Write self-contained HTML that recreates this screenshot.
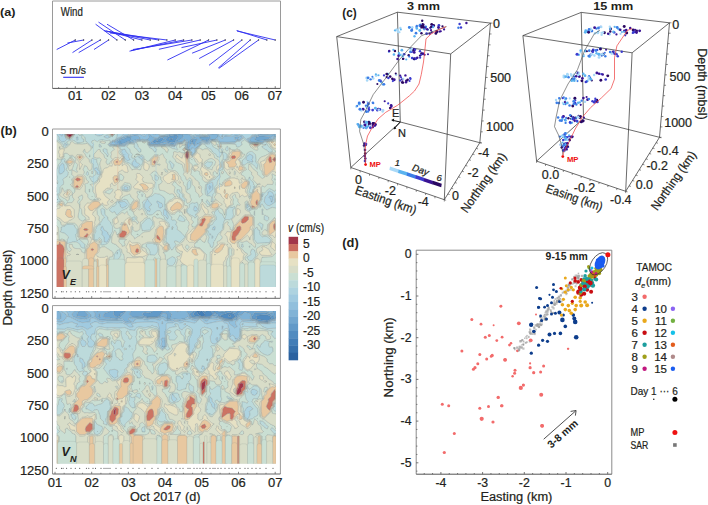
<!DOCTYPE html>
<html><head><meta charset="utf-8"><style>
html,body{margin:0;padding:0;background:#fff;overflow:hidden;width:708px;height:505px;}
svg{display:block;font-family:"Liberation Sans",sans-serif;}
</style></head><body>
<svg width="708" height="505" viewBox="0 0 708 505">
<rect width="708" height="505" fill="#fff"/>
<text x="0" y="16" font-size="11.5" text-anchor="start" font-weight="bold" font-style="normal" fill="#231f20" textLength="15.5" lengthAdjust="spacingAndGlyphs">(a)</text>
<line x1="52.50" y1="1.00" x2="280.50" y2="1.00" stroke="#9a9a9a" stroke-width="1"/>
<line x1="52.50" y1="1.00" x2="52.50" y2="88.40" stroke="#9a9a9a" stroke-width="1"/>
<line x1="280.50" y1="1.00" x2="280.50" y2="88.40" stroke="#9a9a9a" stroke-width="1"/>
<line x1="52.50" y1="88.40" x2="280.50" y2="88.40" stroke="#555" stroke-width="1"/>
<text x="60.8" y="15.5" font-size="12" text-anchor="start" font-weight="normal" font-style="normal" fill="#231f20" stroke="#231f20" stroke-width="0.22" textLength="22" lengthAdjust="spacingAndGlyphs">Wind</text>
<line x1="58.64" y1="88.40" x2="58.64" y2="87.20" stroke="#555" stroke-width="0.8"/>
<line x1="66.97" y1="88.40" x2="66.97" y2="87.20" stroke="#555" stroke-width="0.8"/>
<line x1="75.30" y1="88.40" x2="75.30" y2="86.20" stroke="#555" stroke-width="0.8"/>
<line x1="83.63" y1="88.40" x2="83.63" y2="87.20" stroke="#555" stroke-width="0.8"/>
<line x1="91.96" y1="88.40" x2="91.96" y2="87.20" stroke="#555" stroke-width="0.8"/>
<line x1="100.29" y1="88.40" x2="100.29" y2="87.20" stroke="#555" stroke-width="0.8"/>
<line x1="108.62" y1="88.40" x2="108.62" y2="86.20" stroke="#555" stroke-width="0.8"/>
<line x1="116.95" y1="88.40" x2="116.95" y2="87.20" stroke="#555" stroke-width="0.8"/>
<line x1="125.28" y1="88.40" x2="125.28" y2="87.20" stroke="#555" stroke-width="0.8"/>
<line x1="133.61" y1="88.40" x2="133.61" y2="87.20" stroke="#555" stroke-width="0.8"/>
<line x1="141.94" y1="88.40" x2="141.94" y2="86.20" stroke="#555" stroke-width="0.8"/>
<line x1="150.27" y1="88.40" x2="150.27" y2="87.20" stroke="#555" stroke-width="0.8"/>
<line x1="158.60" y1="88.40" x2="158.60" y2="87.20" stroke="#555" stroke-width="0.8"/>
<line x1="166.93" y1="88.40" x2="166.93" y2="87.20" stroke="#555" stroke-width="0.8"/>
<line x1="175.26" y1="88.40" x2="175.26" y2="86.20" stroke="#555" stroke-width="0.8"/>
<line x1="183.59" y1="88.40" x2="183.59" y2="87.20" stroke="#555" stroke-width="0.8"/>
<line x1="191.92" y1="88.40" x2="191.92" y2="87.20" stroke="#555" stroke-width="0.8"/>
<line x1="200.25" y1="88.40" x2="200.25" y2="87.20" stroke="#555" stroke-width="0.8"/>
<line x1="208.58" y1="88.40" x2="208.58" y2="86.20" stroke="#555" stroke-width="0.8"/>
<line x1="216.91" y1="88.40" x2="216.91" y2="87.20" stroke="#555" stroke-width="0.8"/>
<line x1="225.24" y1="88.40" x2="225.24" y2="87.20" stroke="#555" stroke-width="0.8"/>
<line x1="233.57" y1="88.40" x2="233.57" y2="87.20" stroke="#555" stroke-width="0.8"/>
<line x1="241.90" y1="88.40" x2="241.90" y2="86.20" stroke="#555" stroke-width="0.8"/>
<line x1="250.23" y1="88.40" x2="250.23" y2="87.20" stroke="#555" stroke-width="0.8"/>
<line x1="258.56" y1="88.40" x2="258.56" y2="87.20" stroke="#555" stroke-width="0.8"/>
<line x1="266.89" y1="88.40" x2="266.89" y2="87.20" stroke="#555" stroke-width="0.8"/>
<line x1="275.22" y1="88.40" x2="275.22" y2="86.20" stroke="#555" stroke-width="0.8"/>
<text x="75.3" y="100.3" font-size="13" text-anchor="middle" font-weight="normal" font-style="normal" fill="#231f20" stroke="#231f20" stroke-width="0.22">01</text>
<text x="108.6" y="100.3" font-size="13" text-anchor="middle" font-weight="normal" font-style="normal" fill="#231f20" stroke="#231f20" stroke-width="0.22">02</text>
<text x="141.89999999999998" y="100.3" font-size="13" text-anchor="middle" font-weight="normal" font-style="normal" fill="#231f20" stroke="#231f20" stroke-width="0.22">03</text>
<text x="175.2" y="100.3" font-size="13" text-anchor="middle" font-weight="normal" font-style="normal" fill="#231f20" stroke="#231f20" stroke-width="0.22">04</text>
<text x="208.5" y="100.3" font-size="13" text-anchor="middle" font-weight="normal" font-style="normal" fill="#231f20" stroke="#231f20" stroke-width="0.22">05</text>
<text x="241.8" y="100.3" font-size="13" text-anchor="middle" font-weight="normal" font-style="normal" fill="#231f20" stroke="#231f20" stroke-width="0.22">06</text>
<text x="275.09999999999997" y="100.3" font-size="13" text-anchor="middle" font-weight="normal" font-style="normal" fill="#231f20" stroke="#231f20" stroke-width="0.22">07</text>
<line x1="75.30" y1="40.00" x2="56.70" y2="49.50" stroke="#2f2ff0" stroke-width="0.9"/>
<line x1="83.63" y1="40.00" x2="67.40" y2="43.00" stroke="#2f2ff0" stroke-width="0.9"/>
<line x1="91.96" y1="40.00" x2="72.50" y2="52.60" stroke="#2f2ff0" stroke-width="0.9"/>
<line x1="100.29" y1="40.00" x2="78.70" y2="52.60" stroke="#2f2ff0" stroke-width="0.9"/>
<line x1="108.62" y1="40.00" x2="94.00" y2="49.50" stroke="#2f2ff0" stroke-width="0.9"/>
<line x1="116.95" y1="40.00" x2="95.60" y2="24.20" stroke="#2f2ff0" stroke-width="0.9"/>
<line x1="125.28" y1="40.00" x2="98.50" y2="22.10" stroke="#2f2ff0" stroke-width="0.9"/>
<line x1="133.61" y1="40.00" x2="107.00" y2="24.20" stroke="#2f2ff0" stroke-width="0.9"/>
<line x1="141.94" y1="40.00" x2="104.00" y2="30.50" stroke="#2f2ff0" stroke-width="0.9"/>
<line x1="150.27" y1="40.00" x2="106.00" y2="31.00" stroke="#2f2ff0" stroke-width="0.9"/>
<line x1="158.60" y1="40.00" x2="108.00" y2="31.50" stroke="#2f2ff0" stroke-width="0.9"/>
<line x1="166.93" y1="40.00" x2="110.00" y2="33.00" stroke="#2f2ff0" stroke-width="0.9"/>
<line x1="175.26" y1="40.00" x2="129.50" y2="51.20" stroke="#2f2ff0" stroke-width="0.9"/>
<line x1="183.59" y1="40.00" x2="131.00" y2="50.50" stroke="#2f2ff0" stroke-width="0.9"/>
<line x1="191.92" y1="40.00" x2="133.00" y2="49.50" stroke="#2f2ff0" stroke-width="0.9"/>
<line x1="200.25" y1="40.00" x2="158.90" y2="49.30" stroke="#2f2ff0" stroke-width="0.9"/>
<line x1="208.58" y1="40.00" x2="167.40" y2="60.00" stroke="#2f2ff0" stroke-width="0.9"/>
<line x1="216.91" y1="40.00" x2="181.50" y2="47.60" stroke="#2f2ff0" stroke-width="0.9"/>
<line x1="225.24" y1="40.00" x2="192.10" y2="53.20" stroke="#2f2ff0" stroke-width="0.9"/>
<line x1="233.57" y1="40.00" x2="199.20" y2="58.50" stroke="#2f2ff0" stroke-width="0.9"/>
<line x1="241.90" y1="40.00" x2="209.00" y2="65.30" stroke="#2f2ff0" stroke-width="0.9"/>
<line x1="250.23" y1="40.00" x2="218.20" y2="68.10" stroke="#2f2ff0" stroke-width="0.9"/>
<line x1="258.56" y1="40.00" x2="219.00" y2="68.30" stroke="#2f2ff0" stroke-width="0.9"/>
<line x1="266.89" y1="40.00" x2="236.60" y2="30.50" stroke="#2f2ff0" stroke-width="0.9"/>
<line x1="275.22" y1="40.00" x2="237.00" y2="31.00" stroke="#2f2ff0" stroke-width="0.9"/>
<circle cx="75.30" cy="40.00" r="0.7" fill="#333"/>
<circle cx="83.63" cy="40.00" r="0.7" fill="#333"/>
<circle cx="91.96" cy="40.00" r="0.7" fill="#333"/>
<circle cx="100.29" cy="40.00" r="0.7" fill="#333"/>
<circle cx="108.62" cy="40.00" r="0.7" fill="#333"/>
<circle cx="116.95" cy="40.00" r="0.7" fill="#333"/>
<circle cx="125.28" cy="40.00" r="0.7" fill="#333"/>
<circle cx="133.61" cy="40.00" r="0.7" fill="#333"/>
<circle cx="141.94" cy="40.00" r="0.7" fill="#333"/>
<circle cx="150.27" cy="40.00" r="0.7" fill="#333"/>
<circle cx="158.60" cy="40.00" r="0.7" fill="#333"/>
<circle cx="166.93" cy="40.00" r="0.7" fill="#333"/>
<circle cx="175.26" cy="40.00" r="0.7" fill="#333"/>
<circle cx="183.59" cy="40.00" r="0.7" fill="#333"/>
<circle cx="191.92" cy="40.00" r="0.7" fill="#333"/>
<circle cx="200.25" cy="40.00" r="0.7" fill="#333"/>
<circle cx="208.58" cy="40.00" r="0.7" fill="#333"/>
<circle cx="216.91" cy="40.00" r="0.7" fill="#333"/>
<circle cx="225.24" cy="40.00" r="0.7" fill="#333"/>
<circle cx="233.57" cy="40.00" r="0.7" fill="#333"/>
<circle cx="241.90" cy="40.00" r="0.7" fill="#333"/>
<circle cx="250.23" cy="40.00" r="0.7" fill="#333"/>
<circle cx="258.56" cy="40.00" r="0.7" fill="#333"/>
<circle cx="266.89" cy="40.00" r="0.7" fill="#333"/>
<circle cx="275.22" cy="40.00" r="0.7" fill="#333"/>
<text x="60.6" y="74" font-size="11" text-anchor="start" font-weight="normal" font-style="normal" fill="#231f20" stroke="#231f20" stroke-width="0.22" textLength="25.4" lengthAdjust="spacingAndGlyphs">5 m/s</text>
<line x1="63.20" y1="77.30" x2="83.90" y2="77.30" stroke="#2f2ff0" stroke-width="1.1"/>
<text x="0.5" y="135" font-size="12.5" text-anchor="start" font-weight="bold" font-style="normal" fill="#231f20" textLength="16.3" lengthAdjust="spacingAndGlyphs">(b)</text>
<clipPath id="cpT"><rect x="56.7" y="134.0" width="219.3" height="153.0"/></clipPath>
<clipPath id="cpB"><rect x="56.7" y="311" width="219.3" height="152.5"/></clipPath>
<g clip-path="url(#cpT)">
<path d="M174.7 136.9l0 .4 -.6-.3 .6-.1zM169.7 138.3l2.5 0 .8 1.2 -.8 .4 -2.5-.2 -.4-.2 .4-1.2z" fill="#518bc0" fill-rule="evenodd" stroke="#6e7a78" stroke-width="0.3" stroke-opacity="0.7"/>
<path d="M162.2 137l1.9 2.5 -3.7 2.5 -3.2 .1 -2.5 1.1 -2.5-1 2.5-2.9 1.7 .2 .8 2.1 .9-2.1 4.1-2.5zM169.7 136l7.5-1.4 .9 2.4 -3.4 4.9 -2.5 .8 -5-1.2 -1.8-2 2.2-2.5 2.1-1zM174.1 137l.6 .3 .1-.3 -.7 0zM169.3 139.5l2.9 .4 .8-.4 -.8-1.2 -2.5 0 -.4 1.2zM192.2 139.4l.5 .1 .5 2.5 -1 .4 -1.2-.4 1.2-2.6zM207.2 139.1l0 .6 -.8-.2 .8-.4zM119.7 141.7l1.5 .3 -1.5 .3 -.4-.3 .4-.3z" fill="#6199c8" fill-rule="evenodd" stroke="#6e7a78" stroke-width="0.3" stroke-opacity="0.7"/>
<path d="M172.2 134.3l5-.5 5 .5 .8 .2 .4 2.5 -3 2.5 -3.2 1.8 -2.5 2.3 -2.3 .9 -5.2-1.7 -2.5-.3 -7.2 2 -7.9 0 1.3-2.5 3.8-3.6 2.5 .4 2.5-2.2 7.5-.5 2.5-1.3 2.5-.5zM161.9 137l-3.8 2.5 -.9 2.1 -.8-2.1 -1.7-.2 -2.5 2.9 2.5 1 2.5-1.1 3.2-.1 3.7-2.5 -1.6-2.5 -.6 0zM167.6 137l-2.2 2.5 1.8 2 5 1.2 2.5-.8 3.4-4.9 -.9-2.4 -7.5 1.4 -2.1 1zM127.2 136.8l3.4 .2 .9 2.5 -1.8 1.5 -2.5 .7 -2.5 1.5 -5 1.2 -3.3-2.4 3.8-2.5 4.5-1.2 2.5-1.5zM119.3 142l1.9 0 -1.9 0zM199.7 136.9l7.5-.2 2.5-.8 1 1.1 -1.4 2.5 -2.1 1.7 -6.5-1.7 -1.4-2.5 .4-.1zM206.4 139.5l1 0 -.2-.4 -.8 .4zM257.2 136.9l2.5-1.1 10 .6 .6 .6 -2.1 2.5 -11 1.7 -2.4-1.7 1.2-2.5 1.2-.1zM192.2 138.5l2.5 .1 3 .9 -2.1 2.5 -.3 2.5 -.6 .5 -2.5-1.8 -2.5 1.5 -.3-.2 -.2-2.5 .5-1.3 .7-1.2 1.8-1zM192 139.5l-1 2.5 1.2 .4 1-.4 -.5-2.5 -.7 0z" fill="#71a6cf" fill-rule="evenodd" stroke="#6e7a78" stroke-width="0.3" stroke-opacity="0.7"/>
<path d="M149.7 134.3l.7 .2 2.3 2.5 4.5 .9 2.5-1.9 5-.1 5-2 5-.8 15 1.1 1.3 2.8 1.2 .5 5-1.2 10-.3 2.5-1.8 7.5-.5 .7 .8 .2 2.5 -3.2 2.5 -5.2 .7 -2.5 2.1 -5-1.7 -2.2 1.4 -.3 1.7 -2.5 .3 -2.5 2.2 -2.5-2.2 -.9 .5 -1.6 2.3 -1 .2 1 1.2 0 1.3 -1 0 -1.5-1.2 -.1-3.8 1.1-2.5 -1-1.9 -2.5-.5 -2.5 2.4 -5 .4 -2.5 2.4 -2.5 .3 -2.5-.4 -2.5-1.1 -2.5 1.1 -15 .4 -.6-.6 .6-2.9 -2.8-2.1 2.2-2.5 -1-2.5 1.6-.2zM171.1 134.5l-3.9 1.6 -7.5 .5 -2.5 2.2 -2.5-.4 -3.8 3.6 -1.3 2.5 7.9 0 7.2-2 2.5 .3 5.2 1.7 2.3-.9 2.5-2.3 3.2-1.8 3-2.5 -.4-2.5 -.8-.2 -5-.5 -6.1 .7zM199.3 137l1.4 2.5 6.5 1.7 2.1-1.7 1.4-2.5 -1-1.1 -2.5 .8 -7.9 .3zM190.4 139.5l-1.2 2.5 .2 2.5 .3 .2 2.5-1.5 2.5 1.8 .6-.5 .3-2.5 2.1-2.5 -3-.9 -2.5-.1 -1.8 1zM259.7 134.1l10 .4 5-.4 .7 .4 -.7 2.5 -2.5-.8 -2 3.3 -5.5 .8 -2.5 2 -11.8-.3 -.8-2.5 2.6-2.7 5-1 2.5-1.7zM256 137l-1.2 2.5 2.4 1.7 11-1.7 2.1-2.5 -.6-.6 -10-.6 -3.7 1.2zM124.7 136.6l2.5-.6 2.5 .2 5-1.1 2.5 .2 2.4 1.7 .5 2.5 -2.9 .1 -5 1.3 -1.3 1.1 -3.7 .6 -2.5 2 -5 .4 -3.3-.5 -2.4-2.5 3.9-2.5 6.8-2.9zM126.6 137l-1.9 1.3 -4.5 1.2 -3.8 2.5 3.3 2.4 5-1.2 2.5-1.5 2.5-.7 1.8-1.5 -.9-2.5 -4 0zM234.7 136.9l2.5-.4 1.8 .5 -1.1 2.5 -3.2 .1 0-2.7z" fill="#81b3d6" fill-rule="evenodd" stroke="#6e7a78" stroke-width="0.3" stroke-opacity="0.7"/>
<path d="M132.2 134.1l2.5-.5 6.2 .9 3.8 1.9 2.5-3 2.5-.4 5 1.2 2.5-.7 2.5 1.9 5-.1 2.5-1.4 7.5-1.7 15 1.1 2.5 3.1 5-1.6 7.5 .9 2.5-.4 2.5-1.9 5-.3 2.5-.7 3.2 4.6 1.8 1.8 2.5-2.8 7.5 .4 2.5-1.4 2.5 0 5 1.5 .5 .5 -3 2.9 -2.5 .3 -2.5 1.8 -7.5 .4 -7.5-.2 -1.7-2.7 -.8-.2 -2.5 .7 -2.5 0 -2.5 1 -2.5 2 -5-1.7 -1.1 .7 -.9 2.5 -3 2.9 -2.5 1.6 -2.5-1.4 -.6 1.9 -1.9 .5 -2.8-.5 -.2-5 .6-2.5 -2.6-1.8 -2.5 2.3 -5 .5 -2.5 2.5 -5-.2 -2.5-.8 -2.5 .6 -15 .5 -1-1.1 .5-2.5 -2-1.9 -5-.7 -2.5 .8 -2.5-.1 -3.5 1.9 -6.5 1.4 -2.5 1.9 -5 .2 -9.4-1 1.9-2.6 2.5-.7 2.5-2.3 5-1.9 2.5-1.7 5 .1 2.5-1.3zM148.1 134.5l1 2.5 -2.2 2.5 2.8 2.1 -.6 2.9 .6 .6 15-.4 2.5-1.1 2.5 1.1 2.5 .4 2.5-.3 2.5-2.4 5-.4 2.5-2.4 2.5 .5 1 1.9 -1.1 2.5 .1 3.8 1.5 1.2 1 0 0-1.3 -1-1.2 1-.2 1.6-2.3 .9-.5 2.5 2.2 2.5-2.2 2.5-.3 .3-1.7 2.2-1.4 5 1.7 2.5-2.1 5.2-.7 3.2-2.5 -.2-2.5 -.7-.8 -7.5 .5 -2.5 1.8 -10 .3 -5 1.2 -1.2-.5 -1.3-2.8 -12.5-1.1 -2.5 0 -5 .8 -5 2 -5 .1 -2.5 1.9 -4.5-.9 -2.3-2.5 -2.3 0zM124.1 137l-6.2 2.5 -3.9 2.5 2.4 2.5 3.3 .5 5-.4 2.5-2 3.7-.6 1.3-1.1 5-1.3 2.9-.1 -.5-2.5 -2.4-1.7 -2.5-.2 -5 1.1 -2.5-.2 -3.1 1zM234.5 137l.1 2.5 2.6 .1 .7-.1 1.1-2.5 -1.8-.5 -2.7 .5zM197.2 132l.5 0 -.5 1 -.4-1 .4 0zM259.7 133.3l7.5 .4 7.5-.5 2 1.3 -.9 2.5 -3.6 1.6 -.7 .9 -6.8 1.5 -2.5 1.8 -12.5-.3 -.6-.5 -.9-2.5 1.5-1 2.5-2.8 5-.9 2.5-1.5zM259 134.5l-1.8 1.3 -5 1 -2.6 2.7 .8 2.5 11.8 .3 2.5-2 5.5-.8 2-3.3 2.5 .8 .7-2.5 -.7-.4 -5 .4 -10-.4 -.7 .4z" fill="#91bfdc" fill-rule="evenodd" stroke="#6e7a78" stroke-width="0.3" stroke-opacity="0.7"/>
<path d="M59.7 132l4.3 0 -1.8 4.3 -2.9-1.8 -.2-2.5 .6 0zM122.2 132l5.8 0 .3 2.5 1.4 .2 2.5-2.3 2.5 0 10 1.6 2.5-1.8 1.1-.2 6.4 .7 2.5-.6 2 2.4 3 .3 2.5-.2 2.5-2 3.7-.6 16.5 0 2.3 .5 2.5 2.7 3-.7 -.6-2.5 2.2 0 .4 1 .5-1 2.5 0 -.3 2.5 4.8 .7 2.5-.6 2.5-2.1 13.4-.5 -.4 2.5 7 .9 2.2-.9 -.1-2.5 6.5 0 1 2.5 2.9 .6 1.8 1.9 -4.3 3.7 -2.5 .2 -2.5 1.9 -15-.2 -2.5-2.4 -5 .2 -5 3.3 -5-1.7 -1.4 2.5 -5.6 5 -.1 2.5 -2.9 3.1 -.4-.6 .1-2.5 -2.2-1.6 -3.1-.9 -.6-2.5 .5-5 -1.8-1.3 -2.5 2.3 -5 .6 -2.5 2.6 -5-.4 -2.5-.6 -17.5 .9 -1.5-1.6 .4-2.5 -1.4-1.4 -5-.5 -2.5 .6 -2.5-.1 -2.5 2.1 -5 .5 -2.5 .9 -2.5 1.8 -5 .2 -5-.9 -5-.1 -.6-.6 3.1-3.4 2.5-.5 2.5-2.7 3.5-.9 2.1-2.5 -.9-2.5 .3 0zM131.8 134.5l-2.1 .9 -5-.1 -2.5 1.7 -5 1.9 -2.5 2.3 -2.5 .7 -1.9 2.6 9.4 1 5-.2 2.5-1.9 6.5-1.4 3.5-1.9 2.5 .1 2.5-.8 5 .7 2 1.9 -.5 2.5 1 1.1 15-.5 2.5-.6 2.5 .8 5 .2 2.5-2.5 5-.5 2.5-2.3 2.6 1.8 -.6 2.5 .2 5 2.8 .5 1.9-.5 .6-1.9 2.5 1.4 2.5-1.6 3-2.9 .9-2.5 1.1-.7 5 1.7 2.5-2 2.5-1 2.5 0 2.5-.7 .8 .2 1.7 2.7 7.5 .2 7.5-.4 2.5-1.8 2.5-.3 3-2.9 -.5-.5 -5-1.5 -2.5 0 -2.5 1.4 -7.5-.4 -2.5 2.8 -1.8-1.8 -3.2-4.6 -2.5 .7 -5 .3 -2.5 1.9 -2.5 .4 -7.5-.9 -5 1.6 -2.5-3.1 -15-1.1 -7.5 1.7 -2.5 1.4 -5 .1 -2.5-1.9 -2.5 .7 -5-1.2 -2.5 .4 -2.5 3 -2.5-1.6 -5-.9 -2.5-.3 -2.9 .9zM222 137l.4 0 -.2-1.7 -.2 1.7zM257.2 132.6l10 .3 12.5-.9 -.8 2.5 -2 2.5 -4.7 2.7 -7.5 1.9 -2.5 1.7 -5-.7 -7.5 .4 -2.9-3.5 .4-.9 2.5-1 2.5-2.9 3.1-.2 1.9-1.9zM257.6 134.5l-2.9 1 -2.5 .2 -2.5 2.8 -1.5 1 .9 2.5 .6 .5 12.5 .3 2.5-1.8 6.8-1.5 .7-.9 3.6-1.6 .9-2.5 -2-1.3 -7.5 .5 -7.5-.4 -2.1 1.2zM124.7 154.5l0 .3 0-.3zM209.7 185.3l1.6 1.7 -1.6 2.6 -1.2-2.6 1.2-1.7zM269.7 196.1l2.5-.1 .5 1 .2 2.5 -.7 2.7 -1.2-.2 -.4-2.5 -2-2.5 1.1-.9z" fill="#a0cae0" fill-rule="evenodd" stroke="#6e7a78" stroke-width="0.3" stroke-opacity="0.7"/>
<path d="M57.2 132l1.9 0 .2 2.5 2.9 1.8 1.8-4.3 2.6 0 -1.7 2.5 .3 2.5 1.7 2.5 -2.2 1.9 -1.2 .6 -1.5 0 -3.1-2.5 -.1-2.5 -2.1-2.5 .5-2.5zM94.7 132l8.7 0 -.4 2.5 -.8 .8 -2.5 .6 -2.5-.1 -2.1-1.3 -.8-2.5 .4 0zM117.2 133.6l.3-1.6 4.4 0 .9 2.5 -2.1 2.5 -3.5 .9 -2.5 2.7 -2.5 .5 -3.1 3.4 .6 .6 5 .1 5 .9 5-.2 2.5-1.8 2.5-.9 5-.5 2.5-2.1 2.5 .1 2.5-.6 5 .5 1.4 1.4 -.4 2.5 1.5 1.6 17.5-.9 2.5 .6 5 .4 2.5-2.6 5-.6 2.5-2.3 1.8 1.3 -.5 5 .6 2.5 3.1 .9 2.2 1.6 -.1 2.5 .4 .6 2.9-3.1 .1-2.5 5.6-5 1.4-2.5 5 1.7 5-3.3 5-.2 2.5 2.4 15 .2 2.5-1.9 2.5-.2 4.3-3.7 -1.8-1.9 -2.9-.6 -1-2.5 38.1 0 -9.2 .9 -10-.3 -1.9 1.9 -3.1 .2 -2.5 2.9 -2.5 1 -.4 .9 2.9 3.5 7.5-.4 5 .7 2.5-1.7 7.5-1.9 4.7-2.7 2-2.5 .8-2.3 0 6.5 -5 .2 -2.5 1.2 -7.2 1.9 -2.8 1.9 -5-1 -7.5 .6 -4-4 -1-1.6 -2.5 1.2 -2.5 2.3 -2.5 .1 -2.5 2.1 -12.5 0 -2.5-.5 -2.5-2.1 -5-.2 -2 1.2 -.5 2.1 -2.5 .3 -5-1.3 -.7 1.4 -5.6 5 -.2 2.5 -3.5 3.7 -.9-1.2 0-2.5 -1.6-1.2 -2.5-.6 -.9-.7 -.8-2.5 .2-5 -1-.7 -2.5 2.2 -2.5 0 -2.5 .6 -2.5 2.8 -7.5-1 -17.5 .7 -1.9-2.1 .2-2.5 -.8-.8 -5-.5 -5 .5 -2.5 2.5 -5-.1 -5 2.9 -5 .1 -5-.9 -5 .2 -1.3-1.4 3.8-4.2 2.5-.3 .5-.5 1.5-2.5 .5-3.4zM129.7 132l18.6 0 -1.1 .2 -2.5 1.8 -10-1.6 -2.5 0 -2 2.1 -1.9 0 -.3-2.5 1.7 0zM152.2 132l18.7 0 -3.7 .6 -2.5 2 -2.5 .2 -3-.3 -2-2.4 -2.5 .6 -4-.7 1.5 0zM179.7 132l1.6 0 -2.4 0 .8 0zM189.7 132l4.9 0 .6 2.5 -3 .7 -2.5-2.7 -2.3-.5 2.3 0zM202 134.5l3.3 0 1.9-2.5 8.2 0 -5.7 .5 -2.5 2.1 -2.5 .6 -4.8-.7 .3-2.5 1.6 0 .2 2.5zM224.7 132l7.1 0 .1 2.5 -2.2 .9 -7-.9 .4-2.5 1.6 0zM77.2 136.5l.8 .5 .2 2.5 -1 1 -.8-1 0-2.5 .8-.5zM104.7 136.1l2.5-1.3 2.5 2 1 .2 -3.5 1.5 -3.4-1.5 .9-.9zM222.2 135.3l0 1.9 0-1.9zM64.7 142.8l2.7 1.7 -2.7 1.1 -.3-1.1 .3-1.7zM124.7 149.1l.6 .4 1.1 2.5 2.5 2.5 -.4 2.5 1.6 2.5 -.4 .6 -2.5 .8 -2.5-2.4 -1.5-4 -1.8-2.5 .8-2.5 2.5-.4zM124.7 154.5l0 .3 0-.3zM249.7 154.1l2.5 1 1.1 1.9 -1.1 2.5 .8 2.5 -.8 .3 -5-1.6 -1-1.2 .2-2.5 .8-1.2 2.5-1.7zM139.7 156.6l2.5-.2 .5 .6 -.5 3.5 -.5-1 -3.4-2.5 1.4-.4zM134.7 159.3l1.1 .2 .3 2.5 3.6 1.9 .2 .6 -2.7 2.8 -2.5-.2 -2.8-2.6 .3-2.3 2.5-2.9zM62.2 162.9l1.9 1.6 .6 5.4 -.8 2.1 -1.7 1.4 -2.5 1 -1-2.4 .3-5 3.2-4.1zM94.7 168l2.5-.5 .5 2 2.4 2.5 -.4 2.8 -2.5-.5 -.3-2.3 -2.4-2.5 .2-1.5zM212.2 181.9l1.1 5.1 -.2 2.5 -5.2 5 -.7 .2 -.1-2.7 -.7-2.5 .3-5 5.5-2.6zM208.5 187l1.2 2.6 1.6-2.6 -1.6-1.7 -1.2 1.7zM56.1 187l.6 2.5 -.2 2.5 -1.8 1.1 0-7.1 1.4 1zM124.7 186.3l3 .7 .2 2.5 -.7 .4 -3.4-.4 .1-2.5 .8-.7zM254.7 186.7l0 .4 -1.7-.1 1.7-.3zM269.7 191l2.4 1 1.8 2.5 .2 2.5 .8 2.5 -.2 3 -5 3.2 -2.5-.4 -3.1-3.3 .8-5 2.7-2.5 .3-2.5 1.8-1zM268.6 197l2 2.5 .4 2.5 1.2 .2 .7-2.7 -.7-3.5 -2.5 .1 -1.1 .9zM57.2 193.6l0 1.8 -.4-.9 .4-.9zM262.2 194l1.4 .5 -1.4 2.5 0-3zM147.2 199.4l.8 .1 1.7 2.9 2.3 2.1 -3 2.5 1.5 2.5 -.8 2.2 -2.5-1 -3-3.7 .5-3.9 2.5-3.7zM119.7 201.8l5-.4 3 3.1 -2.4 2.5 -3.1 1.1 -1.6-1.1 -.7-2.5 -1.9-2.5 1.7-.2zM157.2 200.8l5 2.8 .5 .9 -.1 2.5 -.4 .4 -2.5 .9 -1.3-1.3 .1-2.5 -2.2-2.5 .9-1.2zM247.2 203.8l1.6 3.2 -1.6 1.1 -.5-1.1 .1-2.5 .4-.7zM194.7 205.8l2.5 2 .5 1.7 -.5 1.1 -2.5 .7 -1.3-1.8 1.3-3.7zM164.7 208.6l2.5 3.4 0 2.5 1.5 2.5 -1.5 2.3 -.9-2.3 -3-2.5 .4-5 1-.9zM249.7 208l.8 1.5 -.8 .6 -1-.6 1-1.5zM99.7 224.4l.9 .1 -.9 .9 0-1zM102.2 225.9l.9 1.1 .7 2.5 3.8 2.5 .8 2.5 1.3 1.1 .4 1.4 -2.9 5.4 -2.9-.4 -.3-5 -2.3-2.5 .5-2.5 -1.7-2.5 .6-2.5 1.1-1.1zM214.7 226.2l.7 .8 -.7 3.1 -2.5-.5 .9-2.6 1.6-.8zM209.7 233.2l1.4 1.3 -1.4 .6 -.4-.6 .4-1.3zM212.2 235.5l1.2 1.5 -1.2 1.6 -.7-1.6 .7-1.5zM117.2 251.9l.3 .1 -.3 2.2 0-2.3z" fill="#aed3e0" fill-rule="evenodd" stroke="#6e7a78" stroke-width="0.3" stroke-opacity="0.7"/>
<path d="M56.7 134.5l2.1 2.5 .1 2.5 3.3 2.7 2.5-.8 2.2-1.9 -1.7-2.5 -.3-2.5 1.7-2.5 11.6 0 .4 2.5 1.1 .8 2.2-.8 -.2-2.5 6.8 0 1.2 1.6 1.2-1.6 3.4 0 .8 2.5 2.1 1.3 2.5 .1 2.5-.6 .8-.8 .4-2.5 6.2 0 -1.3 2.5 1.4 1.2 2.5 1 2.2-2.2 -2.2-2.5 -1.8 0 7.1 0 -.8 5 -1.5 2.5 -.5 .5 -2.5 .3 -3.8 4.2 1.3 1.4 5-.2 5 .9 5-.1 5-2.9 5 .1 2.5-2.5 5-.5 5 .5 .8 .8 -.2 2.5 1.9 2.1 17.5-.7 7.5 1 2.5-2.8 2.5-.6 2.5 0 2.5-2.2 1 .7 -.2 5 .8 2.5 .9 .7 2.5 .6 1.6 1.2 0 2.5 .9 1.2 3.5-3.7 .2-2.5 5.6-5 .7-1.4 5 1.3 2.5-.3 .5-2.1 2-1.2 5 .2 2.5 2.1 2.5 .5 12.5 0 2.5-2.1 2.5-.1 2.5-2.3 2.5-1.2 1 1.6 4 4 7.5-.6 5 1 2.8-1.9 7.2-1.9 2.5-1.2 5-.2 0 1.7 -2.5 0 -2.5-.9 -2.5 1.1 -6.1 1.4 2.9 5 3.4 2.5 0 2.5 -2.7 .4 -1.5-.4 -1-1.7 -2.1-.8 -3.4-2.5 .5-.8 4-1.7 -4-.1 -5-1.3 -7.5 .9 -5-4 -3.4 2 .9 2.8 -3.1 2.2 -1.9 .2 -.6-.2 -.8-2.5 -6.1-.4 -7.5 .2 -2.5-.8 -2.5-1.8 -5-.5 -1.3 .8 2.6 5 5 2.5 1.2 2.7 2.4-.2 -1.1-2.5 1.2-1.2 1.2 1.2 -1.2 2.5 2.5 .3 2.5 1.9 0 3.1 -1.4 2.2 -1.1 .5 -2-.5 .6-2.5 -1.1-5 -.5 2.5 -1.4 2.5 -.6 .4 -2.5-.4 -1.3-2.5 -3.5-2.5 -1.3-2.5 -4.8-2.5 -1.6-2.5 -2.5-.2 -5.7 5.2 -.3 2.5 -4 4.4 -1.4-1.9 -.1-2.5 -4.7-2.5 -1-2.5 .2-2.5 -.5-2.6 -2.5 2.1 -2.5-.1 -2 .6 -1.3 2.5 1.5 2.5 -.7 .6 -2.5-1.1 -2.5-.5 -2.7-1.5 -2.3-.4 -2.5-.3 -10.5 .7 2.6 2.5 -1.2 2.5 -.9 .4 -2.5-3.5 -2.5-.9 -2.3-3.5 -.2-2.7 -2.5-.4 -7.5 .3 -.4 .3 .4 2.1 .7 .4 .6 2.5 2.6 2.5 -.1 2.5 -1.3 .5 -1-.5 -1.9-2.5 -2.1-1.7 -.7-.8 .3-2.5 -4.6-.4 -.9 .4 -1.9 2.5 3.3 2.5 .2 2.5 2.2 2.5 -1 2.5 .6 .9 2.5 .3 2.5-2.2 5-1.4 2.1 2.4 -2.1 7 -3 3 -2 1.3 -2.5-.1 -5-4.7 -3.9-1.5 -1.1-1.4 -1-3.6 -3.6-5 .9-2.5 -1.6-2.5 -4.7-.9 -5 .6 -2-2.2 2.5-2.5 -.5-1.8 -2.5 .5 -5-.8 -2.5 .3 -2.5 1.6 -2.5-1.6 -2.5 .7 -.7 1.1 2.1 2.5 -1.4 3.9 -.3-1.4 -2.2-2.4 -2.5-2.3 -1.3-.3 -1.3-5 -2.4-1.9 -.5 1.9 .5 1.5 1.8 1 -.2 2.5 -4.1 1.1 -2.5-.2 -2.5-1.8 -2.5-.9 -2.5 .4 -2.9 1.4 1.8 2.5 -3.9 3.2 -1-.7 -.7-2.5 -.8-.8 -5-3.4 -2.5-.1 .2-8.2 2.1 0 -.3 2.5zM65.2 134.5l.5 2.5 1.5 1.8 2.5 .5 2.5-1.1 2.2-3.7 -2.2-2.4 -2.5-.1 -2.5 .3 -2 2.2zM76.4 137l0 2.5 .8 1 1-1 -.2-2.5 -.8-.5 -.8 .5zM103.8 137l3.4 1.5 3.5-1.5 -1-.2 -2.5-2 -2.5 1.3 -.9 .9zM64.4 144.5l.3 1.1 2.7-1.1 -2.7-1.7 -.3 1.7zM122.3 149.5l-.9 2.5 1.8 2.5 1.5 4 2.5 2.4 2.5-.8 .4-.6 -1.6-2.5 .4-2.5 -2.5-2.5 -1.1-2.5 -.6-.4 -2.4 .4zM138.3 157l3.4 2.5 .5 1 .5-3.5 -.5-.6 -3.9 .6zM134.2 159.5l-2 2.7 -.3 2.3 2.8 2.6 2.5 .2 2.7-2.8 -.2-.6 -3.6-1.9 -.3-2.5 -1.6 0zM139.7 132l3.7 0 -4.7 0 1 0zM202.2 132l5 0 -1.9 2.5 -.6 .1 -2.7-.1 -.2-2.5 .4 0zM264.7 132l3.8 0 -4.5 0 .7 0zM99.7 144.1l.7 .4 1.3 2.5 -2 .4 -.5-.4 -.2-2.5 .7-.4zM227.2 145.9l.9 1.1 .3 2.5 -1.2 1.9 -2.2-1.9 2.2-3.6zM104.7 148.4l2.6 1.1 0 2.5 1.4 2.5 -1.5 2.6 -.7-2.6 -2.9-2.5 -.9-2.5 2-1.1zM249.7 151.5l2.5-.1 3.3 3.1 .7 5 -.3 2.5 2.2 2.5 -.9 4.9 -1.7-2.4 -2.8-2.5 -3-1.5 -2.5 .1 -2.5 2 -2.5-.7 0-4.3 2.5-1.6 2.5-5.6 2.5-1.4zM249.2 154.5l-2 1.3 -.8 1.2 -.2 2.5 1 1.2 5 1.6 .8-.3 -.8-2.5 1.1-2.5 -1.1-1.9 -2.5-1 -.5 .4zM277.2 154.3l1.2 2.7 -1.2 1 0-3.7zM69.7 157l2.5-.3 .4 .3 -2.9 0zM89.7 154.7l.4 2.3 -.4 .3 -.3-.3 .3-2.3zM62.2 159l2.5-.6 .7 1.1 -.9 2.5 2.7 2.5 .4 2.5 -1.2 2.5 .8 1.5 1.2 1 -.2 2.5 -1.6 2.5 -1.9 .8 -1.6 1.7 .6 2.5 -.2 2.5 -1.3 .6 -2 1.9 0 5 -1.8 2.5 .2 2.5 1.1 2.2 1.1 .3 -1 2.5 -5.1 .9 0-9.8 1.8-1.1 .2-2.5 -.6-2.5 -1.4-1 0-4.9 2.1 .9 .4 2 .6-2 -1.2-2.5 .4-2.5 -.6-2.5 .2-5 1.9-5 2.3-2.5 .3-2.5 1.1-.5zM60.9 164.5l-1.9 2.5 -.3 5 1 2.4 2.5-1 1.7-1.4 .8-2.1 -.6-5.4 -1.9-1.6 -1.3 1.6zM56.8 194.5l.4 .9 0-1.8 -.4 .9zM57 199.5l.9 0 -.9 0zM92.2 158.2l4.6 1.3 .1 2.5 1.2 2.5 1.2 5 1.6 2.5 -.4 2.5 -2.1 2.5 -.5 2.5 -.7 1.2 -2.5 1.8 -2.6-.5 -3-5 .6-1.1 2.5 1 3.5-2.4 -.1-2.5 -2.4-2.5 .3-5 -2.5-2.5 .1-2.5 1.1-1.3zM94.5 169.5l2.4 2.5 .5 2.5 2.3 .3 .4-2.8 -2.4-2.5 -.5-2 -2.5 .5 -.2 1.5zM192.2 159.4l0 .6 -.7-.5 .7-.1zM279.7 158.4l0 3.7 -.9-2.6 .9-1.1zM169.7 160.6l4.6 3.9 -.7 2.5 -1.4 2.2 -1.3-2.2 -.4-2.5 -1.8-2.5 1-1.4zM207.2 161.6l2.5 .3 2.5-.2 .4 .3 -.3 2.5 -2.6 3 -2.5 .1 -2.7-3.1 2.7-2.9zM222.2 159.8l.7 2.2 0 7.5 -3.2 1.5 -.1-1.5 2-2.5 -.7-5 1.3-2.2zM87.2 171.3l1 .7 .6 2.5 -1.6 1.1 -1.1-1.1 .6-2.5 .5-.7zM154.7 174.5l4.1 2.5 -.4 2.5 -1.2 1.2 -2.5-1.2 0-5zM219.7 172.6l.8 4.4 -2 2.5 -1.1 2.5 -.1 2.5 -2.5 2.5 -.1 5.6 -1.6 1.9 -.6 2.5 .6 2.5 -.7 2.5 -1.5 0 .8-5 -2-1.1 -2.5 .1 -1.8-1.5 -.4-5 .6-5 6.6-4.7 2.5-.5 2.5-3.2 2.1-1.6 .4-1.9zM211.8 182l-5.1 2.5 -.3 5 .7 2.5 .1 2.7 .7-.2 5.2-5 -.1-5 -.5-2.5 -.7 0zM69.7 176.7l0 .8 -.7-.5 .7-.3zM249.7 176.7l.6 2.8 2.9 2.5 .6 2.5 1.9 2.5 -2.8 2.5 -.3 2.5 -2.9 1.4 -.9-1.4 1.6-5 -1.1-2.5 .2-2.5 -1.4-2.5 1.6-2.8zM253 187l1.9 0 -1.9 0zM274.7 178.4l1 1.1 -1 .7 -.5-.7 .5-1.1zM189.7 179.9l1.3 2.1 -.2 5 -1.1 1.5 -2.5 1.6 -.2-5.6 .7-2.5 2-2.1zM277.2 180.6l1.7 1.4 -.2 2.5 1 1.2 0 8.6 -2.5-1.8 -1.6 2 -.3 2.5 .7 5 1.2 1.8 1.3 .7 1.2 2.9 -2.5 1.6 -2.5-1.2 -2.5-.4 -5 2.4 -1.3-.3 -1.2-1.2 -2.5-4.3 -1 .5 -.3 2.5 -1.2 .9 0-4.3 2.1-4.1 -.4-5 .8-2 2.5 .4 2.5-3 2.5-1.5 5 2.8 1.5-1.7 .9-2.5 -1.4-2.5 .4-2.5 1.1-1.4zM267.9 192l-.3 2.5 -2.7 2.5 -.8 5 3.1 3.3 2.5 .4 5-3.2 .2-3 -.8-2.5 -.2-2.5 -1.7-2.4 -2.5-1.1 -1.8 1zM262 194.5l.2 2.5 1.4-2.5 -1.4-.5 -.2 .5zM124.7 184.4l5 1.7 .4 .9 -.5 2.5 -2.4 1.3 -2.5-.1 -2.8-1.2 0-2.5 2.8-2.6zM123.9 187l-.1 2.5 3.4 .4 .7-.4 -.2-2.5 -.5-.3 -2.5-.4 -.8 .7zM89.7 188.9l0 3.4 -.4-.3 -.1-2.5 .5-.6zM177.2 189.4l2.5 .3 .3 2.3 2.7 2.5 .1 2.5 2.5 2.5 -.6 2.3 -5.6-4.8 -.1-2.5 -2.3-2.5 .5-2.6zM139.7 191.8l.7 .2 -.7 .8 -.5-.8 .5-.2zM142.2 193.7l.7 .8 -.7 2.3 -.9-2.3 .9-.8zM154.7 193.4l5 .8 4.2 2.8 1.4 2.5 -.4 2.5 .2 5 .7 2.5 2.3 2.5 1.6 3.1 2.3 1.9 -.6 2.5 .8 .4 2.5-.1 2.2 2.2 -.9 2.5 1.6 2.5 -.3 2.5 3.7 2.5 1.9 2.5 1.8 1.3 0 1.5 -5 5.2 -2.1-.5 -.4-.7 -2.5-.3 -.3 1 1.8 2.5 -4 5.7 -1.2-.7 -1.3-2.7 -.5-2.3 -2-2.1 -1.6-.4 1-7.5 0-5 2.8-2.5 0-2.5 -1.7-2.5 -3.1-2.5 -.5-2.5 -2.7-2.5 -.2-2.5 -1.5-1.3 -2.5 0 -5 4.1 -2.5 .3 -2.4-.6 -.9-2.5 -3.5-5 0-2.5 -.6-2.5 7.4-5.3 2.5-.9 2.5-2.4zM147 199.5l-2.3 3.6 -.5 3.9 3 3.7 2.5 1 .8-2.2 -1.5-2.5 3-2.5 -2.3-2.1 -1.7-2.9 -1 0zM156.3 202l2.2 2.5 -.1 2.5 1.3 1.3 2.9-1.3 .1-2.5 -.5-.9 -5-2.8 -.9 1.2zM163.7 209.5l-.4 5 3 2.5 .9 2.3 1.5-2.3 -1.5-2.5 0-2.5 -2.5-3.4 -1 .9zM171.9 227l.3 2.5 .9-2.5 -.9-.3 -.3 .3zM92.2 196.2l0 .9 0-.9zM249.7 195.6l0 1.9 -.5-.5 .5-1.4zM94.7 198.8l.8 .7 -2 0 1.2-.7zM124.7 199.1l2.5 .7 2.7 4.7 -2.7 3.9 -5 2.2 -5 4.1 -1.1-.2 -1.4-2.7 -2.5 .9 -2.5-1.9 -.3-1.3 2.8-2.9 2.5-.8 1-1.3 .6-2.5 .9-.8 2.5-.1 5-2zM118 202l1.9 2.5 .7 2.5 1.6 1.1 3.1-1.1 2.4-2.5 -3-3.1 -6.7 .6zM207.2 199.5l1.5 2.5 1 .5 .4 2 -.4 .6 -1.4-.6 -1.1-1.6 -1.3-.9 1.3-2.5zM189.7 204.2l2.5-1.6 2.5 .4 2.5-.9 1 2.4 .7 5 -1 2.5 -2.4 2.5 1.2 2.5 -2 1.2 -.2-1.2 -4.8-2.4 -2.8-2.6 .1-2.5 2.4-2.5 -.3-2.5 .6-.3zM194 207l-.6 2.5 1.3 1.8 2.5-.7 .5-1.1 -.5-1.7 -2.5-2 -.7 1.2zM247.2 202.4l4.7 7.1 -2.2 1.6 -2.8-1.6 -1.1-2.5 .1-2.5 1.3-2.1zM246.8 204.5l-.1 2.5 .5 1.1 1.6-1.1 -1.6-3.2 -.4 .7zM248.7 209.5l1 .6 .8-.6 -.8-1.5 -1 1.5zM229.7 206.9l1.8 .1 .7 .7 .3-.7 2.2-.7 .4 .7 -.4 1.5 -1.7 1 .5 5 -.3 2.5 -3.5 3 -2.5-.5 -2.5 .4 -1.6 4.6 0 2.5 -.7 2.5 -4.4 5 -3.3 6.6 -1 .9 0 2.5 -.8 2.5 -.7 .8 -1.7-.8 -.8-2.5 -2-2.5 1.3-5 -1.8-2.5 1.1-2.5 -1.2-2.5 2.3-2.5 .3-2 2.6-.5 1.2-2.5 2.5-2.5 .1-2.5 -1.5-2.5 -.2-2.5 2.7-2.5 1.1 0 1.5 3.2 2.5 1.2 2.5 5 1.4-4.4 .5-5 3.1-2.6zM213.1 227l-.9 2.5 2.5 .6 .7-3.1 -.7-.8 -1.6 .8zM209.3 234.5l.4 .6 1.4-.6 -1.4-1.3 -.4 1.3zM211.5 237l.7 1.6 1.2-1.6 -1.2-1.5 -.7 1.5zM102.2 208.2l2.7 1.3 .2 5 2.8 2.5 .1 2.5 2.7 2.5 .7 2.5 .8 .8 .5 1.7 0 2.5 -.2 2.5 -1.5 2.5 .1 2.5 -2.2 5 -1.7 1.8 -2.5 1 -2.5 .4 -1.8-.7 1.4-2.5 -.4-2.5 -1.7-1.7 -2.5 2.4 -3.1-.7 -.1-5 1.7-2.5 -.2-2.5 1.1-2.5 4.5-5 1.1-2.4 2.1-2.6 -2.7-2.5 -1.1-5 1.7-1.3zM99.6 224.5l.1 .9 .9-.9 -1 0zM101.1 227l-.6 2.5 1.7 2.5 -.5 2.5 2.3 2.5 .3 5 2.9 .4 2.9-5.4 -.4-1.4 -1.3-1.1 -.8-2.5 -3.8-2.5 -.7-2.5 -.9-1.1 -1.1 1.1zM129.7 209.3l0 1 -.3-.8 .3-.2zM262.2 208.8l1.2 .7 -1 2.5 1.2 2.5 -1.4 .3 -.5-5.3 .5-.7zM179.7 212l0 .7 0-.7zM254.7 210.6l0 5 -.7-1.1 .1-2.5 .6-1.4zM134.7 216.6l.5 .4 .3 2.5 -.8 .8 -2.5-.5 0-2.3 .5-.5 2-.4zM179.7 215l2.5 1.4 2.5 2.3 .4 .8 -.4 1.9 -2.5 .2 -2.5-.6 -2.4-1.5 2.4-4.5zM264.7 215.1l4 1.9 0 2.5 -1.5 1.6 -3-1.6 -.1-2.5 .6-1.9zM147.2 218.5l2.5-.6 3.3 4.1 .1 2.5 -1.8 2.5 -.8 2.5 -.8 .7 -7.5 .5 -1-3.7 .1-2.5 4.4-5 1.5-1zM279.7 220.7l0 8.9 -.1-2.6 -2.4-2.5 .2-2.5 2.3-1.3zM67.2 224.1l5.9 .4 1.6 .8 .3 1.7 2.2 2.5 0 3.5 -1.2 1.5 .2 2.5 1 3.8 1.3-1.3 1.5 0 2.2 2.5 2.5 1.9 .5 .6 -.5 4 -2.5-.5 -1.4-1 -.9-2.5 -2.7-2.2 -2.5-.4 -2.5 .3 -5 1.6 0-4.3 1.5-2.5 -4-3.6 -4.5-1.4 1-2.5 -.1-2.5 3.6-1 2.5-1.9zM259.7 222.4l3.6 2.1 -1.1 5.1 -1-.1 -.5-2.5 -3-2.5 2-2.1zM254.7 228.5l2.5-1.5 .7 2.5 1.8 .8 .6 4.2 1.9 2.3 2.5-.5 2.5 .2 2.5 1.9 .9 1.1 -.4 2.5 -.5 .7 -12.5 .7 -3.2-3.9 0-10 .7-1zM137.2 234l1.1 .5 -1.1 .2 0-.7zM197.2 242l.3 0 -.3 .3 0-.3zM147.2 243.6l5-.2 4.5 1.1 .9 2.5 0 5 -2.9 3.3 -5-.4 .2-2.9 -.7-2.5 -2.9-2.5 -.2-2.5 1.1-.9zM242.2 244l.9 .5 .3 2.5 -1.2 .5 -.8-.5 -.1-2.5 .9-.5zM249.7 245.7l.5 1.3 -.5 .6 -.8-.6 .8-1.3zM279.7 244.9l0 3.4 -.8-1.3 .8-2.1zM119.7 249.4l1.4 5.1 -1 2.5 -2.9 3.5 -2.5 .1 -1.1-1.1 .5-5 3.1-4.3 2.5-.8zM117.2 252l0 2.2 .3-2.2 -.3 0zM252.2 248.9l2.5 1.1 1.3 4.5 -.7 2.5 -3.1 3.8 -2.5 .3 -1.7-1.6 -1.3-2.5 4.2-2.5 -.5-2.5 1.1-2.5 .7-.6zM279.7 251.4l0 1 0-1zM172.2 256.4l2.5 1.2 1.2 1.9 -.5 2.5 -.7 1.5 -2.5 2.3 -2.5 0 -2.5-1.4 -.6-2.4 .6-2.5 5-3.1zM262.2 265.6l15 0 2.5 .7 0 23.2 -18.3 0 0-22.5 .8-1.4z" fill="#bcdadb" fill-rule="evenodd" stroke="#6e7a78" stroke-width="0.3" stroke-opacity="0.7"/>
<path d="M54.7 133l0-1 .2 0zM67.2 132.3l5-.2 2.2 2.4 -2.2 3.7 -2.5 1.1 -2.5-.5 -1.5-1.8 -.5-2.5 2-2.2zM65.5 134.5l.8 2.5 .9 1.1 2.5 .8 4.4-4.4 -1.9-2.1 -2.5 0 -2.5 .2 -1.7 1.9zM79.7 132l2 0 .2 2.5 -2.2 .8 -1.1-.8 -.4-2.5 1.5 0zM89.7 132l1.2 0 -1.2 1.6 -1.2-1.6 1.2 0zM109.7 132l2.5 0 2.2 2.5 -2.2 2.2 -2.5-1 -1.4-1.2 1.4-2.5zM109.5 134.5l2.7 1.8 1.9-1.8 -1.9-2.1 -2.7 2.1zM82.2 135.1l2.4 1.9 1.3 5 1.3 .3 2.5 2.3 2.2 2.4 .3 1.4 1.4-3.9 -2.1-2.5 .7-1.1 2.5-.7 2.5 1.6 2.5-1.6 2.5-.3 5 .8 2.5-.5 .5 1.8 -2.5 2.5 2 2.2 5-.6 4.7 .9 1.6 2.5 -.9 2.5 3.6 5 1 3.6 1.1 1.4 3.9 1.5 5 4.7 2.5 .1 2-1.3 3-3 2.1-7 -2.1-2.4 -5 1.4 -2.5 2.2 -2.5-.3 -.6-.9 1-2.5 -2.2-2.5 -.2-2.5 -3.3-2.5 1.9-2.5 .9-.4 4.6 .4 -.3 2.5 .7 .8 2.1 1.7 1.9 2.5 1 .5 1.3-.5 .1-2.5 -2.6-2.5 -.6-2.5 -.7-.4 -.4-2.1 .4-.3 7.5-.3 2.5 .4 .2 2.7 2.3 3.5 2.5 .9 2.5 3.5 .9-.4 1.2-2.5 -2.6-2.5 10.5-.7 2.5 .3 2.3 .4 2.7 1.5 2.5 .5 2.5 1.1 .7-.6 -1.5-2.5 1.3-2.5 2-.6 2.5 .1 2.5-2.1 .5 2.6 -.2 2.5 1 2.5 4.7 2.5 .1 2.5 1.4 1.9 4-4.4 .3-2.5 5.7-5.2 2.5 .2 1.6 2.5 4.8 2.5 1.3 2.5 3.5 2.5 1.3 2.5 2.5 .4 .6-.4 1.4-2.5 .5-2.5 1.1 5 -.6 2.5 2 .5 1.1-.5 1.4-2.2 0-3.1 -2.5-1.9 -2.5-.3 1.2-2.5 -1.2-1.2 -1.2 1.2 1.1 2.5 -2.4 .2 -1.2-2.7 -5-2.5 -2.6-5 1.3-.8 5 .5 2.5 1.8 2.5 .8 7.5-.2 6.1 .4 .8 2.5 .6 .2 1.9-.2 3.1-2.2 -.9-2.8 3.4-2 5 4 7.5-.9 5 1.3 4 .1 -4 1.7 -.5 .8 3.4 2.5 2.1 .8 1 1.7 1.5 .4 2.7-.4 0-2.5 -3.4-2.5 -2.9-5 6.1-1.4 2.5-1.1 2.5 .9 2.5 0 0 1.3 -2.5 .3 -2.5-1.5 -7.6 1.5 3 2.5 .6 2.5 3.6 2.5 2.3 2.5 -6.9 1.3 -5 2.7 -2.5 .7 -2.5 1.5 -1.9 3.8 2.1 2.5 .2 5 2.1 1.7 .3 3.3 2.4 2.5 -.2 .3 -2.5 1.3 -4.7-4.1 -.2-2.5 -3.7-2.5 -2.2-2.5 -1.2-2.5 -1.4 0 -.3 5 3.1 2.5 .1 2.5 2.1 2.5 -.7 2.5 4.1 4.7 2.5-1 .7 1.3 -3.2 .2 -.7 2.3 -2.9 2.5 -.3 2.5 -3 2.5 .3 2.5 -.9 1.9 -1.6-1.9 .7-2.5 -2-2.5 1.5-5 .6-5 -1.7-1.9 -1.9-.6 -.6-2.6 -3.7-2.4 1-2.5 4.3-2.5 -1.7-2.5 -3.3-2.5 -.3-2.5 -2-2.5 3.8-2.5 1.9-2.7 -2.5-.1 -.2-2.2 -2.3-1.9 -2.5-1.3 -2.5 1.2 -2.5-.2 -1.6-.3 -.9-1.7 -.1 4.2 -1.2 2.5 -.8 5 -2.9 1.2 -1.1 1.3 .1 5 1 3.8 1.4 1.2 1.5 2.5 3.3 2.5 -6.2 3.2 -1.9 1.8 -.6 2.9 -1.8-.4 -.7-1.1 -.2 1.1 -2.6 2.5 -1.3 2.5 .6 5 -1.8 2.5 .3 .9 1.6 1.6 -1.6 .4 -1.4 2.1 -2.6 2.5 -1 1.7 -2.6 .8 -1.2-2.5 -3.2-2.5 -.5-3 -.5 3 -1.8 2.5 .6 5 -1.2 2.5 -2.4 2.5 1.7 2.5 -1 2.5 .4 2.5 -.7 2.5 -2.6 2.8 -2.4-.3 -1-2.5 .9-.6 1.3-1.9 -2.2-2.5 .4-2.5 -2-1 -3.8-4 0-2.5 1.8-2.5 -.5-1.1 -2.5-.4 -1-3.5 -4-3.9 -2.4-1.1 -1.2-2.5 -2-2.5 .8-5 -3-2.5 1.9-2.5 .9-.4 1.1 .4 1.6 2.5 3.9 2.5 .6 2.5 -.1 2.5 2.3 2.5 0 2.5 2.6 2.5 -.3 2.5 .8 1.3 3.1-1.3 1-2.5 -1.3-2.5 -.1-2.5 -3.9-2.5 -.6-5 -2-2.5 0-2.5 -2.6-2.5 -.1-2.5 -2.2-2.5 -1.3-2.4 -2.5-1.5 -5-.4 -1.8-.7 -.6-2.5 .3-2.5 -1.9-2.5 .5-2.5 -2.3-2.5 -.8-2.5 -.9-.6 -2.5 1.8 -2.5-.8 -2.5-.1 -4.8 4.7 -.2 1.6 -2.5 .3 -2.5-2.5 -1.7 5.6 -1.5 2.5 -.6 2.5 -1.2 .4 -2.5-.6 -4.7 .2 -.3 .8 -3.9-5.8 -3.6-1.7 -.5-.8 -1-5 -1-1.5 -2.4-1 -1.4-2.5 1.5-2.5 -1.8-2.5 -3.4-.4 -2 .4 1.9 2.5 -3.5 2.5 .4 2.5 -.7 2.5 1.8 2.5 -2.2 2.5 -.7 2.1 -2.5 .4 -1.5-2.5 1.3-2.5 -2.3-1.6 -1.2-3.4 -3-2.5 -.6-2.5 -1.6 0 -3.6 3.9 -.7 1.1 -.4 2.5 3.6 1 2.5-.3 1.7 1.8 -1.1 2.5 -.4 2.5 1.9 7.5 -.7 2.5 -3.9 7.5 -2.5 1.8 -4.4 .7 2.5 2.5 .3 5 2.1 2.5 .1 2.5 1.9 1.9 1.5 .6 -4 .8 -2.5 0 -2.5-.8 -2.1-2.5 .1-2.5 -2.7-2.5 .3-5 -.8-2.5 .2-.6 2.5-.7 1.7-1.2 -2.7-2.5 -.5-2.5 -2.4-2.5 1-2.5 -1.3-2.5 1.7-4.2 2.5 1.5 1.1 2.7 1.4 1 1.7-1 .6-2.5 -.2-2.5 -2.4-2.5 -.2-2.5 -3-2.5 -1.5-3.4 -1.8-1.6 1-2.5 .8-.3 .6 2.8 1.9 .9 3.8-3.4 -.3-2.5 -3.5-3.6 -5 .9 -5-.3 -2.5-.4 -2.5-2 -1.5 .4 -.6 2.5 -2.9 2.7 -2.5 1.4 -2.5-1.6 -1-2.5 -3.5-2.5 -.5-.3 -2.5 .1 0-1.6 2.5 .1 5 3.4 .8 .8 .7 2.5 1 .7 3.9-3.2 -1.8-2.5 2.9-1.4 2.5-.4 2.5 .9 2.5 1.8 2.5 .2 4.1-1.1 .2-2.5 -1.8-1 -.5-1.5 .5-1.9zM99.8 142l2.4 1.2 2.5 .3 .9-1.5 -3.4-.7 -2.4 .7zM142.2 142l2.5 1.1 .7-1.1 -3.2 0zM211.6 142l.6 1.2 2.5 2 1.6-.7 -.5-2.5 -3.6-.4 -.6 .4zM99 144.5l.2 2.5 .5 .4 2-.4 -1.3-2.5 -.7-.4 -.7 .4zM179.4 144.5l.3 3 1-.5 1.5-2 2.5 .1 .1-.6 -.1-.5 -5.3 .5zM217.4 144.5l.2 2.5 2.1 2 2-2 -.4-2.5 -1.6-.5 -2.3 .5zM249.8 144.5l.9 2.5 4 2.7 2.5 .3 .7-.5 -.5-2.5 3-2.5 -3.2-1.1 -5 .4 -2.4 .7zM161.2 147l3.6 2.5 1.6 2.5 .8 .6 1.1-3.1 -2.1-2.5 -5 0zM226.3 147l-1.3 2.5 2.2 1.9 1.2-1.9 -.3-2.5 -.9-1.1 -.9 1.1zM102.7 149.5l.9 2.5 2.9 2.5 .9 2.5 1.3-2.5 -1.4-2.5 0-2.5 -2.6-1.1 -2 1.1zM182.3 149.5l2.4 2 .4 .5 -.4 .8 -2.5 .3 -2.5-1.2 -2.5 .6 -2.5-1 -1.1 .5 -.1 2.5 -.7 2.5 2.4 2.5 1 2.5 6 2.5 2.3 7.5 -1.1 2.5 2.3 2.5 .6 2.5 .9 .6 2.5-2.6 2 2 .7 2.5 0 2.5 2.6 2.5 .9 5 2.9 2.5 .5 2.5 .4 .2 3-2.7 -1.6-2.5 .6-5 -2.5-2.5 -.4-2.5 -3.5-2.5 -.6-1.4 -4.2-3.6 .9-2.5 -.5-2.5 1.3-2.5 -.1-2.5 -2.4-1.8 -.6-3.2 .6-1.2 2.5-1.3 -1.8-2.5 -.3-2.5 -4.4-2.5 -1-2.1 -2.4 2.1zM197.1 149.5l-.3 2.5 -4.6 5 2.6 2.5 .7 2.5 2.9 2.5 -1.2 .6 -2.5 0 -2.5 1.9 .3 2.5 2.2 1.9 2.5-1 2.5 1.2 .4 2.9 2.4 2.5 -.1 2.5 2.3 2.3 2.5 .4 8-5.2 -2.2-2.5 .2-2.5 1.5-1.1 1.4 1.1 1.1 2.1 1.3-4.6 2.3-2.5 -.1-2.5 -1-2.4 -1.8-2.6 -3.2-1.5 -1.1-3.5 -3.3-2.5 -2-2.5 -1.1-.5 -2.5 .1 -2.5 1 -.2-.6 -2.3-1.3 -2.6 1.3zM249 152l-1.8 .9 -2.5 5.6 -2.5 1.6 0 4.3 2.5 .7 2.5-2 2.5-.1 3 1.5 2.8 2.5 1.7 2.4 .9-4.9 -2.2-2.5 .3-2.5 -.7-5 -3.3-3.1 -2.5 .1 -.7 .5zM135.7 154.5l3.9 0 -2.4-.6 -1.5 .6zM89.4 157l.7 0 -.4-2.3 -.3 2.3zM134.4 157l.4 0 -.1-1.2 -.3 1.2zM91.1 159.5l-.1 2.5 2.5 2.5 -.3 5 2.4 2.5 .1 2.5 -3.5 2.4 -2.5-1 -.6 1.1 3 5 2.6 .5 2.5-1.8 .7-1.2 .5-2.5 2.1-2.5 .4-2.5 -1.6-2.5 -1.2-5 -1.2-2.5 -.1-2.5 -4.6-1.3 -1.1 1.3zM191.5 159.5l.7 .5 0-.6 -.7 .1zM168.7 162l1.8 2.5 .4 2.5 1.3 2.2 1.4-2.2 .7-2.5 -4.6-3.9 -1 1.4zM220.9 162l.7 5 -2 2.5 .1 1.5 3.2-1.5 0-7.5 -.7-2.2 -1.3 2.2zM86.7 172l-.6 2.5 1.1 1.1 1.6-1.1 -.6-2.5 -1-.7 -.5 .7zM91.7 172l.5 1.8 .8-1.8 -.8-1.1 -.5 1.1zM221.3 172l.9 2.1 1.7-2.1 -1.7-.7 -.9 .7zM219.3 174.5l-2.1 1.6 -2.5 3.2 -2.5 .5 -6.6 4.7 -.6 5 .4 5 1.8 1.5 2.5-.1 2 1.1 -.8 5 1.5 0 .7-2.5 -.6-2.5 .6-2.5 1.6-1.9 .1-5.6 2.5-2.5 .1-2.5 1.1-2.5 2-2.5 -.8-4.4 -.4 1.9zM249.3 177l-1.2 2.5 1.4 2.5 -.2 2.5 1.1 2.5 -1.6 5 .9 1.4 2.9-1.4 .3-2.5 2.8-2.5 -1.9-2.5 -.6-2.5 -2.9-2.5 -.4-2.5 -.6 0zM187.7 182l-.7 2.5 .2 5.6 2.5-1.6 1.1-1.5 .2-5 -1.3-2.1 -2 2.1zM89.2 189.5l.1 2.5 .4 .3 0-3.4 -.5 .6zM177.2 189.5l-.5 2.5 2.3 2.5 .1 2.5 5.6 4.8 .6-2.3 -2.5-2.5 -.1-2.5 -2.7-2.5 -.3-2.3 -2.5-.2zM92.1 197l.1-.8 -.1 .8zM249.2 197l.5 .5 0-1.9 -.5 1.4zM93.5 199.5l2 0 -.8-.7 -1.2 .7zM207.1 199.5l-1.2 2.5 1.3 .9 1.1 1.6 1.4 .6 .4-.6 -.4-2 -1-.5 -1.6-2.5zM189.1 204.5l.3 2.5 -2.4 2.5 -.1 2.5 2.8 2.6 4.8 2.4 .2 1.2 2-1.2 -1.2-2.5 2.4-2.5 1-2.5 -.7-5 -1-2.4 -2.5 .9 -2.5-.4 -3.1 1.9zM55.5 144.5l-.8 .9 0-2.2 .8 1.3zM64.7 153l2.5 .3 2.5 2.2 2.5-.4 2.5 1.9 1.3 2.5 -.7 2.5 2.4 2.5 -.5 3 -.8 2 1.4 2.5 -.6 .6 -5-2.6 -.4 2 .2 2.5 2.4 2.5 -2.2 1.6 -.4 .9 .8 2.5 -.4 1.1 -1.4 1.4 1.6 2.5 2.6 2.5 0 2.5 -2.5 2.5 0 2.5 1.7 2.5 -2 3.1 -5 .1 -.9 1.8 -1.6 .7 -1-3.2 -1.5-1.5 -4.9 4 -.1 2 -2.5-.8 0-2.8 5.1-.9 1-2.5 -1.1-.3 -1.1-2.2 -.2-2.5 1.8-2.5 0-5 2-1.9 1.3-.6 .2-2.5 -.6-2.5 1.6-1.7 1.9-.8 .6-.9 1-1.6 .2-2.5 -1.2-1 -.8-1.5 1.2-2.5 -.4-2.5 -2.7-2.5 .9-2.5 -.7-1.1 -3.6 1.1 -.3 2.5 -2.3 2.5 -1.9 5 -.2 5 .6 2.5 -.4 2.5 1.2 2.5 -.6 2 -.4-2 -2.1-.9 0-2.2 .9-1.9 -.2-5 -.7-1.9 0-7.6 2.5-3.9 2.5 .8 2.5-1 1.8-1.4 -.2-2.5 .9-1.5zM69.6 157l3 0 -.4-.3 -2.6 .3zM68 159.5l-2.7 2.5 2.9 2.5 .6 5 .9 .8 2.3-.8 2.5-7.5 -1-2.5 -1.3-1 -2.5-.5 -1.7 1.5zM69 177l.7 .5 0-.8 -.7 .3zM61.9 189.5l-.4 2.5 -1.9 2.5 .1 .5 1.9 2 4.8 2.5 .8 1.6 1.9-1.6 0-2.5 .6-.9 2.4-1.6 0-2.5 -2.4-2.4 -2.5 .1 -2.5 2.4 -2.5-4.3 -.3 1.7zM277.2 152.3l2.5 1.2 0 4.9 -.9 1.1 .9 2.6 0 2.1 -2.7-2.2 -.7-7.5 .9-2.2zM277.1 154.5l.1 3.5 1.2-1 -.9-2.5 -.4 0zM209.7 158.6l2.5-.1 2.5 1.9 1.1 1.6 -1.1 3.3 -2 1.7 -.5 2.8 -5-1.1 -2.3-1.7 -1.5-2.5 1.3-3 5-2.9zM206.7 162l-2.2 2.5 2.7 3.1 2.5-.1 2.6-3 .3-2.5 -.4-.3 -2.5 .2 -2.5-.3 -.5 .4zM157.2 164.4l2.5-.5 .6 .6 -.6 1 -2.5-1.1zM164.7 168.6l2.5 1.6 .7 1.8 -.7 .5 -1.6-.5 -1.5-2.5 .6-.9zM232.2 169.4l1 .1 -1 .4 -.5-.4 .5-.1zM154.7 170.9l2.5 1.4 .8 2.2 3 2.5 0 2.5 1.6 2.5 -2.9 2.4 -.9 .1 .1 2.5 .8 3.1 5 .8 1 1.1 4 2 2.5-.4 1.6 .9 .9 2 1.3 .5 -1.3 .1 -3 2.4 -2 .8 -2.5 2.3 -1.2 1.9 .6 5 3.1 3.8 2.5 1.2 2.5-.6 2.5-2.3 2.5-.4 2.4 .8 .7 2.5 3.1 2.5 1.3 3.2 1.9 1.8 .3 2.5 -1.2 2.5 .5 2.5 -2.9 5 .1 2.5 -3.1 5 -5.6 3.3 -1.6 1.7 .4 2.5 1 2.5 2.7 1 .9 1.5 -.9 1.8 -2.5 .3 -.3 .4 1.1 2.5 -1.8 5 -.2 2.5 0 22.5 -9.9 0 0-22.5 -.8-5 .1-5 -.7-2.5 -1.7-2.5 4.2-.5 1.9-2 -.6-5 -1.3-1.3 -2.5 .1 -.9-1.3 1.9-7.5 .1-5 2.6-2.5 -.6-2.5 -1.6-2.5 -1.5-1.4 -2.4-1.1 -.1-.6 -2.5-.7 -2.5 .2 -2.1-1.4 -.4-.9 -1.9 .9 -.1 2.5 1.6 2.5 0 5 -4.6 4.4 -5 .7 -2.5 1 -2.5 2.7 -2.6 1.2 -2.4 2.1 -.8-2.1 -2.9-2.5 .7-2.5 .1-5 .4-.6 1 .6 0 2.5 1.5 1.7 2.5-.2 2.5-1.5 .5-7.5 2-1 2.5-2.8 3-1.2 -2.5-2.5 -.6-2.5 -2.4-3.5 -2.5 1.6 -1.6-.6 1.6-2.2 0-2.8 -.8-5 -1.8-2.5 .9-2.5 -1.5-2.5 .7-.8 2.5-.3 2.5 .5 3.4 3.1 -.2 2.5 1.8 .6 4.3-3.1 1.3-2.5 -.2-2.5 1.5-2.5 1-5 -2.7-2.5 -.2-2.3 -2-2.7 2-2.4 2.5-1.2zM154.7 174.5l0 5 2.5 1.2 1.2-1.2 .4-2.5 -4.1-2.5zM139.2 192l.5 .8 .7-.8 -1.2 0zM141.3 194.5l.9 2.3 .7-2.3 -.7-.8 -.9 .8zM153.8 194.5l-1.6 1.3 -2.5 .9 -4.5 2.8 -2.9 2.5 .6 2.5 0 2.5 3.5 5 .9 2.5 2.4 .6 2.5-.3 5-4.1 2.5 0 1.5 1.3 .2 2.5 2.7 2.5 .5 2.5 3.1 2.5 1.7 2.5 0 2.5 -2.8 2.5 0 5 -1 7.5 1.6 .4 2 2.1 .5 2.3 1.3 2.7 1.2 .7 4-5.7 -1.8-2.5 .3-1 2.5 .3 .4 .7 2.1 .5 5-5.2 0-1.5 -1.8-1.3 -1.9-2.5 -3.7-2.5 .3-2.5 -1.6-2.5 .9-2.5 -2.2-2.2 -2.5 .1 -.8-.4 .6-2.5 -2.3-1.9 -1.6-3.1 -2.3-2.5 -.7-2.5 -.2-5 .4-2.5 -1.4-2.5 -4.2-2.8 -2.5-.7 -2.5-.1 -.9 1.1zM179.6 212l.1 .7 -.1-.7zM156.4 214.5l.8 .3 1.2-.3 -1.2-.5 -.8 .5zM178.8 217l-1.5 2.5 2.4 1.5 2.5 .6 2.5-.2 .4-1.9 -2.9-3.1 -2.5-1.4 -.9 2zM145.7 219.5l-4.4 5 -.1 2.5 1 3.7 7.5-.5 .8-.7 .8-2.5 1.8-2.5 -.1-2.5 -3.3-4.1 -2.5 .6 -1.5 1zM136.9 234.5l1.4 0 -1.1-.5 -.3 .5zM171.6 257l-4.4 2.5 -.6 2.5 .6 2.4 2.5 1.4 2.5 0 2.5-2.3 .7-1.5 .5-2.5 -1.2-1.9 -2.5-1.2 -.6 .6zM234.7 170.7l1 1.3 -.3 2.5 -.7 .6 -.6-.6 0-2.5 .6-1.3zM119.7 173.6l2 .9 2.4 2.5 -.9 2.5 -1 1.3 -2.5-.5 -.6-5.8 .6-.9zM272.2 173.7l6 3.3 1.5 2.6 0 6.1 -1-1.2 .2-2.5 -1.7-1.4 -1.1 1.4 -.4 2.5 1.4 2.5 -.9 2.5 -1.5 1.7 -5-2.8 -2.5 1.5 -2.5 3 -2.5-.4 -.8 2 .4 5 -2.1 4.1 -.1 3.4 .1 .9 1.2-.9 .3-2.5 1-.5 2.5 4.3 1.2 1.2 1.3 .3 5-2.4 2.5 .4 2.5 1.2 2.5-1.6 0 4.9 -1.9 2.2 1.9 1.8 0 4.4 -2.3 1.3 -.2 2.5 2.4 2.5 .1 8.2 -.4-.7 .2-2.5 -2.3-2.5 -.8-10 -1.7-1.8 -7.1 6.8 -.4 6.7 -2.5-1.6 -2.4 2.4 -.1 2.8 2.5 .4 2.5-.6 3.1 2.4 2 2.5 -2.6 4.4 -1.8 .6 -.7 1 -5-.2 -5 2.9 -.7 1.3 .1 2.5 1.7 2.5 -3.6 5 -.9 2.5 0 27.5 -5.4 0 -.2-27.5 -3.2-2.5 -.2-2.5 2.6-2.5 -.2-.8 -2.5-1.3 -2.1-2.9 -3.4-2.5 -.8-5 1.3-.5 2.5 .8 5-1.6 .8 1.3 4 2.5 2.7 2.8 .7-.3 .2-2.5 -1.8-2.5 -.9-2.5 -.2-2.5 .5-5 -.4-2.5 1.5-2.5 -.3-10 -1.8-1.9 -1.7-.6 -.9-2.5 -2.4-.9 -2-1.6 -.4-7.5 2.4-1.5 1.8 4 3.2 4.6 5-.2 1.4-1.9 .7-5 1.8-2.5 -.2-5 .6-2.5 0-5 .7-1.4 2.5 1.4 2.5-2.7 5.2 .2 .9-2.5 -1.8-2.5 1-2.5 -.8-2.5 .5-.8zM274.2 179.5l.5 .7 1-.7 -1-1.1 -.5 1.1zM245.9 204.5l-.1 2.5 1.1 2.5 2.8 1.6 2.2-1.6 -4.7-7.1 -1.3 2.1zM261.7 209.5l.2 5 1.7 0 -1.2-2.5 1-2.5 -1.2-.7 -.5 .7zM254.1 212l-.1 2.5 .7 1.1 0-5 -.6 1.4zM264.1 217l.1 2.5 .5 .6 2.5 1 1.5-1.6 0-2.5 -1.5-1 -2.5-.9 -.6 1.9zM257.7 224.5l3 2.5 .5 2.5 1 .1 1.1-5.1 -3.6-2.1 -2 2.1zM254 229.5l0 10 3.2 3.9 12.5-.7 .5-.7 .4-2.5 -3.4-3 -2.5-.2 -2.5 .5 -1.9-2.3 -.6-4.2 -1.8-.8 -.7-2.5 -2.5 1.5 -.7 1zM241.3 244.5l.1 2.5 .8 .5 1.2-.5 -.3-2.5 -.9-.5 -.9 .5zM248.9 247l.8 .6 .5-.6 -.5-1.3 -.8 1.3zM251.5 249.5l-1.1 2.5 .5 2.5 -4.2 2.5 1.3 2.5 1.7 1.6 2.5-.3 3.1-3.8 .7-2.5 -1.3-4.5 -2.5-1.1 -.7 .6zM237.2 176.6l0 .5 -.3-.1 .3-.4zM124.7 182.4l5 1 1.3 1.1 .5 2.5 -.6 2.5 -1.2 1.6 -2.5 .6 -2.5-.2 -2.5-.6 -1.4-1.4 -.2-2.5 4.1-4.6zM124.6 184.5l-2.7 2.5 .3 2.8 2.5 .9 2.5 .1 2.4-1.3 .5-2.5 -.4-.9 -2.5-1.1 -2.6-.5zM109.7 189.4l2.5-1 .9 1.1 -.9 2 -2.5 2.7 -5-1.7 -.3-.5 5.3-2.6zM129.7 194l.6 .5 .8 2.5 3.1 2.5 -3.4 5 -1 2.5 .8 2.5 1.6 1.9 1.3 .6 .5 2.5 3.2 2.5 -.3 2.5 .3 1.4 1.8 1.1 -1.8 2.3 -1.1-2.3 -3.9-.7 -1.7-4.3 -2.5-2.5 -.8-2.9 -2.5 2.3 -2.5-1.4 -9.6 7 .8 5 1.3 3.4 2.5 .6 2.5-1.2 .4 2.2 -.2 2.5 -2.7 3.1 -.8-.6 -.4-2.5 -1.3-1.6 -2.5 6.1 -.7 5.5 .7 1.1 3.7 1.4 1.3 1 .9 1.5 3.6 2.5 .5 3.4 1.8 1.6 .4 2.5 -.1 32.5 -15 0 0-30 .4-2.7 2.5-.1 .7-2.2 -.2-2.5 -8-5.2 -2.7 .2 -2.3 1.3 -.6-3.8 1.8-2.5 -1.2-2.4 -2.5 1.8 -2.5-.8 -1.5-1.1 -.2-5 1.1-2.5 0-2.5 .6-2.2 2.5-2 2.8-3.3 -1.2-2.5 .5-2.5 -2-2.5 -.6-5 5.5-5.3 1.6 2.8 3.4 2.5 2.5-2.5 5-3.7 .7-1.3 1.8-1.6 2.5 0 1.5-.9 1-2.2 2.5-1.4 5-1.9zM123.7 199.5l-4 1.6 -2.5 .1 -.9 .8 -.6 2.5 -1 1.3 -2.5 .8 -2.8 2.9 .3 1.3 2.5 1.9 2.5-.9 1.4 2.7 1.1 .2 5-4.1 5-2.2 2.7-3.9 -2.7-4.7 -2.5-.7 -1 .4zM100.5 209.5l1.1 5 2.7 2.5 -2.1 2.6 -1.1 2.4 -4.5 5 -1.1 2.5 .2 2.5 -1.7 2.5 .1 5 3.1 .7 2.5-2.4 1.7 1.7 .4 2.5 -1.4 2.5 1.8 .7 2.5-.4 2.5-1 1.7-1.8 2.2-5 -.1-2.5 1.5-2.5 .2-5 -.5-1.7 -.8-.8 -.7-2.5 -2.7-2.5 -.1-2.5 -2.8-2.5 -.2-5 -2.7-1.3 -1.7 1.3zM129.4 209.5l.3 .8 0-1 -.3 .2zM132.7 217l-.5 .5 0 2.3 2.5 .5 .8-.8 -.3-2.5 -.5-.4 -2 .4zM119.3 249.5l-2.1 .7 -3.1 4.3 -.5 5 1.1 1.1 2.5-.1 2.9-3.5 1-2.5 -1.3-5 -.5 0zM234.7 194.4l.7 .1 .3 2.5 2.5 2.5 -.1 2.5 2.2 2.5 -.6 1.1 -2.5-.8 -1.6 4.7 0 5 -1.2 2.5 -2.5 2.5 1.9 5 -.9 5 -.7 .6 -2.2-.6 -.1-2.5 -2.4-2.5 .6-2.5 -.9-.3 -2.5 1.8 -.5 1 -.5 5 -2.6 2.5 -.8 2.5 2.2 2.5 -.3 1 -.9 1.5 -1.6 1.2 -2.5 1.2 .4 2.6 -4.7 5 -.7 1.8 -1.9 .7 0 37.5 -4.3 0 0-30 .5-2.5 -.2-2.5 -6.6-6.6 -5.1-.9 -.2-2.5 1.8-2.5 3.5-2.8 1.3 .3 1.2 1.8 2.5 1 2.1-5.3 -1.6-2.5 1.7-2.5 -.4-2.5 2.2-2.5 .2-2.5 2.9-2.5 .4-1.8 2.6-.7 -.2-2.5 -3.2-5 3.3-1.3 1.2-1.2 3.8-1.9 3 1.9 2 5.6 .8-5.6 4.2-3.5 3.5-1.5 -.5-2.5 .6-2.5 -1.3-2.5 .2-.6 2.5-2zM229.6 207l-3 2.5 -.5 5 -1.4 4.4 -2.5-5 -2.5-1.2 -1.5-3.2 -1.1 0 -2.7 2.5 .2 2.5 1.5 2.5 -.1 2.5 -2.5 2.5 -1.2 2.5 -2.6 .5 -.3 2 -2.3 2.5 1.2 2.5 -1.1 2.5 1.8 2.5 -1.3 5 2 2.5 .8 2.5 1.7 .8 .7-.8 .8-2.5 0-2.5 1-.9 3.3-6.6 4.4-5 .7-2.5 0-2.5 1.6-4.6 2.5-.4 2.5 .5 3.5-3 .3-2.5 -.5-5 1.7-1 .4-1.5 -.4-.7 -2.2 .7 -.3 .7 -.7-.7 -1.9 0zM197.1 242l.1 .3 .3-.3 -.4 0zM277.2 192.5l2.5 1.8 0 3.7 -1.1-1 -1.4-2.9 -.7 2.9 .7 4.8 2.5 .8 0 4.1 -1.2-2.2 -1.3-.7 -1.2-1.8 -.7-5 .3-2.5 1.6-2zM79.7 196.1l2.5-1.3 .6 2.2 -.5 2.5 -2.4 2.5 .3 2.5 -.4 2.5 1.8 2.5 .5 5 3 2.5 1.2 2.5 -1.6 .4 -2.5 1.5 -2.9-1.9 -1.4-2.5 1.7-10 -.4-2.5 -2-2.5 1.9-2.5 -.9-2.5 1.5-.9zM57.2 199.4l.7 .1 -.7-.1zM57.2 219.1l3.7 2.9 .2 2.5 1.1 .7 2.5-.4 2.5-1.8 2.5-.2 5 .4 1.7 1.3 1.8 2.5 -.4 10 1.9 1.7 8.2 .8 .7 2.5 -3.2 7.5 -.7 3.8 -2.9-1.3 -.9-2.5 -1.2-.7 -5-.4 -1.9-1.4 -.6-2.6 -2.8 .1 0 2.5 2.1 2.5 -1.8 2.5 -2.5-2.5 -.7-2.5 0-5 -1.8-2 -1.8-.5 -.7-.7 -.9 .7 -1.6 .4 -.8-.4 -.4-10 -.5-2.5 -2.6-2.5 .4-2.5 -1.1-1.8 0-2.1 2.5 1zM66.6 224.5l-1.9 1.5 -3.6 1 .1 2.5 -1 2.5 4.5 1.4 4 3.6 -1.5 2.5 0 4.3 5-1.6 2.5-.3 2.5 .4 2.7 2.2 .9 2.5 1.4 1 2.5 .5 .5-4 -.5-.6 -2.5-1.9 -2.2-2.5 -1.5 0 -1.3 1.3 -1-3.8 -.2-2.5 1.2-1.5 0-3.5 -2.2-2.5 -.3-1.7 -1.6-.8 -3.4-.4 -2.5 0 -.6 .4zM122.2 221.8l.4 2.7 -.4 .5 -2.1-.5 2.1-2.7zM172.2 226.7l.9 .3 -.9 2.5 0-2.8zM119.7 239.1l7 .4 -2 1.4 -.5 1.1 1 2.5 -.5 1.3 -2.5 .7 -.6-2 -2.8-2.5 0-2.5 .9-.4zM279.7 239.1l0 5.8 -.8 2.1 .8 1.3 0 18 -2.5-.7 -15 0 -.8 1.4 0 22.5 -1.5 0 0-22.5 1.1-2.5 .2-5 1-2.4 10-.5 2.5-2.9 2.5-1.6 1.2-2.6 -1.7-2.5 .9-2.5 -1.4-2.5 1-1.6 2.5-1.3zM144.7 243.7l2.5-1.4 5-.1 6.1 2.3 .7 5 -.2 5 1.8 2.5 -.3 32.5 -3.5 0 0-30 -2.1-1.8 -1 1.8 0 30 -7.5 0 0-30 .6-2.5 1.7-2.5 -1.9-2.5 -.8-2.5 -1.1-1.5 -2.5-.4 -.3-.6 .3-2.4 2.5-.9zM146.1 244.5l.2 2.5 2.9 2.5 .7 2.5 -.2 2.9 5 .4 2.5-2.5 .6-3.3 -.2-2.5 -.9-2.5 -4.5-1.1 -5 .2 -1.1 .9zM187.2 244.4l2.3 2.6 -2.3 2.9 -2-2.9 2-2.6zM227.2 244.1l.6 .4 -.6 .2 0-.6zM229.7 247.2l2.5 2.3 -.6 2.5 .5 2.5 -2 2.5 .2 32.5 -4 0 0-27.5 .9-3.5 1.6-1.5 0-7.5 .9-2.3zM182.2 263.9l3.5 3.1 0 22.5 -4.7 0 0-25 1.2-.6zM197.2 264.2l.7 .3 .5 2.5 0 22.5 -4.3 0 0-22.5 3.1-2.8zM242.2 262.1l2 2.4 0 25 -4 0 0-22.5 2-4.9z" fill="#cadfd3" fill-rule="evenodd" stroke="#6e7a78" stroke-width="0.3" stroke-opacity="0.7"/>
<path d="M67.2 132.6l5-.2 1.9 2.1 -4.4 4.4 -2.5-.8 -.9-1.1 -.8-2.5 1.7-1.9zM65.8 134.5l1.4 2.8 2.5 1.3 4-4.1 -1.5-1.7 -2.5 0 -2.5 .2 -1.4 1.5zM109.7 134.2l2.5-1.8 1.9 2.1 -1.9 1.8 -2.5-1.7 0-.4zM110.2 134.5l2 1.5 1.5-1.5 -1.5-1.6 -2 1.6zM57.2 141.7l4 2.8 1 2.5 2.5 1.6 2.5-1.4 2.9-2.7 .6-2.5 1.5-.4 2.5 2 2.5 .4 5 .3 5-.9 3.5 3.6 .3 2.5 -3.8 3.4 -1.9-.9 -.6-2.8 -.8 .3 -1 2.5 1.8 1.6 1.5 3.4 3 2.5 .2 2.5 2.4 2.5 .2 2.5 -.6 2.5 -1.7 1 -1.4-1 -1.1-2.7 -2.5-1.5 -1.7 4.2 1.3 2.5 -1 2.5 2.4 2.5 .5 2.5 2.7 2.5 -1.7 1.2 -2.5 .7 .6 3.1 -.3 5 2.7 2.5 -.1 2.5 2.1 2.5 2.5 .8 2.5 0 4-.8 -1.5-.6 -1.9-1.9 -.1-2.5 -2.1-2.5 -.3-5 -2.5-2.5 4.4-.7 2.5-1.8 3.9-7.5 .7-2.5 -1.9-7.5 .4-2.5 1.1-2.5 -1.7-1.8 -2.5 .3 -3.6-1 .4-2.5 .7-1.1 3.6-3.9 1.6 0 .6 2.5 3 2.5 1.2 3.4 2.3 1.6 -1.3 2.5 1.5 2.5 2.5-.4 .7-2.1 2.2-2.5 -1.8-2.5 .7-2.5 -.4-2.5 3.5-2.5 -1.9-2.5 2-.4 3.4 .4 1.8 2.5 -1.5 2.5 1.4 2.5 2.4 1 1 1.5 1 5 .5 .8 3.6 1.7 3.9 5.8 .3-.8 4.7-.2 2.5 .6 1.2-.4 .6-2.5 1.5-2.5 1.7-5.6 2.5 2.5 2.5-.3 .2-1.6 4.8-4.7 2.5 .1 2.5 .8 2.5-1.8 .9 .6 .8 2.5 2.3 2.5 -.5 2.5 1.9 2.5 -.3 2.5 .6 2.5 1.8 .7 5 .4 2.5 1.5 1.3 2.4 2.2 2.5 .1 2.5 2.6 2.5 0 2.5 2 2.5 .6 5 3.9 2.5 .1 2.5 1.3 2.5 -1 2.5 -3.1 1.3 -.8-1.3 .3-2.5 -2.6-2.5 0-2.5 -2.3-2.5 .1-2.5 -.6-2.5 -3.9-2.5 -1.6-2.5 -1.1-.4 -.9 .4 -1.9 2.5 3 2.5 -.8 5 2 2.5 1.2 2.5 2.4 1.1 4 3.9 1 3.5 2.5 .4 .5 1.1 -1.8 2.5 0 2.5 3.8 4 2 1 -.4 2.5 2.2 2.5 -1.3 1.9 -.9 .6 1 2.5 2.4 .3 2.6-2.8 .7-2.5 -.4-2.5 1-2.5 -1.7-2.5 2.4-2.5 1.2-2.5 -.6-5 1.8-2.5 .5-3 .5 3 3.2 2.5 1.2 2.5 2.6-.8 1-1.7 2.6-2.5 1.4-2.1 1.6-.4 -1.6-1.6 -.3-.9 1.8-2.5 -.6-5 1.3-2.5 2.6-2.5 .2-1.1 .7 1.1 1.8 .4 .6-2.9 1.9-1.8 6.2-3.2 -3.3-2.5 -1.5-2.5 -1.4-1.2 -1-3.8 -.1-5 1.1-1.3 2.9-1.2 .8-5 1.2-2.5 .1-4.2 .9 1.7 1.6 .3 2.5 .2 2.5-1.2 2.5 1.3 2.3 1.9 .2 2.2 2.5 .1 -1.9 2.7 -3.8 2.5 2 2.5 .3 2.5 3.3 2.5 1.7 2.5 -4.3 2.5 -1 2.5 3.7 2.4 .6 2.6 1.9 .6 1.7 1.9 -.6 5 -1.5 5 2 2.5 -.7 2.5 1.6 1.9 .9-1.9 -.3-2.5 3-2.5 .3-2.5 2.9-2.5 .7-2.3 3.2-.2 -.7-1.3 -2.5 1 -4.1-4.7 .7-2.5 -2.1-2.5 -.1-2.5 -3.1-2.5 .3-5 1.4 0 1.2 2.5 2.2 2.5 3.7 2.5 .2 2.5 4.7 4.1 2.5-1.3 .2-.3 -2.4-2.5 -.3-3.3 -2.1-1.7 -.2-5 -2.1-2.5 1.9-3.8 2.5-1.5 2.5-.7 5-2.7 6.9-1.3 -2.3-2.5 -3.6-2.5 -.6-2.5 -3-2.5 7.6-1.5 2.5 1.5 2.5-.3 0 11.8 -2.5-1.2 -.9 2.2 .7 7.5 2.7 2.2 0 6.1 -.8-.8 -2.7-7.5 .2-2.5 -1-5 -.7-.9 -2.5-.1 -3.1 1 -1.9 3 -2.2 2 -.3 1 -4.3 1.5 1.4 2.5 .7 5 1 2.5 0 2.5 1.2 1.4 2.5 .6 5-5.1 2.5-.2 1.1 .8 1.3 2.5 2.6 .9 0 4.2 -1.5-2.6 -6-3.3 -.5 .8 .8 2.5 -1 2.5 1.8 2.5 -.9 2.5 -5.2-.2 -2.5 2.7 -2.5-1.4 -.7 1.4 0 5 -.6 2.5 .2 5 -1.8 2.5 -.7 5 -1.4 1.9 -5 .2 -3.2-4.6 -1.8-4 -2.4 1.5 .4 7.5 2 1.6 2.4 .9 .9 2.5 1.7 .6 1.8 1.9 .3 10 -1.5 2.5 .4 2.5 -.5 5 .2 2.5 .9 2.5 1.8 2.5 -.2 2.5 -.7 .3 -2.7-2.8 -4-2.5 -.8-1.3 -5 1.6 -2.5-.8 -1.3 .5 .8 5 3.4 2.5 2.1 2.9 2.5 1.3 .2 .8 -2.6 2.5 .2 2.5 3.2 2.5 .2 27.5 -4.2 0 0-25 -2-2.4 -2 4.9 0 22.5 -2.1 0 0-22.5 .3-2.5 4.7-5 -.1-2.5 1-2.5 -2.3-2.5 -.9-2.5 -3.2-2.5 -.8-5 5.5-2.5 4.9-4.3 2 1.8 .5 2.7 .5-2.7 2-2.8 .2-2.2 -.9-2.5 2-5 -.2-7.5 -1.1-1.1 -5-1.3 -2.5 .2 -7.5 7.5 -3.2 4.7 -.3 2.5 -1.5 1.3 -2.5 1.2 -2.5-.4 -2 2.9 2 2.5 .6 5 3.3 2.5 .5 2.5 2.7 2.5 -.3 5 -2.3 2.5 -.1 32.5 -1.3 0 -.2-32.5 2-2.5 -.5-2.5 .6-2.5 -2.5-2.3 -.9 2.3 0 7.5 -1.6 1.5 -.9 3.5 0 27.5 -2.9 0 0-27.5 2-2.5 .4-2.5 1.4-1.2 .7-1.3 .1-7.5 -3.3-3.7 -2.5-.2 -2.5 .2 -5.6 6.2 -2.2 5 -.3 35 -1.3 0 0-37.5 1.9-.7 .7-1.8 4.7-5 -.4-2.6 2.5-1.2 1.6-1.2 .9-1.5 .3-1 -2.2-2.5 .8-2.5 2.6-2.5 .5-5 .5-1 2.5-1.8 .9 .3 -.6 2.5 2.4 2.5 .1 2.5 2.2 .6 .7-.6 .9-5 -1.9-5 2.5-2.5 1.2-2.5 0-5 1.6-4.7 2.5 .8 .6-1.1 -2.2-2.5 .1-2.5 -2.5-2.5 -.3-2.5 -.7-.1 -2.5 2 -.2 .6 1.3 2.5 -.6 2.5 .5 2.5 -3.5 1.5 -4.2 3.5 -.8 5.6 -2-5.6 -3-1.9 -3.8 1.9 -1.2 1.2 -3.3 1.3 3.2 5 .2 2.5 -2.6 .7 -.4 1.8 -2.9 2.5 -.2 2.5 -2.2 2.5 .4 2.5 -1.7 2.5 1.6 2.5 -2.1 5.3 -2.5-1 -1.2-1.8 -1.3-.3 -3.5 2.8 -1.8 2.5 .2 2.5 5.1 .9 6.6 6.6 .2 2.5 -.5 2.5 0 30 -7.6 0 0-22.5 -.5-2.5 -.7-.3 -3.1 2.8 0 22.5 -1.3 0 0-22.5 4.4-4.3 2.5 .5 3.7-3.7 1.2-5 -2.4-3.2 -2.5-2.2 -7.5-1.9 -5 4.8 -3-2.5 -1.7-2.5 -.3-2.5 -5.5 2.5 .5 1.5 2.5 2.2 2.5 .6 .8 .7 -.8 .7 -.9 4.3 -1.2 2.5 .8 2.5 7.1 5 0 22.5 -2.3 0 0-22.5 -3.5-3.1 -1.2 .6 0 25 -5 0 0-22.5 .2-2.5 1.8-5 -1.1-2.5 .3-.4 2.5-.3 .9-1.8 -.9-1.5 -2.7-1 -1-2.5 -.4-2.5 1.6-1.7 5.6-3.3 3.1-5 -.1-2.5 2.9-5 -.5-2.5 1.2-2.5 -.3-2.5 -1.9-1.8 -1.3-3.2 -3.1-2.5 -.7-2.5 -2.4-.8 -2.5 .4 -2.5 2.3 -2.5 .6 -2.5-1.2 -3.1-3.8 -.6-5 1.2-1.9 2.5-2.3 2-.8 3-2.4 1.3-.1 -1.3-.5 -.9-2 -1.6-.9 -2.5 .4 -4-2 -1-1.1 -5-.8 -.8-3.1 -.1-2.5 .9-.1 2.9-2.4 -1.6-2.5 0-2.5 -3-2.5 -.8-2.2 -2.5-1.4 -2.5 1.2 -2 2.4 2 2.7 .2 2.3 2.7 2.5 -1 5 -1.5 2.5 .2 2.5 -1.3 2.5 -4.3 3.1 -1.8-.6 .2-2.5 -3.4-3.1 -2.5-.5 -2.5 .3 -.7 .8 1.5 2.5 -.9 2.5 1.8 2.5 .8 5 0 2.8 -1.6 2.2 1.6 .6 2.5-1.6 2.4 3.5 .6 2.5 2.5 2.5 -3 1.2 -2.5 2.8 -2 1 -.5 7.5 -2.5 1.5 -2.5 .2 -1.5-1.7 0-2.5 -1-.6 -.4 .6 -.1 5 -.7 2.5 2.9 2.5 .8 2.1 2.4-2.1 2.6-1.2 2.5-2.7 2.5-1 5-.7 4.6-4.4 0-5 -1.6-2.5 .1-2.5 1.9-.9 .4 .9 2.1 1.4 2.5-.2 2.5 .7 .1 .6 2.4 1.1 1.5 1.4 1.6 2.5 .6 2.5 -2.6 2.5 -.1 5 -1.9 7.5 .9 1.3 2.5-.1 1.3 1.3 .6 5 -1.9 2 -4.2 .5 1.7 2.5 .7 2.5 -.1 5 .8 5 0 22.5 -5.8 0 .3-32.5 -1.8-2.5 .2-5 -.7-5 -6.1-2.3 -2.5-.2 -2.5 .3 -5 2.3 -.3 2.4 .3 .6 2.5 .4 1.1 1.5 .8 2.5 1.9 2.5 -1.7 2.5 -.6 2.5 0 30 -2.4 0 0-30 -1.6-2.3 -2.5-.1 -5 .9 -7.5-.5 -.9 2 0 30 -2 0 .1-32.5 -.4-2.5 -1.8-1.6 -.5-3.4 -3.6-2.5 -.9-1.5 -1.3-1 -3.7-1.4 -.7-1.1 .7-5.5 2.5-6.1 1.3 1.6 .4 2.5 .8 .6 2.7-3.1 .2-2.5 -.4-2.2 -2.5 1.2 -2.5-.6 -1.3-3.4 -.8-5 9.6-7 2.5 1.4 2.5-2.3 .8 2.9 2.5 2.5 1.7 4.3 3.9 .7 1.1 2.3 1.8-2.3 -1.8-1.1 -.3-1.4 .3-2.5 -3.2-2.5 -.5-2.5 -1.3-.6 -1.6-1.9 -.8-2.5 1-2.5 3.4-5 -3.1-2.5 -.8-2.5 -.6-.5 -5 1.9 -2.5 1.4 -1 2.2 -1.5 .9 -2.5 0 -1.8 1.6 -.7 1.3 -5 3.7 -2.5 2.5 -3.4-2.5 -1.6-2.8 -5.5 5.3 .6 5 2 2.5 -.5 2.5 1.2 2.5 -2.8 3.3 -2.5 2 -.6 2.2 0 2.5 -1.1 2.5 .2 5 1.5 1.1 2.5 .8 2.5-1.8 1.2 2.4 -1.8 2.5 .6 3.8 2.3-1.3 2.7-.2 8 5.2 .2 2.5 -.7 2.2 -2.5 .1 -.4 2.7 0 30 -.9 0 0-30 -1.2-3.5 -2.5 1.4 -5 .1 -2.5-.9 -.9-2.1 2.4-2.5 .2-2.5 -.6-5 -1.1-1.9 -4.9-3.1 .1-2.5 -.6-2.5 1.4-2.5 .4-5 1.1-2.5 -.2-2.5 .8-2.5 -.2-2.5 -2.7-2.5 .6-2.5 1.7-.9 .8-1.6 5.6-5 1.1-1.7 2.5 2.1 2.5 .5 .7-.9 -.7-2.5 2.4-2.5 -3.6-2.5 -1.3-1.5 -1.8-3.5 1.8-2.2 2.5-1.7 2.5-.3 1-.8 -.6-2.5 2.1-1.9 .5 1.9 2 1 4.5-3.5 -1.5-7.5 .7-2.5 3.8-2.2 2.5 2 2.5 .7 .8-.5 -.8-5.6 -2.5-2.1 -1 .2 -1.5 1.6 -.3-1.6 1.3-2.5 -.5-5 -.5-.7 -2.5 2.2 -2.5-1.1 -2.5 .4 -3 4.2 .8 2.5 -.3 1.8 -2.5-.2 -2.5 1.7 -2.5 .6 -1.3 1.1 -.3 2.5 -1.3 2.5 0 2.5 -2.1 2.2 -.2 2.8 -2.8 2.5 -1.3 2.5 .2 5 1 2.5 -.1 2.5 .7 .7 2.5 .6 1.4 1.2 -1.4 1.1 -7.5 .7 -2.5 2 -2.5-.2 -3.1 3.9 1 2.5 -.5 2.5 .5 2.5 3.9 2.5 .5 2.5 -4.8 1.6 -4.1 3.4 -2 5 -.1 5 .2 2.5 1 .9 7.5 .6 2.5-1.9 1.3 .4 .6 2.5 -.5 2.5 -2.4 2.5 -.7 2.5 -1.9 2.5 -.9 5 .1 5 2.5 2.5 0 2.5 -.6 .6 -2.5 0 -2.5 1.9 2.5 2 2.5 0 .5 .5 .1 20 -21.2 0 0-32.5 .6-1.4 2.5-.4 .7-.7 -3.2-1.5 -1.4-6 0-5 -1.1-1.3 -2.5-.5 -2.5 .4 -2.5-1.3 -2.5 2.5 0-21.6 1.1 1.8 -.4 2.5 2.6 2.5 .5 2.5 .4 10 .8 .4 1.6-.4 .9-.7 .7 .7 1.8 .5 1.8 2 0 5 .7 2.5 2.5 2.5 1.8-2.5 -2.1-2.5 0-2.5 2.8-.1 .6 2.6 1.9 1.4 5 .4 1.2 .7 .9 2.5 2.9 1.3 .7-3.8 3.2-7.5 -.7-2.5 -8.2-.8 -1.9-1.7 .4-10 -1.8-2.5 -1.7-1.3 -5-.4 -2.5 .2 -2.5 1.8 -2.5 .4 -1.1-.7 -.2-2.5 -1.2-1.1 -2.5-1.8 -2.5-1 0-12.4 2.5 .8 .1-2 4.9-4 1.5 1.5 1 3.2 1.6-.7 .9-1.8 5-.1 2-3.1 -1.7-2.5 0-2.5 2.5-2.5 0-2.5 -2.6-2.5 -1.6-2.5 1.4-1.4 .4-1.1 -.8-2.5 .4-.9 2.2-1.6 -2.4-2.5 .2-4.5 5 2.6 .6-.6 -1.4-2.5 .8-2 .5-3 -2.4-2.5 .7-2.5 -1.3-2.5 -2.5-1.9 -2.5 .4 -2.5-2.2 -2.5-.3 -.9 1.5 .2 2.5 -1.8 1.4 -2.5 1 -2.5-.8 -2.5 3.9 0-17.1 .8-.9 -.8-1.3 0-1.4 2.5-.1zM268.8 142l2.6 2.5 .8 2.6 2.5 1.1 2.5 .5 .8-4.2 -2.4-2.5 -.9-.5 -2.5-.1 -3.4 .6zM59.3 147l.4 1.6 0-2 -.4 .4zM59.9 149.5l-1.5 2.5 1.5 2.5 -.5 2.5 2.8 .7 .9-.7 -.3-2.5 1.4-5 -2-.7 -2.3 .7zM230.9 152l-1.4 2.5 -.7 2.5 .4 2.5 -4.9 2.5 .4 5.4 2.5 2.5 2.5-1.2 5-.3 5 5 .9-1.4 3.6-2.5 -.6-2.5 -3.3-2.5 -.3-2.5 -2.1-2.5 3.1-2.5 .1-5 -1.4-1.2 -2.5-.7 -2.5 .8 -2.5 0 -1.3 1.1zM75.9 157l3.4 5 .4 7.4 2.5-4.9 -2.3-2.5 4.2-5 -1.9-1.9 -5-.4 -1.3 2.3zM153.6 157l-2.7 2.5 -.6 5 1.9 1.8 2.5 .1 1.5-1.9 2.5-5 .2-2.5 -1.7-1.3 -2.5 .1 -1.1 1.2zM144.6 162l-1 5 .8 2.5 2.8 1.1 1.1-1.1 .8-2.5 -.4-2.5 -4.1-2.5zM157.2 164.5l2.5 1 .6-1 -.6-.6 -2.5 .6zM164.1 169.5l1.5 2.5 1.6 .5 .7-.5 -.7-1.8 -2.5-1.6 -.6 .9zM231.7 169.5l.5 .4 1-.4 -1.5 0zM162.2 172l-1 2.5 1 .5 0-3zM170.2 172l-7 5 .3 2.5 3.7 3.9 2.5 .1 1.3-1.5 3.7-1.3 2.5 0 1.2-1.2 -.1-2.5 -1.6-2.5 -2-1.8 -2.5-1.2 -2 .5zM229.1 172l.6 2.1 .8-2.1 -.8-.7 -.6 .7zM234.1 172l0 2.5 .6 .6 .7-.6 .3-2.5 -1-1.3 -.6 1.3zM119.1 174.5l.6 5.8 2.5 .5 1-1.3 .9-2.5 -2.4-2.5 -2-.9 -.6 .9zM136.4 174.5l.7 2.5 -1.2 2.5 2.8 2.5 -1.5 .9 -3.7 4.1 1.2 1.7 2.5 0 7.5 2.9 2.5 .2 2.5-3.3 2.5-.7 .6-.8 .2-2.5 -.8-1.1 -5-.1 -4-1.3 -1-2.5 .9-2.5 -3.4-3.3 -2.5-.3 -.8 1.1zM75.6 177l-2.6 2.5 .4 2.5 -.8 2.5 .6 2.5 1.5 1.5 2.5 .9 2.5 .2 2.1-2.6 2.2-5 -.1-5 -1.7-1.8 -2.5-.1 -2.5 .2 -1.6 1.7zM236.9 177l.6 0 -.3-.4 -.3 .4zM228.2 179.5l-4.1 2.5 -.7 2.5 -1.2 1.7 -2.5 .3 -2.5 1.8 -.7 1.2 .7 3.4 2.5 .7 1.2 .9 1 2.5 2.6 2.5 -.5 2.5 1.8 2.5 .2 2.5 1.2 .2 3.7-2.7 -.5-2.5 .7-2.5 -1.7-2.5 1.2-2.5 1.6-1.4 5.3-1.1 2.1 2.5 .1 2.6 2.5-2.2 2.5 1.8 2.5-1 .3-1.2 -2.2-2.5 .2-2.5 2.6-5 .1-2.5 -1-1.1 -4.5-1.4 -.5-1.7 -1 1.7 1.2 2.5 -2.7 1.7 -.8-1.7 -.2-2.5 -1.5-.6 -2.5-.7 -2.5-.1 -2.5 .5 -1.5 .9zM178.8 182l.9 1.3 1-1.3 -1-.9 -.9 .9zM123.1 184.5l-2.5 2.5 .2 2.5 1.4 1.4 5 .8 2.5-.6 1.2-1.6 .6-2.5 -.5-2.5 -1.3-1.1 -5-1 -1.6 2.1zM258.2 187l-3.8 2.5 -.4 2.5 -2.9 2.5 .2 2.5 -2.4 5 2.1 5 1.2 1.5 5-.9 1.3-3.1 .2-2.5 1.8-2.5 .1-10 -.5-2.5 -.4-.5 -1.5 .5zM108.9 189.5l-4.2 2.1 -.3 .4 .3 .5 5 1.7 2.5-2.7 .9-2 -.9-1.1 -3.3 1.1zM114.6 192l1.1 2.5 -1 2.7 2.2 2.3 3.1 0 -.1-2.5 2-2.5 -.2-2.5 -2-2.2 -2.5 .1 -2.6 2.1zM78.2 197l.9 2.5 -1.9 2.5 2 2.5 .4 2.5 -1.7 10 1.4 2.5 2.9 1.9 2.5-1.5 1.6-.4 -1.2-2.5 -3-2.5 -.5-5 -1.8-2.5 .4-2.5 -.3-2.5 2.4-2.5 .5-2.5 -.6-2.2 -4 2.2zM174 199.5l-1.8 1.7 -2.5 .3 -2.6 3 0 2.5 .7 2.5 2.5 2.5 1.9 1 2.5-.6 2.5-1.9 2.5 0 1.7-1 2.1-2.5 -.9-5 -2.9-3 -2.5-.6 -2.5 .5 -.7 .6zM61.8 202l-3.5 2.5 2.4 2.5 -1 1.3 -2.5 .5 -1 .7 -.2 5 .7 2.5 3 1 1.2 1.5 3.8 3 2.5-.6 2.5-1.7 2.5-.9 2.1-2.3 -.2-7.5 -4.4-4 -5 .7 -1.3-1.7 -.7-2.5 -.5-.5 -.4 .5zM110.7 202l1.5 .7 .9-.7 -.9-2.1 -1.5 2.1zM133.5 202l-2.9 5 .8 2.5 .8 1 2.5 .7 3.9-4.2 -.1-5 -1.3-1.9 -2.5 .6 -1.2 1.3zM214.3 202l-3 2.5 -1.2 2.5 2.1 2.7 2.5-.3 4.2-2.4 .8-1.3 2.5-1.2 -5-3.6 -2.5 .5 -.4 .6zM201.8 204.5l-.2 2.5 .6 1.7 .9 .8 1.6 3.5 2.1 1.5 -2.1 .3 -2.5 2.2 -2.5 .8 -.7 1.7 .5 2.5 -1.5 2.5 -3.3 3.9 -2.6 1.1 -1.6 2.5 -3.2 2.5 -.4 5 2 2.5 .8 .4 2.5-.5 2.5 1 7.5-6.3 3.9-4.6 -.3-2.5 2.3-2.5 0-2.5 2.8-2.5 .4-2.5 2.2-2.5 -1.3-1.5 -4.8-1 .7-2.5 -.4-2.5 -3-1.8 -1.7-3.2 -.8-.6 -.4 .6zM184.2 209.5l.5 4 .2-4 -.2-.4 -.5 .4zM236.8 209.5l-.2 2.5 .6 3.6 1.8-1.1 1.5-2.5 -.8-2.5 -2.5-1 -.4 1zM141.3 214.5l.9 .5 .4-.5 -.4-1.3 -.9 1.3zM114.3 219.5l-.1 2.5 .5 2.1 2.5-1 1-1.1 -1-4.6 -2.9 2.1zM126.2 219.5l-2.3 2.5 -.7 2.5 -2.5 2.5 .3 2.5 -.5 2.5 -2.5 2.5 -.5 2.5 2.2 1.4 5 .1 4.3-4 1.8-2.5 -.2-5 2.1-2.5 -3-6.7 -2.5 .7 -1 1zM122.1 222l-2 2.5 2.1 .5 .4-.5 -.5-2.5zM159.1 222l1.5 2.5 -.9 .3 -4 4.7 -.9 7.5 -1.9 2.5 .5 2.5 3.8 1 5 3.1 .7 3.4 1.8 1.3 2.5-.1 1.2-1.2 -.6-5 -.6-.6 -2.5 1 -1.4-.4 -.8-2.5 2.3-7.5 .4-2.5 -.2-2.5 2.3-2.5 -1.8-2.5 -.8-2.8 -2.5-.4 -2.5 .2 -.6 .5zM56.6 234.5l.6 .5 0-2.8 -.6 2.3zM141.9 237l.6 0 -.3-.4 -.3 .4zM118.8 239.5l0 2.5 2.8 2.5 .6 2 2.5-.7 .5-1.3 -1-2.5 .5-1.1 2-1.4 -7-.4 -.9 .4zM98.7 242l1 .3 .3-.3 -.3-.5 -1 .5zM128.8 242l-1.1 2.5 -1.7 2.5 1.4 2.5 -.3 2.5 2.6 .9 2.5 3.2 10 .7 5-1.9 0-.7 -2.5-2.6 -2.5-1.4 -1.2-3.2 -.4-2.5 -.9-1.1 -2.5-.4 -5 .2 -2.5-2.4 -.9 1.2zM187 244.5l-1.8 2.5 2 2.9 2.3-2.9 -2.5-2.5zM227 244.5l.8 0 -.6-.4 -.2 .4zM76.3 254.5l2.5 0 -1.6-.3 -.9 .3zM102.2 141.3l3.4 .7 -.9 1.5 -2.5-.3 -2.4-1.2 2.4-.7zM142.2 142l3.2 0 -.7 1.1 -2.5-1.1zM212.2 141.6l3.6 .4 .5 2.5 -1.6 .7 -2.5-2 -.6-1.2 .6-.4zM179.7 144.4l5-.4 .1 .5 -.1 .6 -2.5-.1 -1.5 2 -1 .5 -.3-.5 .3-2.6zM219.7 144l1.6 .5 .4 2.5 -2 2 -2.1-2 -.2-2.5 2.3-.5zM219.4 144.5l-1.2 2.5 1.5 1.4 1.4-1.4 -1.2-2.5 -.5 0zM252.2 143.8l5-.4 3.2 1.1 -3 2.5 .5 2.5 -.7 .5 -2.5-.3 -4-2.7 -.9-2.5 2.4-.7zM251 144.5l1.2 1.8 2.5 1.5 .9-.8 1.6-.5 2.1-2 -2.1-.9 -6.2 .9zM162.2 146.9l4 .1 2.1 2.5 -1.1 3.1 -.8-.6 -1.6-2.5 -3.6-2.5 1-.1zM184.7 147.4l1 2.1 4.4 2.5 .3 2.5 1.8 2.5 -2.5 1.3 -.6 1.2 .6 3.2 2.4 1.8 .1 2.5 -1.3 2.5 .5 2.5 -.9 2.5 4.2 3.6 .6 1.4 3.5 2.5 .4 2.5 2.5 2.5 -.6 5 1.6 2.5 -3 2.7 -.4-.2 -.5-2.5 -2.9-2.5 -.9-5 -2.6-2.5 0-2.5 -.7-2.5 -2-2 -2.5 2.6 -.9-.6 -.6-2.5 -2.3-2.5 1.1-2.5 -2.3-7.5 -6-2.5 -1-2.5 -2.4-2.5 .7-2.5 .1-2.5 1.1-.5 2.5 1 2.5-.6 2.5 1.2 2.5-.3 .4-.8 -.4-.5 -2.4-2 2.4-2.1zM183 149.5l1.7 1.3 .7-1.3 -.7-1.5 -1.7 1.5zM185.5 152l-.8 1.7 -1.6 .8 -.9 3.9 -2.5-1.4 -2.5-2.6 -1.8 2.6 9.3 6.9 .9 8.1 1.6 1.7 1.7-1.7 .7-7.5 -1.1-2.5 -.1-2.5 1.3-2.5 .2-2.5 -.4-2.5 -2.3-1.1 -1.7 1.1zM198.1 187l1.6 1.7 .2-1.7 -1.8 0zM197.2 149.4l2.5-1.2 2.3 1.3 .2 .6 2.5-1 2.5-.1 1.1 .5 2 2.5 3.3 2.5 1.1 3.5 3.2 1.5 1.8 2.6 1 2.4 .1 2.5 -2.3 2.5 -1.3 4.6 -1.1-2.1 -1.4-1.1 -1.5 1.1 -.2 2.5 2.2 2.5 -8 5.2 -2.5-.4 -2.3-2.3 .1-2.5 -2.4-2.5 -.4-2.9 -2.5-1.2 -2.5 1 -2.2-1.9 -.3-2.5 2.5-1.9 2.5 0 1.2-.6 -2.9-2.5 -.7-2.5 -2.6-2.5 4.6-5 .4-2.6zM195.9 154.5l-2.1 2.5 3 2.5 1.5 2.5 1.4 .9 2.1-.9 .5-2.5 -2.3-2.5 -.2-2.5 -2.6-1.7 -1.3 1.7zM208.8 154.5l.9 1.5 .8-1.5 -.8-.5 -.9 .5zM207.8 159.5l-3.1 2 -1.3 3 1.5 2.5 2.3 1.7 5 1.1 .5-2.8 2-1.7 1.1-3.3 -1.1-1.6 -2.5-1.9 -2.5 .1 -1.9 .9zM201.7 164.5l-.1 2.5 -1 2.5 1.6 2.5 -.2 2.5 2.8 2.5 1.7 2.5 .7 .4 2.5-.2 3.8-2.7 -2.9-2.5 -.9-2.7 -7.2-4.8 -.3-4.3 -.5 1.8zM218.9 164.5l-2.1 2.5 -.4 2.5 .8 .7 2.7-3.2 -.2-2.8 -.8 .3zM193.6 167l0 2.5 1.1 1 1.6-1 2.4-2.5 -1.5-.7 -2.5-.2 -1.1 .9zM137.2 153.9l2.4 .6 -3.9 0 1.5-.6zM134.7 155.8l0 1.3 0-1.3zM69.7 158l2.5 .5 1.3 1 1 2.5 -2.5 7.5 -2.3 .8 -.9-.8 -.6-5 -2.9-2.5 4.4-4zM69.1 159.5l-3.1 2.5 3.2 2.5 .5 1.6 1.1-1.6 1.4-.7 1.4-1.8 -1.4-2.3 -2.5-.8 -.6 .6zM237.2 165.9l.9 1.1 -.9 1.3 -1-1.3 1-1.1zM55.4 172l.2 5 -.9 1.9 0-8.8 .7 1.9zM92.2 170.9l.8 1.1 -.8 1.8 -.5-1.8 .5-1.1zM222.2 171.3l1.7 .7 -1.7 2.1 -.9-2.1 .9-.7zM239.7 185.4l0 4.1 -.5-2.5 .5-1.6zM62.2 187.8l2.3 4.2 2.7-2.3 2.5-.1 2.4 2.4 0 2.5 -2.4 1.6 -.6 .9 0 2.5 -1.9 1.6 -.8-1.6 -4.8-2.5 -1.9-2 -.1-.5 1.9-2.5 .7-4.2zM65.8 192l-1.1 1.7 -1.3 .8 1.3 2 2.5 1 3.2-5.5 -.7-.7 -2.5-.6 -1.4 1.3zM277.2 194.1l1.4 2.9 1.1 1 0 4.6 -2.5-.8 -.7-4.8 .7-2.9zM157.2 214l1.2 .5 -1.2 .3 -.8-.3 .8-.5zM279.7 212.3l0 4 -1.9-1.8 1.9-2.2zM274.7 217.7l1.7 1.8 .8 10.2 2.3 2.3 -.2 2.5 .4 .7 0 3.9 -2.5 1.3 -1 1.6 1.4 2.5 -.9 2.5 1.7 2.5 -1.2 2.6 -2.5 1.6 -2.5 2.9 -10 .5 -1 2.4 -.2 5 -1.1 2.5 0 22.5 -1.8 0 0-22.5 .6-2.5 .1-5 -1.6-1.5 -.8 1.5 -.2 2.5 0 27.5 -2.4 0 0-27.5 .9-2.5 3.6-5 -1.7-2.5 -.1-2.5 .7-1.3 5-2.9 5 .2 .7-1 1.8-.6 1.4-1.9 1.2-2.5 -2-2.5 -3.1-2.4 -2.5 .6 -2.5-.4 0-2.1 .1-.7 2.4-2.4 2.5 1.6 .4-6.7 7.1-6.8zM273.9 219.5l-5.3 5 -.6 7.5 .3 2.5 1.4 1.3 2.5-.9 2.5 2.9 .6-.8 1.1-10 -1-7.5 -.7-.7 -.8 .7zM272.1 242l-1.4 5 4 3.3 1.2-.8 -.9-2.5 .4-2.5 -2.5-2.5 -.7-.3 -.1 .3zM261.9 247l1 2.5 -.7 1.3 -2.9 1.2 1.3 2.5 1.6 .7 5 .3 2.5-.1 2.2-.9 -2-2.5 -.9-2.5 -4.3-2.5 -2.8 0zM55.4 244.5l-.7 .5 0-2.9 .7 2.4zM214.7 254.4l1.1 .1 -1.1 .4 -.5-.4 .5-.1zM94.7 258.5l.7 1 0 30 -1.3 0 0-30 .6-1zM154.7 257.7l2.1 1.8 0 30 -3.1 0 0-30 1-1.8z" fill="#d8ddc8" fill-rule="evenodd" stroke="#6e7a78" stroke-width="0.3" stroke-opacity="0.7"/>
<path d="M67.2 133l5-.2 1.5 1.7 -4 4.1 -2.8-1.6 -1.1-2.5 1.4-1.5zM66.2 134.5l1 2.2 2.5 1.5 3.7-3.7 -1.2-1.3 -2.5 0 -2.5 .1 -1 1.2zM112.2 132.9l1.5 1.6 -1.5 1.5 -2-1.5 2-1.6zM110.7 134.5l1.5 1.1 1.1-1.1 -1.1-1.2 -1.5 1.2zM269.7 141.8l5-.3 .9 .5 2.4 2.5 -.8 4.2 -2.5-.5 -2.6-1.2 -.7-2.5 -2.6-2.5 .9-.2zM271 142l1.2 1.2 1.2-1.2 -2.4 0zM273.7 144.5l1 1.4 .8-1.4 -.8-1 -1 1zM219.7 144.4l1.4 2.6 -1.4 1.4 -1.5-1.4 1.5-2.6zM218.8 147l.9 .8 .8-.8 -.8-1.6 -.9 1.6zM252.2 144.1l5-.5 2.1 .9 -2.1 2 -1.6 .5 -.9 .8 -2.5-1.5 -1.2-1.8 1.2-.4zM252.1 144.5l2.6 2 2.5-.6 1.5-1.4 -1.5-.6 -5.1 .6zM59.7 146.6l0 2 -.4-1.6 .4-.4zM62.2 148.8l2 .7 -1.4 5 .3 2.5 -.9 .7 -2.8-.7 .5-2.5 -1.5-2.5 1.5-2.5 2.3-.7zM62 157l.2-.4 -.2 .4zM184.7 148l.7 1.5 -.7 1.3 -1.7-1.3 1.7-1.5zM183.8 149.5l.9 .7 .4-.7 -.4-.8 -.9 .8zM187.2 150.9l2.3 1.1 .4 2.5 -.2 2.5 -1.3 2.5 .1 2.5 1.1 2.5 -.7 7.5 -1.7 1.7 -1.6-1.7 -.9-8.1 -9.3-6.9 1.8-2.6 2.5 2.6 2.5 1.4 .9-3.9 1.6-.8 .8-1.7 1.7-1.1zM185.9 152l-1.2 2.5 .3 2.5 1 2.5 .6 12.5 .6 .6 .6-.6 .4-7.5 -.6-2.5 .1-2.5 1.4-2.5 .3-2.5 -.4-2.5 -1.8-.8 -1.3 .8zM232.2 150.9l2.5 0 2.5-.8 2.5 .7 1.4 1.2 -.1 5 -3.1 2.5 2.1 2.5 .3 2.5 3.3 2.5 .6 2.5 -3.6 2.5 -.9 1.4 -5-5 -5 .3 -2.5 1.2 -2.5-2.5 -.4-5.4 4.9-2.5 -.4-2.5 .7-2.5 1.4-2.5 1.3-1.1zM232.1 152l-.6 2.5 -2 2.5 1.4 2.5 -1.2 1.6 -3.4 .9 2.1 2.5 .1 2.5 1.2 .3 5-.3 1.8-2.5 -1.3-2.5 2-3.5 2.5-1.9 .6-2.1 -.1-2.5 -.5-.4 -2.5-.3 -5.1 .7zM236.2 167l1 1.3 .9-1.3 -.9-1.1 -1 1.1zM239.4 167l-1 2.5 1.3 1.1 3.1-1.1 -.2-2.5 -2.9-1.1 -.3 1.1zM197.2 152.8l2.6 1.7 .2 2.5 2.3 2.5 -.5 2.5 -2.1 .9 -1.4-.9 -1.5-2.5 -3-2.5 3.4-4.2zM209.7 154l.8 .5 -.8 1.5 -.9-1.5 .9-.5zM269.7 154.2l2.5-.7 2.5 .1 .7 .9 1 5 -.2 2.5 2.7 7.5 .8 .8 0 5.1 -2.6-.9 -1.3-2.5 -1.1-.8 -2.5 .2 -5 5.1 -2.5-.6 -1.2-1.4 0-2.5 -1-2.5 -.7-5 -1.4-2.5 4.3-1.5 .3-1 4.7-5.3zM271.4 154.5l-1.7 .8 -3.3 4.2 -.4 2.5 -2.2 2.5 .9 10.3 2.5 .3 5-4.8 1.9-.8 .2-2.5 1.2-2.5 .4-5 -1.2-4.6 -2.5-.6 -.8 .2zM77.2 154.7l5 .4 1.9 1.9 -4.2 5 2.3 2.5 -2.5 4.9 -.4-7.4 -3.4-5 1.3-2.3zM77.1 157l2.6 3.2 3.2-3.2 -.7-.7 -2.5-.5 -2.6 1.2zM122.2 156.3l.5 .7 .5 5 -1.3 2.5 .3 1.6 1.5-1.6 1-.2 2.5 2.1 .8 5.6 -.8 .5 -2.5-.7 -2.5-2 -3.8 2.2 -.7 2.5 1.5 7.5 -4.5 3.5 -2-1 -.5-1.9 -2.1 1.9 .6 2.5 -1 .8 -2.5 .3 -2.5 1.7 -1.8 2.2 1.8 3.5 1.3 1.5 3.6 2.5 -2.4 2.5 .7 2.5 -.7 .9 -2.5-.5 -2.5-2.1 -1.1 1.7 -5.6 5 -.8 1.6 -1.7 .9 -.6 2.5 2.7 2.5 .2 2.5 -.8 2.5 .2 2.5 -1.1 2.5 -.4 5 -1.4 2.5 .6 2.5 -.1 2.5 4.9 3.1 1.1 1.9 .6 5 -.2 2.5 -2.4 2.5 .9 2.1 2.5 .9 5-.1 2.5-1.4 1.2 3.5 0 30 -.9 0 -.3-30.8 -.9 .8 0 30 -8.2 0 0-30 -.9-.6 -.4 .6 0 30 -1.4 0 0-30 -.7-1 -.6 1 0 30 -1.3 0 0-30 2.5-5 2.1-2.5 .4-2.5 -.2-5 -2.9-2.6 -.9 .1 -4.1 2.5 -.4 2.5 -2.6 2.5 -.1 10 2.5 2.5 0 2.5 -1.9 1.9 -2.5 0 -.8 .6 .8 .7 2.5 0 1.8 1.8 .1 20 -1.3 0 -.1-20 -.5-.5 -2.5 0 -2.5-2 2.5-1.9 2.5 0 .6-.6 0-2.5 -2.5-2.5 -.1-5 .9-5 1.9-2.5 .7-2.5 2.4-2.5 .5-2.5 -.6-2.5 -1.3-.4 -2.5 1.9 -7.5-.6 -1-.9 -.2-2.5 .1-5 2-5 4.1-3.4 4.8-1.6 -.5-2.5 -3.9-2.5 -.5-2.5 .5-2.5 -1-2.5 3.1-3.9 2.5 .2 2.5-2 7.5-.7 1.4-1.1 -1.4-1.2 -2.5-.6 -.7-.7 .1-2.5 -1-2.5 -.2-5 1.3-2.5 2.8-2.5 .2-2.8 2.1-2.2 0-2.5 1.3-2.5 .3-2.5 1.3-1.1 2.5-.6 2.5-1.7 2.5 .2 .3-1.8 -.8-2.5 3-4.2 2.5-.4 2.5 1.1 2.5-2.2zM115.5 159.5l-.8 .5 -1.3 2 1.3 3.3 2.5-.5 2.5 .5 2.6-3.3 -.1-3.8 -.3 1.3 -2.2 2.1 -1.3-2.1 -1.2-.5 -1.7 .5zM113.2 177l.1 2.5 1.4 3.7 2.5-.9 1-2.8 -1-3.7 -2.5 0 -1.5 1.2zM92.8 202l-2.9 2.5 -2 2.5 1.8 3.1 2.5 .6 2.5-2.1 2.5-1.1 3.1-3 -1.1-2.5 -2-.5 -4.4 .5zM85.8 222l-4 2.5 -.2 2.5 -1.9 1.6 -.4 .9 .4 7.6 5 .7 2.5-.1 5-5.7 .4-10 -.4-.6 -6.4 .6zM154.7 155.8l2.5-.1 1.7 1.3 -.2 2.5 -2.5 5 -1.5 1.9 -2.5-.1 -1.9-1.8 .6-5 3.8-3.7zM154.5 157l-2.6 2.5 -.2 5 .5 .5 2.5 .1 2.7-5.6 .4-2.5 -.6-.4 -2.7 .4zM69.7 158.9l2.5 .8 1.4 2.3 -1.4 1.8 -1.4 .7 -1.1 1.6 -.5-1.6 -3.2-2.5 3.7-3.1zM66.6 162l3.1 1.6 2.5-1 .5-.6 -.5-.8 -2.5-.9 -3.1 1.7zM144.7 161.8l4 2.7 .4 2.5 -.8 2.5 -1.1 1.1 -2.8-1.1 -.8-2.5 1.1-5.2zM202.2 162.7l.3 4.3 7.2 4.8 .9 2.7 2.9 2.5 -3.8 2.7 -2.5 .2 -.7-.4 -1.7-2.5 -2.8-2.5 .2-2.5 -1.6-2.5 1-2.5 .6-4.3zM204.4 174.5l2.8 1.4 .7-1.4 -.7-2.1 -2.5 .7 -.3 1.4zM209.1 177l1 0 -1 0zM219.7 164.2l.2 2.8 -2.7 3.2 -.8-.7 .4-2.5 2.1-2.5 .8-.3zM194.7 166.1l2.5 .2 1.5 .7 -2.4 2.5 -1.6 1 -1.1-1 0-2.5 1.1-.9zM194.6 169.5l.1-.8 -.1 .8zM162.2 172l0 3 -1-.5 1-2.5zM172.2 171.5l2.5 1.2 2 1.8 1.6 2.5 .1 2.5 -1.2 1.2 -2.5 0 -3.7 1.3 -1.3 1.5 -2.5-.1 -3.7-3.9 -.3-2.5 7-5 2-.5zM172.3 174.5l.6 2.5 -1 2.5 2.8 .3 .9-.3 -.6-5 -.3-.3 -2.4 .3zM229.7 171.3l.8 .7 -.8 2.1 -.6-2.1 .6-.7zM137.2 173.4l2.5 .3 3.4 3.3 -.9 2.5 1 2.5 4 1.3 5 .1 .8 1.1 -.2 2.5 -.6 .8 -2.5 .7 -2.5 3.3 -2.5-.2 -7.5-2.9 -2.5 0 -1.2-1.7 3.7-4.1 1.5-.9 -2.8-2.5 1.2-2.5 -.7-2.5 .8-1.1zM139.6 184.5l2.8 2.5 .7 2.5 1.6 .6 2.8-.6 .7-2.5 -2.9-2.5 -3.1-1 -2.6 1zM77.2 175.3l5-.1 1.7 1.8 .1 5 -2.2 5 -2.1 2.6 -2.5-.2 -2.5-.9 -1.5-1.5 -.6-2.5 .8-2.5 -.4-2.5 4.2-4.2zM76.5 177l-2.6 2.5 -.1 5 .3 2.5 .6 .7 2.5 .8 2.5-.7 3.2-5.8 -.2-5 -.5-.6 -5-.1 -.7 .7zM229.7 178.6l2.5-.5 2.5 .1 4 1.3 .2 2.5 .8 1.7 2.7-1.7 -1.2-2.5 1-1.7 .5 1.7 4.5 1.4 1 1.1 -.1 2.5 -2.6 5 -.2 2.5 2.2 2.5 -.3 1.2 -2.5 1 -2.5-1.8 -2.5 2.2 -.1-2.6 -2.1-2.5 -5.3 1.1 -1.6 1.4 -1.2 2.5 1.7 2.5 -.7 2.5 .5 2.5 -3.7 2.7 -1.2-.2 -.2-2.5 -1.8-2.5 .5-2.5 -2.6-2.5 -1-2.5 -1.2-.9 -2.5-.7 -.7-3.4 .7-1.2 2.5-1.8 2.5-.3 1.2-1.7 .7-2.5 5.6-3.4zM225.8 182l-1.4 2.5 .3 1.7 5-.5 2.2-1.2 -.2-2.5 -2-2 -3.9 2zM243.7 182l-2.5 2.5 .2 2.5 .8 1.1 2.5 .4 2.8-4 .1-2.5 -.4-.4 -2.5-.3 -1 .7zM234.4 187l.3 1.7 .4-1.7 -.7 0zM239.2 187l.5 2.5 0-4.1 -.5 1.6zM224 192l.7 1.5 .8-1.5 -.8-2.5 -.7 2.5zM225.4 194.5l-.7 2.5 2.5 2 .9-4.5 -.9-1.1 -1.8 1.1zM179.7 181.1l1 .9 -1 1.3 -.9-1.3 .9-.9zM199.7 186.8l0 1.9 -1.6-1.7 1.6-.2zM259.7 186.5l.9 3 -.1 10 -1.8 2.5 -.2 2.5 -1.3 3.1 -5 .9 -1.2-1.5 -2.1-5 2.4-5 -.2-2.5 2.9-2.5 .4-2.5 2.8-2.1 2.5-.9zM257.1 189.5l-5.1 5 -.4 5 -1.2 2.5 .9 2.5 .2 2.5 .7 .9 2.5-.3 2.5-1.3 .7-1.8 .2-2.5 1.8-2.5 -.2-5.6 -2.2-1.9 .2-2.5 -.6 0zM67.2 190.7l2.5 .6 .7 .7 -3.2 5.5 -2.5-1 -1.3-2 1.3-.8 2.5-3zM66.9 192l-.7 2.5 1 .7 .5-.7 .3-2.5 -.8-.3 -.3 .3zM114.7 191.8l2.5-1.9 2.5-.1 2 2.2 .2 2.5 -2 2.5 .1 2.5 -3.1 0 -2.2-2.3 1-2.7 -1-2.7zM174.7 198.9l2.5-.5 3.1 1.1 2.3 2.5 .9 5 -2.1 2.5 -1.7 1 -2.5 0 -2.5 1.9 -2.5 .6 -1.9-1 -2.5-2.5 -.7-2.5 0-2.5 2.6-3 2.5-.3 2.5-2.3zM173.6 204.5l-2.5 2.5 -.8 2.5 1.9 1.4 5-1.7 2.5 .5 2.5-2.7 -.8-2.5 -1.7-1.4 -2.5-1 -3.6 2.4zM62.2 201.5l1.2 3 1.3 1.7 5-.7 4.4 4 .2 7.5 -2.1 2.3 -2.5 .9 -2.5 1.7 -2.5 .6 -3.8-3 -1.2-1.5 -3-1 -.7-2.5 .2-5 1-.7 2.5-.5 1-1.3 -2.4-2.5 3.9-3zM59.3 204.5l2.9 1.7 .4-1.7 -.4-1.2 -2.9 1.2zM66.9 209.5l-.9 2.5 -.4 2.5 2.2 2.5 1.9 .5 2.5-.1 .4-.4 -1.6-2.5 .2-2.5 -1.1-2.5 -3.2 0zM112.2 199.9l.9 2.1 -.9 .7 -1.5-.7 1.5-2.1zM134.7 200.7l2.5-.6 1.3 1.9 .1 2.5 0 2.5 -3.9 4.2 -2.5-.7 -.8-1 -.8-2.5 1.6-3.2 2.5-3.1zM134.6 202l-1.2 2.5 -1.2 1 -.7 1.5 .7 2.6 2.5-.5 2.8-2.1 .2-5 -.5-.7 -2.6 .7zM214.7 201.4l2.5-.5 5 3.6 -2.5 1.2 -.8 1.3 -4.2 2.4 -2.5 .3 -2.1-2.7 1.2-2.5 3.4-3.1zM211.9 204.5l-.4 2.5 .7 .9 2.5 .3 3.1-1.2 1-2.5 -1.6-1.5 -2.5 .2 -2.8 1.3zM202.2 203.9l.8 .6 1.7 3.2 3 1.8 .4 2.5 -.7 2.5 4.8 1 1.3 1.5 -2.2 2.5 -.4 2.5 -2.8 2.5 0 2.5 -2.3 2.5 .3 2.5 -3.9 4.6 -7.5 6.3 -2.5-1 -2.5 .5 -.8-.4 -2-2.5 .4-5 3.2-2.5 1.6-2.5 2.6-1.1 3.3-3.9 1.5-2.5 -.5-2.5 .7-1.7 2.5-.8 2.5-2.2 2.1-.3 -2.1-1.5 -1.6-3.5 -.9-.8 -.6-1.7 .2-2.5 .4-.6zM203.7 217l-3.3 2.5 .2 2.5 -9.8 12.5 -.5 5 4.4 1.6 2.9-1.6 4.6-4 3-3.5 0-2.5 2.2-2.5 -.1-2.5 2.6-2.5 .3-2.5 2.2-2.5 -2.7-.7 -5-.2 -1 .9zM184.7 209.1l0 4.4 -.5-4 .5-.4zM237.2 208.5l2.5 1 .8 2.5 -1.5 2.5 -1.8 1.1 -.6-3.6 .6-3.5zM142.2 213.2l.4 1.3 -.4 .5 -.9-.5 .9-1.3zM244.7 214.8l2.5-.2 2.5 .6 2.5 .7 1.1 1.1 .2 7.5 -2 5 .9 2.5 -.2 2.2 -2 2.8 -.5 2.7 -.5-2.7 -2-1.8 -4.9 4.3 -5.5 2.5 .8 5 3.2 2.5 .9 2.5 2.3 2.5 -1 2.5 .1 2.5 -4.7 5 -.3 2.5 0 22.5 -6.5 0 .1-32.5 2.3-2.5 .3-5 -2.7-2.5 -.5-2.5 -3.3-2.5 -.6-5 -2-2.5 2-2.9 2.5 .4 2.5-1.2 1.5-1.3 .3-2.5 1.5-2.5 9.2-9.7zM243.5 217l-6.9 7.5 -1.9 3.6 -.3 1.4 -3.3 2.5 -1.2 7.5 .9 2.5 1.4 1.1 2.5 .6 .9-1.7 1.6-1.6 3.6-.9 7.5-7.5 1.8-2.5 -.1-2.5 2.2-1.7 .4-.8 .1-5 -.5-2.9 -5-1 -2.5 .1 -1.2 1.3zM237.1 249.5l.1 .7 -.1-.7zM114.7 219.2l2.5-1.8 1 4.6 -1 1.1 -2.5 1 -.5-2.1 .1-2.5 .4-.3zM127.2 218.5l2.5-.7 3 6.7 -2.1 2.5 .2 5 -1.8 2.5 -4.3 4 -5-.1 -2.2-1.4 .5-2.5 2.5-2.5 .5-2.5 -.3-2.5 2.5-2.5 .7-2.5 3.3-3.5zM128.8 219.5l-.6 2.5 .9 2.5 .6 .5 .2-5.5 -.2-.4 -.9 .4zM123.8 224.5l-2 2.5 0 2.5 -.6 2.5 -2.5 2.5 -.1 2.5 1.1 .7 5 0 5.1-5.7 -2.9-7.5 -2.2-1.8 -.9 1.8zM274.7 218.8l.7 .7 1 7.5 -1.1 10 -.6 .8 -2.5-2.9 -2.5 .9 -1.4-1.3 -.3-2.5 .6-7.5 6.1-5.7zM271.9 222l-2.3 2.5 -.6 7.5 .7 2.7 5-3.7 .9-1.5 .1-2.5 -1-6.5 -2.8 1.5zM159.7 221.5l2.5-.2 2.5 .4 .8 2.8 1.8 2.5 -2.3 2.5 .2 2.5 -.4 2.5 -2.3 7.5 .8 2.5 1.4 .4 2.5-1 .6 .6 .6 5 -1.2 1.2 -2.5 .1 -1.8-1.3 -.7-3.4 -5-3.1 -3.8-1 -.5-2.5 1.9-2.5 .9-7.5 4-4.7 .9-.3 -1.5-2.5 .6-.5zM159.1 227l-2.3 2.5 0 2.5 -2 7.5 .7 2.5 4.2 1.1 2.9-3.6 1.1-7.5 -.5-5 -1-1 -2.5 .3 -.6 .7zM163.6 247l.5 2.5 .6 .4 2.5 .1 .5-.5 -.5-4.4 -2.5 .9 -1.1 1zM57.2 232.2l0 2.8 -.6-.5 .6-2.3zM142.2 236.6l0 .6 0-.6zM57.2 239.3l2.5 1.3 2.5-.4 2.5 .5 1.1 1.3 0 5 1.4 6 3.2 1.5 -.7 .7 -2.5 .4 -.6 1.4 0 32.5 -1.3 0 0-32.5 .6-2.5 -.8-7.5 .1-5 -.5-.6 -7.5-.4 -1 1 .2 2.5 -1.7 1.3 0-.8 .7-.5 -.7-2.7 2.5-2.5zM99.7 241.5l0 .8 -1-.3 1-.5zM129.7 240.8l2.5 2.4 5-.2 2.5 .4 .9 1.1 .4 2.5 1.2 3.2 2.5 1.4 2.5 2.6 0 .7 -5 1.9 -7.5-.3 -2.5-.4 -2.5-3.2 -2.5-.7 .2-2.7 -1.4-2.5 3.7-6.2zM129.6 244.5l1.4 7.5 2.4 2.5 1.3 .6 5-2 1.2-1.1 -1.2-6 -1.3-1.5 -1.2-.4 -2.5 1.2 -2.5 .4 -2.5-1.5 -.1 .3zM272.2 241.7l2.5 1.8 .7 1 -.4 2.5 .9 2.5 -1.2 .8 -4-3.3 1.5-5.3zM182.2 244.5l.3 2.5 1.7 2.5 3 2.5 5-4.8 7.5 1.9 2.5 2.2 2.4 3.2 -1.2 5 -3.7 3.7 -2.5-.5 -4.4 4.3 0 22.5 -4.8 0 0-22.5 -7.1-5 -.8-2.5 1.2-2.5 .9-4.3 .8-.7 -.8-.7 -2.5-.6 -2.5-2.2 -.5-1.5 5.5-2.5zM192.5 249.5l-.6 2.5 2.8 3 2.5 .1 .8-.6 -1.6-2.5 -.2-2.5 -3.7 0zM219.7 243.3l5 0 3.3 3.7 -.1 7.5 -.7 1.3 -1.4 1.2 -.4 2.5 -2 2.5 0 27.5 -11.8 0 .3-35 2.2-5 5.6-6.2zM220.7 244.5l-1.3 2.5 -3.5 2.5 -1.2 1.8 0 1 2.5 .6 2.3-.9 2.4-2.5 2.7-5 -2.4-.3 -1.5 .3zM214.2 254.5l.5 .4 1.1-.4 -1.6 0zM262.2 246.8l2.5 .2 4.3 2.5 .9 2.5 2 2.5 -2.2 .9 -2.5 .1 -5-.3 -1.6-.7 -1.3-2.5 2.9-1.2 .7-1.3 -1-2.5 .3-.2zM77.2 254.2l1.6 .3 -2.5 0 .9-.3zM127.2 257.5l7.5 .5 5-.9 2.5 .1 1.6 2.3 0 30 -17.5 0 0-30 .9-2zM257.2 258l1.6 1.5 -.1 5 -.6 2.5 0 22.5 -1.9 0 0-27.5 .2-2.5 .8-1.5z" fill="#e6e1c4" fill-rule="evenodd" stroke="#6e7a78" stroke-width="0.3" stroke-opacity="0.7"/>
<path d="M67.2 133.3l5-.1 1.2 1.3 -3.7 3.7 -2.5-1.5 -1-2.2 1-1.2zM66.5 134.5l.7 1.5 2.5 1.8 3.3-3.3 -.8-.9 -2.5 0 -2.5 .1 -.7 .8zM112.2 133.3l1.1 1.2 -1.1 1.1 -1.5-1.1 1.5-1.2zM111.2 134.5l1 .7 .7-.7 -.7-.8 -1 .8zM272.2 141.8l1.2 .2 -1.2 1.2 -1.2-1.2 1.2-.2zM252.2 144.5l5-.6 1.5 .6 -1.5 1.4 -2.5 .6 -2.5-2zM253.4 144.5l1.3 1 2.5-.2 .9-.8 -.9-.4 -3.8 .4zM274.7 143.5l.8 1 -.8 1.4 -1-1.4 1-1zM219.7 145.4l.8 1.6 -.8 .8 -.9-.8 .9-1.6zM219.4 147l.5 0 -.2-.5 -.3 .5zM184.7 148.7l.4 .8 -.4 .7 -.9-.7 .9-.8zM187.2 151.2l1.8 .8 .4 2.5 -.3 2.5 -1.4 2.5 -.1 2.5 .6 2.5 -.4 7.5 -.6 .6 -.6-.6 -.6-12.5 -1-2.5 -.3-2.5 1.2-2.5 1.3-.8zM186.3 152l-.8 2.5 .2 2.5 1.5 2.2 1.3-2.2 -.1-5 -1.2-.6 -.9 .6zM232.2 151.9l5-.6 2.5 .3 .5 .4 .1 2.5 -.6 2.1 -2.5 1.9 -2 3.5 1.3 2.5 -1.8 2.5 -5 .3 -1.2-.3 -.1-2.5 -2.1-2.5 3.4-.9 1.2-1.6 -1.4-2.5 2-2.5 .7-2.6zM231.2 157l1 1.7 2.5-.2 1.2-1.5 -1.2-1.3 -2.5 .2 -1 1.1zM272.2 154.3l2.5 .6 1.2 4.6 -.4 5 -1.2 2.5 -.2 2.5 -1.9 .8 -5 4.8 -2.5-.3 -.9-10.3 2.2-2.5 .4-2.5 3.3-4.2 2.5-1zM269.4 157l-1.1 2.5 1.4 3.2 2.1-.7 -.8-5 -1.3-.4 -.3 .4zM272.5 159.5l2.2 2.3 .8-2.3 -.8-2.5 -2.2 2.5zM62.2 156.6l0 .5 0-.5zM77.2 156.8l2.5-1 2.5 .5 .7 .7 -3.2 3.2 -2.5-3.4zM79 157l.7 .9 1.1-.9 -1.1-.3 -.7 .3zM154.7 156.7l2.5-.1 .6 .4 -.4 2.5 -2.7 5.6 -2.5-.1 -.5-.5 .2-5 2.8-2.8zM153 162l1.7 1.8 1-1.8 -1-1.5 -1.7 1.5zM117.2 159l1.2 .5 1.3 2.1 2.2-2.1 .3-1.3 .1 3.8 -2.6 3.3 -2.5-.5 -2.5 .5 -1.3-3.3 1.3-2 2.5-1zM115.8 162l1.4 .8 .8-.8 -.8-.9 -1.4 .9zM67.2 161.4l2.5-1.1 2.5 .9 .5 .8 -.5 .6 -2.5 1 -2.5-1 -.6-.6 .6-.6zM239.7 165.9l2.9 1.1 .2 2.5 -3.1 1.1 -1.3-1.1 1.3-3.6zM194.7 168.7l0 .9 0-.9zM174.7 174.2l.9 5.3 -.9 .3 -2.8-.3 1-2.5 -.6-2.5 2.4-.3zM204.7 173.1l2.5-.7 .7 2.1 -.7 1.4 -2.8-1.4 .3-1.4zM77.2 176.3l5 .1 .5 .6 .2 5 -3.2 5.8 -2.5 .7 -2.5-.8 -.6-.7 -.3-2.5 .1-5 3.3-3.2zM75.4 179.5l1.8 1.6 2.5-.5 1-1.1 -1-1 -2.5-.7 -1.8 1.7zM75.3 187l1.9 .6 1.4-.6 -1.4-1.7 -1.9 1.7zM114.7 175.8l2.5 0 1 3.7 -.7 2.5 -2.8 1.2 -1.4-3.7 -.1-2.5 1.5-1.2zM115.6 179.5l1.6 1 .4-1 -.4-1.4 -1.6 1.4zM209.7 176.8l.4 .2 -1 0 .6-.2zM227.2 181.2l2.5-1.2 2 2 .2 2.5 -2.2 1.2 -5 .5 0-2.6 1.1-1.6 1.4-.8zM244.7 181.3l2.5 .3 .4 .4 -.1 2.5 -2.8 4 -2.5-.4 -.8-1.1 -.2-2.5 3.5-3.2zM139.7 184.5l2.5-1 3.1 1 2.9 2.5 -.7 2.5 -2.8 .6 -1.6-.6 -.7-2.5 -2.7-2.5zM234.7 186.8l.4 .2 -.4 1.7 -.3-1.7 .3-.2zM257.2 189.4l.5 .1 -.2 2.5 2.2 1.9 .2 5.6 -1.8 2.5 -.2 2.5 -.7 1.8 -2.5 1.3 -2.5 .3 -.7-.9 -.2-2.5 -.9-2.5 1.2-2.5 .4-5 5.2-5.1zM255.8 202l.5 2.5 .9 .4 .3-2.9 -.3-2.2 -1.4 2.2zM252 207l2.7 0 -2.5-1.3 -.2 1.3zM67.2 191.7l.8 .3 -.3 2.5 -.5 .7 -1-.7 1-2.8zM224.7 189.5l.8 2.5 -.8 1.5 -.7-1.5 .7-2.5zM227.2 193.4l.9 1.1 -.9 4.5 -2.5-2 .7-2.5 1.8-1.1zM94.7 201.5l2.5 0 2 .5 1.1 2.5 -3.1 3 -2.5 1.1 -2.5 2.1 -2.5-.6 -1.8-3.1 2-2.5 2.9-2.5 1.9-.5zM134.7 201.9l2.5-.6 .5 .7 -.2 5 -2.8 2.1 -2.5 .5 -.7-2.6 3.2-5.1zM59.7 204.2l2.5-.9 .4 1.2 -.4 1.7 -2.5-1.1 -.4-.6 .4-.3zM174.7 203.6l2.5-1.5 2.5 1 1.7 1.4 .8 2.5 -2.5 2.7 -2.5-.5 -5 1.7 -1.9-1.4 .8-2.5 3.6-3.4zM212.2 204.2l2.5-1 2.5-.2 1.6 1.5 -1 2.5 -3.1 1.2 -2.5-.3 -.7-.9 .7-2.8zM67.2 209.4l2.9 .1 1.1 2.5 -.2 2.5 1.6 2.5 -.4 .4 -2.5 .1 -1.9-.5 -2.2-2.5 .4-2.5 1.2-2.6zM204.7 216.1l5 .2 2.7 .7 -2.2 2.5 -.3 2.5 -2.6 2.5 .1 2.5 -2.2 2.5 0 2.5 -3 3.5 -4.6 4 -2.9 1.6 -4.4-1.6 .5-5 9.8-12.5 -.2-2.5 4.3-3.4zM201.7 219.5l0 2.5 -2.2 2.5 .2 1.2 2.5 .4 3.4-6.6 -.9-1.4 -3 1.4zM244.7 215.7l2.5-.1 5.4 1.4 0 7.5 -.4 .8 -2.2 1.7 .1 2.5 -1.8 2.5 -7.5 7.5 -3.6 .9 -1.6 1.6 -.9 1.7 -2.5-.6 -1.4-1.1 -.9-2.5 1.2-7.5 3.3-2.5 .3-1.4 1.9-3.6 8.1-8.8zM244.3 217l-2.4 2.5 -.8 2.5 1.1 1.2 2.5-.5 1.3-.7 2.4-2.5 .1-2.5 -1.3-.4 -2.5 0 -.4 .4zM237.2 227l-1.1 2.5 -3.2 2.5 -1 5 .3 3.1 2.5 .4 1.1-1 -.3-2.5 2.3-2.5 3-5 0-2.5 -1.1-1.1 -2.5 1.1zM129.7 219.1l0 5.9 -.6-.5 -.9-2.5 .6-2.5 .9-.4zM87.2 221.6l5-.2 .4 .6 -.4 10 -5 5.7 -2.5 .1 -5-.7 -.4-5.1 .4-3.4 1.9-1.6 .2-2.5 4-2.5 1.4-.4zM83.7 229.5l1 1.1 2.5-.1 .7-1 -.7-.8 -2.5-.3 -1 1.1zM85.9 234.5l-2 2.5 2.7 0 .6-.5 .9-2 -.9-1 -1.3 1zM272.2 221.6l2.5-1.1 1 6.5 -.1 2.5 -.9 1.5 -5 3.7 -.7-2.7 .6-7.5 2.6-2.9zM273.7 224.5l-.2 2.5 .7 2.5 .5 .1 .3-2.6 -.3-3.4 -1 .9zM124.7 222.7l2.2 1.8 2.9 7.5 -5.1 5.7 -5 0 -1.1-.7 .1-2.5 2.5-2.5 .6-2.5 0-2.5 2.9-4.3zM124.4 224.5l.3 1 .7-1 -.7-.6 -.3 .6zM121.8 232l-2.5 2.5 .4 2.4 2.5 .4 2-.3 2-2.5 .4-2.5 -1.9-.9 -2.5-.4 -.4 1.3zM159.7 226.3l2.5-.3 1 1 .5 5 -1.1 7.5 -2.9 3.6 -4.2-1.1 -.7-2.5 2-7.5 0-2.5 2.9-3.2zM156.6 237l.6 1.8 1.7 .7 .8 .9 .5-.9 -1-2.5 -2-1.9 -.6 1.9zM57.2 241l7.5 .4 .5 .6 -.1 5 .8 7.5 -.6 2.5 0 32.5 -1.9 0 .1-32.5 .7-7.5 -.5-2.5 -1.5-2.2 -1.3-.3 -1.2-2.4 -.8 2.4 -1.7 .5 -2.5 1.6 0-.8 1.7-1.3 -.2-2.5 1-1zM94.7 241.9l2.9 2.6 .2 5 -.4 2.5 -2.1 2.5 -2.5 5 0 30 -3.7 0 -.1-20 -1.8-1.8 -2.5 0 -.8-.7 .8-.6 2.5 0 1.9-1.9 0-2.5 -2.5-2.5 .1-10 2.6-2.5 .4-2.5 4.1-2.5 .9-.1zM90.9 249.5l1.3 1.2 1.6-1.2 -1.6-1.1 -1.3 1.1zM129.7 244.2l2.5 1.5 2.5-.4 2.5-1.2 1.2 .4 1.3 1.5 1.2 6 -1.2 1.1 -5 2 -1.3-.6 -2.4-2.5 -1.3-7.8zM136 249.5l-.5 2.5 1.7 .8 1.4-.8 .1-2.5 -1.5-1.1 -1.2 1.1zM222.2 244.2l2.4 .3 -2.7 5 -2.4 2.5 -2.3 .9 -2.5-.6 0-1 1.2-1.8 3.5-2.5 1.3-2.5 1.5-.3zM164.7 246l2.5-.9 .5 4.4 -.5 .5 -2.5-.1 -.6-.4 -.5-2.5 1.1-1zM194.7 249.2l1.5 .3 .2 2.5 1.6 2.5 -.8 .6 -2.5-.1 -2.8-3 .6-2.5 2.2-.3zM237.2 249.4l0 .8 0-.8zM97.2 258.9l.9 .6 0 30 -1.3 0 0-30 .4-.6zM107.2 258.7l.3 30.8 -1.2 0 0-30 .9-.8z" fill="#e8c8a0" fill-rule="evenodd" stroke="#6e7a78" stroke-width="0.3" stroke-opacity="0.7"/>
<path d="M67.2 133.7l5-.1 .8 .9 -3.3 3.3 -2.5-1.8 -.7-1.5 .7-.8zM66.8 134.5l.4 .9 2.5 2.1 3-3 -.5-.5 -2.5-.1 -2.5 .1 -.4 .5zM112.2 133.7l.7 .8 -.7 .7 -1-.7 1-.8zM111.8 134.5l.4 .3 .3-.3 -.3-.3 -.4 .3zM254.7 144.2l3.4 .3 -.9 .8 -2.5 .2 -1.3-1 1.3-.3zM254.7 144.5l2.8 0 -2.8 0zM219.7 146.5l0 .7 0-.7zM187.2 151.4l1.2 .6 .3 2.5 -.2 2.5 -1.3 2.2 -1.5-2.2 -.2-2.5 .8-2.5 .9-.6zM186.7 152l-.4 5 .9 1.2 .7-1.2 0-5 -.7-.3 -.5 .3zM79.7 156.7l1.1 .3 -1.1 .9 -.7-.9 .7-.3zM232.2 155.9l2.5-.2 1.2 1.3 -1.2 1.5 -2.5 .2 -1-1.7 1-1.1zM269.7 156.6l1.3 .4 .8 5 -2.1 .7 -1.4-3.2 1.4-2.9zM274.7 157l.8 2.5 -.8 2.3 -2.2-2.3 2.2-2.5zM273.9 159.5l.8 .8 0-1.7 -.8 .9zM117.2 161.1l.8 .9 -.8 .8 -1.4-.8 1.4-.9zM154.7 160.5l1 1.5 -1 1.8 -1.7-1.8 1.7-1.5zM154.3 162l.4 .5 .3-.5 -.3-.4 -.4 .4zM77.2 177.8l2.5 .7 1 1 -1 1.1 -2.5 .5 -1.8-1.6 1.8-1.7zM117.2 178.1l.4 1.4 -.4 1 -1.6-1 1.6-1.4zM77.2 185.3l1.4 1.7 -1.4 .6 -1.9-.6 1.9-1.7zM257.2 199.8l.3 2.2 -.3 2.9 -.9-.4 -.5-2.5 1.4-2.2zM252.2 205.7l2.5 1.3 -2.5 .3 0-1.6zM244.7 216.6l2.5 0 1.3 .4 -.1 2.5 -2.4 2.5 -1.3 .7 -2.5 .5 -1.1-1.2 .8-2.5 2.8-2.9zM202.2 219.1l2.5-1 .9 1.4 -3.4 6.6 -2.5-.4 -.2-1.2 2.2-2.5 0-2.5 .5-.4zM124.7 223.9l.7 .6 -.7 1 0-1.6zM274.7 223.6l.3 3.4 -.3 2.6 -.5-.1 -.7-2.5 .2-2.5 1-.9zM239.7 225.9l1.1 1.1 0 2.5 -3 5 -2.3 2.5 .3 2.5 -1.1 1 -2.5-.4 -.3-3.1 1-5 3.2-2.5 1.1-2.5 2.5-1.1zM84.7 228.4l2.5 .3 .7 .8 -.7 1 -2.5 .1 -1-1.1 1-1.1zM122.2 230.7l2.5 .4 1.9 .9 -.4 2.5 -2 2.5 -2 .3 -2.4-.3 -.5-2.5 2.5-2.5 .4-1.3zM87.2 233.5l.9 1 -.9 2 -.6 .5 -2.7 0 3.3-3.5zM157.2 235.1l2 1.9 1 2.5 -.5 .9 -.8-.9 -1.7-.7 -.6-1.8 .6-1.9zM59.7 242.1l1.2 2.4 1.3 .3 1.5 2.2 .5 2.5 -.7 7.5 -.1 32.5 -8.7 0 0-42.9 2.5-1.6 1.7-.5 .8-2.4zM92.2 248.4l1.6 1.1 -1.6 1.2 -1.3-1.2 1.3-1.1zM137.2 248.4l1.5 1.1 -.1 2.5 -1.4 .8 -1.7-.8 .5-2.5 1.2-1.1z" fill="#cc7363" fill-rule="evenodd" stroke="#6e7a78" stroke-width="0.3" stroke-opacity="0.7"/>
<path d="M67.2 134l5 0 .5 .5 -3 3 -2.5-2.1 -.4-.9 .4-.5zM67.1 134.5l2.6 2.6 2.6-2.6 -5.2 0zM112.2 134.2l.3 .3 -.3 .3 -.4-.3 .4-.3zM254.7 144.5l2.8 0 -2.8 0zM187.2 151.7l.7 .3 .2 2.5 -.2 2.5 -.7 1.2 -.9-1.2 -.1-2.5 .5-2.5 .5-.3zM187.1 152l.1 5.3 .2-5.3 -.3 0zM274.7 158.6l0 1.7 -.8-.8 .8-.9zM154.7 161.6l0 .9 -.4-.5 .4-.4z" fill="#a2364a" fill-rule="evenodd" stroke="#6e7a78" stroke-width="0.3" stroke-opacity="0.7"/>
<path d="M67.2 134.4l5.1 .1 -2.6 2.6 -2.5-2.7zM187.2 151.9l0 5.4 0-5.4z" fill="#8a1a32" fill-rule="evenodd" stroke="#6e7a78" stroke-width="0.3" stroke-opacity="0.7"/>
<path d="M56.7 288.0V261.9Q56.7 259.4 59.2 259.4H61.3Q63.8 259.4 63.8 261.9V288.0Z" fill="#cc7363" stroke="#7a8886" stroke-width="0.3" stroke-opacity="0.5"/>
<path d="M63.8 288.0V259.1Q63.8 258.0 64.9 258.0H64.9Q66.0 258.0 66.0 259.1V288.0Z" fill="#e8c8a0" stroke="#7a8886" stroke-width="0.3" stroke-opacity="0.5"/>
<path d="M66.0 288.0V263.5Q66.0 261.0 68.5 261.0H79.5Q82.0 261.0 82.0 263.5V288.0Z" fill="#d8ddc8" stroke="#7a8886" stroke-width="0.3" stroke-opacity="0.5"/>
<path d="M82.4 288.0V261.0Q82.4 258.5 84.9 258.5H86.1Q88.6 258.5 88.6 261.0V288.0Z" fill="#d8ddc8" stroke="#7a8886" stroke-width="0.3" stroke-opacity="0.5"/>
<path d="M88.6 288.0V260.2Q88.6 257.7 91.1 257.7H91.3Q93.8 257.7 93.8 260.2V288.0Z" fill="#e8c8a0" stroke="#7a8886" stroke-width="0.3" stroke-opacity="0.5"/>
<path d="M93.8 288.0V262.5Q93.8 261.0 95.2 261.0H95.2Q96.7 261.0 96.7 262.5V288.0Z" fill="#d8ddc8" stroke="#7a8886" stroke-width="0.3" stroke-opacity="0.5"/>
<path d="M96.7 288.0V267.3Q96.7 266.2 97.8 266.2H97.8Q99.0 266.2 99.0 267.3V288.0Z" fill="#e8c8a0" stroke="#7a8886" stroke-width="0.3" stroke-opacity="0.5"/>
<path d="M99.0 288.0V267.5Q99.0 265.0 101.5 265.0H104.2Q106.7 265.0 106.7 267.5V288.0Z" fill="#e6e1c4" stroke="#7a8886" stroke-width="0.3" stroke-opacity="0.5"/>
<path d="M106.7 288.0V265.6Q106.7 264.7 107.7 264.7H107.7Q108.6 264.7 108.6 265.6V288.0Z" fill="#e8c8a0" stroke="#7a8886" stroke-width="0.3" stroke-opacity="0.5"/>
<path d="M108.6 288.0V261.7Q108.6 259.2 111.1 259.2H122.5Q125.0 259.2 125.0 261.7V288.0Z" fill="#cadfd3" stroke="#7a8886" stroke-width="0.3" stroke-opacity="0.5"/>
<path d="M125.0 288.0V264.9Q125.0 262.4 127.5 262.4H142.5Q145.0 262.4 145.0 264.9V288.0Z" fill="#e6e1c4" stroke="#7a8886" stroke-width="0.3" stroke-opacity="0.5"/>
<path d="M145.0 288.0V262.3Q145.0 259.8 147.5 259.8H152.5Q155.0 259.8 155.0 262.3V288.0Z" fill="#cadfd3" stroke="#7a8886" stroke-width="0.3" stroke-opacity="0.5"/>
<path d="M155.0 288.0V259.7Q155.0 258.7 156.0 258.7H156.0Q157.0 258.7 157.0 259.7V288.0Z" fill="#e8c8a0" stroke="#7a8886" stroke-width="0.3" stroke-opacity="0.5"/>
<path d="M157.0 288.0V259.6Q157.0 258.1 158.5 258.1H158.5Q160.0 258.1 160.0 259.6V288.0Z" fill="#cadfd3" stroke="#7a8886" stroke-width="0.3" stroke-opacity="0.5"/>
<path d="M160.0 288.0V261.6Q160.0 259.1 162.5 259.1H164.3Q166.8 259.1 166.8 261.6V288.0Z" fill="#d8ddc8" stroke="#7a8886" stroke-width="0.3" stroke-opacity="0.5"/>
<path d="M166.8 288.0V268.8Q166.8 266.3 169.3 266.3H173.6Q176.1 266.3 176.1 268.8V288.0Z" fill="#cadfd3" stroke="#7a8886" stroke-width="0.3" stroke-opacity="0.5"/>
<path d="M176.1 288.0V267.8Q176.1 265.3 178.6 265.3H178.7Q181.2 265.3 181.2 267.8V288.0Z" fill="#d8ddc8" stroke="#7a8886" stroke-width="0.3" stroke-opacity="0.5"/>
<path d="M181.2 288.0V267.6Q181.2 265.1 183.7 265.1H184.6Q187.1 265.1 187.1 267.6V288.0Z" fill="#cadfd3" stroke="#7a8886" stroke-width="0.3" stroke-opacity="0.5"/>
<path d="M187.1 288.0V267.5Q187.1 265.0 189.6 265.0H191.4Q193.9 265.0 193.9 267.5V288.0Z" fill="#e6e1c4" stroke="#7a8886" stroke-width="0.3" stroke-opacity="0.5"/>
<path d="M193.9 288.0V261.0Q193.9 258.9 196.0 258.9H196.0Q198.1 258.9 198.1 261.0V288.0Z" fill="#cadfd3" stroke="#7a8886" stroke-width="0.3" stroke-opacity="0.5"/>
<path d="M198.1 288.0V262.6Q198.1 260.1 200.6 260.1H204.1Q206.6 260.1 206.6 262.6V288.0Z" fill="#d8ddc8" stroke="#7a8886" stroke-width="0.3" stroke-opacity="0.5"/>
<path d="M206.6 288.0V265.4Q206.6 263.3 208.7 263.3H208.7Q210.8 263.3 210.8 265.4V288.0Z" fill="#cadfd3" stroke="#7a8886" stroke-width="0.3" stroke-opacity="0.5"/>
<path d="M210.8 288.0V266.8Q210.8 264.3 213.3 264.3H221.1Q223.6 264.3 223.6 266.8V288.0Z" fill="#e6e1c4" stroke="#7a8886" stroke-width="0.3" stroke-opacity="0.5"/>
<path d="M223.6 288.0V267.2Q223.6 265.5 225.3 265.5H225.3Q227.0 265.5 227.0 267.2V288.0Z" fill="#d8ddc8" stroke="#7a8886" stroke-width="0.3" stroke-opacity="0.5"/>
<path d="M227.0 288.0V267.9Q227.0 265.8 229.1 265.8H229.1Q231.2 265.8 231.2 267.9V288.0Z" fill="#cadfd3" stroke="#7a8886" stroke-width="0.3" stroke-opacity="0.5"/>
<path d="M231.2 288.0V260.4Q231.2 257.9 233.7 257.9H237.2Q239.7 257.9 239.7 260.4V288.0Z" fill="#e6e1c4" stroke="#7a8886" stroke-width="0.3" stroke-opacity="0.5"/>
<path d="M239.7 288.0V265.6Q239.7 263.1 242.2 263.1H242.2Q244.7 263.1 244.7 265.6V288.0Z" fill="#cadfd3" stroke="#7a8886" stroke-width="0.3" stroke-opacity="0.5"/>
<path d="M244.7 288.0V265.4Q244.7 263.7 246.4 263.7H246.4Q248.1 263.7 248.1 265.4V288.0Z" fill="#d8ddc8" stroke="#7a8886" stroke-width="0.3" stroke-opacity="0.5"/>
<path d="M248.1 288.0V264.6Q248.1 262.1 250.6 262.1H252.4Q254.9 262.1 254.9 264.6V288.0Z" fill="#cadfd3" stroke="#7a8886" stroke-width="0.3" stroke-opacity="0.5"/>
<path d="M254.9 288.0V261.3Q254.9 258.8 257.4 258.8H257.5Q260.0 258.8 260.0 261.3V288.0Z" fill="#e6e1c4" stroke="#7a8886" stroke-width="0.3" stroke-opacity="0.5"/>
<path d="M260.0 288.0V264.2Q260.0 261.7 262.5 261.7H273.5Q276.0 261.7 276.0 264.2V288.0Z" fill="#cadfd3" stroke="#7a8886" stroke-width="0.3" stroke-opacity="0.5"/>
<path d="M56.7 288.0V260.4Q56.7 257.9 59.2 257.9H61.3Q63.8 257.9 63.8 260.4V288.0Z" fill="#cc7363" stroke="#7a8886" stroke-width="0.3" stroke-opacity="0.5"/>
<path d="M63.8 288.0V267.7Q63.8 266.3 65.2 266.3H65.2Q66.5 266.3 66.5 267.7V288.0Z" fill="#e8c8a0" stroke="#7a8886" stroke-width="0.3" stroke-opacity="0.5"/>
<path d="M82.4 269.0V268.3Q82.4 265.8 84.9 265.8H91.3Q93.8 265.8 93.8 268.3V269.0Z" fill="#e8c8a0" stroke="#7a8886" stroke-width="0.3" stroke-opacity="0.5"/>
<path d="M260.0 288.0V267.5Q260.0 265.0 262.5 265.0H273.5Q276.0 265.0 276.0 267.5V288.0Z" fill="#bcdadb" stroke="#7a8886" stroke-width="0.3" stroke-opacity="0.5"/>
<line x1="93.50" y1="142.00" x2="93.50" y2="190.00" stroke="#9cc6e0" stroke-width="1.0" stroke-opacity="0.35"/>
<line x1="117.80" y1="145.00" x2="117.80" y2="190.00" stroke="#e0b090" stroke-width="1.0" stroke-opacity="0.35"/>
<line x1="156.00" y1="145.00" x2="156.00" y2="190.00" stroke="#9cc6e0" stroke-width="1.0" stroke-opacity="0.35"/>
<line x1="219.50" y1="142.00" x2="219.50" y2="190.00" stroke="#9cc6e0" stroke-width="1.0" stroke-opacity="0.4"/>
</g>
<line x1="52.50" y1="129.00" x2="280.40" y2="129.00" stroke="#9a9a9a" stroke-width="1"/>
<line x1="52.50" y1="129.00" x2="52.50" y2="298.30" stroke="#9a9a9a" stroke-width="1"/>
<line x1="280.40" y1="129.00" x2="280.40" y2="298.30" stroke="#9a9a9a" stroke-width="1"/>
<line x1="52.50" y1="298.30" x2="280.40" y2="298.30" stroke="#666" stroke-width="1"/>
<line x1="55.00" y1="298.30" x2="55.00" y2="296.10" stroke="#666" stroke-width="0.8"/>
<line x1="64.17" y1="298.30" x2="64.17" y2="297.10" stroke="#666" stroke-width="0.8"/>
<line x1="73.35" y1="298.30" x2="73.35" y2="297.10" stroke="#666" stroke-width="0.8"/>
<line x1="82.53" y1="298.30" x2="82.53" y2="297.10" stroke="#666" stroke-width="0.8"/>
<line x1="91.70" y1="298.30" x2="91.70" y2="296.10" stroke="#666" stroke-width="0.8"/>
<line x1="100.88" y1="298.30" x2="100.88" y2="297.10" stroke="#666" stroke-width="0.8"/>
<line x1="110.05" y1="298.30" x2="110.05" y2="297.10" stroke="#666" stroke-width="0.8"/>
<line x1="119.23" y1="298.30" x2="119.23" y2="297.10" stroke="#666" stroke-width="0.8"/>
<line x1="128.40" y1="298.30" x2="128.40" y2="296.10" stroke="#666" stroke-width="0.8"/>
<line x1="137.57" y1="298.30" x2="137.57" y2="297.10" stroke="#666" stroke-width="0.8"/>
<line x1="146.75" y1="298.30" x2="146.75" y2="297.10" stroke="#666" stroke-width="0.8"/>
<line x1="155.93" y1="298.30" x2="155.93" y2="297.10" stroke="#666" stroke-width="0.8"/>
<line x1="165.10" y1="298.30" x2="165.10" y2="296.10" stroke="#666" stroke-width="0.8"/>
<line x1="174.28" y1="298.30" x2="174.28" y2="297.10" stroke="#666" stroke-width="0.8"/>
<line x1="183.45" y1="298.30" x2="183.45" y2="297.10" stroke="#666" stroke-width="0.8"/>
<line x1="192.62" y1="298.30" x2="192.62" y2="297.10" stroke="#666" stroke-width="0.8"/>
<line x1="201.80" y1="298.30" x2="201.80" y2="296.10" stroke="#666" stroke-width="0.8"/>
<line x1="210.98" y1="298.30" x2="210.98" y2="297.10" stroke="#666" stroke-width="0.8"/>
<line x1="220.15" y1="298.30" x2="220.15" y2="297.10" stroke="#666" stroke-width="0.8"/>
<line x1="229.33" y1="298.30" x2="229.33" y2="297.10" stroke="#666" stroke-width="0.8"/>
<line x1="238.50" y1="298.30" x2="238.50" y2="296.10" stroke="#666" stroke-width="0.8"/>
<line x1="247.68" y1="298.30" x2="247.68" y2="297.10" stroke="#666" stroke-width="0.8"/>
<line x1="256.85" y1="298.30" x2="256.85" y2="297.10" stroke="#666" stroke-width="0.8"/>
<line x1="266.02" y1="298.30" x2="266.02" y2="297.10" stroke="#666" stroke-width="0.8"/>
<line x1="275.20" y1="298.30" x2="275.20" y2="296.10" stroke="#666" stroke-width="0.8"/>
<text x="48.8" y="136.0" font-size="13" text-anchor="end" font-weight="normal" font-style="normal" fill="#231f20" stroke="#231f20" stroke-width="0.22">0</text>
<text x="48.8" y="168.35999999999999" font-size="13" text-anchor="end" font-weight="normal" font-style="normal" fill="#231f20" stroke="#231f20" stroke-width="0.22">250</text>
<text x="48.8" y="200.72" font-size="13" text-anchor="end" font-weight="normal" font-style="normal" fill="#231f20" stroke="#231f20" stroke-width="0.22">500</text>
<text x="48.8" y="233.08" font-size="13" text-anchor="end" font-weight="normal" font-style="normal" fill="#231f20" stroke="#231f20" stroke-width="0.22">750</text>
<text x="48.8" y="265.44000000000005" font-size="13" text-anchor="end" font-weight="normal" font-style="normal" fill="#231f20" stroke="#231f20" stroke-width="0.22">1000</text>
<text x="48.8" y="297.80000000000007" font-size="13" text-anchor="end" font-weight="normal" font-style="normal" fill="#231f20" stroke="#231f20" stroke-width="0.22">1250</text>
<circle cx="56.30" cy="291.80" r="0.55" fill="#333"/>
<circle cx="61.50" cy="291.80" r="0.55" fill="#333"/>
<circle cx="63.10" cy="291.80" r="0.55" fill="#333"/>
<circle cx="66.60" cy="291.80" r="0.55" fill="#333"/>
<circle cx="71.00" cy="291.80" r="0.55" fill="#333"/>
<circle cx="75.30" cy="291.80" r="0.55" fill="#333"/>
<circle cx="79.70" cy="291.80" r="0.55" fill="#333"/>
<circle cx="86.40" cy="291.80" r="0.55" fill="#333"/>
<circle cx="88.80" cy="291.80" r="0.55" fill="#333"/>
<circle cx="93.00" cy="291.80" r="0.55" fill="#333"/>
<circle cx="95.50" cy="291.80" r="0.55" fill="#333"/>
<circle cx="101.00" cy="291.80" r="0.55" fill="#333"/>
<circle cx="104.00" cy="291.80" r="0.55" fill="#333"/>
<circle cx="106.00" cy="291.80" r="0.55" fill="#333"/>
<circle cx="108.00" cy="291.80" r="0.55" fill="#333"/>
<circle cx="110.00" cy="291.80" r="0.55" fill="#333"/>
<circle cx="116.00" cy="291.80" r="0.55" fill="#333"/>
<circle cx="121.00" cy="291.80" r="0.55" fill="#333"/>
<circle cx="128.00" cy="291.80" r="0.55" fill="#333"/>
<circle cx="133.00" cy="291.80" r="0.55" fill="#333"/>
<circle cx="139.00" cy="291.80" r="0.55" fill="#333"/>
<circle cx="145.00" cy="291.80" r="0.55" fill="#333"/>
<circle cx="152.00" cy="291.80" r="0.55" fill="#333"/>
<circle cx="158.00" cy="291.80" r="0.55" fill="#333"/>
<circle cx="167.00" cy="291.80" r="0.55" fill="#333"/>
<circle cx="171.00" cy="291.80" r="0.55" fill="#333"/>
<circle cx="176.00" cy="291.80" r="0.55" fill="#333"/>
<circle cx="180.00" cy="291.80" r="0.55" fill="#333"/>
<circle cx="183.00" cy="291.80" r="0.55" fill="#333"/>
<circle cx="188.00" cy="291.80" r="0.55" fill="#333"/>
<circle cx="190.00" cy="291.80" r="0.55" fill="#333"/>
<circle cx="194.00" cy="291.80" r="0.55" fill="#333"/>
<circle cx="197.00" cy="291.80" r="0.55" fill="#333"/>
<circle cx="200.00" cy="291.80" r="0.55" fill="#333"/>
<circle cx="203.00" cy="291.80" r="0.55" fill="#333"/>
<circle cx="206.00" cy="291.80" r="0.55" fill="#333"/>
<circle cx="210.00" cy="291.80" r="0.55" fill="#333"/>
<circle cx="213.00" cy="291.80" r="0.55" fill="#333"/>
<circle cx="215.00" cy="291.80" r="0.55" fill="#333"/>
<circle cx="218.00" cy="291.80" r="0.55" fill="#333"/>
<circle cx="221.00" cy="291.80" r="0.55" fill="#333"/>
<circle cx="225.00" cy="291.80" r="0.55" fill="#333"/>
<circle cx="229.00" cy="291.80" r="0.55" fill="#333"/>
<circle cx="232.00" cy="291.80" r="0.55" fill="#333"/>
<circle cx="236.00" cy="291.80" r="0.55" fill="#333"/>
<circle cx="240.00" cy="291.80" r="0.55" fill="#333"/>
<circle cx="245.00" cy="291.80" r="0.55" fill="#333"/>
<circle cx="248.00" cy="291.80" r="0.55" fill="#333"/>
<circle cx="252.00" cy="291.80" r="0.55" fill="#333"/>
<circle cx="256.00" cy="291.80" r="0.55" fill="#333"/>
<circle cx="260.00" cy="291.80" r="0.55" fill="#333"/>
<circle cx="266.00" cy="291.80" r="0.55" fill="#333"/>
<circle cx="273.00" cy="291.80" r="0.55" fill="#333"/>
<g clip-path="url(#cpB)">
<path d="M199.7 311l.8 .5 -.8 1.3 -.8-1.3 .8-.5z" fill="#3670ac" fill-rule="evenodd" stroke="#6e7a78" stroke-width="0.3" stroke-opacity="0.7"/>
<path d="M197.2 310.9l2.5-1.4 3 2 2.3 2.5 -.2 2.5 -3.2 0 -3.9-2.5 -.9-2.5 .4-.6zM198.9 311.5l.8 1.3 .8-1.3 -.8-.5 -.8 .5zM209.7 311.4l0 .5 -.3-.4 .3-.1zM229.7 314l1.6 2.5 -3.1 0 1.5-2.5z" fill="#427db7" fill-rule="evenodd" stroke="#6e7a78" stroke-width="0.3" stroke-opacity="0.7"/>
<path d="M197.2 309l3.7 0 3.8 2.5 5-1.4 3.7 3.9 -3.7 2.8 -7.5 .3 -7.5-1.2 -1.6-1.9 4.1-5zM196.8 311.5l.9 2.5 3.9 2.5 3.2 0 .2-2.5 -2.3-2.5 -3-2 -2.9 2zM209.4 311.5l.3 .4 .1-.4 -.4 0zM227.2 312.8l2.5-.2 2.5 .5 1.5 .9 1.9 2.5 -3.4 2.5 -2.5 .1 -5-.4 -2.5-1.5 -2.4-.7 2.4-2.2 2.5-.2 2.5-1.3zM229.6 314l-1.4 2.5 3.1 0 -1.7-2.5zM257.2 315.2l10-.6 3.4 1.9 .7 2.5 -4.1 2 -10-1.8 -.5-.2 -.7-2.5 1.2-1.3z" fill="#518bc0" fill-rule="evenodd" stroke="#6e7a78" stroke-width="0.3" stroke-opacity="0.7"/>
<path d="M114.7 309l12 0 -2 2.9 -4.4 2.1 -.5 2.5 -2.6 .6 -2.1-.6 -1.8-2.5 .7-2.5 -.9-2.5 1.6 0zM152.2 311.4l1.5-2.4 14.2 0 -2.6 2.5 -3.1 .2 -2.5 4 -.8 .8 -1.7 .5 -10 .1 -2.7-.6 -2.3-2.5 2.5-1.9 5 .8 2.5-1.5zM177.2 309l2.6 0 -3.1 0 .5 0zM194.7 309.7l.5-.7 1.8 0 -3.9 5 1.6 1.9 7.5 1.2 7.5-.3 3.7-2.8 -3.7-3.9 -5 1.4 -3.8-2.5 1.8 0 2 1.3 4.5-1.3 2.7 0 .3 .9 2.5 1.2 2-2.1 .7 0 .8 2.5 4 .6 3.6-.6 -1.1-1 -.4-1.5 7.5 0 -.9 2.5 3.8 1.2 2.2-1.2 -.5-2.5 4.7 0 -.3 2.5 -2.7 2.5 -.9 3.4 -2.5 .3 -2.5 2 -2.5 0 -5-.2 -2.5-1.5 -4-1.5 -1-2.2 -1.3-.3 -1.2-2 -.1 2 -4.9 3.3 -7.5 .3 -2.5-.6 -2.5 .4 -5-.3 -1.3-.6 -1.2-2.8 5-4zM224.8 314l-2.6 .3 -2.4 2.2 2.4 .7 2.5 1.5 5 .4 2.5-.1 3.4-2.5 -1.9-2.5 -1.5-.9 -2.5-.5 -2.5 .2 -2.4 1.2zM247.2 309l3.4 0 -.8 2.5 -3.4-2.5 .8 0zM254.7 312.6l10-.1 5 1.3 2.5 2.1 2.5 .3 0 2.8 -2.5 .4 -5 2.5 -7.4-.4 -5.1-2.3 -2.5-.1 -.4-2.6 2.9-3.9zM256 316.5l.7 2.5 10.5 2 4.1-2 -.7-2.5 -3.4-1.9 -10 .6 -1.2 1.3z" fill="#6199c8" fill-rule="evenodd" stroke="#6e7a78" stroke-width="0.3" stroke-opacity="0.7"/>
<path d="M79.7 311l.9-2 4.3 0 0 2.5 2.6 2.5 .3 2.5 -3.1 .5 -8-.5 .5-2.6 1.1-2.4 1.4-.5zM97.2 309l.9 0 -.3 2.5 -.6 .3 0-2.8zM109.7 309l3.4 0 .9 2.5 -.7 2.5 1.8 2.5 2.1 .6 2.6-.6 .5-2.5 4.4-2.1 2-2.9 10 0 .5 1 2-1 14.5 0 -1.5 2.5 -2.5 1.4 -5-.8 -2.5 1.9 2.3 2.5 2.7 .6 10-.1 1.7-.5 3.3-4.8 3.1-.2 2.6-2.5 16 0 -4.2 2.2 -2.5 .5 -2.5-1.2 -2.5-.3 -2.5 .9 -.5 .4 .5 .8 2 1.7 -1.3 5 -.7 .2 -2.5-.2 -.6-5 -1.9-.5 -2.5 0 -1.4 3 -1.1 .7 -2.5 .5 -5-.2 -5 .4 -5-1.1 -10 .5 -3.2-3.3 2-2.5 -1.3-1.2 -2.5 .2 -5.8 6 -1.7 1.4 -2.5 1 -5-.4 -2.5-.7 -5 0 -1.5-1.3 .6-2.5 .9-.8 5-1.7 -.6-2.5 .6 0zM187.2 309l8 0 -5.5 4.7 1.2 2.8 1.3 .6 5 .3 2.5-.4 5 .6 5-.3 4.9-3.3 .1-2 1.2 2 1.3 .3 1 2.2 4 1.5 2.5 1.5 7.5 .2 2.5-2 2.5-.3 .9-3.4 2.7-2.5 .3-2.5 5.3 0 3.3 2.5 .9-2.5 15.3 0 .6 2.5 5.7 1.8 .8-1.8 .1-2.5 6.6 0 0 5.8 -2.5 .4 -1.7 3.8 -.8 .8 -2.5 .2 -2.5 1.6 -2.5 .8 -7.5-.4 -5-2.2 -2.5 0 -1.8-.8 -.1-2.5 .6-2.5 -6.2-2.1 -2.5 2.9 -2.5 .3 -2.5 4.2 -2.5-.7 -2.5 1.7 -7.5-.2 -2.5-1.4 -7.5-2.7 -2.5 .3 -2.5 1.6 -5 .3 -5-.7 -2.5 1 -5-.7 -3.2-1.3 -.7-2.5 -1.9-2.5 -.5-2.5 1.3 0zM253.5 314l-1.7 2.5 .1 2.5 2.8 .2 5.1 2.3 7.4 .4 5-2.5 2.5-.4 0-2.8 -2.5-.3 -2.5-2.1 -5-1.3 -10 .1 -1.2 1.4zM274.3 314l.5 0 -.5 0zM204.7 309.2l4.5-.2 -4.5 1.3 -2-1.3 2 .2zM212.2 309l4.5 0 -2 2.1 -2.5-1.2 -.3-.9 .3 0zM219.7 309l4.6 0 .4 1.5 1.1 1 -3.6 .6 -4-.6 -.8-2.5 2.3 0zM232.2 309l4.2 0 .5 2.5 -2.2 1.2 -3.8-1.2 .9-2.5 .4 0zM99.7 313.4l.5 .6 .2 2.5 -.7 1.4 -1.6-1.4 1.6-3.1z" fill="#71a6cf" fill-rule="evenodd" stroke="#6e7a78" stroke-width="0.3" stroke-opacity="0.7"/>
<path d="M57.2 309l1.8 0 0 2.5 2.4 2.5 -.7 5 -1 .7 -2.5-.1 -.9-.6 -1.2-2.5 -.4-7.5 2.5 0zM74.7 311.1l3.4-2.1 2.5 0 -.9 2 -1.4 .5 -1.1 2.4 -.5 2.6 3 .4 2.5-.3 2.5 .4 2.5-.2 .6-.3 -.3-2.5 -2.6-2.5 0-2.5 2.4 0 .1 2.5 3.1 2.5 .8 2.5 -4.1 2.3 -2.5 .6 -7.5-.9 -4.4-2 -.6-1.7 -.2-.8 2.7-2.9zM94.7 309l2.3 0 .2 2.8 .6-.3 .3-2.5 11 0 .6 2.5 -5 1.7 -.9 .8 -.6 2.5 1.5 1.3 5 0 2.5 .7 5 .4 2.5-1 1.7-1.4 5.8-6 2.5-.2 1.3 1.2 -2 2.5 3.2 3.3 10-.5 5 1.1 5-.4 5 .2 2.5-.5 1.1-.7 1.4-3 2.5 0 1.9 .5 .6 5 2.5 .2 .7-.2 1.3-5 -2-1.7 -.5-.8 .5-.4 2.5-.9 2.5 .3 2.5 1.2 2.5-.5 4.2-2.2 2 0 .5 2.5 1.9 2.5 .7 2.5 3.2 1.3 5 .7 2.5-1 5 .7 5-.3 2.5-1.6 2.5-.3 7.5 2.7 2.5 1.4 7.5 .2 2.5-1.7 2.5 .7 2.5-4.2 2.5-.3 2.5-2.9 6.2 2.1 -.6 2.5 .1 2.5 1.8 .8 2.5 0 5 2.2 7.5 .4 2.5-.8 2.5-1.6 2.5-.2 .8-.8 1.7-3.8 2.5-.4 0 2.1 -2.5 .4 -.8 1.7 -1.7 1.5 -2.5 .1 -2.5 1.7 -2.5 .6 -7.5-.4 -5-2 -2.5 0 -2.5-.9 -7.5 0 -2.5-2.3 -2.5 2.9 -2.5-.2 -2.5 1 -7.5-.3 -5-2.3 -5-.7 -2.5-.1 -2.5 .8 -5 .3 -5-.7 -2.5 1.5 -10-2.3 -2.5 1.8 -2.5 0 -2.5 .8 -5-.8 -5 1.3 -2.5-.2 -2.5-2.4 -2.5-.8 -2.5 1.4 -7.5-.1 -5 .5 -5-.8 -7.5 .2 -2.5 .5 -2.5-.8 -1.7 1.2 3.5 2.5 -4.3 .6 -2.6-.6 -2.4-2.9 -5 1.5 -10-.4 -7.5 .5 -5.5-3.7 1.2-2.5 -1.8-2.5 .4-2.5 .7 0zM99.4 314l-1.3 2.5 1.6 1.4 .7-1.4 -.2-2.5 -.5-.6 -.3 .6zM137.2 309l2 0 -2 1 -.5-1 .5 0zM204.7 309l.9 0 -.9 0zM267.2 309l2.4 0 .1 .4 .1-.4 3.3 0 -.1 2.5 -.8 1.8 -5.7-1.8 -.6-2.5 1.3 0zM274.7 313.9l-.4 .1 .4-.1z" fill="#81b3d6" fill-rule="evenodd" stroke="#6e7a78" stroke-width="0.3" stroke-opacity="0.7"/>
<path d="M59.7 309l1.7 0 .4 2.5 4.2 2.5 1 2.5 -2.3 3.4 -2.5 1.9 -2.5 .4 -2.5-.7 -2.5 .1 0-7.1 .4 2 1.2 2.5 .9 .6 2.5 .1 1-.7 .7-5 -2.4-2.5 0-2.5 .7 0zM67.2 309l1.5 0 1 2.2 1.3-2.2 7.1 0 -3.4 2.1 -2.7 2.9 .8 2.5 4.4 2 7.5 .9 2.5-.6 4.1-2.3 -.8-2.5 -3.1-2.5 -.1-2.5 6.7 0 -.4 2.5 1.8 2.5 -1.2 2.5 5.5 3.7 7.5-.5 10 .4 5-1.5 2.4 2.9 2.6 .6 4.3-.6 -3.5-2.5 1.7-1.2 2.5 .8 2.5-.5 7.5-.2 5 .8 5-.5 7.5 .1 2.5-1.4 2.5 .8 2.5 2.4 2.5 .2 5-1.3 5 .8 2.5-.8 2.5 0 2.5-1.8 10 2.3 2.5-1.5 5 .7 5-.3 2.5-.8 2.5 .1 5 .7 5 2.3 7.5 .3 2.5-1 2.5 .2 2.5-2.9 2.5 2.3 7.5 0 2.5 .9 2.5 0 5 2 7.5 .4 2.5-.6 2.5-1.7 2.5-.1 1.7-1.5 .8-1.7 2.5-.4 0 1.7 -2.4 .4 -2.6 2.2 -2.5 .1 -2.5 1.8 -2.5 .3 -7.5-.4 -2.5-.6 -2.5-1.2 -12.5-.7 -2.5-1.7 -2.5 2.3 -1.7 .4 .2 2.5 1.6 2.5 -2.6 1.5 -5-4 -1.1-2.5 -3.9-.2 -5-2.2 -2.5 .6 -8.4-.7 -1.6 2.5 -2.5-.7 -2.3-1.8 -2.7-.5 -2.5 2 -2.5 .2 -5-1.7 -7.5 1.7 -2.5 .3 -5-.6 -2.5 1 -7.5-.7 -1.4-1.7 -1.1-.4 -2.5 1.9 -5.3-1.5 -3.7 0 -3.5 1.3 -2.5-.4 -2.5-.9 -4.6 0 -2.9 .9 -.6 1.6 -1.9 1.1 -5 1.1 -2.5-1 -2.5-1.8 -15 .1 -5 .7 -2.5-.1 -5-3 -2.5-.6 -2.2 1 .4 2.5 -.7 .3 -7.5 .9 -3.8-1.2 -8.7-4.5 -2.1-.5 .4-2.5 -1.8-2.5 .6-2.5 .4 0zM269.7 309l0 .4 0-.4zM162.2 321.3l.5 2.7 -.5 .4 -.5-.4 .5-2.7zM162.2 337.8l2.5-.1 .6 6.3 -.1 2.5 -.5 .4 -2.5 0 -.3-.4 -.5-2.5 .4-2.5 -.7-2.5 1.1-1.2z" fill="#91bfdc" fill-rule="evenodd" stroke="#6e7a78" stroke-width="0.3" stroke-opacity="0.7"/>
<path d="M62.2 309l4.6 0 -.6 2.5 1.8 2.5 -.4 2.5 2.1 .5 8.7 4.5 3.8 1.2 7.5-.9 .7-.3 -.4-2.5 2.2-1 2.5 .6 5 3 2.5 .1 5-.7 15-.1 2.5 1.8 2.5 1 5-1.1 1.9-1.1 .6-1.6 2.9-.9 4.6 0 2.5 .9 2.5 .4 3.5-1.3 3.7 0 5.3 1.5 2.5-1.9 1.1 .4 1.4 1.7 7.5 .7 2.5-1 5 .6 2.5-.3 7.5-1.7 5 1.7 2.5-.2 2.5-2 2.7 .5 2.3 1.8 2.5 .7 1.6-2.5 8.4 .7 2.5-.6 5 2.2 3.9 .2 1.1 2.5 5 4 2.6-1.5 -1.6-2.5 -.2-2.5 1.7-.4 2.5-2.3 2.5 1.7 12.5 .7 2.5 1.2 2.5 .6 7.5 .4 2.5-.3 2.5-1.8 2.5-.1 2.6-2.2 2.4-.4 0 3.8 -2.5 .9 -5-.3 -2.5 .8 -2.5 .1 -7.5-.4 -5-1 -2.5 .3 -7.5-.6 -3.2-.7 -1.5 2.5 .7 2.5 -.7 2.5 -.4 7.5 -2.4 2.6 -2.1-.1 -.8-2.5 -2.1-1.4 -1.1 1.4 -1.4 .4 0-2.6 .5-.3 -.5-.4 -2.1-9.6 -.4-.5 -2.5-.4 -2.5-1.9 -4.9 .3 -10.1 2.4 -2.5-.6 -5-4.3 -2.5 2.5 -2.5 1.6 -10-1.7 -2.5 1.3 -2.5 .4 -2.5-1.7 -2.5 .5 -2.5 1.3 -5-.2 -.9 1 0 5 -1.2 2.5 .9 15 -3.8 2.4 -3.2-4.9 .5-7.5 -.3-7.5 -1-5 -1-1.3 -5-.7 -15 .5 -5.5 1.5 1.7 2.5 -1.2 .7 -2.5 .2 -4.8-3.4 -2.7-1 -5 .3 -10-.3 -5 1 -2.5-.4 -2.5-1.4 -2.5-.3 -4.6 2.1 2.6 2.5 -5.5 3.1 -2.5-1.8 -2.5-.9 -2.5-.3 -2.5 .8 -1.8-.9 2.2-2.5 -2.9-.6 -2.5-1.2 -2.5 .2 -2.5 .8 -2.5 .1 -5 1.6 -2.5-1.1 -2.5 .1 0-2.3 2.5-.1 2.5 .7 3.2-.7 2.6-2.5 1.5-2.5 -1-2.5 -4.2-2.5 -.4-2.5 .8 0zM162 321.5l-.3 2.5 .5 .4 .5-.4 -.2-2.5 -.5 0zM161.1 339l.7 2.5 -.4 2.5 .5 2.5 .3 .4 2.5 0 .5-.4 .1-2.5 -.6-6.3 -2.5 .1 -1.1 1.2zM69.7 309l1.3 0 -1.3 2.2 -1-2.2 1 0zM222.2 325.8l1.3 .7 -1.3 3 -.4-.5 .4-3.2zM217.2 337.1l.7 1.9 -.7 2.5 -1.8-2.5 1.8-1.9z" fill="#a0cae0" fill-rule="evenodd" stroke="#6e7a78" stroke-width="0.3" stroke-opacity="0.7"/>
<path d="M199.7 319l5 4.3 2.5 .6 5-1.3 7.5-1.3 2.5-.1 2.5 1.9 2.5 .4 1.8 5.5 .7 4.6 .5 .4 -.5 .3 -.2 2.2 .2 .4 1.4-.4 1.1-1.4 2.1 1.4 .8 2.5 2.4 0 2.1-2.5 .4-7.5 .7-2.5 -.7-2.5 1.5-2.5 3.2 .7 7.5 .6 2.5-.3 5 1 7.5 .4 2.5-.1 2.5-.8 5 .3 2.5-.9 0 5.7 -12.5 .6 -5-2.2 -2.2-2.5 -2.8-.2 -1.2 .2 2 2.5 -3.3 .7 -5-.7 -4.2 0 -.8-.4 -.3 .4 -2.2 .4 -1.2 2.1 -1 10 -2.8 .9 -2.5 2 -5-3.9 -1-1.5 .2-2.5 -.4-2.5 -1.3-3.3 -2.5 .8 -4.8 5 .5 2.5 -.3 2.5 -1.9 2.5 -3.5 2.6 -2.5-.7 -1.5-1.9 -.5-5 1.2-2.5 .3-2.5 -.7-2.5 -6.3-1.7 -2.5 .5 -1.1 1.2 -.5 2.5 .1 2.5 -.8 2.5 -2.5 2.5 .2 2.5 -2.3 2.5 -.6 3.7 -1.2 1.3 -.9 2.5 -2.9 2.6 -.9-12.6 .3-2.5 2.6-5 .5-5 -2.5-2 -1.4-.5 -1.1-1.3 -.9 1.3 -3.7 2.5 -.4 .9 -2.6-.9 -2.1-5 -2.8 0 1.9 2.5 -6.9 1.3 -2.5 1.9 -1.1 1.8 .6 15 -4.5 3.4 -3.4-3.4 -1.4-2.5 1.5-7.5 0-5 -.8-2.5 -.9-1.8 -3.4-.7 -1.6-1.1 -1.6 1.1 -5.9 1.3 -5-1 -2.5 .7 -1.9 1.5 -.6 1.5 -5-.6 -5-2.4 -5 .6 -7.5-.6 -5 .6 -7.5-1.4 -2.5 .7 -1.6 1.6 -.9 5.3 -2.5-.2 -1.2 2.4 0 2.5 3.3 2.5 .4 1.5 0 1.1 -2.5 3.2 -2.5-.1 -1.5-.7 -.8-2.5 .6-2.5 -1.1-2.5 1.6-2.5 -2.7-2.5 -.2-2.5 -.9-1.1 -2.5-1.3 -5 .8 -7.5-1.8 -2.5-.1 -2.5 1.4 -7.5-.2 -2.5-.6 0-4.7 2.5-.1 2.5 1.1 5-1.6 2.5-.1 2.5-.8 2.5-.2 2.5 1.2 2.9 .6 -2.2 2.5 1.8 .9 2.5-.8 2.5 .3 2.5 .9 2.5 1.8 5.5-3.1 -2.6-2.5 4.6-2.1 2.5 .3 2.5 1.4 2.5 .4 5-1 10 .3 5-.3 2.7 1 4.8 3.4 2.5-.2 1.2-.7 -1.7-2.5 5.5-1.5 15-.5 5 .7 1 1.3 1 5 .3 7.5 -.5 7.5 3.2 4.9 3.8-2.4 -.9-15 1.2-2.5 0-5 .9-1 5 .2 2.5-1.3 2.5-.5 2.5 1.7 2.5-.4 2.5-1.3 10 1.7 2.5-1.6 2.5-2.5zM183.9 324l.8 .9 1.3-.9 -1.3-.4 -.8 .4zM242 324l.2 .9 1.1-.9 -1.3 0zM221.9 326.5l-.1 2.5 .4 .5 1.3-3 -1.3-.7 -.3 .7zM216.9 329l.9 0 -.6-1.8 -.3 1.8zM215.4 339l1.8 2.5 .7-2.5 -.7-1.9 -1.8 1.9zM82.2 336.5l.3 2.5 3.3 2.5 .8 2.5 -1.9 2.5 -2.7 0 -1.3-2.5 -.4-2.5 1.9-2.5 0-2.5zM129.7 344.9l.8 1.6 -.8 .7 -1-.7 1-1.6zM132.2 348.7l0 .7 0-.7zM77.2 353.8l1.6 2.7 -1.6 .4 0-3.1zM79.7 357.7l3.3 1.3 .7 2.5 1 .9 .6 1.6 -.4 2.5 -2.7 2.5 0-5 -2.5-2.5 0-3.8zM202.2 365.6l2.1 .9 .4 2.5 -2.5 .6 -.8-.6 .8-3.4zM109.7 369.8l5-.5 2.5 .7 1 1.5 -.8 2.5 .5 2.5 -3.2 1.9 -2.5-1.5 -2.6-2.9 -.5-2.5 .6-1.7zM137.2 371.1l.6 .4 -.6 1.5 -.5-1.5 .5-.4zM162.2 373.6l.1 .4 -.5 0 .4-.4zM187.2 373.9l.5 .1 -.5 .8 -1.1-.8 1.1-.1zM252.2 389.1l2.5 .2 2.5 1.4 .5 .8 -.8 2.5 -2.2 1.5 -2.5-.7 -.8-.8 -.7-2.5 1.5-2.4zM172.2 393.9l.9 .1 1.2 2.5 2.9 2.5 -2.5 2.8 -1.5-.3 -1.8-2.5 0-2.5 .8-2.6zM209.7 396.5l2.5 2.1 .2 2.9 2.6 2.5 -.3 5.1 -3-2.6 -.3-2.5 -1.7-1.5 -.3-1 .3-5zM249.7 406.3l1 .2 2.4 2.5 -3.8 2.5 .8 2.5 -.4 1.8 -1.7 3.2 -.8 0 -2.5-2.2 -.5-5.3 3-4.5 2.5-.7zM207.2 408.8l.3 .2 -.3 .6 0-.8zM209.7 413l.4 1 -.4 .1 0-1.1zM97.2 431.4l.7 .1 -.7-.1z" fill="#aed3e0" fill-rule="evenodd" stroke="#6e7a78" stroke-width="0.3" stroke-opacity="0.7"/>
<path d="M174.7 324l2.8 0 2.1 5 2.6 .9 .4-.9 3.7-2.5 .9-1.3 1.1 1.3 1.4 .5 2.5 2 -.5 5 -2.6 5 -.3 2.5 .9 12.6 2.9-2.6 .9-2.5 1.2-1.3 .6-3.7 2.3-2.5 -.2-2.5 2.5-2.5 .8-2.5 -.1-2.5 .5-2.5 1.1-1.2 2.5-.5 6.3 1.7 .7 2.5 -.3 2.5 -1.2 2.5 .5 5 1.5 1.9 2.5 .7 3.5-2.6 1.9-2.5 .3-2.5 -.5-2.5 4.8-5 2.5-.8 1.3 3.3 .4 2.5 -.2 2.5 1 1.5 5 3.9 2.5-2 2.8-.9 1-10 1.2-2.1 2.2-.4 .3-.4 .8 .4 4.2 0 5 .7 3.3-.7 -2-2.5 4 0 2.2 2.5 5 2.2 12.5-.6 0 2.9 -1.8 .5 1.1 5 -1.8 1.3 -2.5 .9 -4.1-4.7 1.6-2.1 .9-.4 -13.4-3.3 -5 .6 -5-.8 -2.5 .7 -5-.1 -1 2.9 -.4 7.5 -1.1 1.2 -2.5 .5 -2.5 1.9 -5-3.2 -1.7-2.9 .1-2.5 -.9-3.3 -2.5-.3 -4.1 3.6 .7 2.5 -.1 2.5 -2 2.5 -4.5 4.4 -2.5-.1 -1.4 .7 2 2.5 .1 7.5 -2.9 2.5 -.1 2.5 -2.1 2.5 -.1 2.5 -3 3.6 -2.5 2.1 -2.5-.6 -2.6-2.6 -2.4-3.7 -.4-1.3 .4-3.2 2-1.8 1.3-2.5 .8-2.5 0-2.5 3.1-2.5 .4-5 1.3-2.5 -1.4-6.6 -.4 1.6 -3.1 2.5 -.1 2.5 -2.7 5 -.2 2.5 -2 2.5 -4 3.4 -.8-.9 -.5-2.5 .3-5 -1.5-4.6 -2.7-.4 -.6-2.5 .1-2.5 -3.1-2.5 -.5-2.5 -.7-.6 -2.5-1.2 -2.4 1.8 .8 2.5 1.9 2.5 -2.8 3.8 -5-.2 -1-1.1 .1-2.5 -1.6-2 -.4 2 .4 6.8 .8 .7 .5 2.5 1.8 2.5 -3.1 1.5 -1.6-1.5 -.9-.2 -2.5 2 -2.5-2.7 -2.9-1.6 -.4-2.5 .2-2.5 1.2-2.5 .5-2.5 0-5 -1.1-2.3 -5-1.3 -2.5 .2 -2.1 .9 -.4 .6 -2.5 .1 -5-1.4 -1.7 .7 -1.2 2.5 .3 2.5 -1 2.5 1.1 5.3 -1.5 4.7 .2 2.5 -3 5 .7 5 -1.1 2.5 -.3 .4 -2.5 .5 -1.9 1.6 -.2 2.5 -2.6 2.5 -.1 2.5 -4.3 5 -3.4 2.7 -2.5 .8 -3-1 -1.7-2.5 -2.5-2.5 -1.5-2.5 -2.6-2.5 1.3-2.8 1.9-2.2 -1.9-1.9 0-3.3 3.1 .2 1.9 2.4 1.7-2.4 .5-2.5 -.1-5 2.1-2.5 -.6-2.5 -2.3-2.5 .1-2.5 1.1-1 2.5 3.2 1-2.2 1.5-1.5 2.5 .4 1.5 1.1 1 5.6 1-.6 .4-2.5 1.1-2.5 -2.4-2.5 -1.3-5 .2-2.5 -1.5-1.7 -5-.6 -7.5 .8 -7.5-1.2 -2.5 1.6 -.5 1.1 .3 2.5 -1 2.5 .7 2.5 -1.2 2.5 -.8 4.6 -2.1 5.4 -1.5 2.5 -1.4 5 -2.1 2.5 -.4 3.7 -3.5 3.8 1 2.2 2.5 .4 .4 2.4 -2.9 2.1 -2.6-2.1 1.6-2.5 -1.5-.3 -2.5 .7 -2.5-2.2 -1.1-3.2 -1.9-2.5 -.6-5 .9-2.5 2-2.5 .4-5 1.7-2.5 .1-5 2.3-2.5 -.2-2.5 2.4-2.5 -.9-2.5 -2.6 1.3 -7.5-2.5 -5-.5 -2.5 1.9 -5 .1 -2.5 2.2 -.4-2.5 -2.1-1.5 0-1.4 2.5 .6 7.5 .2 2.5-1.4 5 .4 5 1.5 5-.8 2.5 1.3 .9 1.1 .2 2.5 2.7 2.5 -1.6 2.5 1.1 2.5 -.6 2.5 .8 2.5 1.5 .7 2.5 .1 2.5-3.2 0-1.1 -.4-1.5 -3.3-2.5 0-2.5 1.2-2.4 2.5 .2 .9-5.3 1.6-1.6 2.5-.7 7.5 1.4 5-.6 7.5 .6 5-.6 5 2.4 5 .6 .6-1.5 1.9-1.5 2.5-.7 5 1 5.9-1.3 1.6-1.1 1.6 1.1 3.4 .7 .9 1.8 .8 2.5 0 5 -1.5 7.5 1.4 2.5 3.4 3.4 4.5-3.4 -.6-15 1.1-1.8 2.5-1.9 6.9-1.3 -1.9-2.5zM186.3 329l-1.3 5 .9 2.5 -.6 2.5 1.9 1.7 .6-4.2 1.9-.9 1.1-1.6 0-2.5 -1.1-2.3 -2.5-.7 -.9 .5zM126.6 331.5l-.5 2.5 2.4 2.5 .8 2.5 1.4 0 1.2-2.5 -2.6-2.5 -1-2.5 -1.1-.3 -.6 .3zM167 331.5l.2 1.6 2.5 0 1.3-1.6 -1.3-.8 -2.7 .8zM202.1 331.5l.1 .8 2.5 1.8 3.7-2.6 -1.2-.9 -2.5-.9 -2.6 1.8zM82.2 336.5l0 2.5 -1.9 2.5 .4 2.5 1.3 2.5 2.7 0 1.9-2.5 -.8-2.5 -3.3-2.5 -.3-2.5zM128.7 346.5l1 .7 .8-.7 -.8-1.6 -1 1.6zM124.1 349l.6 .9 1.9-.9 -1.9-1 -.6 1zM131.9 349l.3 .4 0-.7 -.3 .3zM115.2 351.5l.9 2.5 .1 2.5 3.3 2.5 .2 .8 2.5 .3 .8-1.1 -1.1-2.5 1.1-2.5 -3.3-5 -2.5 .3 -2 2.2zM77.2 354l0 2.9 1.6-.4 -1.2-2.5 -.4 0zM79.4 359l.3 2.5 2.5 2.5 0 5 2.7-2.5 .4-2.5 -.6-1.6 -1-.9 -.7-2.5 -3.3-1.3 -.3 1.3zM207 359l.2 1.7 .3-1.7 -.5 0zM201.8 366.5l-.4 2.5 .8 .6 2.5-.6 -.4-2.5 -2.1-.9 -.4 .9zM109.1 371.5l.5 2.5 2.6 2.9 2.5 1.5 3.2-1.9 -.5-2.5 .8-2.5 -1-1.5 -2.5-.7 -5 .5 -.6 1.7zM184.7 323.6l1.3 .4 -1.3 .9 -.8-.9 .8-.4zM242.2 323.7l1.1 .3 -1.1 .9 0-1.2zM217.2 327.2l.6 1.8 -.6 .2 0-2zM99.7 332.9l2.5 1.1 1.3 2.5 -4 0 -1.7-2.5 1.9-1.1zM107.2 336.2l1.4 .3 -1.8 0 .4-.3zM139.7 336.2l.5 .3 -.5 1.1 -.7-1.1 .7-.3zM109.7 336.8l.8 2.2 -.8 .9 0-3.1zM264.7 340.2l5 1.3 2.5-.5 .7 .5 -.7 1.1 -2.5-1 -.9 2.4 .3 2.5 .6 .4 2.5-.1 .9 2.2 -.1 2.5 -3.3 3.5 -2.5 .5 -3.9-1.5 -3.3-2.5 -3.7-5 .9-2 2.5 2.8 1.3-3.3 3.1-2.5 .6-1.3zM104.7 348.7l.8 .3 -.8 .6 -.9-.6 .9-.3zM147.2 356.5l2.5-1.4 2.5-.4 2.5 .4 1.6 1.4 1.3 2.5 -2.9 3.3 -5 .2 -2.8-1 .3-5zM239.7 358.7l1 .3 .5 2.5 1 .8 .5 1.7 .1 5 -.6 1.5 -2.5-.5 -1.1-1 .7-5 -2.1-2.5 2.5-2.8zM159.7 364l5-1.7 2.5 1.4 .7 5.3 -2.5 2.5 -1.1 2.5 -2.1 .6 -2.5 0 -1.1-.6 -.1-2.5 -1.1-2.5 2.3-5zM161.8 374l.5 0 -.1-.4 -.4 .4zM189.7 363.8l0 .9 0-.9zM67.2 367.9l.4 1.1 -.4 .7 -1.3-.7 1.3-1.1zM132.2 368.8l5.4 .2 2.1 1.5 .8 1 -.4 2.5 1.4 2.5 -1.8 1.6 -2.5-.2 -.1-1.4 -2.6-2.5 -.1-2.5 -2.4-2.5 .2-.2zM136.7 371.5l.5 1.5 .6-1.5 -.6-.4 -.5 .4zM182.2 373.5l2.5-.6 5-.1 .9 1.2 .3 5 -2 2.5 .9 2.5 3.8 2.5 .2 5 -1.6 .3 -1.7-.3 -1.7-2.5 -.2-2.5 .8-2.5 -2.2-.3 -1.3 5.3 -3.7 .6 -2.5 1.1 -2.5-.7 -.6-1 .8-2.5 .2-2.5 -1.6-2.5 0-5 1.2-.6 2.5 .1 .8 .5 1.7 2.6 1.2-2.6 -1.9-2.5 .7-.5zM186.1 374l1.1 .8 .5-.8 -1.6 0zM222.2 376.4l.7 2.6 -.7 .6 -.5-.6 .5-2.6zM62.2 380.3l.4 1.2 -.4 .4 -.7-.4 .7-1.2zM139.7 380.9l.6 3.1 -.6 .3 -.4-.3 .4-3.1zM224.7 381.2l0 .7 0-.7zM82.2 383.7l0 .3 0-.3zM132.2 383.8l.9 .2 -.9 .8 0-1zM149.7 382.7l.7 1.3 -.7 .5 -.5-.5 .5-1.3zM152.2 385.5l1.1 1 -.3 2.5 -.8 1.3 -.7-3.8 .7-1zM209.7 386.3l1 2.7 1.5 .4 5-3.7 2.5 .2 .6 .6 .7 5 0 5 .8 2.5 -.8 2.5 -1.3 .5 -1.6-.5 -.9-1.6 -2.3 1.6 2.3 2 .2 3 -1.2 2.5 -.6 2.5 -3.4 3.4 -2.5 .4 -3.5-3.8 -.1-2.5 .8-5 1.3-2.5 -.2-5 2.8-2.5 -1.4-2.5 .3-5.2zM209.7 396.5l-.3 5 .3 1 1.7 1.5 .3 2.5 3 2.6 .3-5.1 -2.6-2.5 -.2-2.9 -2.5-2.1zM207.2 409l0 .6 .3-.6 -.3 0zM209.6 414l.5 0 -.4-1 -.1 1zM247.2 386.3l.9 .2 .8 2.5 .8 .2 3.1-2.7 1.9-.9 2.5 .3 2.9 3.1 .2 5 -2.7 5 -1.8 0 -1.1-.5 -1.6 .5 -.9 2.5 3.2 5 1.8 1.5 .5 1 .6 5 -1.1 1.9 -2.5 1.2 -2.6 1.9 -4.9 .9 -2.5-1.1 -.7-2.3 -.1-2.5 -1-2.5 .7-2.5 -1.6-2.5 -.2-5 2.9 .4 2.5 1.2 .6-1.6 -1.9-2.5 -1.3-7.5 1.8 0 .8 .6 .6-.6 -.6-1.7 0-3.5zM250.7 391.5l.7 2.5 .8 .8 2.5 .7 2.2-1.5 .8-2.5 -.5-.8 -2.5-1.4 -2.5-.2 -1.5 2.4zM248.6 406.5l-1.4 .5 -3 4.5 .5 5.3 2.5 2.2 .8 0 1.7-3.2 .4-1.8 -.8-2.5 3.8-2.5 -2.4-2.5 -2.1 0zM129.7 393.2l2.5 .8 -2 2.5 2 1.1 2.5-.7 .6 2.1 -1.1 2.5 .8 2.5 -.3 3.9 -2.5 0 -1.7-1.4 -1.6-2.5 -.4-2.5 .9-2.5 -.3-2.5 .6-3.3zM137.2 393.5l2.5-.3 .8 .8 .4 2.5 -1.2 2.1 -2.5-1.6 -2.1-.5 2.1-3zM172.2 393l5-.2 1.6 1.2 .9 3.6 1.3 1.4 -2.4 2.5 -1.4 .7 -5 .8 -3-1.5 -.1-5 1.6-2.5 1.5-1zM172 394l-.6 2.5 0 2.5 1.8 2.5 1.5 .3 2.5-2.8 -2.9-2.5 -1.2-2.5 -1.1 0zM227.2 396l5.3 3 -4.5 0 -1.4-2.5 .6-.5zM59.7 398.8l2.5-.4 .4 .6 -1.1 2.5 2.5 2.5 .5 2.5 -1.4 2.5 -.5 2.5 -2.9 3.1 -2.5 0 -.6-.6 .2-7.5 1.6-2.5 0-2.5 1.3-2.7zM107.2 398.8l2.5 2.7 .8 5 -.3 2.5 -2.7 2.5 -.2 5 -1.4 2.5 .4 2.5 .9 1.4 0 2.2 -3.8-1.1 .1-2.5 -2.9-2.5 -.9-4.3 -.6-.7 -.6-2.5 -1.3-2 -2.5 .6 -2.5 1.6 -5-2.6 -1.4-.1 0-2.5 1.4-.7 1.1-1.8 1.4-.8 2.5-.3 1.4 1.1 1.1 2 2.5-1.2 5-1.4 2.5-3.2 2.5-1.4zM147.2 400.9l0 .7 -.3-.1 .3-.6zM274.7 403.3l1.9 .7 -.1 2.5 2.6 2.5 0 2.5 -1.9 .7 -2.5-1.2 -2.1-2 1.6-2.5 .5-3.2zM69.7 408l.3 3.5 -.3 1.4 -1.4-1.4 1.4-3.5zM124.7 406.5l2.5 .9 1.9 1.6 .6 1.8 2.5 1.5 .3 1.7 -.3 2.2 -1.7 2.8 -5.3 5 0 2.5 -.5 .8 -.2-.8 -3.4-2.5 -1.5-5 2.1-2.5 .1-2.5 1.9-2.5 1-5zM162.2 408.9l.4 2.6 2.8 2.5 1 5 2.2 2.5 -1.4 .4 -2.5-.8 -2.5 1 -2.5-.3 -2.5-2.5 2.4-5.3 .1-1.5 2.5-3.6zM72.2 413.7l1.4 .3 2.5 2.5 -.1 2.5 -1.3 1.1 -2-1.1 -1.4-2.5 -.6-2.5 1.5-.3zM257.2 418.4l.6 .6 -.7 0 .1-.6zM94.7 421.2l1 .3 1 2.5 5.6 2.5 .3 2.5 -.4 .8 -2.5 3.8 -2.5 1.3 -2.6-.9 -.9-2.5 1-10.3zM97.2 431.5l.7 0 -.7 0zM259.7 420.6l3.8 .9 1.9 2.5 3.1 2.5 -1.2 2.5 -2.6-1.2 -.9-1.3 -3.6-2.5 -.5-3.4zM56.3 426.5l.6 2.5 2.9 2.5 -2.6 2.1 -2.5 0 0-8.4 1.6 1.3zM144.7 426.3l.7 5.2 -.7 .5 -2.5 0 -.9-3 .9-1.4 2.5-1.3zM227.2 426.2l0 .5 -.5-.2 .5-.3zM272.2 427.3l1.3 1.7 3.8 2.5 -2.1 2.5 -1 0 -4-5 2-1.7z" fill="#bcdadb" fill-rule="evenodd" stroke="#6e7a78" stroke-width="0.3" stroke-opacity="0.7"/>
<path d="M99.7 328.8l7.5 1.2 7.5-.8 5 .6 1.5 1.7 -.2 2.5 1.3 5 2.4 2.5 -1.1 2.5 -.4 2.5 -1 .6 -1-5.6 -1.5-1.1 -2.5-.4 -1.5 1.5 -1 2.2 -2.5-3.2 -1.1 1 -.1 2.5 2.3 2.5 .6 2.5 -2.1 2.5 .1 5 -.5 2.5 -1.7 2.4 -1.9-2.4 -3.2 0 .1 3.1 1.9 1.9 -1.9 2.2 -1.3 2.8 2.6 2.5 1.5 2.5 2.5 2.5 1.7 2.5 3 1 2.5-.8 3.4-2.7 4.3-5 .1-2.5 2.6-2.5 .2-2.5 1.9-1.6 2.5-.5 .3-.4 1.1-2.5 -.7-5 3-5 -.2-2.5 1.5-4.7 -1.1-5.3 1-2.5 -.3-2.5 1.2-2.5 1.7-.7 5 1.4 2.5-.1 .4-.6 2.1-.9 2.5-.2 5 1.3 1.1 2.3 0 5 -.5 2.5 -1.2 2.5 -.2 2.5 .4 2.5 2.9 1.6 2.5 2.7 2.5-2 .9 .2 1.6 1.5 3.1-1.5 -1.8-2.5 -.5-2.5 -.8-.7 -.4-6.8 .4-2 1.6 2 -.1 2.5 1 1.1 5 .2 2.8-3.8 -1.9-2.5 -.8-2.5 2.4-1.8 2.5 1.2 .7 .6 .5 2.5 3.1 2.5 -.1 2.5 .6 2.5 2.7 .4 1.5 4.6 -.3 5 .5 2.5 .8 .9 4-3.4 2-2.5 .2-2.5 2.7-5 .1-2.5 3.1-2.5 .4-1.6 1.4 6.6 -1.3 2.5 -.4 5 -3.1 2.5 0 2.5 -.8 2.5 -1.3 2.5 -2 1.8 -.4 3.2 .4 1.3 2.4 3.7 2.6 2.6 2.5 .6 2.5-2.1 3-3.6 .1-2.5 2.1-2.5 .1-2.5 2.9-2.5 -.1-7.5 -2-2.5 1.4-.7 2.5 .1 4.5-4.4 2-2.5 .1-2.5 -.7-2.5 4.1-3.6 2.5 .3 .9 3.3 -.1 2.5 1.7 2.9 5 3.2 2.5-1.9 2.5-.5 1.1-1.2 .4-7.5 1-2.9 5 .1 2.5-.7 5 .8 5-.6 13.4 3.3 -.9 .4 -1.6 2.1 4.1 4.7 2.5-.9 1.8-1.3 -1.1-5 1.8-.5 0 8.3 -3.1 4.7 -.1 2.5 3.2 2.5 0 9.7 -.8 .3 -1.1 2.5 1.2 2.5 -1.8 1.3 -2.5 .4 -2.5-1.9 -2.5 .1 -2.7-2.4 0-2.5 -2.3-2.2 -5-1.9 -.3-.9 -2.2-1.7 -2.2-.8 -.3-2.9 -5 1.2 -.2-.8 -2.8-2.5 .5-1.3 2.5 .9 2.5 2.8 1.9-4.9 5.5-5 .1-3 2.5-1.7 3.5 2.2 .6 2.5 .9 .5 2.5-.1 .5-.4 .4-2.5 -2.6-2.5 0-2.5 -3.3-.8 -10-.1 -2.5-.6 -5 .9 -2.5-.7 -2.5 .2 -.7 8.6 -1.8 2 -2.2 .5 -2.8 1.9 -2.2 .6 2.7 2.5 -3 .8 -2.5 0 -2.5 2.4 -2.5 1.5 -5-5.1 -2.5-1.5 -1.5 1.9 -.5 2.5 .4 2.5 -1.6 2.5 .2 2.5 -2.7 2.5 -.4 2.5 -2.2 2.5 -.4 2.5 -6.3 7 -2.5-.6 -.8-1.4 -4.2-4.1 -1.8-.9 -.7-1.3 -1.6 3.8 2 2.5 -.4 2.5 2.5 2.5 1.1 2.5 1.4 .9 .3 6.6 .8 2.5 -1.3 2.5 2.4 2.5 0 2.5 2.3 2.5 -.7 2.5 -1.3 2.2 -2.5-1.6 -.7-5.6 -.8-2.5 -1-1.1 -5-.1 -4.1-1.3 -1.9 0 -1.5 1.6 -.3 .9 .2 2.5 2.2 2.5 -1.7 5 -.4 2.5 .6 2.5 -.4 2.5 -.2 .4 -2.5-.3 -.1-2.6 -3.1-2.5 -1.1-2.5 -.7-.3 -2.5 .9 -2.5-1.4 -1.6-1.7 -.9-4.3 -1-.7 -.9-2.5 -2.9-2.5 -.1-2.5 4.9-.5 2.2-2 .3-1.4 1.1 1.4 -1.9 5 .8 1.1 4.5-1.1 1-2.5 .1-2.5 -.6-2.5 -2.5-1.2 -.5-3.8 -.9-2.5 -1.1-1.1 -2.5-1.1 -7.5 1.1 -2.9-1.4 0-2.5 -2-2.5 .7-2.5 1.9-2.5 3.9-2.5 .9-1.7 1.3-.8 -3.8-2 -.7 2 -4.3 4.6 -2.3 .4 1.1 2.5 .8 5 -2.1 2.7 -1.5-2.7 -3-2.5 -.7-2.5 -2.3-1.8 -.3-3.2 -4.7-4.4 -2.5 .2 -2.5 2.2 -2.5 3.3 -2.8 1.2 -.6 2.5 -2.5 2.5 1.2 2.5 -10.3 8.8 -5 .8 -2.5-2.4 -2.5-.5 -.6 .8 1.4 2.5 -.8 1.4 -2.5-1.4 -2.5 2.5 -2.5-.9 -.7-1.6 -1.8-1.1 -.5-1.4 0-2.5 .6-2.5 -.5-2.5 -2.2-2.5 5.1-1 2.5-2.4 1.1-1.6 .6-5 .8-1.2 5 1 1.7-2.3 -.4-2.5 -1.3-2.2 -2.5 2.9 -.8-.7 .2-2.5 -4.6-2.5 2.7-.9 2.4 .9 .1 .4 2.8-.4 -1.2-2.5 .4-5 -.4-2.5 -1.6-1.7 -7.5 .3 -3.3 3.9 -1 5 .5 2.5 -1.2 1.4 -4.2 8.6 -2 2.5 -.9 5 .9 2.5 2 2.5 -5.1 5 -.3 2.5 -1.7 2.5 1 2.5 -2.2 .8 -2.2 1.7 -2.8 3.4 -1-.9 -.1-2.5 1.1-3.2 2.7-1.8 -1.2-2.5 1.2-2.5 -1.4-2.5 -2.9-2.5 -.9-1.8 -3.3 4.3 -1.7 .8 -2.5-.1 -1.3-.7 -.2-2.5 -1-.8 -.8-1.7 -.2-7.5 6-.4 2 .4 .5 .5 -.1-3 3.7-5 .5-5 1.5-5 -.2-2.5 2.2-2.5 -.1-.9 -2.5-.3 -2.5-1.5 -3.5-2.3 -1-2.5 -1.2 0 -1.4 2.5 1.8 2.5 -.9 2.5 .7 2.5 -3.7 5 -.7 2.5 -2.6 1.9 -.4-1.9 -2.9-2.5 .4-2.5 1.4-2.5 1.5-.4 4.4-4.6 .5-2.5 -4.9-1.6 -2.5 .1 -2.5 2.2 -1.9-.7 -.6-4 2.1 1.5 .4 2.5 2.5-2.2 5-.1 2.5-1.9 5 .5 7.5 2.5 2.6-1.3 .9 2.5 -2.4 2.5 .2 2.5 -2.3 2.5 -.1 5 -1.7 2.5 -.4 5 -2 2.5 -.9 2.5 .6 5 1.9 2.5 1.1 3.2 2.5 2.2 2.5-.7 1.5 .3 -1.6 2.5 2.6 2.1 2.9-2.1 -.4-2.4 -2.5-.4 -1-2.2 3.5-3.8 .4-3.7 2.1-2.5 1.4-5 1.5-2.5 2.1-5.4 .8-4.6 1.2-2.5 -.7-2.5 1-2.5 -.3-2.5 .5-1.1 2.5-1.6zM111 331.5l-.6 2.5 2.3 2.5 .2 2.5 1.8 1.6 4.5-4.1 .6-5 -2.6-.7 -2.5-.1 -3.7 .8zM139.7 331.5l.7 2.5 3.5 2.5 -1.7 .7 -4 4.3 -.1 2.5 1.6 1.9 3.3 .6 .7 2.5 -1 2.5 2.7 2.5 2.5 0 -1.6-2.5 1.3-2.5 -2-2.5 1.6-.6 3.1 .6 2.7 2.5 .8 2.5 .9 .7 2.4-3.2 -1.7-2.5 .1-5 1.7-2.7 .6-2.3 -.1-5 -.5-1 -5-1 -2.5 1.5 -.4 .5 .1 2.5 2.1 2.5 -1.8 .6 -1.8-.6 -2.8-2.5 .3-2.5 -3.2-1.3 -2.5 1.3zM97.8 334l1.7 2.5 4 0 -1.3-2.5 -2.5-1.1 -1.9 1.1zM221.2 334l1 3.6 1 1.4 1.5 .9 2.5-.1 0-6.1 -2.5 .4 -2.5-1.1 -1 1zM106.8 336.5l1.8 0 -1.8 0zM139 336.5l.7 1.1 .5-1.1 -.5-.3 -.7 .3zM109.5 339l.2 .9 .8-.9 -.8-2.2 -.2 2.2zM199.6 341.5l-.3 2.5 -2.1 1.6 -.4 .9 .4 1.9 2.5-.7 .4-1.2 .4-5 -.8-.9 -.1 .9zM264.1 341.5l-3.1 2.5 -1.3 3.3 -2.5-2.8 -.9 2 3.7 5 3.3 2.5 3.9 1.5 2.5-.5 3.3-3.5 .1-2.5 -.9-2.2 -2.5 .1 -.6-.4 -.3-2.5 .9-2.4 2.5 1 .7-1.1 -.7-.5 -2.5 .5 -5-1.3 -.6 1.3zM176.3 344l-4.1 .8 -.7 1.7 1.4 2.5 -3.2 3.5 -3.6 1.5 -2.1 2.5 1.1 2.5 2.1 1.7 1.1 5.8 1.4 2.1 2.5 2.1 3.4 .8 -.2 2.5 1.8 .8 5-3 5.9-.3 -3.1-2.5 2.2-.5 1.8-2 .6-5 -.3-2.5 .4-.4 .4 .4 -.3 2.5 2.4 2 4.6-9.5 -2.1-2.1 -2.5 1.3 -2.5 2.4 -1.5-1.6 -.7-2.5 .6-5 -1.2-2.5 -2.2-1.5 -5-.8 -3.4 2.3zM103.8 349l.9 .6 .8-.6 -.8-.3 -.9 .3zM156.7 354l.5 .4 .6-.4 -.6-.6 -.5 .6zM147.2 356.5l-.3 5 2.8 1 5-.2 2.9-3.3 -1.3-2.5 -1.6-1.4 -2.5-.4 -2.5 .4 -2.5 1.4zM159.7 364l-2.3 5 1.1 2.5 .1 2.5 1.1 .6 2.5 0 2.1-.6 1.1-2.5 2.5-2.5 -.7-5.3 -2.5-1.4 -5 1.7zM189.7 364l0 .7 0-.7zM65.9 369l1.3 .7 .4-.7 -.4-1.1 -1.3 1.1zM181.5 374l1.9 2.5 -1.2 2.6 -1.7-2.6 -.8-.5 -2.5-.1 -1.2 .6 0 5 1.6 2.5 -.2 2.5 -.8 2.5 .6 1 2.5 .7 2.5-1.1 3.7-.6 1.3-5.3 2.2 .3 -.8 2.5 .2 2.5 1.7 2.5 1.7 .3 1.6-.3 -.2-5 -3.8-2.5 -.9-2.5 2-2.5 -.3-5 -.9-1.2 -5 .1 -3.2 1.1zM82.1 384l.1-.3 -.1 .3zM170.7 394l-1.6 2.5 -.2 2.5 .3 2.5 .5 .6 2.5 .9 5-.8 1.4-.7 2.4-2.5 -1.3-1.4 -.9-3.6 -1.6-1.2 -5 .2 -1.5 1zM187.2 328.5l2.5 .7 1.1 2.3 0 2.5 -1.1 1.6 -1.9 .9 -.6 4.2 -1.9-1.7 .6-2.5 -.9-2.5 1.3-5 .9-.5zM189.1 331.5l-.3 2.5 .9 .1 .1-2.6 -.7 0zM127.2 331.2l1.1 .3 1 2.5 2.6 2.5 -1.2 2.5 -1.4 0 -.8-2.5 -2.4-2.5 .5-2.5 .6-.3zM167.2 331.2l2.5-.5 1.3 .8 -1.3 1.6 -2.5 0 0-1.9zM202.2 331.2l2.5-1.5 2.5 .9 1.2 .9 -3.7 2.6 -2.5-1.8 0-1.1zM55.5 341.5l-.8 .9 0-1.8 .8 .9zM239.7 345.5l4.5 3.5 .4 2.5 3 2.5 -4.1 5 -.5 2.5 .5 5 1.2 2.7 2.5 1.7 2.5-.4 2.7 1 -.3 2.5 2.1 2.5 -.9 2.5 -1.1 1.5 -.5-1.5 -1.8-2.5 -5.2-4.2 -2.5 0 -2.5 1.7 -5 1.1 -.5-1.1 .5-2.5 -5-4.7 -2.5 .8 -2.5-.9 -2.5 1.2 -.4-1.4 1.6-2.5 1.3-3.8 2.5 2.7 4.5 1.1 .5 1.1 2.7-1.1 -.3-2.5 2.6-1.2 3.7-3.8 .3-5 -2.2-2.5 -.7-2.5 1.4-1zM239.4 359l-2.2 2.5 2.1 2.5 -.7 5 1.1 1 2.5 .5 .6-1.5 -.1-5 -.5-1.7 -1-.8 -.5-2.5 -1-.3 -.3 .3zM124.7 348l1.9 1 -1.9 .9 -.6-.9 .6-1zM117.2 349.3l2.5-.3 3.3 5 -1.1 2.5 1.1 2.5 -.8 1.1 -2.5-.3 -.2-.8 -3.3-2.5 -.1-2.5 -.9-2.5 2-2.2zM56.6 354l.6 2.8 2.6 2.2 -.1 .6 -2.5 .4 -2.5-1.7 0-6.1 1.9 1.8zM217.2 355.3l2.5-.2 1.1 1.4 -1.1 1.9 -2.5 .6 -.9-2.5 .9-1.2zM207.2 358.8l0 1.9 0-1.9zM217.2 359l.4 2.5 -.4 2.5 -1.8-2.5 1.8-2.5zM55.1 364l-.4 1.1 0-1.8 .4 .7zM257.2 363.4l5 1 2.5 2.4 2.5 1.3 5 4.4 2.4 1.5 2.6-2.5 1.2 2.5 1.3 1 0 8.2 -.9 .8 -4.1 .3 -2-2.8 -4.5-2.5 -1.5-2.5 -3.6-2.5 -1.2-2.5 -4.7-3 -.7-2 -.1-2.5 .8-.6zM132.2 367.5l8.8 1.5 1.6 2.5 -.6 2.5 2.5 2.5 .2 1 5 1.5 3.3 2.5 .4 2.5 2.9 2.5 .2 5 .6 2.5 -2.4 2.3 -1.3-2.3 -3.1-2.5 -1.4-5 -1.7-1.5 -1.4 1.5 -1.1 2.6 -2.9 2.4 3.6 5 4.2 2.5 .3 5 -2.7-.2 -3.9-2.3 -1.1-2.8 -2 2.8 -3 1.4 -.7 1.1 -.5 2.5 .3 2.5 -2.6 2.5 -.4 5 -1.5 2.5 -2.5 2.5 .4 2.2 2.5-2 .3 2.3 3.4 2.5 -6.2 .2 -2.1 2.3 -.4 5.3 -1-2.8 -3-2.5 -.6-2.5 -3.3-2.5 -.4-5 2.2-2.5 .1-2.5 1.4-2.5 1.1-5 2.8-2.5 .2-2.5 .9-2.5 -1-2.5 2.2-2.5 .9-3.1 2.5 .6 2.5 1.6 3.2-1.6 -.7-1.6 -2.5 .3 -2.5 1.2 -1.1-4.9 .2-2.5 2.8-2.5 .2-5 -2.1-2.5 .4-2.5 -2.1-2.5 1.7-1.5zM132 369l2.4 2.5 .1 2.5 2.6 2.5 .1 1.4 2.5 .2 1.8-1.6 -1.4-2.5 .4-2.5 -.8-1 -2.1-1.5 -2.9-.4 -2.7 .4zM139.5 381.5l-.2 2.5 .4 .3 .6-.3 -.6-3.1 -.2 .6zM132 384l.2 .8 .9-.8 -1.1 0zM144 384l.7 .8 1-.8 -1-1.8 -.7 1.8zM149.2 384l.5 .5 .7-.5 -.7-1.3 -.5 1.3zM151.5 386.5l.7 3.8 .8-1.3 .3-2.5 -1.1-1 -.7 1zM139.3 389l.4-.2 -.4 .2zM129.5 394l-.4 2.5 .3 2.5 -.9 2.5 .4 2.5 1.6 2.5 1.7 1.4 2.5 0 .3-3.9 -.8-2.5 1.1-2.5 -.6-2.1 -2.5 .7 -2-1.1 2-2.5 -2.5-.8 -.2 .8zM136.5 394l-1.4 2.5 2.1 .5 2.5 1.6 1.2-2.1 -.4-2.5 -.8-.8 -2.5 .3 -.7 .5zM146.9 401.5l.5 0 -.2-.6 -.3 .6zM123.9 409l-.2 2.5 -1.9 2.5 -.1 2.5 -2.1 2.5 1.5 5 3.4 2.5 .2 .8 .5-.8 0-2.5 5.3-5 1.7-2.8 .3-2.2 -.3-1.7 -1.8-.8 -1.3-2.5 -1.9-1.6 -2.5-.9 -.8 2.5zM182.2 368.9l.8 .1 -.8 .5 0-.6zM254.7 368.5l1.7 .5 -1.7 .9 -.6-.9 .6-.5zM219.7 371.1l1.7 .4 .8 2.5 3.1 2.5 .4 2.5 2.5 2.5 -.6 2.5 .7 2.5 -1.1 1.5 -2.1 1 .1 2.5 4.5 2.1 1.6 2.9 3.2 2.5 -2.3 .9 -2.5 .1 -2.5 1.7 -2.5 1 -2.5-.2 -2.5 .6 -1.1 .9 -.8 5 -1.1 2.5 -4.5 5.4 -2.5-.4 -4.6-5 .4-7.5 1.3-2.5 .4-2.5 -2.3-2.5 1.6-2.5 .4-7.5 2.5-2.5 .3-3.5 5 .9 1 2.6 1.5 .6 2.5 0 1.4-.6 .2-2.5 -2.3-2.5 0-2.5 -2.3-2.5 3-2.9zM222 376.5l-.3 2.5 .5 .6 .7-.6 -.5-2.5 -.4 0zM224.5 381.5l.2 .4 .3-.4 -.3-.3 -.2 .3zM209.5 386.5l-.1 5 1.4 2.5 -2.8 2.5 .2 5 -1.3 2.5 -.8 5 .1 2.5 3.5 3.8 2.5-.4 3.4-3.4 .6-2.5 1.2-2.5 -.2-3 -2.3-2 2.3-1.6 .9 1.6 1.6 .5 1.3-.5 .8-2.5 -.8-2.5 0-5 -.7-5 -.6-.6 -2.5-.2 -5 3.7 -1.5-.4 -.6-2.5 -.6 0zM221.6 386.5l.6 2.9 1.9-.4 -.4-2.5 -1.5-1.3 -.6 1.3zM226.6 396.5l1.4 2.5 4.5 0 -5.3-3 -.6 .5zM59.7 375.6l3.5 .9 .7 5 -1.7 1.7 -2.5-1.2 -2.2-3 .9-2.5 1.3-.9zM61.5 381.5l.7 .4 .4-.4 -.4-1.2 -.7 1.2zM249.7 382.5l1 1.5 1.5 .7 5 .2 4.1 4.1 1.2 10 -.3 .3 -2.5-.3 -5.1 2.5 1.5 2.5 2.5 2.5 .9 2.5 -.1 2.5 .8 5 2 2.2 2.5 1 5.6 4.3 4.4 2.1 1.2 2.9 2.9 2.5 .2 2.5 -6.8 1.4 -5-.5 -1.2 1.6 0 30 -4.1 0 0-30 -2.2-2.3 -4.3-.2 4.3-1.3 2.5 .1 1.1-1.3 -2.2-2.5 -.3-2.5 -2.9-2.5 -.3-2.5 -2.9-2.6 -1.4 5.1 -1.1 1.2 -.7-3.7 -1.8-1.3 -2.5 .6 -2.5-.9 -.8-.9 -.7-5 -1.7-2.5 .2-2.5 -1-5 -1.6-2.5 0-2.5 3.1-2.7 1.9-2.3 -.1-2.5 2.6-2.5 0-2.5 .6-1.2 2.2-1.3 .3-1.5zM247.1 386.5l.1 3.3 .6 1.7 -.6 .6 -.8-.6 -1.8 0 1.3 7.5 1.9 2.5 -.6 1.6 -2.5-1.2 -2.9-.4 .2 5 1.6 2.5 -.7 2.5 1 2.5 .1 2.5 .7 2.3 2.5 1.1 4.9-.9 2.6-1.9 2.5-1.2 1.1-1.9 -.6-5 -.5-1 -1.8-1.5 -3.2-5 .9-2.5 1.6-.5 1.1 .5 1.8 0 2.7-5 -.2-5 -2.9-3.1 -2.5-.3 -1.9 .9 -3.1 2.7 -.8-.2 -.8-2.5 -1 0zM257.1 419l.7 0 -.6-.6 -.1 .6zM259.5 421.5l.7 2.5 3.6 2.5 .9 1.3 2.6 1.2 1.2-2.5 -3.1-2.5 -.7-1.4 -2.5-1.7 -2.5-.3 -.2 .9zM270.2 429l4 5 1 0 2-2 0-.6 -3.7-2.4 -1.3-1.7 -2 1.7zM94.7 386.2l1.3 5.3 -1.3 1.1 -.3-3.6 -.7-2.5 1-.3zM117.2 386l.4 .5 -.4 2.6 -2-2.6 2-.5zM264.7 387.4l2.5-.3 .4 1.9 -2.9 3.4 -1.3-.9 1.3-4.1zM64.7 393.6l1.1 2.9 1.2 7.5 .2 .3 2.5-.9 1 .6 .6 2.5 -.8 2.5 .1 2.5 1.6 1.6 5.6 .9 .7 5 -.8 2.5 -3 2.8 -1.4-2.8 -3.9-2.5 -1-5 -2.9-2.5 -.7-2.5 -.5 2.5 -4.6 4.5 -2.5-.2 -1.8-1.8 0-7.5 1-2.5 -1.7-2 0-5.4 2.5 1 2.5-.1 5-3.9zM59.3 399l-.9 2.5 0 2.5 -1.6 2.5 -.2 7.5 .6 .6 2.5 0 2.9-3.1 .5-2.5 1.4-2.5 -.5-2.5 -2.5-2.5 1.1-2.5 -.4-.6 -2.9 .6zM69.3 409l-1 2.5 1.4 1.4 .3-1.4 -.3-3.5 -.4 1zM70.7 414l.6 2.5 1.4 2.5 2 1.1 1.3-1.1 .1-2.5 -2.5-2.5 -1.4-.3 -1.5 .3zM97.2 392.9l2.2 1.1 1.4 2.5 -1.1 .5 -2.5-1 -.9-2 .9-1.1zM277.2 395.4l2.5-.5 0 8.1 -.5 3.5 .5 .5 0 17.9 -1.2-.9 .1-2.5 -1.2-2.5 .2-2.5 -.4-1.2 -1.2-1.3 -3.8-.7 -.4-1.8 -.1-2.5 2-2.5 .1-2.5 .9-1.5 2.1-1 .4-6.1zM274.3 404l-.1 2.5 -1.6 2.5 2.1 2 2.5 1.2 1.9-.7 0-2.5 -2.6-2.5 .1-2.5 -1.9-.7 -.4 .7zM74.7 399l.5 2.5 -.5 .4 -2.2-.4 2.2-2.5zM102.2 398.2l2.5 .3 2.5-.9 3.7 3.9 .6 5 -.7 2.5 -2.6 2.5 -.3 5 -.7 2.5 .9 5 1.6 2.1 2.8 .4 -.2 2.5 5.2 2.5 .8 2.5 -.6 2.5 0 30 -4.3 0 0-30 -1.2-1.7 -2.5 .1 -1.3 1.6 0 30 -5 0 0-30 1.3-1.4 2.7-1.1 1.9-2.5 -4.6-4.7 -2.7 7.2 -2.3 1.5 -2.5 .5 -5-1.9 -5 .4 -.1-.5 2.6-.3 4.1-4.7 .1-7.5 .8-1.4 1.9-1.1 -.5-5 -1.4-1.6 -5 .7 -2.5-.5 -2.5 .3 -2.5-1.5 -.5-2.4 2.1-2.5 .3-2.5 .6-1.1 5-.8 1.2-.6 1.3-1.6 2.5 .8 5-.7 2.2-1 .3-.8zM106.7 399l-2 1.2 -2.5 3.2 -5 1.4 -2.5 1.2 -1.1-2 -1.4-1.1 -2.5 .3 -1.4 .8 -1.1 1.8 -1.4 .7 0 2.5 1.4 .1 5 2.6 2.5-1.6 2.5-.6 1.3 2 .6 2.5 .6 .7 .9 4.3 2.9 2.5 -.1 2.5 3.8 1.1 0-2.2 -.9-1.4 -.4-2.5 1.4-2.5 .2-5 2.7-2.5 .3-2.5 -.8-5 -2.5-2.7 -.5 .2zM101.6 401.5l.6 .3 .2-.3 -.2-1.8 -.6 1.8zM94.5 421.5l-.2 7.5 -.6 2.5 .9 2.5 2.6 .9 2.5-1.3 2.5-3.8 .4-.8 -.3-2.5 -5.6-2.5 -1-2.5 -1.2 0zM112.1 431.5l.1-1.3 -.1 1.3zM202.2 403.9l-.3 .1 .3-.1zM159.7 408.8l2.5-1.5 2 1.7 .4 2.5 3.1 2.5 2 5.3 2.5 .1 3.2 2.1 -.7 2.5 -2.5-2.4 -5 1 -2.5-.4 -2.5 2.2 -2.5 1.3 -2.4-1.7 -.9-5 .5-2.5 2-2.5 .1-2.5 .7-2.7zM162.1 409l-2.4 3.5 -.1 1.5 -2.4 5.3 2.5 2.5 2.5 .3 2.5-1 2.5 .8 1.4-.4 -2.2-2.5 -1-5 -2.8-2.5 -.5-2.5zM219.7 416.4l0 4.9 -1.4-2.3 1.4-2.6zM182.2 418.1l0 1.6 -.9-.7 .9-.9zM57 421.5l.2 2.5 2.4 2.5 -.1 2.5 5.2 4.4 .8-1.9 -.4-2.5 2.1-1.1 .4 1.1 3.7 2.5 .9 1.8 2.7 .7 1.1 2.5 0 30 -16.9 0 0-30 -1.9-1.6 -2.5-.3 0-1 2.5 0 2.6-2.1 -2.9-2.5 -.6-2.5 -1.6-1.3 0-5.4 2.3 1.7zM184.7 421.4l.4 .1 -.4 2.2 -.4-2.2 .4-.1zM222.2 421l2.5 1.7 4.4 1.3 2.5 2.5 -1.3 5 -3.1 1.3 -.2-1.3 -2.3-2 -2.5 .1 -.8-.6 -.2-2.5 -2.2-2.5 .8-2.5 2.4-.5zM226.7 426.5l.7 0 -.2-.3 -.5 .3zM139.7 423.7l2.5-1.5 2.5 2.3 2.5 4.4 5 .7 2.9 1.9 .4 2.5 -.8 .4 -3.2-.4 -1.8-4.5 -.1 2 -1.4 2.5 -3.5 1.2 -2.5-.6 -7.5-.1 -.4-.5 2.4-2.5 .5-3 2.5-2 0-2.8zM143.7 426.5l-1.5 1.1 -.9 1.4 .9 3 2.5 0 .7-.5 -.6-5 -1.1 0zM177.2 425.7l.8 .8 0 2.5 2.5 2.5 .2 2.5 -3.5 .7 -7.5-.5 2.5-.3 2.4-2.4 1.6-2.5 1-3.3zM187.2 426.7l.6 2.3 -.6 1.3 -.6-1.3 .6-2.3zM189.7 430.4l1.5 1.1 .9 2.5 -2.4 1 -2.8-1 1-2.5 1.8-1.1zM242.2 430.4l1.4 1.1 0 2.5 -1.4 .7 -3.5-.7 1-.6 1.1-1.9 1.4-1.1zM199.7 433.8l2.7 .2 -2.7 1.2 -.5 1.3 0 30 -5.8 0 0-30 1.3-1.5 5-1.2zM209.7 433.7l2.8 .3 -2.8 .3 -.3-.3 .3-.3zM157.2 435.1l2.5 0 .4 1.4 0 30 -3.8 0 0-30 .9-1.4zM217.2 435.3l2.5 .2 .8 1 0 30 -3.7 0 0-30 .4-1.2zM227.2 434.6l2.5 .3 .4 1.6 0 30 -3.3 0 0-30 .4-1.9zM249.7 434.2l2.5 .3 1.2 2 0 30 -5.6 0 0-30 1.9-2.3z" fill="#cadfd3" fill-rule="evenodd" stroke="#6e7a78" stroke-width="0.3" stroke-opacity="0.7"/>
<path d="M55.2 331.5l.1 2.5 1.9 .7 2.5-2.2 2.5-.1 4.9 1.6 -.5 2.5 -4.4 4.6 -1.5 .4 -1.4 2.5 -.4 2.5 2.9 2.5 .4 1.9 2.6-1.9 .7-2.5 3.7-5 -.7-2.5 .9-2.5 -1.8-2.5 1.4-2.5 1.2 0 1 2.5 3.5 2.3 2.5 1.5 2.5 .3 .1 .9 -2.2 2.5 .2 2.5 -1.5 5 -.5 5 -3.7 5 .1 3 -.5-.5 -2-.4 -6 .4 .2 7.5 .8 1.7 1 .8 .2 2.5 1.3 .7 2.5 .1 1.7-.8 3.3-4.3 .9 1.8 2.9 2.5 1.4 2.5 -1.2 2.5 1.2 2.5 -2.7 1.8 -1.1 3.2 .1 2.5 1 .9 2.8-3.4 2.2-1.7 2.2-.8 -1-2.5 1.7-2.5 .3-2.5 5.1-5 -2-2.5 -.9-2.5 .9-5 2-2.5 4.2-8.6 1.2-1.4 -.5-2.5 1-5 3.3-3.9 7.5-.3 1.6 1.7 .4 2.5 -.4 5 1.2 2.5 -2.8 .4 -.1-.4 -2.4-.9 -2.7 .9 4.6 2.5 -.2 2.5 .8 .7 2.5-2.9 1.3 2.2 .4 2.5 -1.7 2.3 -5-1 -.8 1.2 -.6 5 -1.1 1.6 -2.5 2.4 -5.1 1 2.2 2.5 .5 2.5 -.6 2.5 0 2.5 .5 1.4 1.8 1.1 .7 1.6 2.5 .9 2.5-2.5 2.5 1.4 .8-1.4 -1.4-2.5 .6-.8 2.5 .5 2.5 2.4 5-.8 10.3-8.8 -1.2-2.5 2.5-2.5 .6-2.5 2.8-1.2 2.5-3.3 2.5-2.2 2.5-.2 4.7 4.4 .3 3.2 2.3 1.8 .7 2.5 3 2.5 1.5 2.7 2.1-2.7 -.8-5 -1.1-2.5 2.3-.4 4.3-4.6 .7-2 3.8 2 -1.3 .8 -.9 1.7 -3.9 2.5 -1.9 2.5 -.7 2.5 2 2.5 0 2.5 2.9 1.4 7.5-1.1 2.5 1.1 1.1 1.1 .9 2.5 .5 3.8 2.5 1.2 .6 2.5 -.1 2.5 -1 2.5 -4.5 1.1 -.8-1.1 1.9-5 -1.1-1.4 -.3 1.4 -2.2 2 -4.9 .5 .1 2.5 2.9 2.5 .9 2.5 1 .7 .9 4.3 1.6 1.7 2.5 1.4 2.5-.9 .7 .3 1.1 2.5 3.1 2.5 .1 2.6 2.5 .3 .6-2.9 -.6-2.5 .4-2.5 1.7-5 -2.2-2.5 -.2-2.5 .3-.9 1.5-1.6 1.9 0 4.1 1.3 5 .1 1 1.1 .8 2.5 .4 5 2.8 2.2 1.3-2.2 .7-2.5 -2.3-2.5 0-2.5 -2.4-2.5 1.3-2.5 -.8-2.5 -.3-6.6 -1.4-.9 -1.1-2.5 -2.5-2.5 .4-2.5 -2-2.5 1.6-3.8 .7 1.3 1.8 .9 4.2 4.1 .8 1.4 2.5 .6 6.3-7 .4-2.5 2.2-2.5 .4-2.5 2.7-2.5 -.2-2.5 1.6-2.5 -.4-2.5 .5-2.5 1.5-1.9 2.5 1.5 5 5.1 2.5-1.5 2.5-2.4 2.5 0 3-.8 -2.7-2.5 2.2-.6 2.8-1.9 2.2-.5 1.8-2 .7-8.6 2.5-.2 2.5 .7 5-.9 2.5 .6 10 .1 3.3 .8 0 2.5 2.6 2.5 -.4 2.5 -.5 .4 -2.5 .1 -.9-.5 -.6-2.5 -3.5-2.2 -2.5 1.7 -.1 3 -5.5 5 -1.9 4.9 -2.5-2.8 -2.5-.9 -.5 1.3 2.8 2.5 .2 .8 5-1.2 .3 2.9 2.2 .8 2.2 1.7 .3 .9 5 1.9 2.3 2.2 0 2.5 2.7 2.4 2.5-.1 2.5 1.9 2.5-.4 1.8-1.3 -1.2-2.5 1.1-2.5 .8-.3 0 9.7 -.7 .6 .7 .8 0 5.2 -1.3-1 -1.2-2.5 -2.5 2.5 -2.5-1.5 -2.5-2.5 -1.8-1 -.7-.9 -2.5-1.3 -2.5-2.4 -5-1 -.8 .6 .1 2.5 .7 2 4.7 3 1.2 2.5 3.6 2.5 1.5 2.5 4.5 2.5 1.5 2.5 4.6 0 .9-.8 0 11.7 -2.5 .5 -.4 6.1 -2.1 1 -.9 1.5 -.1 2.5 -2 2.5 .5 4.3 3.8 .7 1.2 1.3 .4 1.2 -.2 2.5 1.2 2.5 -.1 2.5 1.2 .9 0 10.3 -5 .3 -1.9 1 0 30 -6.8 0 0-30 1.2-1.6 5 .5 6.8-1.4 -.2-2.5 -2.9-2.5 -1.2-2.9 -4.4-2.1 -5.6-4.3 -2.5-1 -2-2.2 -.8-5 .1-2.5 -.9-2.5 -2.5-2.5 -1.5-2.5 5.1-2.5 2.5 .3 .3-.3 -1.2-10 -4.1-4.1 -5-.2 -1.5-.7 -1-1.5 -.3 1.5 -2.2 1.3 -.6 1.2 0 2.5 -2.6 2.5 .1 2.5 -1.9 2.3 -3.1 2.7 0 2.5 1.6 2.5 1 5 -.2 2.5 1.7 2.5 .7 5 .8 .9 2.5 .9 2.5-.6 1.8 1.3 .7 3.7 1.1-1.2 1.4-5.1 2.9 2.6 .3 2.5 2.9 2.5 .3 2.5 2.2 2.5 -1.1 1.3 -2.5-.1 -4.3 1.3 4.3 .2 2.2 2.3 0 30 -.9 0 0-30 -1.3-1.4 -2.5 .4 -1.5 1 0 30 -2.3 0 0-30 -1.2-2 -2.5-.3 -1.9 2.3 0 30 -8.6 0 0-30 -2-1.5 -5-.1 -1.2 1.6 0 30 -.9 0 0-30 -.4-1.6 -2.5-.3 -.4 1.9 0 30 -.8 0 .1-35 -1.4-1.2 -2.5 1 -2.5-1.4 -1.1-.9 -.7-2.5 -.7-.7 -1.3 3.2 1.6 2.5 2.2 1.7 2.3 3.3 0 30 -1.5 0 0-30 -.8-1 -2.5-.2 -.4 1.2 0 30 -.8 0 0-30 -1.3-1.6 -2.5 .1 -1.9 1.5 0 30 -11.1 0 0-30 .5-1.3 2.7-1.2 -2.7-.2 -5 1.2 -1.3 1.5 0 30 -6.7 0 0-30 -2-1.9 -5 .5 -2.3 1.4 0 30 -8.3 0 0-30 -1.1-2.5 1.7-1.1 2.5-.3 1-1.1 .8-2.5 1.5-2.5 -3.3-3.9 -5 .7 -2.5-.3 -5 4.6 -5-3.4 1.3-7.7 2.2-2.5 .3-5 2.8-2.5 .7-5 -.4-2.5 -2.1-2.5 -2.3-1.4 -5 4.2 -1.4 2.2 0 2.5 -3.6 2.7 -2.4-2.7 -2.6-1.1 -2.5 .3 -1.3 .8 -1.2 2.5 4.4 2.5 3.1 3.7 .5 1.3 -.5 5 .3 2.5 .5 2.5 1.7 3.7 2.5 0 2.5-1.9 1.7 .7 .6 2.5 2.7 1.4 .6 1.1 1.9 1.4 2.7 1.1 -1.4 2.5 0 30 -.9 0 0-30 -.4-1.4 -2.5 0 -.9 1.4 0 30 -12.4 0 0-30 -1.7-1 -7.5-.2 -1.1-1.3 2.5-2.5 .2-2.5 -1.6-1.5 -2.5 0 -2.5 .8 -1.6 3.2 -.1 2.5 1.9 2.5 0 30 -6.2 0 0-30 -1.5-1.6 -2.5 .4 -.9 1.2 0 30 -1.1 0 0-30 .6-2.5 -.8-2.5 -5.2-2.5 .2-2.5 -2.8-.4 -1.6-2.1 -.9-5 .7-2.5 .3-5 2.6-2.5 .7-2.5 -.6-5 -3.7-3.9 -2.5 .9 -2.5-.3 -.3 .8 -2.2 1 -2.5 .6 -2.5 .1 -2.5-.8 -1.3 1.6 -1.2 .6 -5 .8 -.6 1.1 -.3 2.5 -2.1 2.5 .5 2.4 2.5 1.5 2.5-.3 2.5 .5 5-.7 1.4 1.6 .5 5 -1.9 1.1 -.8 1.4 -.1 7.5 -4.1 4.7 -2.5 .2 0 .6 5-.4 5 1.9 2.5-.5 2.3-1.5 2.7-7.2 4.6 4.7 -1.9 2.5 -2.7 1.1 -1.3 1.4 0 30 -8.5 0 0-30 -2.7-1.5 -2.5 .4 -1.7 1.1 0 30 -12 0 0-30 -1.1-2.5 -2.7-.7 -.9-1.8 -3.7-2.5 -.4-1.1 -2.1 1.1 .4 2.5 -.8 1.9 -5.2-4.4 .1-2.5 -2.4-2.5 -.2-2.5 -2.3-1.7 0-17.8 1.7 2 -1 2.5 0 7.5 1.8 1.8 2.5 .2 4.6-4.5 .4-2.5 .8 2.5 2.9 2.5 1 5 3.9 2.5 1 2.5 .4 .3 3-2.8 .8-2.5 -.7-5 -5.6-.9 -1.6-1.6 -.1-2.5 .8-2.5 -.6-2.5 -1-.6 -2.5 .9 -.2-.3 -1.2-7.5 -1.1-2.9 -5 3.9 -2.5 .1 -2.5-1 0-5.1 1.3 2.5 1.2 1.2 2.5 .6 2.5-1 2.5-2.3 2.5 3.5 2.5 .1 2.5-.9 .9-1.2 1.8-5 -.2-3.5 -1.2-1.5 1.2-1.9 .9-3.1 -.1-2.5 -.8-.6 -1.5 .6 -1 1.6 -.7-1.6 -1.8-.3 -2.5 1 -1.4 1.8 .5 7.5 -1.6 .3 -2.5-1.1 -2.5 0 -2.5-.8 -2.5 6.5 0-26.3 .4-1.1 -.4-.7 0-5 2.5 1.7 2.5-.4 .1-.6 -2.6-2.2 -.6-2.8 -1.9-1.8 0-9.8 .8-.9 -.8-.9 0-9.5 .5 .4zM58.8 334l-3.3 2.5 -.1 2.5 1.8 1.8 5-.5 3.6-3.8 -1.6-2.5 -2-1 -2.5 .2 -.9 .8zM242.1 336.5l.1 1.4 2.5 1.3 2.1-2.7 -2.1-2.3 -2.5 1.3 -.1 1zM247.8 336.5l0 5 1.9 1.5 2.5 .4 2.5-.5 3.9-3.9 0-2.5 -1.4-1.6 -5-.4 -4.4 2zM99.2 339l-2 2.6 -.7 2.4 -.1 2.5 .8 1.4 2.5 .7 7.2-2.1 1.4-2.5 -.1-5 -1-1 -5 .2 -3 .8zM71.9 344l-2.2 .9 -2.5 2.4 -4 4.2 -1 2.1 -1.8-2.1 -.7-2.7 -2.5-1.5 -.8 1.7 -.4 2.5 2.7 2.5 .7 2.5 2.8 .2 .7 2.3 1.8 1.2 5 .1 5.5-6.3 .6-7.5 -1.1-1.9 -2-.6 -.5-.7 -.3 .7zM238.3 346.5l.7 2.5 2.2 2.5 -.3 5 -3.7 3.8 -2.6 1.2 .3 2.5 -2.7 1.1 -.5-1.1 -4.5-1.1 -2.5-2.7 -1.3 3.8 -1.6 2.5 .4 1.4 2.5-1.2 2.5 .9 2.5-.8 5 4.7 -.5 2.5 .5 1.1 5-1.1 2.5-1.7 2.5 0 5.2 4.2 1.8 2.5 .5 1.5 1.1-1.5 .9-2.5 -2.1-2.5 .3-2.5 -2.7-1 -2.5 .4 -2.5-1.7 -1.2-2.7 -.5-5 .5-2.5 4.1-5 -3-2.5 -.4-2.5 -2-1.9 -2.5-1.6 -1.4 1zM216.7 349l.5 2.1 2.6-2.1 -2.6-2.4 -.5 2.4zM229 349l-5 5 -.2 2.5 -1.6 .9 -3.6 4.1 -.2 2.5 -2.8 2.5 0 2.5 -.9 2.2 -1.7-2.2 .8-5 -1.6-1.9 -2.5 2.7 -.4 1.7 -2.2 2.5 2 2.5 .3 2.5 -2.2 .6 -2.5-1.7 -5 3.5 -1.6-4.9 -3.4-3.1 -2.2 .6 1.7 2.5 -.1 2.5 3.1 2.2 2.3 .3 -1.4 2.5 .3 7.5 1.8 2.5 .1 5 1.9 2.2 4.1-4.7 .2-5 2.2-2.5 .2-7.5 .8-2.2 3.2 2.2 1.4 2.5 2.1 0 .7-2.5 -2.4-2.7 6.6-4.8 -.5-2.5 .7-2.5 1.7-2.5 1.5-3.5 3.8 3.5 1.2 .4 1.7-.4 .8-1 5-1.5 1-2.5 1.5-1.3 .4-3.7 -2.9-2.7 -7.5-.4 -.7 .6zM98.4 351.5l-3.7 2.7 -5.3 7.3 -.8 5 1.9 2.5 .9 2.5 -5.3 5 -.2 2.5 -1.1 2.5 .8 2.5 -.9 1 -2.5 .5 -1.3 1 -3.7 4.5 -1.2 .5 -.4 5 1 2.5 -.6 2.5 -3.1 2.5 -.2 2.5 -1.5 2.5 0 2.5 1 1 2.5 .6 5 0 1.2-4.1 1.7-2.5 .6-2.5 1.5-2.5 2.5-.9 2.5-1.9 4.2-4.7 -.6-5 -2.1-2.5 3-2.5 2.2-2.5 -.7-2.5 .3-5 -.3-2.5 -2.5-2.5 1.5-1.3 2.5-.3 4.4-3.4 1.3-2.5 .4-2.5 1.4-2.2 5 1.3 1.2-1.6 -1.2-3.2 -2.5 2.1 -1.6-1.4 -.9-1.8 -2.5-1.9 -2.5-.7 -1.3 1.9zM252.5 354l-2.4 2.5 -.4 2 -1.2-2 -1.3-.4 -1.3 2.9 -1.2 1 -.6 1.5 .2 5 .4 .9 2.5 2.3 3.1-.7 4.2-5 -2.3-.1 -2.7-2.4 .2-.8 2.5-1.1 2.4 1.9 .1 2.3 3.7-2.3 .8-2.5 -.2-2.5 -.9-2.5 -3.4-1.6 -2.2 1.6zM216.3 356.5l.9 2.5 2.5-.6 1.1-1.9 -1.1-1.4 -2.5 .2 -.9 1.2zM136.5 359l-1.8 1.3 -2.5 3.4 -.7 .3 1.2 2.5 2 .8 5 .3 1.4-1.1 1.7-5 -3.1-3.3 -2.5 .1 -.7 .7zM215.4 361.5l1.8 2.5 .4-2.5 -.4-2.5 -1.8 2.5zM55.9 366.5l-.6 2.5 .4 2.5 1.5 1.5 2.5 .5 2.8-2 .7-5 -1-1.6 -2.5-.9 -2.5 .4 -1.3 2.1zM130.5 369l2.1 2.5 -.4 2.5 2.1 2.5 -.2 5 -2.8 2.5 -.2 2.5 1.1 4.9 2.5-1.2 2.5-.3 .7 1.6 -3.2 1.6 -2.5-1.6 -2.5-.6 -.9 3.1 -2.2 2.5 1 2.5 -.9 2.5 -.2 2.5 -2.8 2.5 -1.1 5 -1.4 2.5 -.1 2.5 -2.2 2.5 .4 5 3.3 2.5 .6 2.5 3 2.5 1 2.8 .4-5.3 2.1-2.3 6.2-.2 -3.4-2.5 -.3-2.3 -2.5 2 -.4-2.2 2.5-2.5 1.5-2.5 .4-5 2.6-2.5 -.3-2.5 .5-2.5 .7-1.1 3-1.4 2-2.8 1.1 2.8 3.9 2.3 2.7 .2 -.3-5 -4.2-2.5 -3.6-5 2.9-2.4 1.1-2.6 1.4-1.5 1.7 1.5 1.4 5 3.1 2.5 1.3 2.3 2.4-2.3 -.6-2.5 -.2-5 -2.9-2.5 -.4-2.5 -.8-.8 -2.5-1.7 -5-1.5 -.2-1 -2.5-2.5 .6-2.5 -1.6-2.5 -8.8-1.5 -1.7 1.5zM254.1 369l.6 .9 1.7-.9 -1.7-.5 -.6 .5zM219.2 371.5l-2.5 2.5 2.3 2.5 0 2.5 2.3 2.5 -.2 2.5 -1.4 .6 -2.5 0 -1.5-.6 -1-2.6 -5-.9 -.3 3.5 -2.5 2.5 -.4 7.5 -1.6 2.5 2.3 2.5 -.4 2.5 -1.3 2.5 -.4 7.5 4.6 5 2.5 .4 4.5-5.4 1.1-2.5 .8-5 1.1-.9 2.5-.6 2.5 .2 2.5-1 2.5-1.7 2.5-.1 2.3-.9 -3.2-2.5 -1.6-2.9 -4.5-2.1 -.1-2.5 2.1-1 1.1-1.5 -.7-2.5 .6-2.5 -2.5-2.5 -.4-2.5 -3.1-2.5 -.8-2.5 -1.7-.4 -.5 .4zM225.8 371.5l-1.1 1.4 -.3 1.1 2.7 2.5 .1 1.3 2.5 2.1 1.4-3.4 -2.8-5 -1.1-.5 -1.4 .5zM126.2 374l-6.2 5 -.3 1 -3 1.5 3.1 5 -2.6 4 -2 1 -.4 5 .3 2.5 3 2.5 -.9 2 -2.5 .6 -2.5 2.8 -.8 2.1 -2.5 2.5 -.9 7.5 .8 5 .9 1.1 5 .4 2.4 1 .5 2.5 4.6 3.6 1.4-1.1 -2.7-2.5 -.3-2.5 -3-2.5 .7-2.5 -.1-2.5 2.3-2.5 0-2.5 2.1-7.5 2.9-2.5 -.2-2.5 .3-5 2.5-2.5 .2-2.5 1.9-2.5 -1.2-2.5 1.7-2.5 2.5-2.5 .1-2.5 .1-2.5 -3.7-4 -2.5 .5 -1 1zM241.3 374l-1.6 1.1 -2.5 .4 -3.9 3.5 -.7 2.5 .2 2.5 -2.8 7.5 4.7 3.8 2.5 1 2.5 .1 2.5-1 1.2-1.4 .1-2.5 2.6-2.5 -.1-2.5 1.6-2.5 1.8-5 -.9-2.5 -3.8-3.1 -2.5 0 -.9 .6zM58.4 376.5l-.9 2.5 2.2 3 2.5 1.2 1.7-1.7 -.7-5 -3.5-.9 -1.3 .9zM158.5 376.5l-3.3 2.5 .3 5 1.7 1.5 2.5 .2 2.5-.5 .7 1.3 1.8 1.4 2.5-.1 1.4-1.3 1.7-5 .5-2.5 -1.1-1.8 -2.5-2.1 -8.7 1.4zM259.5 376.5l.4 2.5 2.3 1.2 1.5-1.2 -.7-2.5 -.8-.5 -2.5-.4 -.2 .9zM264.1 381.5l.6 .6 2.1-.6 -2.1-.9 -.6 .9zM268.9 384l.8 .2 .6 2.3 -4.3 5 -.9 2.5 -1.8 2.5 -.1 2.5 -2.8 2.5 -.6 2.5 .6 2.5 .7 10 1.1 1.2 2.5 .5 6.3-6.7 .1-2.5 2-2.5 .2-2.5 3-5 .5-7.5 2.3-2.5 -.1-2.5 -1.8-1.6 -2.5 .8 -2.5-1.2 -3.3-.5zM93.7 386.5l.7 2.5 .3 3.6 1.3-1.1 -1.1-5 -1.2 0zM115.2 386.5l2 2.6 .4-2.6 -.4-.5 -2 .5zM264.1 389l-.7 2.5 1.3 .9 2.9-3.4 -.4-1.9 -2.5 .3 -.6 1.6zM146.7 391.5l.5 .8 .4-.8 -.4-1.2 -.5 1.2zM96.3 394l.9 2 .9 .5 1.6 .5 1.1-.5 -1.4-2.5 -2.2-1.1 -.9 1.1zM108.7 394l-1.4 2.5 2.4 1.3 1.3 1.2 1.1 2.5 .1 2.4 .9-4.9 -2-2.5 -.2-2.5 -1.2-.8 -1 .8zM148.6 394l1.1 2.7 .7-2.7 -.7-.6 -1.1 .6zM190.4 394l-3.2 1.6 -.7 .9 -1.3 5 -1.6 2.5 -.5 2.5 .5 2.5 -.3 2.5 -.9 2.5 1.1 5 1.2 1.2 3.4 1.3 -.6 2.5 2.6 2.5 .6 2.5 4 3 .9-.5 -.8-2.5 .9-2.5 -.3-2.5 1.8-.6 .4 .6 .5 7.5 4.1 1.5 2.5-1.8 2.5 .5 2.8-2.7 2.2-3.9 1.9-1.1 -1.9-.7 -4.8-4.3 -.8-2.5 -1.9-1.9 -1.5 1.9 -.4 2.5 -.6 .4 -2.5 1.2 -2-1.6 0-5 2.6-2.5 .4-2.5 -2.4-2.5 -.2-2.5 -1.9-2.5 -.4-5 -1.1-1.9 -2.5-1.1 -1.8 .5zM74.7 399l-2.2 2.5 2.2 .4 .5-.4 -.5-2.5zM94.1 399l3.1 .3 .8-.3 -3.3-1.7 -.6 1.7zM228.5 401.5l-3.8 2.6 -5 1.1 .2 6.3 1.1 7.5 1.2 1.1 5 2.3 2.5-.3 4.5 4.4 .5 1.8 2.5-.5 1.1-1.3 -1.6-2.5 .1-2.5 -2.1-1.8 -.2-.7 2.7-2.9 .4 .4 -.2 2.5 2.6 2.5 .5 2.5 4.2 2.4 2.5 2.2 2.5-1.3 .7-.8 .6-2.5 -.4-2.5 -.9-.7 -2.5 1.1 -2.5-1.1 -1.7-1.8 -.4-5 -2.7-2.5 .5-2.5 -.3-2.5 -2.9-6.8 -5 1 -2.5 0 -1.2 .8zM257 401.5l.2 .4 .2-.4 -.4 0zM164.5 404l-.2 2.5 2.9 2.5 1.3 2.5 6.2 3.3 2.5 .1 .7-.9 -.2-5 -3.3-2.5 -4.7-1.6 -2.5 .4 -1.8-1.3 -.9 0zM201.9 404l.3 0 -.3 0zM159.5 409l-.6 5 -2 2.5 -.5 2.5 .9 5 2.4 1.7 2.5-1.3 2.5-2.2 2.5 .4 5-1 2.5 2.4 .7-2.5 -3.2-2.1 -2.5-.1 -2-5.3 -3.1-2.5 -.4-2.5 -2-1.7 -2.7 1.7zM134.7 414l-.7 5 3.2 3.4 .9-.9 1.5-5 -2.4-2.3 -2.5-.2zM64.5 416.5l.2 2.6 .4-2.6 -.4-.4 -.2 .4zM86.5 416.5l-1.8 .7 -2.5 .1 -6.4 6.7 -1.1 2.4 -4.3-2.4 -.7-1.2 -2 1.2 1.8 2.5 .5 2.5 2.2 1 2.5 .1 .3 1.4 4.7 4.4 5-.1 2.5-2.6 2.5-.1 3.6-4.1 -.1-7.5 1.5-2.7 .4-2.3 -.4-2.4 -2.4 2.4 -2.6 .3 -2.5-.9 -.7 .6zM219.6 416.5l-1.3 2.5 1.4 2.3 .3-2.3 -.4-2.5zM181.3 419l.9 .7 0-1.6 -.9 .9zM178.2 421.5l-.4 2.5 2.6 2.5 .3 2.5 1.5 1.5 1.3-1.5 .6-2.5 -2.5-2.5 -.7-2.5 -1.2-.9 -1.5 .9zM184.3 421.5l.4 2.2 .4-2.2 -.8 0zM219.8 421.5l-.8 2.5 2.2 2.5 .2 2.5 .8 .6 2.5-.1 2.3 2 .2 1.3 3.1-1.3 1.3-5 -2.5-2.5 -4.4-1.3 -2.5-1.7 -2.4 .5zM139.4 424l.3 2.5 -2.5 2 -.5 3 -2.4 2.5 .4 .5 7.5 .1 2.5 .6 3.5-1.2 1.4-2.5 .1-2 1.8 4.5 3.2 .4 .8-.4 -.4-2.5 -2.9-1.9 -5-.7 -2.5-4.4 -2.5-2.3 -2.8 1.8zM176.7 426.5l-.5 2.5 -1.6 2.5 -2.4 2.4 -2.5 .3 7.5 .5 3.5-.7 -.2-2.5 -2.5-2.5 0-2.5 -.8-.8 -.5 .8zM186.6 429l.6 1.3 .6-1.3 -.6-2.3 -.6 2.3zM183.6 431.5l1.1 .9 .7-.9 -.7-1 -1.1 1zM187.9 431.5l-1 2.5 .3 .3 2.5 .7 2.4-1 -.9-2.5 -1.5-1.1 -1.8 1.1zM240.8 431.5l-1.1 1.9 -1 .6 3.5 .7 1.4-.7 0-2.5 -1.4-1.1 -1.4 1.1zM209.4 434l3.1 0 -2.8-.3 -.3 .3zM112.2 331.1l5-.3 2.6 .7 -.6 5 -4.5 4.1 -1.8-1.6 -.2-2.5 -2.3-2.5 .6-2.5 1.2-.4zM113.9 334l1.1 2.5 2.2 .8 .8-.8 -.8-3.2 -2.5 0 -.8 .7zM142.2 330.2l3.2 1.3 -.3 2.5 2.8 2.5 1.8 .6 1.8-.6 -2.1-2.5 -.1-2.5 .4-.5 2.5-1.5 5 1 .5 1 .1 5 -.6 2.3 -1.7 2.7 -.1 5 1.7 2.5 -2.4 3.2 -.9-.7 -.8-2.5 -2.7-2.5 -3.1-.6 -1.6 .6 2 2.5 -1.3 2.5 1.6 2.5 -2.5 0 -2.7-2.5 1-2.5 -.7-2.5 -3.3-.6 -1.6-1.9 .1-2.5 4-4.3 1.7-.7 -3.5-2.5 -.7-2.5 2.5-1.3zM142 331.5l.2 .6 .3-.6 -.5 0zM151.8 331.5l-.1 2.5 2.5 2.5 -2 1.2 -2.5 .4 -5-.3 -2.5 .8 -3 2.9 0 2.5 .5 .6 10 .3 2.5-1.4 2.1-2 .6-2.5 2.2-2.5 -.3-2.5 -.8-2.5 -3.8-.3 -.4 .3zM189.7 331.3l0 2.8 -.9-.1 .3-2.5 .6-.2zM222.2 333l2.5 1.1 2.5-.4 0 6.1 -2.5 .1 -1.5-.9 -1-1.4 -1-3.6 1-1zM221.9 334l.3 .9 .8-.9 -.8-.3 -.3 .3zM199.7 340.6l.8 .9 -.4 5 -.4 1.2 -2.5 .7 -.4-1.9 .4-.9 2.1-1.6 .4-3.4zM279.7 339.3l0 4.2 -.7 3 .7 .5 0 2 -3.2-2.5 .1-2.5 .6-1.5 2.5-3.2zM177.2 343.7l2.5-2 5 .8 2.2 1.5 1.2 2.5 -.6 5 .7 2.5 1.5 1.6 2.5-2.4 2.5-1.3 2.1 2.1 -4.6 9.5 -2.4-2 .3-2.5 -.4-.4 -.4 .4 .3 2.5 -.6 5 -1.8 2 -2.2 .5 3.1 2.5 -5.9 .3 -5 3 -1.8-.8 .2-2.5 -3.4-.8 -2.5-2.1 -1.4-2.1 -1.1-5.8 -2.1-1.7 -1.1-2.5 2.1-2.5 3.6-1.5 3.2-3.5 -1.4-2.5 .7-1.7 5-1.1zM179 344l-3 2.5 -2.7 5 -1.9 2.5 -1.7 .7 -1.8 1.8 0 2.5 .8 2.5 .5 5 3 2.9 5 1.4 2.5-3.1 2.5-.8 2.5 1.1 2.5-.5 .9-1 .5-2.5 0-2.5 -1-2.5 2.1-2.2 2.2 2.2 0 2.5 .3 .3 .3-2.8 .9-2.5 -.6-2.5 -.6-.1 -2.5 2.5 -2.2-2.4 -1.6-2.5 .1-2.5 1.4-2.5 -1.8-2.5 -.9-.6 -2.5-.3 -2.5 .3 -.7 .6zM182 369l.2 .5 .8-.5 -1 0zM157.2 353.4l.6 .6 -.6 .4 -.5-.4 .5-.6zM174.7 353.1l1.5 .9 -1.5 2.3 -.9-2.3 .9-.9zM144.7 382.2l1 1.8 -1 .8 -.7-.8 .7-1.8zM222.2 385.2l1.5 1.3 .4 2.5 -1.9 .4 -.6-2.9 .6-1.3zM139.7 388.8l-.4 .2 .4-.2zM234.7 388.1l0 5 -1.2-1.6 0-2.5 1.2-.9zM102.2 399.7l0 2.1 -.6-.3 .6-1.8zM119.7 403.5l.5 .5 -.5 .3 -1.6-.3 1.6-.5zM279.7 403l0 4 -.5-.5 .5-3.5zM112.2 430.2l0 1.3 0-1.3zM57.2 434.9l1.9 1.6 0 30 -1.1 0 0-30 -.8-.6 -2.5-.5 0-.8 2.5 .3zM109.7 434.9l2.5-.1 1.2 1.7 0 30 -5 0 0-30 1.3-1.6z" fill="#d8ddc8" fill-rule="evenodd" stroke="#6e7a78" stroke-width="0.3" stroke-opacity="0.7"/>
<path d="M142.2 331.4l0 .7 0-.7zM152.2 331.2l3.8 .3 .8 2.5 .3 2.5 -2.2 2.5 -.6 2.5 -2.1 2 -2.5 1.4 -10-.3 -.5-.6 0-2.5 3-2.9 2.5-.8 5 .3 2.5-.4 2-1.2 -2.5-2.5 .1-2.5 .4-.3zM152 341.5l.2-.4 -.2 .4zM59.7 333.2l2.5-.2 2 1 1.6 2.5 -3.6 3.8 -5 .5 -1.8-1.8 .1-2.5 4.2-3.3zM59.5 334l-3 2.5 0 2.5 .7 .8 5-.3 2.8-3 -2.8-2.8 -2.7 .3zM114.7 333.3l2.5 0 .8 3.2 -.8 .8 -2.2-.8 -1.1-2.5 .8-.7zM222.2 333.7l.8 .3 -.8 .9 -.3-.9 .3-.3zM242.2 335.5l2.5-1.3 2.1 2.3 -2.1 2.7 -2.5-1.3 0-2.4zM249.7 335.9l2.5-1.4 5 .4 1.4 1.6 0 2.5 -3.9 3.9 -2.5 .5 -2.5-.4 -1.9-1.5 -.2-2.5 .2-2.5 1.9-.6zM251 336.5l-2 2.5 .3 2.5 .4 .3 5 .1 3-2.9 -.5-2.9 -5-.4 -1.2 .8zM99.7 338.6l7.5-.6 1 1 .1 5 -1.4 2.5 -7.2 2.1 -2.5-.7 -.8-1.4 .1-2.5 .7-2.4 2.5-3zM102 339l-4.8 4.5 0 2.5 7.5 .8 2.5-2.3 0-5.8 -5.2 .3zM72.2 343.3l.5 .7 2 .6 1.1 1.9 -.6 7.5 -5.5 6.3 -5-.1 -1.8-1.2 -.7-2.3 -2.8-.2 -.7-2.5 -2.7-2.5 .4-2.5 .8-1.7 2.5 1.5 .7 2.7 1.8 2.1 1-2.1 4-4.2 2.5-2.4 2.2-.9 .3-.7zM69.4 346.5l-5.1 5 -1.2 2.5 0 2.5 1.6 2.5 2.5 .7 2.9-.7 2.1-2.2 1.1-2.8 1.4-1.4 0-5.1 -.8-1 -1.7-.7 -2.8 .7zM179.7 343.4l2.5-.3 2.5 .3 .9 .6 1.8 2.5 -1.4 2.5 -.1 2.5 1.6 2.5 2.2 2.4 2.5-2.5 .6 .1 .6 2.5 -.9 2.5 -.3 2.8 -.3-.3 0-2.5 -2.2-2.2 -2.1 2.2 1 2.5 0 2.5 -.5 2.5 -.9 1 -2.5 .5 -2.5-1.1 -2.5 .8 -2.5 3.1 -5-1.4 -3-2.9 -.5-5 -.8-2.5 0-2.5 1.8-1.8 1.7-.7 1.9-2.5 2.7-5 3.7-3.1zM173.8 354l.9 2.3 1.5-2.3 -1.5-.9 -.9 .9zM186 361.5l-2.3 2.5 .2 2.5 .8 .4 2.5-.3 .8-2.6 -.8-3.2 -1.2 .7zM176.5 369l.8 0 -.1-1.1 -.7 1.1zM279.7 343.5l0 3.5 -.7-.5 .7-3zM217.2 346.6l2.6 2.4 -2.6 2.1 -.5-2.1 .5-2.4zM229.7 348.4l7.5 .4 2.9 2.7 -.4 3.7 -1.5 1.3 -1 2.5 -5 1.5 -.8 1 -1.7 .4 -1.2-.4 -3.8-3.5 -1.5 3.5 -1.7 2.5 -.7 2.5 .5 2.5 -6.6 4.8 2.4 2.7 -.7 2.5 -2.1 0 -1.4-2.5 -3.2-2.2 -.8 2.2 -.2 7.5 -2.2 2.5 -.2 5 -4.1 4.7 -1.9-2.2 -.1-5 -1.8-2.5 -.3-7.5 1.4-2.5 -2.3-.3 -3.1-2.2 .1-2.5 -1.7-2.5 2.2-.6 3.4 3.1 1.6 4.9 5-3.5 2.5 1.7 2.2-.6 -.3-2.5 -2-2.5 2.2-2.5 .4-1.7 2.5-2.7 1.6 1.9 -.8 5 1.7 2.2 .9-2.2 0-2.5 2.8-2.5 .2-2.5 3.6-4.1 1.6-.9 .2-2.5 5.7-5.6zM222.2 359l-2.6 2.5 0 2.5 -.7 2.5 -1.7 1.4 0 1.8 2.8-.7 -.2-5 2.5-2.5 -.1-2.5zM196.6 371.5l.6 1.3 .2-1.3 -.8 0zM201.7 376.5l-2.3 2.5 -.2 5 .1 2.5 1.4 2.5 .4 5 1.1 1.3 3.4-3.8 .4-5 2-2.5 .1-2.5 -.9-5.4 -2.5-.1 -3 .5zM99.7 349.6l2.5 .7 1.8 1.2 1.6 2.5 1.6 1.4 2.5-2.1 1.2 3.2 -1.2 1.6 -5-1.3 -1.4 2.2 -.4 2.5 -1.3 2.5 -4.4 3.4 -2.5 .3 -1.5 1.3 2.5 2.5 .3 2.5 -.3 5 .7 2.5 -2.2 2.5 -3 2.5 2.1 2.5 .6 5 -4.2 4.7 -2.5 1.9 -2.5 .9 -1.5 2.5 -.6 2.5 -1.7 2.5 -1.2 4.1 -5 0 -2.5-.6 -1-1 0-2.5 1.5-2.5 .2-2.5 3.1-2.5 .6-2.5 -1-2.5 .4-5 1.2-.5 3.7-4.5 1.3-1 2.5-.5 .9-1 -.8-2.5 1.1-2.5 .2-2.5 5.3-5 -.9-2.5 -1.9-2.5 .8-5 5.3-7.3 3.7-2.7 1.3-1.9zM102.1 351.5l-4.9 1.6 -3.4 3.4 -1.8 2.5 -.3 2.5 -2 1.6 0 3.7 2.5 1.1 3.5-1.4 1.5-1.6 2.5-.3 .7-.6 1.8-2.8 1.2-4.7 1.4-2.5 -2.7-2.5zM106 356.5l3.7 1 .7-1 -.7-1.8 -3.7 1.8zM94.3 374l.4 .5 0-1.1 -.4 .6zM86.9 376.5l-.2 2.5 -1 2.5 1 2.5 -2 2.1 -2.5 .2 -2.5 2.4 -.8 2.8 -1.7 1.5 -.5 1 .1 2.5 2.1 2.5 -5 5 -.4 2.5 -1.6 2.5 -.1 2.5 .4 .4 2.5 .5 2.5-.2 1.4-.7 1.1-1.3 1-3.7 1.5-1.8 0-3.4 2.5-1.6 2.5-.2 3.5-3 1.7-2.5 .3-2.5 -.5-2.3 -2-2.7 4.8-5 -.3-2.5 -2.5-.2 -1-2.3 -1.5-1.3 -2.8 1.3zM254.7 352.4l3.4 1.6 .9 2.5 .2 2.5 -.8 2.5 -3.7 2.3 -.1-2.3 -2.4-1.9 -2.5 1.1 -.2 .8 2.7 2.4 2.3 .1 -4.2 5 -3.1 .7 -2.5-2.3 -.4-.9 -.2-5 .6-1.5 1.2-1 1.3-2.9 1.3 .4 1.2 2 .4-2 4.6-4.1zM254 354l-1.4 2.5 2.1 1 2.5-.1 .4-.9 -1.3-2.5 -1.6-.5 -.7 .5zM137.2 358.3l2.5-.1 3.1 3.3 -1.7 5 -1.4 1.1 -5-.3 -2-.8 -1.2-2.5 .7-.3 2.5-3.4 2.5-2zM134.4 361.5l-.4 2.5 .5 2.5 5.4 0 .8-5 -1-1.4 -2.5 .2 -2.8 1.2zM57.2 364.4l2.5-.4 2.5 .9 1 1.6 -.7 5 -2.8 2 -2.5-.5 -1.5-1.5 -.4-2.5 .6-2.5 1.3-2.1zM58.1 366.5l-.9 .6 -.7 1.9 .6 2.5 2.6 .8 2.5-3 .1-2.8 -2.6-.6 -1.6 .6zM279.7 368.4l0 1.4 -.7-.8 .7-.6zM227.2 371l1.1 .5 2.8 5 -1.4 3.4 -2.5-2.1 -.1-1.3 -2.7-2.5 .3-1.1 1.1-1.4 1.4-.5zM127.2 373l2.5-.5 3.7 4 -.2 5 -2.5 2.5 -1.7 2.5 1.2 2.5 -1.9 2.5 -.2 2.5 -2.5 2.5 -.3 5 .2 2.5 -2.9 2.5 -2.1 7.5 0 2.5 -2.3 2.5 .1 2.5 -.7 2.5 3 2.5 .3 2.5 2.7 2.5 -1.4 1.1 -4.6-3.6 -.5-2.5 -2.4-1 -5-.4 -.9-1.1 -.8-5 .9-7.5 2.5-2.5 .8-2.1 2.5-2.8 2.5-.6 .9-2 -3-2.5 -.3-2.5 .4-5 2-1 2.6-4 -3.1-5 3-1.5 .3-1 7.2-6zM124.1 376.5l-2.6 2.5 -.8 5 .5 2.5 -1.5 1.8 -3.1 5.7 .8 2.5 -1.5 2.5 1.3 1.3 2.5-1.6 2.5-.1 5.2-4.6 .6-5 -.2-2.5 4.4-5 .2-5 -2.7-2.2 -2.5 .6 -3.1 1.6zM120.8 401.5l1.4 .6 .3-.6 -.3-.9 -1.4 .9zM118.1 404l1.6 .3 .5-.3 -.5-.5 -1.6 .5zM113.9 406.5l-4.3 5 -.9 7.5 1 5.2 2.5 .2 2.5-.4 2.5-1.8 .2-3.2 2.5-2.5 .8-10 -1-.6 -2.5-.4 -2.5 .1 -.8 .9zM242.2 373.4l2.5 0 2.5 1.9 1.3 1.2 .9 2.5 -1.8 5 -1.6 2.5 .1 2.5 -2.6 2.5 -.1 2.5 -1.2 1.4 -2.5 1 -2.5-.1 -2.5-1 -4.7-3.8 2.8-7.5 -.2-2.5 .7-2.5 3.9-3.5 2.5-.4 2.5-1.7zM236.9 376.5l-2.5 2.5 -.3 2.5 0 2.5 1.7 2.5 -.5 7.5 1.9 1.7 2.5-.2 2.5-.9 .5-.6 .3-2.5 2.5-2.5 0-2.5 1.9-5 -.2-2.2 -.5-.3 .5-.8 .1-1.7 -5.1-1 -5.3 1zM233.5 389l0 2.5 1.2 1.6 0-5 -1.2 .9zM69.7 376.2l1.8 .3 .7 1.6 1-1.6 1.5-.6 .8 .6 .1 2.5 -.7 2.5 -1.4 2.5 1.2 1.5 .2 3.5 -1.8 5 -.9 1.2 -2.5 .9 -2.5-.1 -2.5-3.5 -2.5 2.3 -2.5 1 -2.5-.6 -1.2-1.2 -1.3-2.5 2.5-6.6 2.5 .8 2.5 0 2.5 1.1 1.6-.3 -.5-7.5 1.4-1.8 2.5-1zM64.9 391.5l2.3 3.1 2.5 .2 1.3-.8 .3-2.5 -1.6-1.5 -2.5 .4 -2.3 1.1zM159.7 376.2l7.5-1.1 2.5 2.1 1.1 1.8 -.5 2.5 -1.7 5 -1.4 1.3 -2.5 .1 -1.8-1.4 -.7-1.3 -2.5 .5 -2.5-.2 -1.7-1.5 -.3-5 3.3-2.5 1.2-.3zM161.3 376.5l-1.6 2.2 -2.5 1.1 -.8 1.7 .8 2.3 3.3 .2 .5-2.5 1.2-.6 .3 3.1 1.2 2.5 1 .8 2.5-.2 .7-.6 2.1-7.5 -2.8-3.1 -5.9 .6zM259.7 375.6l2.5 .4 .8 .5 .7 2.5 -1.5 1.2 -2.3-1.2 -.2-3.4zM264.7 380.6l2.1 .9 -2.1 .6 -.6-.6 .6-.9zM269.7 383.8l2.5 .7 2.5 1.2 2.5-.8 1.8 1.6 .1 2.5 -2.3 2.5 -.5 7.5 -3 5 -.2 2.5 -2 2.5 -.1 2.5 -6.3 6.7 -2.5-.5 -1.1-1.2 -.7-10 -.6-2.5 .6-2.5 2.8-2.5 .1-2.5 1.8-2.5 .9-2.5 4.3-5 -.6-2.3 -.8-.2 .8-.2zM275.5 386.5l-.8 .9 -2.5-.7 -2.5 1.6 -2.8 3.2 -.3 2.5 -2.5 2.5 -.1 2.5 -2.6 2.5 0 10 .8 5.1 2.5 .4 2.5-2.4 2.9-3.1 .4-2.5 2.1-2.5 .3-2.5 .9-2.5 1.8-2.5 .4-7.5 2.2-2.5 -.1-2.5 -.9-.8 -1.7 .8zM147.2 390.3l.4 1.2 -.4 .8 -.5-.8 .5-1.2zM109.7 393.2l1.2 .8 .2 2.5 2 2.5 -.9 4.9 -.1-2.4 -1.1-2.5 -1.3-1.2 -2.4-1.3 1.4-2.5 1-.8zM149.7 393.4l.7 .6 -.7 2.7 -1.1-2.7 1.1-.6zM192.2 393.5l2.5 1.1 1.1 1.9 .4 5 1.9 2.5 .2 2.5 2.4 2.5 -.4 2.5 -2.6 2.5 0 5 2 1.6 2.5-1.2 .6-.4 .4-2.5 1.5-1.9 1.9 1.9 .8 2.5 4.8 4.3 1.9 .7 -1.9 1.1 -2.2 3.9 -2.8 2.7 -2.5-.5 -2.5 1.8 -4.1-1.5 -.5-7.5 -.4-.6 -1.8 .6 .3 2.5 -.9 2.5 .8 2.5 -.9 .5 -4-3 -.6-2.5 -2.6-2.5 .6-2.5 -3.4-1.3 -1.2-1.2 -1.1-5 .9-2.5 .3-2.5 -.5-2.5 .5-2.5 1.6-2.5 1.3-5 .7-.9 2.5-1.4 2.5-.7zM188.3 396.5l-1.4 2.5 -.7 2.5 -1.6 2.5 -.5 2.5 .5 12.5 2.6 .6 2.5-1.1 4.1-4.5 -.2-2.5 .9-2.5 1.8-2.5 .1-2.5 -1-2.5 -.7-5.6 -2.5-1 -2.5 .4 -1.4 1.2zM201.8 421.5l-.8 2.5 -1.8 2.5 -.1 2.5 .6 1.4 2.5 1.6 2.5-2 2.5-.1 .9-.9 2.3-2.5 .1-2.5 -3.3-3.1 -2.5-1 -2.9 1.6zM157.2 395.1l2.3 1.4 2.1 2.5 .4 2.5 -.7 5 -2.8 2.5 -.3 5 -2.2 2.5 -1.3 7.7 5 3.4 5-4.6 2.5 .3 5-.7 3.3 3.9 -1.5 2.5 -.8 2.5 -1 1.1 -2.5 .3 -1.7 1.1 1.1 2.5 0 30 -1.3 0 0-30 -.6-1.3 -2.5-1 -2.8 2.3 0 30 -.9 0 0-30 1.4-2.5 -2.7-1.1 -1.9-1.4 -.6-1.1 -2.7-1.4 -.6-2.5 -1.7-.7 -2.5 1.9 -2.5 0 -1.7-3.7 -.5-2.5 -.3-2.5 .5-5 -.5-1.3 -3.1-3.7 -4.4-2.5 1.2-2.5 1.3-.8 2.5-.3 2.6 1.1 2.4 2.7 3.6-2.7 0-2.5 1.4-2.2 5-4.2zM156.8 396.5l-4.6 4.2 -.5 .8 .1 2.5 -3 2.5 -2 2.5 -.9 2.5 .4 2.5 -.5 5 1.4 7.4 2.5-.4 3.3-2 .5-2.5 1.6-2.5 .1-2.5 2.2-2.5 .1-5 2.2-2.5 .9-5 -.3-2.5 -2.5-2.5 -.6-.4 -.4 .4zM164.4 424l-2.7 2.5 -1.4 2.5 .2 2.5 4.2 2.3 2.5-1.3 4-1 1-1.1 1.1-3.9 -.8-2.5 -.3-.3 -7.8 .3zM94.7 397.3l3.3 1.7 -.8 .3 -3.1-.3 .6-1.7zM229.7 400.7l2.5 0 5-1 2.9 6.8 .3 2.5 -.5 2.5 2.7 2.5 .4 5 1.7 1.8 2.5 1.1 2.5-1.1 .9 .7 .4 2.5 -.6 2.5 -.7 .8 -2.5 1.3 -2.5-2.2 -4.2-2.4 -.5-2.5 -2.6-2.5 .2-2.5 -.4-.4 -2.7 2.9 .2 .7 2.1 1.8 -.1 2.5 1.6 2.5 -1.1 1.3 -2.5 .5 -.5-1.8 -4.5-4.4 -2.5 .3 -5-2.3 -1.2-1.1 -1.1-7.5 -.2-6.3 5-1.1 5-3.4zM229.6 401.5l-6.5 5 -2 2.5 .1 7.5 .8 2.5 5.2 2.3 2.5-1 2.5 .4 5-6 2.3-.7 -1.6-2.5 .4-5 -1.1-5.3 -7.6 .3zM239.1 416.5l0 2.5 .6 .6 2.2-.6 0-2.5 -2.2-2.3 -.6 2.3zM249.7 421.5l-3.6 2.5 .1 2.5 1 .9 1.2-.9 1.7-2.5 -.4-2.5zM257.2 401.4l0 .5 0-.5zM164.7 403.8l2.5 1.5 2.5-.4 4.7 1.6 3.3 2.5 .2 5 -.7 .9 -2.5-.1 -6.2-3.3 -1.3-2.5 -2.9-2.5 .4-2.7zM134.7 413.9l2.5 .3 2.4 2.3 -1.5 5 -.9 .9 -3.2-3.4 .7-5.1zM64.7 416.1l.4 .4 -.4 2.6 0-3zM87.2 415.9l2.5 .9 2.6-.3 2.4-2.4 .4 2.4 -.4 2.5 -1.5 2.5 .1 7.5 -3.6 4.1 -2.5 .1 -2.5 2.6 -5 .1 -4.7-4.4 -.3-1.4 -2.5-.1 -2.2-1 -.5-2.5 -1.8-2.5 2-1.2 .7 1.2 4.3 2.4 1.1-2.4 6.4-6.7 2.5-.1 2.5-1.3zM81.5 419l-4.8 5 -.4 2.5 .3 5 3.1 3.1 5-.1 2.5-2 2.5-.1 3.2-3.4 -.4-7.5 .4-2.5 -.7-.7 -5-.5 -5 .6 -.7 .6zM179.7 420.6l1.2 .9 .7 2.5 2.5 2.5 -.6 2.5 -1.3 1.5 -1.5-1.5 -.3-2.5 -2.6-2.5 .4-2.5 1.5-.9zM217.2 425.8l.7 .7 .7 2.5 1.1 .9 2.5 1.4 2.5-1 1.4 1.2 -.1 35 -.9 0 .1-35 -.5-.4 -.9 .4 -2.1 2.5 2.1 2.5 0 30 -1.8 0 0-30 -2.3-3.3 -2.2-1.7 -1.6-2.5 1.3-3.2zM129.7 428.3l2.5-.8 2.5 0 1.6 1.5 -.2 2.5 -2.5 2.5 1.1 1.3 7.5 .2 1.7 1 0 30 -1.5 0 0-30 -7.7-.4 -1.8-2.1 2.6-2.5 .1-2.5 -.9-.8 -2.5 0 -2.5 1.4 -1 1.9 .1 2.5 .9 1.3 1.7 1.2 0 30 -1.5 0 0-30 -1.9-2.5 .1-2.5 1.6-3.2zM184.7 430.5l.7 1 -.7 .9 -1.1-.9 1.1-1zM57.2 435.9l.8 .6 0 30 -1.8 0 0-30 -1.5-.4 0-.7 2.5 .5zM89.7 435.4l2.5-.4 2.7 1.5 0 30 -1.8 0 0-30 -.9-.5 -2.6 .5 0 30 -1.6 0 0-30 1.7-1.1zM119.7 435.3l2.5-.4 1.5 1.6 0 30 -4.9 0 0-30 .9-1.2zM179.7 435.1l5-.5 2 1.9 0 30 -1.3 0 0-30 -.7-.6 -5 .1 -.8 .5 0 30 -1.5 0 0-30 2.3-1.4zM212.2 435l2.5-.1 1.3 1.6 0 30 -.9 0 0-30 -.4-.5 -2.5 0 -.6 .5 0 30 -1.3 0 0-30 1.9-1.5zM232.2 434.9l5 .1 2 1.5 0 30 -1.5 0 0-30 -3-.5 -2.8 .5 0 30 -.9 0 0-30 1.2-1.6zM257.2 435.5l2.5-.4 1.3 1.4 0 30 -.9 0 0-30 -.4-.5 -1.6 .5 0 30 -2.4 0 0-30 1.5-1zM274.7 435.5l5-.3 0 31.3 -.5 0 0-30 -2-.4 -3.1 .4 0 30 -1.3 0 0-30 1.9-1z" fill="#e6e1c4" fill-rule="evenodd" stroke="#6e7a78" stroke-width="0.3" stroke-opacity="0.7"/>
<path d="M59.7 333.8l2.5-.1 .7 .3 2.1 2.5 -2.8 3 -5 .3 -.7-.8 0-2.5 3.2-2.7zM252.2 335.7l2.5 0 2.8 .8 .2 2.5 -3 2.9 -2.5 .2 -2.9-.6 -.3-2.5 2-2.5 1.2-.8zM253.3 339l1.4 1.2 1.4-1.2 -1.4-1.9 -1.4 1.9zM102.2 339l5-.3 .3 .3 -.3 5.5 -2.5 2.3 -7.5-.8 0-2.5 5-4.5zM152.2 341.1l-.2 .4 .2-.4zM69.7 346.3l2.5-.5 1.7 .7 .8 1 0 5.1 -1.4 1.4 -1.1 2.8 -2.1 2.2 -2.9 .7 -2.5-.7 -1.6-2.5 0-2.5 1.2-2.5 5.4-5.2zM64.1 354l0 2.5 .6 1 2.5 1.2 2.5-1.2 .8-1 0-2.5 -.8-.8 -5-.3 -.6 1.1zM102.2 351.5l2.6 2.5 -1.4 2.5 -1.2 4.7 -1.8 2.8 -.7 .6 -2.5 .3 -1.5 1.6 -3.5 1.4 -2.5-1.1 0-3.7 2-1.6 .3-2.5 2.7-3.6 2.5-2.3 5-1.6zM96.4 356.5l.8 .5 .6-.5 -.6-.8 -.8 .8zM99.2 359l.5 1.1 .6-1.1 -.6-.5 -.5 .5zM254.7 353.5l1.6 .5 .9 1.2 .4 1.3 -.4 .9 -2.5 .1 -2.1-1 2.1-3zM107.2 356.1l2.5-1.4 .7 1.8 -.7 1 -3.7-1 1.2-.4zM108.4 356.5l1.5 0 -.2-.6 -1.3 .6zM222.2 359l.1 2.5 -2.5 2.5 .2 5 -2.8 .7 0-1.8 1.7-1.4 .7-2.5 0-2.5 2.6-2.5zM134.7 361.1l2.5-.8 2.5-.2 1 1.4 -.8 5 -5.4 0 -.5-2.5 .7-2.9zM136.2 364l1 1 1.2-1 -1.2-1.1 -1 1.1zM187.2 360.8l.8 3.2 -.7 2.5 -2.6 .4 -.8-.4 -.2-2.5 1-1.4 2.5-1.8zM186 364l1.2 .9 0-1.9 -1.2 1zM59.7 365.9l2.5 .4 .1 2.7 -2.6 3.3 -2.6-.8 -.6-2.5 .7-1.9 2.5-1.2zM177.2 367.9l.1 1.1 -.8 0 .7-1.1zM197.2 371.3l0 1.5 -.6-1.3 .6-.2zM94.7 373.4l0 1.1 -.4-.5 .4-.6zM87.2 376.3l2.5-1.1 1.5 1.3 1 2.3 2.5 .2 .3 2.5 -4.8 5 2 2.7 .5 2.3 -.3 2.5 -1.7 2.5 -3.5 3 -2.5 .2 -2.5 1.6 0 3.4 -1.5 1.8 -1 3.7 -1.1 1.3 -1.4 .7 -2.5 .2 -2.5-.5 -.4-.4 .1-2.5 1.6-2.5 .4-2.5 5-5 -2.1-2.5 -.1-2.5 .5-1 1.7-1.5 .8-2.8 2.5-2.4 2.5-.2 2-2.1 -1-2.5 1.5-5.2zM86.7 381.5l.5 1.2 1.3-1.2 -1.3-1.6 -.5 1.6zM74.2 406.5l-1.1 5 1.6 .3 1.9-.3 2.2-2.5 -.4-2.5 -1.2-1.6 -2.5-.2 -.5 1.8zM124.7 376l5-1.7 2.7 2.2 -.2 5 -4.4 5 .2 2.5 -.6 5 -5.2 4.6 -2.5 .1 -2.5 1.6 -1.3-1.3 1.5-2.5 -.8-2.5 3.1-5.7 1.5-1.8 -.5-2.5 .8-5 3.2-3zM123.8 379l-.8 2.5 1.7 1.3 2.5-.2 1.2-1.1 .3-2.5 -1.5-1.4 -2.5 .4 -.9 1zM116.7 399l.5 .5 .9-.5 -.9-.9 -.5 .9zM162.2 376.3l5-.4 2.8 3.1 -2.1 7.5 -.7 .6 -2.5 .2 -1-.8 -1.2-2.5 -.3-3.1 -1.2 .6 -.5 2.5 -3.3-.2 -.8-2.3 .8-1.7 2.5-1.1 1.6-2.2 .9-.2zM164.4 381.5l.1 5 1.7 0 1-.5 .4-2 .2-2.5 -.6-1.6 -2.5 .9 -.3 .7zM202.2 376.1l5 0 .9 5.4 -.1 2.5 -2 2.5 -.4 5 -3.4 3.8 -1.1-1.3 -.4-5 -1.4-2.5 -.1-2.5 .2-5 2.8-2.9zM203.3 379l-2.3 2.5 -.7 2.5 .1 2.5 .9 2.5 .5 5 .4 .5 2.8-3 .5-5 1.8-2.5 -.1-3.5 -2.5-2.2 -1.4 .7zM237.2 376.3l5-.8 5.1 1 -.1 1.7 -.5 .8 .5 .3 .2 2.2 -1.9 5 0 2.5 -2.5 2.5 -.3 2.5 -.5 .6 -2.5 .9 -2.5 .2 -1.9-1.7 .5-7.5 -1.7-2.5 0-2.5 .3-2.5 2.8-2.7zM241.2 381.5l-1.5 .8 -1.7 1.7 -.3 2.5 -1.1 2.5 -.4 2.5 -.1 2.5 1.1 1 4.2-1 .8-1 .3-1.5 2.5-2.5 .6-7.5 -.9-.8 -2.5-.2 -1 1zM277.2 385.7l.9 .8 .1 2.5 -2.2 2.5 -.4 7.5 -1.8 2.5 -.9 2.5 -.3 2.5 -2.1 2.5 -.4 2.5 -2.9 3.1 -2.5 2.4 -2.5-.4 -.8-5.1 0-10 2.6-2.5 .1-2.5 2.5-2.5 .3-2.5 2.8-3.2 2.5-1.6 2.5 .7 .8-.9 1.7-.8zM277.1 386.5l-.6 2.5 .8 0 -.2-2.5zM272.8 391.5l-1.6 2.5 -.1 2.5 -2.8 2.5 .2 2.5 -2.1 5 1.6 2.5 1.7 1.2 1.6-3.7 .9-1 .5-4 2.3-2.5 .2-7.5 -.5-2 -1.9 2zM67.2 390.4l2.5-.4 1.6 1.5 -.3 2.5 -1.3 .8 -2.5-.2 -2.3-3.1 2.3-1.1zM157.2 396.1l3.1 2.9 .3 2.5 -.9 5 -2.2 2.5 -.1 5 -2.2 2.5 -.1 2.5 -1.6 2.5 -.5 2.5 -3.3 2 -2.5 .4 -1.4-7.4 .5-5 -.4-2.5 .9-2.5 2-2.5 3-2.5 -.1-2.5 .5-.8 5-4.6zM152.2 409l-2.5 .5 -1.7 2 -1.3 5 .5 3.9 2.5 .2 4-4.1 -.3-5 -1.2-2.5zM189.7 395.3l2.5-.4 2.5 1 .7 5.6 1 2.5 -.1 2.5 -1.8 2.5 -.9 2.5 .2 2.5 -4.1 4.5 -2.5 1.1 -2.6-.6 -.5-12.5 .5-2.5 1.6-2.5 .7-2.5 1.4-2.5 1.4-1.2zM189.6 396.5l.3 2.5 -2.7 2.3 -1.8 5.2 1.8 1.9 1.9 .6 -2.8 5 -.1 2.5 1 1.3 2.5-.5 2.8-3.3 0-5 -.3-1.5 -1-1 1-2.6 2.5 .1 -.2-5 -3.9-2.5 -1 0zM122.2 400.6l0 1.5 -1.4-.6 1.4-.9zM229.7 401.4l7.5-.2 1.1 5.3 -.4 5 1.6 2.5 -2.3 .7 -5 6 -2.5-.4 -2.5 1 -5.2-2.3 -.8-2.5 -.1-7.5 2-2.5 6.6-5.1zM224.3 406.5l-1.6 2.5 0 2.5 -.5 1.2 -.3 3.8 .3 .9 5-3.7 2.5-.4 .5 .7 .2 5 1.8 .5 1.6-3 -.2-2.5 1.6-2.5 -3-3.3 -2.5 0 -2.5-.7 -1.3-1 -1.2-.3 -.4 .3zM114.7 405.6l5 .3 1 .6 -.8 10 -2.5 2.5 -.2 3.2 -2.5 1.8 -2.5 .4 -2.5-.2 -1-5.2 .9-7.5 5.1-5.9zM113.1 409l-1.7 2.5 -.4 2.5 -1.3 2.4 -.2 2.6 .2 .8 2.5 2.8 3.5-3.6 0-2.5 2.4-2.5 .3-2.5 .1-2.5 -1.3-1.3 -2.5-.6 -1.6 1.9zM239.7 414.2l2.2 2.3 0 2.5 -2.2 .6 -.6-.6 .6-4.8zM82.2 418.4l5-.6 5 .5 .7 .7 -.4 2.5 .4 7.5 -3.2 3.4 -2.5 .1 -2.5 2 -5 .1 -3.1-3.1 -.3-5 .4-2.5 5.5-5.6zM88.4 424l-2.1 2.5 -1 2.5 .6 2.5 3.8 .3 2.7-2.8 -.2-4.8 -2.5-1.5 -1.3 1.3zM202.2 421.3l2.5-1.4 2.5 1 3.3 3.1 -.1 2.5 -2.3 2.5 -.9 .9 -2.5 .1 -2.5 2 -2.5-1.6 -.6-1.4 .1-2.5 3-5.2zM200.9 426.5l1.3 1.9 2.5 0 1.4-1.9 -1.4-2.4 -2.5 1 -1.3 1.4zM249.7 421.5l.4 2.5 -.4 .9 -2.5 2.5 -1-.9 -.1-2.5 3.6-2.5zM164.7 423.8l7.5-.1 .3 .3 .8 2.5 -1.1 3.9 -1 1.1 -4 1 -2.5 1.3 -4.2-2.3 -.2-2.5 1.4-2.5 3-2.7zM166.1 426.5l-2.4 2.5 1 1 2.5 0 2.2-1 1-2.5 -.7-.7 -2.5-.1 -1.1 .8zM132.2 428.2l2.5 0 .9 .8 -.1 2.5 -2.6 2.5 1.8 2.1 7.7 .4 0 30 -11 0 0-30 -1.7-1.2 -.9-1.3 -.1-2.5 1-1.9 2.5-1.4zM131.8 429l-2.5 2.5 .4 2.7 2.5-.5 2.7-2.2 -.2-2.6 -2.9 .1zM224.7 431.1l.5 .4 -.1 35 -1.3 0 0-30 -2.1-2.5 2.1-2.5 .9-.4zM56.2 436.5l0 30 -1.5 0 0-30.4 1.5 .4zM89.7 436.4l2.5-.4 .9 .5 0 30 -3.5 0 .1-30.1zM162.2 436l2.5-1.8 2.5 1 .6 1.3 0 30 -5.9 0 .3-30.5zM179.7 436l5-.1 .7 .6 0 30 -6.5 0 0-30 .8-.5zM212.2 436l2.5 0 .4 .5 0 30 -3.5 0 0-30 .6-.5zM232.2 436.2l2.5-.2 3 .5 0 30 -5.8 0 .3-30.3zM259.7 436l.4 .5 0 30 -2 0 0-30 1.6-.5zM274.7 436.2l4.5 .3 0 30 -5.1 0 0-30 .6-.3z" fill="#e8c8a0" fill-rule="evenodd" stroke="#6e7a78" stroke-width="0.3" stroke-opacity="0.7"/>
<path d="M254.7 337.1l1.4 1.9 -1.4 1.2 -1.4-1.2 1.4-1.9zM64.7 352.9l5 .3 .8 .8 0 2.5 -.8 1 -2.5 1.2 -2.5-1.2 -.6-1 0-2.5 .6-1.1zM97.2 355.7l.6 .8 -.6 .5 -.8-.5 .8-.8zM109.7 355.9l0 .9 -1.3-.3 1.3-.6zM99.7 358.5l.6 .5 -.6 1.1 -.5-1.1 .5-.5zM137.2 362.9l1.2 1.1 -1.2 1 -1-1 1-1.1zM187.2 363l0 1.9 -1.2-.9 1.2-1zM124.7 378l2.5-.4 1.5 1.4 -.3 2.5 -1.2 1.1 -2.5 .2 -1.7-1.3 .8-2.5 .9-1zM204.7 378.3l2.5 2.2 .1 3.5 -1.8 2.5 -.5 5 -2.8 3 -.4-.5 -.5-5 -.9-2.5 -.1-2.5 .7-2.5 1.2-1.7 2.5-1.5zM203.7 381.5l-2.1 2.5 -.1 2.5 .7 4.1 2.5-2.6 .7-4 .1-2.5 -.8-.8 -1 .8zM87.2 379.9l1.3 1.6 -1.3 1.2 -.5-1.2 .5-1.6zM164.7 380.8l2.5-.9 .6 1.6 -.6 4.5 -1 .5 -1.7 0 -.3-2.5 .5-3.2zM242.2 380.5l2.5 .2 .9 .8 -.6 7.5 -2.5 2.5 -.3 1.5 -.8 1 -4.2 1 -1.1-1 .1-2.5 .4-2.5 1.1-2.5 .3-2.5 4.2-3.5zM239.2 384l-.1 2.5 -1.1 2.5 -.8 .7 -.4 1.8 0 2.5 .4 .4 1.7-.4 2.2-2.5 -.1-2.5 2.2-2.5 .1-2.5 -1.1-1.1 -2.5 .6 -.5 .5zM277.2 386.4l.1 2.6 -.8 0 .7-2.6zM274.7 389.5l.5 2 -.2 7.5 -2.3 2.5 -.5 4 -.9 1 -1.6 3.7 -1.7-1.2 -1.6-2.5 2.1-5 -.2-2.5 2.8-2.5 .1-2.5 3.5-4.5zM189.7 396.4l.9 .1 3.9 2.5 .2 5 -2.5-.1 -1 2.6 1 1 .3 1.5 0 5 -2.8 3.3 -2.5 .5 -1-1.3 .1-2.5 2.8-5 -1.9-.6 -1.8-1.9 1.8-5.2 2.7-2.3 -.2-2.6zM117.2 398.1l.9 .9 -.9 .5 -.5-.5 .5-.9zM74.7 404.7l2.5 .2 1.2 1.6 .4 2.5 -2.2 2.5 -1.9 .3 -1.6-.3 1.6-6.8zM224.7 406.2l2.5 1.3 5 .7 3 3.3 -1.6 2.5 .2 2.5 -1.6 3 -1.8-.5 -.2-5 -.5-.7 -2.5 .4 -5 3.7 -.3-.9 .3-3.8 .5-1.2 0-2.5 2-2.8zM114.7 407.1l2.5 .6 1.3 1.3 -.4 5 -2.4 2.5 0 2.5 -3.5 3.6 -2.5-2.8 0-3.4 1.3-2.4 .4-2.5 3.3-4.4zM114.2 409l-.5 2.5 .3 2.5 .7 .7 .6-.7 .5-5 -1.1-.6 -.5 .6zM152.2 409l1.2 2.5 .3 5 -4 4.1 -2.5-.2 -.5-3.9 1.3-5 1.7-2 2.5-.5zM89.7 422.7l2.5 1.5 .2 4.8 -2.7 2.8 -3.8-.3 -.6-2.5 1-2.5 3.4-3.8zM167.2 425.7l2.5 .1 .7 .7 -.7 2 -2.5 1.5 -2.5 0 -1-1 3.5-3.3zM202.2 425.1l2.5-1 1.4 2.4 -1.4 1.9 -2.5 0 -1.3-1.9 1.3-1.4zM132.2 428.8l2.6 .2 .1 2.5 -2.7 2.2 -2.5 .5 -.4-2.7 2.9-2.7z" fill="#cc7363" fill-rule="evenodd" stroke="#6e7a78" stroke-width="0.3" stroke-opacity="0.7"/>
<path d="M204.7 380.7l.8 .8 -.8 6.5 -2.5 2.6 -.7-4.1 .1-2.5 .6-1.1 2.5-2.2zM239.7 383.5l2.5-.6 1.1 1.1 -.1 2.5 -2.2 2.5 .1 2.5 -2.2 2.5 -1.7 .4 -.4-.4 .4-4.3 .8-.7 1.1-2.5 .1-2.5 .5-.5zM114.7 408.4l1.1 .6 -.5 5 -.6 .7 -.7-.7 -.3-2.5 1-3.1z" fill="#a2364a" fill-rule="evenodd" stroke="#6e7a78" stroke-width="0.3" stroke-opacity="0.7"/>
<path d="M56.7 464.0V440.7Q56.7 440.2 57.2 440.2H57.2Q57.6 440.2 57.6 440.7V464.0Z" fill="#e8c8a0" stroke="#7a8886" stroke-width="0.3" stroke-opacity="0.5"/>
<path d="M57.6 464.0V443.9Q57.6 441.4 60.1 441.4H74.1Q76.6 441.4 76.6 443.9V464.0Z" fill="#cadfd3" stroke="#7a8886" stroke-width="0.3" stroke-opacity="0.5"/>
<path d="M76.6 464.0V444.5Q76.6 442.0 79.1 442.0H86.8Q89.3 442.0 89.3 444.5V464.0Z" fill="#d8ddc8" stroke="#7a8886" stroke-width="0.3" stroke-opacity="0.5"/>
<path d="M89.3 464.0V445.9Q89.3 443.4 91.8 443.4H92.3Q94.8 443.4 94.8 445.9V464.0Z" fill="#e8c8a0" stroke="#7a8886" stroke-width="0.3" stroke-opacity="0.5"/>
<path d="M94.8 464.0V443.9Q94.8 441.4 97.3 441.4H101.0Q103.5 441.4 103.5 443.9V464.0Z" fill="#d8ddc8" stroke="#7a8886" stroke-width="0.3" stroke-opacity="0.5"/>
<path d="M103.5 464.0V445.6Q103.5 443.2 105.9 443.2H105.9Q108.3 443.2 108.3 445.6V464.0Z" fill="#cadfd3" stroke="#7a8886" stroke-width="0.3" stroke-opacity="0.5"/>
<path d="M108.3 464.0V437.9Q108.3 435.5 110.7 435.5H110.7Q113.0 435.5 113.0 437.9V464.0Z" fill="#d8ddc8" stroke="#7a8886" stroke-width="0.3" stroke-opacity="0.5"/>
<path d="M113.0 464.0V441.2Q113.0 438.7 115.5 438.7H116.9Q119.4 438.7 119.4 441.2V464.0Z" fill="#cadfd3" stroke="#7a8886" stroke-width="0.3" stroke-opacity="0.5"/>
<path d="M119.4 464.0V445.0Q119.4 443.4 121.0 443.4H121.0Q122.6 443.4 122.6 445.0V464.0Z" fill="#e8c8a0" stroke="#7a8886" stroke-width="0.3" stroke-opacity="0.5"/>
<path d="M122.6 464.0V443.0Q122.6 440.5 125.1 440.5H127.5Q130.0 440.5 130.0 443.0V464.0Z" fill="#d8ddc8" stroke="#7a8886" stroke-width="0.3" stroke-opacity="0.5"/>
<path d="M130.0 464.0V444.6Q130.0 443.0 131.6 443.0H131.6Q133.2 443.0 133.2 444.6V464.0Z" fill="#e8c8a0" stroke="#7a8886" stroke-width="0.3" stroke-opacity="0.5"/>
<path d="M133.2 464.0V438.0Q133.2 435.5 135.7 435.5H140.2Q142.7 435.5 142.7 438.0V464.0Z" fill="#e8c8a0" stroke="#7a8886" stroke-width="0.3" stroke-opacity="0.5"/>
<path d="M142.7 464.0V441.2Q142.7 438.7 145.2 438.7H154.5Q157.0 438.7 157.0 441.2V464.0Z" fill="#d8ddc8" stroke="#7a8886" stroke-width="0.3" stroke-opacity="0.5"/>
<path d="M157.0 464.0V438.8Q157.0 436.5 159.3 436.5H159.3Q161.7 436.5 161.7 438.8V464.0Z" fill="#cadfd3" stroke="#7a8886" stroke-width="0.3" stroke-opacity="0.5"/>
<path d="M161.7 464.0V441.9Q161.7 439.4 164.2 439.4H165.5Q168.0 439.4 168.0 441.9V464.0Z" fill="#e8c8a0" stroke="#7a8886" stroke-width="0.3" stroke-opacity="0.5"/>
<path d="M168.0 464.0V442.2Q168.0 439.7 170.5 439.7H175.0Q177.5 439.7 177.5 442.2V464.0Z" fill="#d8ddc8" stroke="#7a8886" stroke-width="0.3" stroke-opacity="0.5"/>
<path d="M177.5 464.0V438.0Q177.5 435.5 180.0 435.5H184.5Q187.0 435.5 187.0 438.0V464.0Z" fill="#e8c8a0" stroke="#7a8886" stroke-width="0.3" stroke-opacity="0.5"/>
<path d="M187.0 464.0V438.7Q187.0 436.2 189.5 436.2H190.9Q193.4 436.2 193.4 438.7V464.0Z" fill="#d8ddc8" stroke="#7a8886" stroke-width="0.3" stroke-opacity="0.5"/>
<path d="M193.4 464.0V439.3Q193.4 436.8 195.9 436.8H197.2Q199.7 436.8 199.7 439.3V464.0Z" fill="#cadfd3" stroke="#7a8886" stroke-width="0.3" stroke-opacity="0.5"/>
<path d="M199.7 464.0V444.8Q199.7 443.2 201.3 443.2H201.3Q203.0 443.2 203.0 444.8V464.0Z" fill="#d8ddc8" stroke="#7a8886" stroke-width="0.3" stroke-opacity="0.5"/>
<path d="M203.0 464.0V442.4Q203.0 441.7 203.8 441.7H203.8Q204.5 441.7 204.5 442.4V464.0Z" fill="#cc7363" stroke="#7a8886" stroke-width="0.3" stroke-opacity="0.5"/>
<path d="M204.5 464.0V436.8Q204.5 435.6 205.8 435.6H205.8Q207.0 435.6 207.0 436.8V464.0Z" fill="#d8ddc8" stroke="#7a8886" stroke-width="0.3" stroke-opacity="0.5"/>
<path d="M207.0 464.0V444.0Q207.0 442.0 209.0 442.0H209.0Q211.0 442.0 211.0 444.0V464.0Z" fill="#d8ddc8" stroke="#7a8886" stroke-width="0.3" stroke-opacity="0.5"/>
<path d="M211.0 464.0V438.0Q211.0 435.5 213.5 435.5H213.5Q216.0 435.5 216.0 438.0V464.0Z" fill="#e8c8a0" stroke="#7a8886" stroke-width="0.3" stroke-opacity="0.5"/>
<path d="M216.0 464.0V442.7Q216.0 440.2 218.5 440.2H219.7Q222.2 440.2 222.2 442.7V464.0Z" fill="#cadfd3" stroke="#7a8886" stroke-width="0.3" stroke-opacity="0.5"/>
<path d="M222.2 464.0V437.1Q222.2 435.5 223.8 435.5H223.8Q225.4 435.5 225.4 437.1V464.0Z" fill="#e8c8a0" stroke="#7a8886" stroke-width="0.3" stroke-opacity="0.5"/>
<path d="M225.4 464.0V438.0Q225.4 435.5 227.9 435.5H229.2Q231.7 435.5 231.7 438.0V464.0Z" fill="#cadfd3" stroke="#7a8886" stroke-width="0.3" stroke-opacity="0.5"/>
<path d="M231.7 464.0V445.2Q231.7 442.7 234.2 442.7H235.1Q237.6 442.7 237.6 445.2V464.0Z" fill="#e8c8a0" stroke="#7a8886" stroke-width="0.3" stroke-opacity="0.5"/>
<path d="M237.6 464.0V436.7Q237.6 436.1 238.2 436.1H238.2Q238.8 436.1 238.8 436.7V464.0Z" fill="#cc7363" stroke="#7a8886" stroke-width="0.3" stroke-opacity="0.5"/>
<path d="M238.8 464.0V436.6Q238.8 436.2 239.2 436.2H239.2Q239.6 436.2 239.6 436.6V464.0Z" fill="#e8c8a0" stroke="#7a8886" stroke-width="0.3" stroke-opacity="0.5"/>
<path d="M239.6 464.0V446.3Q239.6 443.8 242.1 443.8H245.0Q247.5 443.8 247.5 446.3V464.0Z" fill="#d8ddc8" stroke="#7a8886" stroke-width="0.3" stroke-opacity="0.5"/>
<path d="M247.5 464.0V445.2Q247.5 442.7 250.0 442.7H251.4Q253.9 442.7 253.9 445.2V464.0Z" fill="#cadfd3" stroke="#7a8886" stroke-width="0.3" stroke-opacity="0.5"/>
<path d="M253.9 464.0V438.4Q253.9 436.9 255.4 436.9H255.4Q257.0 436.9 257.0 438.4V464.0Z" fill="#d8ddc8" stroke="#7a8886" stroke-width="0.3" stroke-opacity="0.5"/>
<path d="M257.0 464.0V446.0Q257.0 443.6 259.4 443.6H259.4Q261.8 443.6 261.8 446.0V464.0Z" fill="#e8c8a0" stroke="#7a8886" stroke-width="0.3" stroke-opacity="0.5"/>
<path d="M261.8 464.0V441.8Q261.8 439.4 264.2 439.4H264.2Q266.6 439.4 266.6 441.8V464.0Z" fill="#cadfd3" stroke="#7a8886" stroke-width="0.3" stroke-opacity="0.5"/>
<path d="M266.6 464.0V443.3Q266.6 440.8 269.1 440.8H270.4Q272.9 440.8 272.9 443.3V464.0Z" fill="#d8ddc8" stroke="#7a8886" stroke-width="0.3" stroke-opacity="0.5"/>
<path d="M272.9 464.0V437.6Q272.9 436.0 274.4 436.0H274.4Q276.0 436.0 276.0 437.6V464.0Z" fill="#e8c8a0" stroke="#7a8886" stroke-width="0.3" stroke-opacity="0.5"/>
</g>
<line x1="52.50" y1="305.60" x2="280.40" y2="305.60" stroke="#9a9a9a" stroke-width="1"/>
<line x1="52.50" y1="305.60" x2="52.50" y2="474.00" stroke="#9a9a9a" stroke-width="1"/>
<line x1="280.40" y1="305.60" x2="280.40" y2="474.00" stroke="#9a9a9a" stroke-width="1"/>
<line x1="52.50" y1="474.00" x2="280.40" y2="474.00" stroke="#666" stroke-width="1"/>
<line x1="55.00" y1="474.00" x2="55.00" y2="471.80" stroke="#666" stroke-width="0.8"/>
<line x1="64.17" y1="474.00" x2="64.17" y2="472.80" stroke="#666" stroke-width="0.8"/>
<line x1="73.35" y1="474.00" x2="73.35" y2="472.80" stroke="#666" stroke-width="0.8"/>
<line x1="82.53" y1="474.00" x2="82.53" y2="472.80" stroke="#666" stroke-width="0.8"/>
<line x1="91.70" y1="474.00" x2="91.70" y2="471.80" stroke="#666" stroke-width="0.8"/>
<line x1="100.88" y1="474.00" x2="100.88" y2="472.80" stroke="#666" stroke-width="0.8"/>
<line x1="110.05" y1="474.00" x2="110.05" y2="472.80" stroke="#666" stroke-width="0.8"/>
<line x1="119.23" y1="474.00" x2="119.23" y2="472.80" stroke="#666" stroke-width="0.8"/>
<line x1="128.40" y1="474.00" x2="128.40" y2="471.80" stroke="#666" stroke-width="0.8"/>
<line x1="137.57" y1="474.00" x2="137.57" y2="472.80" stroke="#666" stroke-width="0.8"/>
<line x1="146.75" y1="474.00" x2="146.75" y2="472.80" stroke="#666" stroke-width="0.8"/>
<line x1="155.93" y1="474.00" x2="155.93" y2="472.80" stroke="#666" stroke-width="0.8"/>
<line x1="165.10" y1="474.00" x2="165.10" y2="471.80" stroke="#666" stroke-width="0.8"/>
<line x1="174.28" y1="474.00" x2="174.28" y2="472.80" stroke="#666" stroke-width="0.8"/>
<line x1="183.45" y1="474.00" x2="183.45" y2="472.80" stroke="#666" stroke-width="0.8"/>
<line x1="192.62" y1="474.00" x2="192.62" y2="472.80" stroke="#666" stroke-width="0.8"/>
<line x1="201.80" y1="474.00" x2="201.80" y2="471.80" stroke="#666" stroke-width="0.8"/>
<line x1="210.98" y1="474.00" x2="210.98" y2="472.80" stroke="#666" stroke-width="0.8"/>
<line x1="220.15" y1="474.00" x2="220.15" y2="472.80" stroke="#666" stroke-width="0.8"/>
<line x1="229.33" y1="474.00" x2="229.33" y2="472.80" stroke="#666" stroke-width="0.8"/>
<line x1="238.50" y1="474.00" x2="238.50" y2="471.80" stroke="#666" stroke-width="0.8"/>
<line x1="247.68" y1="474.00" x2="247.68" y2="472.80" stroke="#666" stroke-width="0.8"/>
<line x1="256.85" y1="474.00" x2="256.85" y2="472.80" stroke="#666" stroke-width="0.8"/>
<line x1="266.02" y1="474.00" x2="266.02" y2="472.80" stroke="#666" stroke-width="0.8"/>
<line x1="275.20" y1="474.00" x2="275.20" y2="471.80" stroke="#666" stroke-width="0.8"/>
<text x="48.8" y="312.8" font-size="13" text-anchor="end" font-weight="normal" font-style="normal" fill="#231f20" stroke="#231f20" stroke-width="0.22">0</text>
<text x="48.8" y="345.16" font-size="13" text-anchor="end" font-weight="normal" font-style="normal" fill="#231f20" stroke="#231f20" stroke-width="0.22">250</text>
<text x="48.8" y="377.52" font-size="13" text-anchor="end" font-weight="normal" font-style="normal" fill="#231f20" stroke="#231f20" stroke-width="0.22">500</text>
<text x="48.8" y="409.88" font-size="13" text-anchor="end" font-weight="normal" font-style="normal" fill="#231f20" stroke="#231f20" stroke-width="0.22">750</text>
<text x="48.8" y="442.24" font-size="13" text-anchor="end" font-weight="normal" font-style="normal" fill="#231f20" stroke="#231f20" stroke-width="0.22">1000</text>
<text x="48.8" y="474.6" font-size="13" text-anchor="end" font-weight="normal" font-style="normal" fill="#231f20" stroke="#231f20" stroke-width="0.22">1250</text>
<circle cx="56.30" cy="468.20" r="0.55" fill="#333"/>
<circle cx="61.50" cy="468.20" r="0.55" fill="#333"/>
<circle cx="63.10" cy="468.20" r="0.55" fill="#333"/>
<circle cx="66.60" cy="468.20" r="0.55" fill="#333"/>
<circle cx="71.00" cy="468.20" r="0.55" fill="#333"/>
<circle cx="75.30" cy="468.20" r="0.55" fill="#333"/>
<circle cx="79.70" cy="468.20" r="0.55" fill="#333"/>
<circle cx="86.40" cy="468.20" r="0.55" fill="#333"/>
<circle cx="88.80" cy="468.20" r="0.55" fill="#333"/>
<circle cx="93.00" cy="468.20" r="0.55" fill="#333"/>
<circle cx="95.50" cy="468.20" r="0.55" fill="#333"/>
<circle cx="101.00" cy="468.20" r="0.55" fill="#333"/>
<circle cx="104.00" cy="468.20" r="0.55" fill="#333"/>
<circle cx="106.00" cy="468.20" r="0.55" fill="#333"/>
<circle cx="108.00" cy="468.20" r="0.55" fill="#333"/>
<circle cx="110.00" cy="468.20" r="0.55" fill="#333"/>
<circle cx="116.00" cy="468.20" r="0.55" fill="#333"/>
<circle cx="121.00" cy="468.20" r="0.55" fill="#333"/>
<circle cx="128.00" cy="468.20" r="0.55" fill="#333"/>
<circle cx="133.00" cy="468.20" r="0.55" fill="#333"/>
<circle cx="139.00" cy="468.20" r="0.55" fill="#333"/>
<circle cx="145.00" cy="468.20" r="0.55" fill="#333"/>
<circle cx="152.00" cy="468.20" r="0.55" fill="#333"/>
<circle cx="158.00" cy="468.20" r="0.55" fill="#333"/>
<circle cx="167.00" cy="468.20" r="0.55" fill="#333"/>
<circle cx="171.00" cy="468.20" r="0.55" fill="#333"/>
<circle cx="176.00" cy="468.20" r="0.55" fill="#333"/>
<circle cx="180.00" cy="468.20" r="0.55" fill="#333"/>
<circle cx="183.00" cy="468.20" r="0.55" fill="#333"/>
<circle cx="188.00" cy="468.20" r="0.55" fill="#333"/>
<circle cx="190.00" cy="468.20" r="0.55" fill="#333"/>
<circle cx="194.00" cy="468.20" r="0.55" fill="#333"/>
<circle cx="197.00" cy="468.20" r="0.55" fill="#333"/>
<circle cx="200.00" cy="468.20" r="0.55" fill="#333"/>
<circle cx="203.00" cy="468.20" r="0.55" fill="#333"/>
<circle cx="206.00" cy="468.20" r="0.55" fill="#333"/>
<circle cx="210.00" cy="468.20" r="0.55" fill="#333"/>
<circle cx="213.00" cy="468.20" r="0.55" fill="#333"/>
<circle cx="215.00" cy="468.20" r="0.55" fill="#333"/>
<circle cx="218.00" cy="468.20" r="0.55" fill="#333"/>
<circle cx="221.00" cy="468.20" r="0.55" fill="#333"/>
<circle cx="225.00" cy="468.20" r="0.55" fill="#333"/>
<circle cx="229.00" cy="468.20" r="0.55" fill="#333"/>
<circle cx="232.00" cy="468.20" r="0.55" fill="#333"/>
<circle cx="236.00" cy="468.20" r="0.55" fill="#333"/>
<circle cx="240.00" cy="468.20" r="0.55" fill="#333"/>
<circle cx="245.00" cy="468.20" r="0.55" fill="#333"/>
<circle cx="248.00" cy="468.20" r="0.55" fill="#333"/>
<circle cx="252.00" cy="468.20" r="0.55" fill="#333"/>
<circle cx="256.00" cy="468.20" r="0.55" fill="#333"/>
<circle cx="260.00" cy="468.20" r="0.55" fill="#333"/>
<circle cx="266.00" cy="468.20" r="0.55" fill="#333"/>
<circle cx="273.00" cy="468.20" r="0.55" fill="#333"/>
<text x="55.0" y="486.7" font-size="13" text-anchor="middle" font-weight="normal" font-style="normal" fill="#231f20" stroke="#231f20" stroke-width="0.22">01</text>
<text x="91.7" y="486.7" font-size="13" text-anchor="middle" font-weight="normal" font-style="normal" fill="#231f20" stroke="#231f20" stroke-width="0.22">02</text>
<text x="128.4" y="486.7" font-size="13" text-anchor="middle" font-weight="normal" font-style="normal" fill="#231f20" stroke="#231f20" stroke-width="0.22">03</text>
<text x="165.10000000000002" y="486.7" font-size="13" text-anchor="middle" font-weight="normal" font-style="normal" fill="#231f20" stroke="#231f20" stroke-width="0.22">04</text>
<text x="201.8" y="486.7" font-size="13" text-anchor="middle" font-weight="normal" font-style="normal" fill="#231f20" stroke="#231f20" stroke-width="0.22">05</text>
<text x="238.5" y="486.7" font-size="13" text-anchor="middle" font-weight="normal" font-style="normal" fill="#231f20" stroke="#231f20" stroke-width="0.22">06</text>
<text x="275.20000000000005" y="486.7" font-size="13" text-anchor="middle" font-weight="normal" font-style="normal" fill="#231f20" stroke="#231f20" stroke-width="0.22">07</text>
<text x="130" y="500.5" font-size="13" text-anchor="start" font-weight="normal" font-style="normal" fill="#231f20" stroke="#231f20" stroke-width="0.22" textLength="70.4" lengthAdjust="spacingAndGlyphs">Oct 2017 (d)</text>
<text x="12" y="287.6" font-size="13" text-anchor="middle" font-weight="normal" font-style="normal" fill="#231f20" stroke="#231f20" stroke-width="0.22" textLength="76" lengthAdjust="spacingAndGlyphs" transform="rotate(-90 12 287.6)">Depth (mbsl)</text>
<text x="61.5" y="279" font-size="12.5" text-anchor="start" font-weight="bold" font-style="italic" fill="#231f20">V</text>
<text x="70" y="284.6" font-size="9" text-anchor="start" font-weight="bold" font-style="italic" fill="#231f20">E</text>
<text x="61.5" y="456" font-size="12.5" text-anchor="start" font-weight="bold" font-style="italic" fill="#231f20">V</text>
<text x="70" y="461.5" font-size="9" text-anchor="start" font-weight="bold" font-style="italic" fill="#231f20">N</text>
<rect x="288.60" y="236.80" width="9.50" height="7.55" fill="#a2364a"/>
<rect x="288.60" y="244.05" width="9.50" height="7.55" fill="#cb6c5e"/>
<rect x="288.60" y="251.29" width="9.50" height="7.55" fill="#e8c8a0"/>
<rect x="288.60" y="258.54" width="9.50" height="7.55" fill="#e6e1c4"/>
<rect x="288.60" y="265.79" width="9.50" height="7.55" fill="#d8ddc8"/>
<rect x="288.60" y="273.04" width="9.50" height="7.55" fill="#cadfd3"/>
<rect x="288.60" y="280.28" width="9.50" height="7.55" fill="#bcdadb"/>
<rect x="288.60" y="287.53" width="9.50" height="7.55" fill="#aed3e0"/>
<rect x="288.60" y="294.78" width="9.50" height="7.55" fill="#a0cae0"/>
<rect x="288.60" y="302.02" width="9.50" height="7.55" fill="#91bfdc"/>
<rect x="288.60" y="309.27" width="9.50" height="7.55" fill="#81b3d6"/>
<rect x="288.60" y="316.52" width="9.50" height="7.55" fill="#71a6cf"/>
<rect x="288.60" y="323.76" width="9.50" height="7.55" fill="#6199c8"/>
<rect x="288.60" y="331.01" width="9.50" height="7.55" fill="#518bc0"/>
<rect x="288.60" y="338.26" width="9.50" height="7.55" fill="#427db7"/>
<rect x="288.60" y="345.51" width="9.50" height="7.55" fill="#3670ac"/>
<rect x="288.60" y="352.75" width="9.50" height="7.55" fill="#2b62a0"/>
<text x="302.9" y="247.8" font-size="12" text-anchor="start" font-weight="normal" font-style="normal" fill="#231f20" stroke="#231f20" stroke-width="0.22">5</text>
<text x="302.9" y="262.29999999999995" font-size="12" text-anchor="start" font-weight="normal" font-style="normal" fill="#231f20" stroke="#231f20" stroke-width="0.22">0</text>
<text x="302.9" y="276.79999999999995" font-size="12" text-anchor="start" font-weight="normal" font-style="normal" fill="#231f20" stroke="#231f20" stroke-width="0.22">-5</text>
<text x="302.9" y="291.29999999999995" font-size="12" text-anchor="start" font-weight="normal" font-style="normal" fill="#231f20" stroke="#231f20" stroke-width="0.22">-10</text>
<text x="302.9" y="305.79999999999995" font-size="12" text-anchor="start" font-weight="normal" font-style="normal" fill="#231f20" stroke="#231f20" stroke-width="0.22">-15</text>
<text x="302.9" y="320.29999999999995" font-size="12" text-anchor="start" font-weight="normal" font-style="normal" fill="#231f20" stroke="#231f20" stroke-width="0.22">-20</text>
<text x="302.9" y="334.79999999999995" font-size="12" text-anchor="start" font-weight="normal" font-style="normal" fill="#231f20" stroke="#231f20" stroke-width="0.22">-25</text>
<text x="302.9" y="349.29999999999995" font-size="12" text-anchor="start" font-weight="normal" font-style="normal" fill="#231f20" stroke="#231f20" stroke-width="0.22">-30</text>
<text x="288" y="232.4" font-size="12" text-anchor="start" font-weight="normal" font-style="normal" fill="#231f20" stroke="#231f20" stroke-width="0.22" textLength="36" lengthAdjust="spacingAndGlyphs"><tspan font-style="italic">v</tspan> (cm/s)</text>
<text x="342.3" y="17" font-size="12" text-anchor="start" font-weight="bold" font-style="normal" fill="#231f20" textLength="14.4" lengthAdjust="spacingAndGlyphs">(c)</text>
<text x="423.5" y="10.2" font-size="11.5" text-anchor="middle" font-weight="bold" font-style="normal" fill="#231f20" textLength="33" lengthAdjust="spacingAndGlyphs">3 mm</text>
<text x="613.3" y="10.4" font-size="11.5" text-anchor="middle" font-weight="bold" font-style="normal" fill="#231f20" textLength="40" lengthAdjust="spacingAndGlyphs">15 mm</text>
<line x1="336.70" y1="36.60" x2="397.40" y2="12.20" stroke="#3a3a3a" stroke-width="0.75"/>
<line x1="397.40" y1="12.20" x2="490.50" y2="23.10" stroke="#3a3a3a" stroke-width="0.75"/>
<line x1="490.50" y1="23.10" x2="450.70" y2="53.90" stroke="#3a3a3a" stroke-width="0.75"/>
<line x1="450.70" y1="53.90" x2="336.70" y2="36.60" stroke="#3a3a3a" stroke-width="0.75"/>
<line x1="336.70" y1="36.60" x2="350.80" y2="167.50" stroke="#3a3a3a" stroke-width="0.75"/>
<line x1="397.40" y1="12.20" x2="400.30" y2="122.00" stroke="#3a3a3a" stroke-width="0.75"/>
<line x1="490.50" y1="23.10" x2="479.80" y2="142.70" stroke="#3a3a3a" stroke-width="0.75"/>
<line x1="450.70" y1="53.90" x2="444.30" y2="199.70" stroke="#3a3a3a" stroke-width="0.75"/>
<line x1="350.80" y1="167.50" x2="400.30" y2="122.00" stroke="#3a3a3a" stroke-width="0.75"/>
<line x1="400.30" y1="122.00" x2="479.80" y2="142.70" stroke="#3a3a3a" stroke-width="0.75"/>
<line x1="479.80" y1="142.70" x2="444.30" y2="199.70" stroke="#3a3a3a" stroke-width="0.75"/>
<line x1="444.30" y1="199.70" x2="350.80" y2="167.50" stroke="#3a3a3a" stroke-width="0.75"/>
<line x1="522.90" y1="35.60" x2="581.20" y2="12.40" stroke="#3a3a3a" stroke-width="0.75"/>
<line x1="581.20" y1="12.40" x2="669.50" y2="22.80" stroke="#3a3a3a" stroke-width="0.75"/>
<line x1="669.50" y1="22.80" x2="632.10" y2="52.80" stroke="#3a3a3a" stroke-width="0.75"/>
<line x1="632.10" y1="52.80" x2="522.90" y2="35.60" stroke="#3a3a3a" stroke-width="0.75"/>
<line x1="522.90" y1="35.60" x2="536.60" y2="161.10" stroke="#3a3a3a" stroke-width="0.75"/>
<line x1="581.20" y1="12.40" x2="583.50" y2="118.30" stroke="#3a3a3a" stroke-width="0.75"/>
<line x1="669.50" y1="22.80" x2="659.50" y2="137.30" stroke="#3a3a3a" stroke-width="0.75"/>
<line x1="632.10" y1="52.80" x2="625.70" y2="191.30" stroke="#3a3a3a" stroke-width="0.75"/>
<line x1="536.60" y1="161.10" x2="583.50" y2="118.30" stroke="#3a3a3a" stroke-width="0.75"/>
<line x1="583.50" y1="118.30" x2="659.50" y2="137.30" stroke="#3a3a3a" stroke-width="0.75"/>
<line x1="659.50" y1="137.30" x2="625.70" y2="191.30" stroke="#3a3a3a" stroke-width="0.75"/>
<line x1="625.70" y1="191.30" x2="536.60" y2="161.10" stroke="#3a3a3a" stroke-width="0.75"/>
<line x1="490.50" y1="23.10" x2="492.50" y2="23.10" stroke="#3a3a3a" stroke-width="0.6"/>
<line x1="489.53" y1="33.97" x2="491.53" y2="33.97" stroke="#3a3a3a" stroke-width="0.6"/>
<line x1="488.55" y1="44.85" x2="490.55" y2="44.85" stroke="#3a3a3a" stroke-width="0.6"/>
<line x1="487.58" y1="55.72" x2="489.58" y2="55.72" stroke="#3a3a3a" stroke-width="0.6"/>
<line x1="486.61" y1="66.59" x2="488.61" y2="66.59" stroke="#3a3a3a" stroke-width="0.6"/>
<line x1="485.64" y1="77.46" x2="487.64" y2="77.46" stroke="#3a3a3a" stroke-width="0.6"/>
<line x1="484.66" y1="88.34" x2="486.66" y2="88.34" stroke="#3a3a3a" stroke-width="0.6"/>
<line x1="483.69" y1="99.21" x2="485.69" y2="99.21" stroke="#3a3a3a" stroke-width="0.6"/>
<line x1="482.72" y1="110.08" x2="484.72" y2="110.08" stroke="#3a3a3a" stroke-width="0.6"/>
<line x1="481.75" y1="120.95" x2="483.75" y2="120.95" stroke="#3a3a3a" stroke-width="0.6"/>
<line x1="480.77" y1="131.83" x2="482.77" y2="131.83" stroke="#3a3a3a" stroke-width="0.6"/>
<line x1="479.80" y1="142.70" x2="481.80" y2="142.70" stroke="#3a3a3a" stroke-width="0.6"/>
<line x1="669.50" y1="22.80" x2="671.50" y2="22.80" stroke="#3a3a3a" stroke-width="0.6"/>
<line x1="668.59" y1="33.21" x2="670.59" y2="33.21" stroke="#3a3a3a" stroke-width="0.6"/>
<line x1="667.68" y1="43.62" x2="669.68" y2="43.62" stroke="#3a3a3a" stroke-width="0.6"/>
<line x1="666.77" y1="54.03" x2="668.77" y2="54.03" stroke="#3a3a3a" stroke-width="0.6"/>
<line x1="665.86" y1="64.44" x2="667.86" y2="64.44" stroke="#3a3a3a" stroke-width="0.6"/>
<line x1="664.95" y1="74.85" x2="666.95" y2="74.85" stroke="#3a3a3a" stroke-width="0.6"/>
<line x1="664.05" y1="85.25" x2="666.05" y2="85.25" stroke="#3a3a3a" stroke-width="0.6"/>
<line x1="663.14" y1="95.66" x2="665.14" y2="95.66" stroke="#3a3a3a" stroke-width="0.6"/>
<line x1="662.23" y1="106.07" x2="664.23" y2="106.07" stroke="#3a3a3a" stroke-width="0.6"/>
<line x1="661.32" y1="116.48" x2="663.32" y2="116.48" stroke="#3a3a3a" stroke-width="0.6"/>
<line x1="660.41" y1="126.89" x2="662.41" y2="126.89" stroke="#3a3a3a" stroke-width="0.6"/>
<line x1="659.50" y1="137.30" x2="661.50" y2="137.30" stroke="#3a3a3a" stroke-width="0.6"/>
<line x1="479.80" y1="142.70" x2="481.60" y2="143.24" stroke="#3a3a3a" stroke-width="0.6"/>
<line x1="476.25" y1="148.40" x2="478.05" y2="148.94" stroke="#3a3a3a" stroke-width="0.6"/>
<line x1="472.70" y1="154.10" x2="474.50" y2="154.64" stroke="#3a3a3a" stroke-width="0.6"/>
<line x1="469.15" y1="159.80" x2="470.95" y2="160.34" stroke="#3a3a3a" stroke-width="0.6"/>
<line x1="465.60" y1="165.50" x2="467.40" y2="166.04" stroke="#3a3a3a" stroke-width="0.6"/>
<line x1="462.05" y1="171.20" x2="463.85" y2="171.74" stroke="#3a3a3a" stroke-width="0.6"/>
<line x1="458.50" y1="176.90" x2="460.30" y2="177.44" stroke="#3a3a3a" stroke-width="0.6"/>
<line x1="454.95" y1="182.60" x2="456.75" y2="183.14" stroke="#3a3a3a" stroke-width="0.6"/>
<line x1="451.40" y1="188.30" x2="453.20" y2="188.84" stroke="#3a3a3a" stroke-width="0.6"/>
<line x1="447.85" y1="194.00" x2="449.65" y2="194.54" stroke="#3a3a3a" stroke-width="0.6"/>
<line x1="444.30" y1="199.70" x2="446.10" y2="200.24" stroke="#3a3a3a" stroke-width="0.6"/>
<line x1="659.50" y1="137.30" x2="661.30" y2="137.84" stroke="#3a3a3a" stroke-width="0.6"/>
<line x1="656.12" y1="142.70" x2="657.92" y2="143.24" stroke="#3a3a3a" stroke-width="0.6"/>
<line x1="652.74" y1="148.10" x2="654.54" y2="148.64" stroke="#3a3a3a" stroke-width="0.6"/>
<line x1="649.36" y1="153.50" x2="651.16" y2="154.04" stroke="#3a3a3a" stroke-width="0.6"/>
<line x1="645.98" y1="158.90" x2="647.78" y2="159.44" stroke="#3a3a3a" stroke-width="0.6"/>
<line x1="642.60" y1="164.30" x2="644.40" y2="164.84" stroke="#3a3a3a" stroke-width="0.6"/>
<line x1="639.22" y1="169.70" x2="641.02" y2="170.24" stroke="#3a3a3a" stroke-width="0.6"/>
<line x1="635.84" y1="175.10" x2="637.64" y2="175.64" stroke="#3a3a3a" stroke-width="0.6"/>
<line x1="632.46" y1="180.50" x2="634.26" y2="181.04" stroke="#3a3a3a" stroke-width="0.6"/>
<line x1="629.08" y1="185.90" x2="630.88" y2="186.44" stroke="#3a3a3a" stroke-width="0.6"/>
<line x1="625.70" y1="191.30" x2="627.50" y2="191.84" stroke="#3a3a3a" stroke-width="0.6"/>
<line x1="350.80" y1="167.50" x2="350.80" y2="169.30" stroke="#3a3a3a" stroke-width="0.6"/>
<line x1="360.15" y1="170.72" x2="360.15" y2="172.52" stroke="#3a3a3a" stroke-width="0.6"/>
<line x1="369.50" y1="173.94" x2="369.50" y2="175.74" stroke="#3a3a3a" stroke-width="0.6"/>
<line x1="378.85" y1="177.16" x2="378.85" y2="178.96" stroke="#3a3a3a" stroke-width="0.6"/>
<line x1="388.20" y1="180.38" x2="388.20" y2="182.18" stroke="#3a3a3a" stroke-width="0.6"/>
<line x1="397.55" y1="183.60" x2="397.55" y2="185.40" stroke="#3a3a3a" stroke-width="0.6"/>
<line x1="406.90" y1="186.82" x2="406.90" y2="188.62" stroke="#3a3a3a" stroke-width="0.6"/>
<line x1="416.25" y1="190.04" x2="416.25" y2="191.84" stroke="#3a3a3a" stroke-width="0.6"/>
<line x1="425.60" y1="193.26" x2="425.60" y2="195.06" stroke="#3a3a3a" stroke-width="0.6"/>
<line x1="434.95" y1="196.48" x2="434.95" y2="198.28" stroke="#3a3a3a" stroke-width="0.6"/>
<line x1="444.30" y1="199.70" x2="444.30" y2="201.50" stroke="#3a3a3a" stroke-width="0.6"/>
<line x1="536.60" y1="161.10" x2="536.60" y2="162.90" stroke="#3a3a3a" stroke-width="0.6"/>
<line x1="545.51" y1="164.12" x2="545.51" y2="165.92" stroke="#3a3a3a" stroke-width="0.6"/>
<line x1="554.42" y1="167.14" x2="554.42" y2="168.94" stroke="#3a3a3a" stroke-width="0.6"/>
<line x1="563.33" y1="170.16" x2="563.33" y2="171.96" stroke="#3a3a3a" stroke-width="0.6"/>
<line x1="572.24" y1="173.18" x2="572.24" y2="174.98" stroke="#3a3a3a" stroke-width="0.6"/>
<line x1="581.15" y1="176.20" x2="581.15" y2="178.00" stroke="#3a3a3a" stroke-width="0.6"/>
<line x1="590.06" y1="179.22" x2="590.06" y2="181.02" stroke="#3a3a3a" stroke-width="0.6"/>
<line x1="598.97" y1="182.24" x2="598.97" y2="184.04" stroke="#3a3a3a" stroke-width="0.6"/>
<line x1="607.88" y1="185.26" x2="607.88" y2="187.06" stroke="#3a3a3a" stroke-width="0.6"/>
<line x1="616.79" y1="188.28" x2="616.79" y2="190.08" stroke="#3a3a3a" stroke-width="0.6"/>
<line x1="625.70" y1="191.30" x2="625.70" y2="193.10" stroke="#3a3a3a" stroke-width="0.6"/>
<circle cx="395.18" cy="30.33" r="1.19" fill="#5ab3ef"/>
<circle cx="396.52" cy="29.38" r="1.11" fill="#a9d9f7"/>
<circle cx="398.07" cy="29.97" r="1.12" fill="#a9d9f7"/>
<circle cx="400.35" cy="28.04" r="1.22" fill="#a9d9f7"/>
<circle cx="400.85" cy="29.46" r="1.0" fill="#5ab3ef"/>
<circle cx="398.12" cy="31.77" r="1.47" fill="#a9d9f7"/>
<circle cx="399.56" cy="32.31" r="1.01" fill="#a9d9f7"/>
<circle cx="435.91" cy="33.47" r="1.39" fill="#2a0862"/>
<circle cx="423.53" cy="24.72" r="1.12" fill="#3a1393"/>
<circle cx="431.68" cy="24.33" r="1.36" fill="#2a0862"/>
<circle cx="425.67" cy="27.00" r="1.45" fill="#3c7de6"/>
<circle cx="426.62" cy="33.67" r="1.42" fill="#3b3bcf"/>
<circle cx="431.03" cy="28.12" r="1.28" fill="#a9d9f7"/>
<circle cx="438.91" cy="25.23" r="1.35" fill="#3b3bcf"/>
<circle cx="416.80" cy="25.89" r="1.23" fill="#3c7de6"/>
<circle cx="416.43" cy="27.07" r="1.08" fill="#3c7de6"/>
<circle cx="416.83" cy="28.39" r="1.3" fill="#5ab3ef"/>
<circle cx="440.77" cy="31.26" r="1.11" fill="#3a1393"/>
<circle cx="409.21" cy="27.49" r="1.34" fill="#5ab3ef"/>
<circle cx="419.85" cy="25.79" r="1.47" fill="#3c7de6"/>
<circle cx="427.98" cy="29.67" r="1.01" fill="#3c7de6"/>
<circle cx="416.00" cy="33.19" r="1.36" fill="#3c7de6"/>
<circle cx="431.72" cy="32.30" r="1.13" fill="#3a1393"/>
<circle cx="430.23" cy="27.82" r="1.07" fill="#3a1393"/>
<circle cx="427.16" cy="29.20" r="1.29" fill="#3a1393"/>
<circle cx="433.63" cy="25.50" r="1.4" fill="#2a0862"/>
<circle cx="412.30" cy="27.21" r="1.22" fill="#a9d9f7"/>
<circle cx="422.65" cy="23.97" r="1.08" fill="#2a0862"/>
<circle cx="421.45" cy="33.21" r="1.23" fill="#2a0862"/>
<circle cx="409.38" cy="27.29" r="1.37" fill="#3c7de6"/>
<circle cx="436.65" cy="31.37" r="1.27" fill="#3a1393"/>
<circle cx="439.75" cy="31.60" r="1.15" fill="#3a1393"/>
<circle cx="424.37" cy="27.83" r="1.5" fill="#3a1393"/>
<circle cx="419.77" cy="30.56" r="1.45" fill="#5ab3ef"/>
<circle cx="432.81" cy="26.50" r="1.44" fill="#3b3bcf"/>
<circle cx="424.07" cy="29.29" r="1.02" fill="#a9d9f7"/>
<circle cx="424.48" cy="29.13" r="1.03" fill="#3b3bcf"/>
<circle cx="442.50" cy="26.45" r="1.15" fill="#2a0862"/>
<circle cx="411.64" cy="30.49" r="1.49" fill="#3c7de6"/>
<circle cx="438.50" cy="27.53" r="1.46" fill="#3a1393"/>
<circle cx="444.08" cy="29.49" r="1.13" fill="#3a1393"/>
<circle cx="433.11" cy="26.98" r="1.22" fill="#5ab3ef"/>
<circle cx="431.20" cy="26.69" r="1.19" fill="#2a0862"/>
<circle cx="429.57" cy="33.62" r="1.24" fill="#3a1393"/>
<circle cx="412.04" cy="29.25" r="1.12" fill="#3c7de6"/>
<circle cx="423.88" cy="29.28" r="1.05" fill="#5ab3ef"/>
<circle cx="420.36" cy="25.00" r="1.5" fill="#3c7de6"/>
<circle cx="437.11" cy="31.64" r="1.38" fill="#2a0862"/>
<circle cx="431.03" cy="30.17" r="1.08" fill="#3a1393"/>
<circle cx="459.60" cy="24.00" r="1.2" fill="#3b3bcf"/>
<circle cx="466.40" cy="23.00" r="1.2" fill="#3a1393"/>
<circle cx="458.40" cy="27.80" r="1.2" fill="#3c7de6"/>
<circle cx="461.00" cy="27.50" r="1.2" fill="#3b3bcf"/>
<circle cx="422.20" cy="20.70" r="1.2" fill="#2a0862"/>
<circle cx="414.50" cy="36.20" r="1.2" fill="#5ab3ef"/>
<rect x="420.3" y="24.7" width="3.8" height="3.8" fill="#2a0862"/>
<circle cx="404.18" cy="54.22" r="1.3" fill="#3b3bcf"/>
<circle cx="408.73" cy="55.32" r="1.25" fill="#2a0862"/>
<circle cx="399.14" cy="54.94" r="1.45" fill="#3c7de6"/>
<circle cx="399.98" cy="55.05" r="1.19" fill="#5ab3ef"/>
<circle cx="411.83" cy="51.81" r="1.19" fill="#3b3bcf"/>
<circle cx="388.97" cy="51.71" r="1.14" fill="#3c7de6"/>
<circle cx="422.81" cy="53.70" r="1.44" fill="#3a1393"/>
<circle cx="402.10" cy="54.88" r="1.31" fill="#a9d9f7"/>
<circle cx="403.45" cy="58.79" r="1.05" fill="#3a1393"/>
<circle cx="420.13" cy="55.56" r="1.17" fill="#2a0862"/>
<circle cx="419.98" cy="51.13" r="1.22" fill="#3b3bcf"/>
<circle cx="398.93" cy="53.09" r="1.2" fill="#5ab3ef"/>
<circle cx="427.98" cy="54.23" r="1.01" fill="#3a1393"/>
<circle cx="410.59" cy="48.85" r="1.2" fill="#5ab3ef"/>
<circle cx="411.27" cy="48.99" r="1.17" fill="#3a1393"/>
<circle cx="412.08" cy="49.16" r="1.23" fill="#3a1393"/>
<circle cx="411.08" cy="50.22" r="1.43" fill="#a9d9f7"/>
<circle cx="402.83" cy="56.42" r="1.15" fill="#5ab3ef"/>
<circle cx="398.49" cy="55.65" r="1.23" fill="#3a1393"/>
<circle cx="389.25" cy="50.89" r="1.22" fill="#3a1393"/>
<circle cx="401.88" cy="50.16" r="1.38" fill="#5ab3ef"/>
<circle cx="413.88" cy="49.20" r="1.3" fill="#3a1393"/>
<circle cx="421.48" cy="53.74" r="1.08" fill="#3a1393"/>
<circle cx="421.34" cy="53.32" r="1.08" fill="#2a0862"/>
<circle cx="393.95" cy="54.49" r="1.3" fill="#5ab3ef"/>
<circle cx="411.78" cy="49.22" r="1.42" fill="#a9d9f7"/>
<circle cx="420.11" cy="57.72" r="1.14" fill="#3b3bcf"/>
<circle cx="413.88" cy="50.29" r="1.48" fill="#2a0862"/>
<circle cx="414.10" cy="59.10" r="1.23" fill="#3c7de6"/>
<circle cx="410.26" cy="52.02" r="1.16" fill="#3c7de6"/>
<circle cx="414.25" cy="52.38" r="1.37" fill="#3a1393"/>
<circle cx="414.37" cy="58.72" r="1.5" fill="#2a0862"/>
<circle cx="409.19" cy="56.59" r="1.11" fill="#3c7de6"/>
<circle cx="402.98" cy="58.95" r="1.11" fill="#2a0862"/>
<circle cx="394.93" cy="51.08" r="1.24" fill="#2a0862"/>
<circle cx="421.25" cy="54.81" r="1.03" fill="#3b3bcf"/>
<circle cx="415.85" cy="58.63" r="1.4" fill="#3b3bcf"/>
<circle cx="417.29" cy="57.70" r="1.26" fill="#3a1393"/>
<circle cx="393.35" cy="49.83" r="1.1" fill="#5ab3ef"/>
<circle cx="412.20" cy="58.05" r="1.37" fill="#3b3bcf"/>
<circle cx="424.62" cy="54.76" r="1.11" fill="#3a1393"/>
<circle cx="397.44" cy="59.05" r="1.19" fill="#3a1393"/>
<circle cx="415.11" cy="49.62" r="1.17" fill="#3b3bcf"/>
<circle cx="406.25" cy="59.48" r="1.04" fill="#5ab3ef"/>
<circle cx="382.56" cy="84.54" r="1.0" fill="#5ab3ef"/>
<circle cx="402.25" cy="82.40" r="1.28" fill="#2a0862"/>
<circle cx="406.44" cy="80.85" r="1.37" fill="#2a0862"/>
<circle cx="367.13" cy="80.52" r="1.27" fill="#a9d9f7"/>
<circle cx="392.35" cy="78.87" r="1.3" fill="#2a0862"/>
<circle cx="409.55" cy="81.01" r="1.08" fill="#3b3bcf"/>
<circle cx="366.70" cy="78.05" r="1.44" fill="#a9d9f7"/>
<circle cx="410.16" cy="78.09" r="1.03" fill="#3b3bcf"/>
<circle cx="402.48" cy="79.34" r="1.34" fill="#3a1393"/>
<circle cx="387.74" cy="74.11" r="1.44" fill="#5ab3ef"/>
<circle cx="368.06" cy="77.82" r="1.4" fill="#3c7de6"/>
<circle cx="377.34" cy="84.07" r="1.04" fill="#2a0862"/>
<circle cx="383.88" cy="84.32" r="1.41" fill="#3c7de6"/>
<circle cx="396.13" cy="74.80" r="1.25" fill="#a9d9f7"/>
<circle cx="376.15" cy="75.50" r="1.43" fill="#a9d9f7"/>
<circle cx="381.37" cy="81.96" r="1.28" fill="#5ab3ef"/>
<circle cx="386.68" cy="77.11" r="1.1" fill="#2a0862"/>
<circle cx="394.22" cy="79.83" r="1.46" fill="#3a1393"/>
<circle cx="380.48" cy="80.88" r="1.32" fill="#3b3bcf"/>
<circle cx="403.13" cy="82.68" r="1.1" fill="#2a0862"/>
<circle cx="405.42" cy="75.42" r="1.17" fill="#3a1393"/>
<circle cx="373.17" cy="78.51" r="1.35" fill="#a9d9f7"/>
<circle cx="390.19" cy="76.60" r="1.29" fill="#2a0862"/>
<circle cx="407.69" cy="79.78" r="1.2" fill="#2a0862"/>
<circle cx="372.42" cy="76.66" r="1.02" fill="#3c7de6"/>
<circle cx="403.23" cy="78.98" r="1.13" fill="#a9d9f7"/>
<circle cx="386.79" cy="74.07" r="1.43" fill="#2a0862"/>
<circle cx="383.99" cy="75.43" r="1.14" fill="#3b3bcf"/>
<circle cx="400.20" cy="80.39" r="1.17" fill="#3b3bcf"/>
<circle cx="378.50" cy="75.30" r="1.07" fill="#5ab3ef"/>
<circle cx="406.02" cy="82.28" r="1.26" fill="#3a1393"/>
<circle cx="379.25" cy="80.52" r="1.43" fill="#3c7de6"/>
<circle cx="370.62" cy="79.35" r="1.2" fill="#3c7de6"/>
<circle cx="401.05" cy="77.35" r="1.05" fill="#3b3bcf"/>
<circle cx="375.86" cy="74.24" r="1.08" fill="#5ab3ef"/>
<circle cx="395.74" cy="73.53" r="1.06" fill="#2a0862"/>
<circle cx="392.87" cy="81.06" r="1.09" fill="#3b3bcf"/>
<circle cx="410.43" cy="78.73" r="1.21" fill="#3b3bcf"/>
<circle cx="400.20" cy="75.66" r="1.14" fill="#3a1393"/>
<circle cx="388.39" cy="77.97" r="1.22" fill="#3b3bcf"/>
<circle cx="367.40" cy="101.81" r="1.07" fill="#a9d9f7"/>
<circle cx="375.41" cy="108.31" r="1.47" fill="#5ab3ef"/>
<circle cx="363.07" cy="109.32" r="1.47" fill="#3a1393"/>
<circle cx="382.64" cy="111.49" r="1.23" fill="#a9d9f7"/>
<circle cx="373.25" cy="103.28" r="1.07" fill="#3c7de6"/>
<circle cx="359.28" cy="103.93" r="1.46" fill="#5ab3ef"/>
<circle cx="391.14" cy="105.40" r="1.36" fill="#3a1393"/>
<circle cx="366.11" cy="105.81" r="1.35" fill="#3c7de6"/>
<circle cx="372.89" cy="102.71" r="1.29" fill="#3c7de6"/>
<circle cx="378.42" cy="109.14" r="1.47" fill="#3a1393"/>
<circle cx="369.01" cy="109.72" r="1.35" fill="#3b3bcf"/>
<circle cx="368.16" cy="103.53" r="1.24" fill="#3b3bcf"/>
<circle cx="382.99" cy="110.48" r="1.39" fill="#a9d9f7"/>
<circle cx="388.17" cy="103.38" r="1.08" fill="#3b3bcf"/>
<circle cx="361.37" cy="110.48" r="1.23" fill="#a9d9f7"/>
<circle cx="366.58" cy="111.79" r="1.29" fill="#3c7de6"/>
<circle cx="391.52" cy="106.44" r="1.12" fill="#3a1393"/>
<circle cx="356.42" cy="106.61" r="1.34" fill="#a9d9f7"/>
<circle cx="368.24" cy="111.51" r="1.16" fill="#3c7de6"/>
<circle cx="390.55" cy="107.65" r="1.17" fill="#3a1393"/>
<circle cx="369.18" cy="107.02" r="1.02" fill="#a9d9f7"/>
<circle cx="389.96" cy="107.94" r="1.06" fill="#2a0862"/>
<circle cx="368.52" cy="107.87" r="1.41" fill="#3b3bcf"/>
<circle cx="366.85" cy="107.34" r="1.34" fill="#a9d9f7"/>
<circle cx="368.40" cy="104.11" r="1.39" fill="#3c7de6"/>
<circle cx="372.67" cy="110.12" r="1.4" fill="#3b3bcf"/>
<circle cx="363.54" cy="102.30" r="1.44" fill="#2a0862"/>
<circle cx="384.70" cy="101.30" r="1.06" fill="#3a1393"/>
<circle cx="379.90" cy="109.38" r="1.35" fill="#3b3bcf"/>
<circle cx="366.06" cy="111.41" r="1.08" fill="#3c7de6"/>
<circle cx="359.89" cy="109.23" r="1.43" fill="#3c7de6"/>
<circle cx="377.38" cy="110.24" r="1.21" fill="#3b3bcf"/>
<circle cx="378.69" cy="109.74" r="1.22" fill="#a9d9f7"/>
<circle cx="359.21" cy="103.04" r="1.43" fill="#3c7de6"/>
<circle cx="367.37" cy="105.76" r="1.03" fill="#3c7de6"/>
<circle cx="357.18" cy="105.92" r="1.07" fill="#3c7de6"/>
<circle cx="364.41" cy="121.86" r="1.38" fill="#2a0862"/>
<circle cx="366.41" cy="126.82" r="1.39" fill="#3c7de6"/>
<circle cx="366.25" cy="127.80" r="1.35" fill="#3b3bcf"/>
<circle cx="364.55" cy="124.22" r="1.5" fill="#a9d9f7"/>
<circle cx="375.46" cy="124.13" r="1.16" fill="#3a1393"/>
<circle cx="375.18" cy="124.59" r="1.22" fill="#2a0862"/>
<circle cx="365.18" cy="122.10" r="1.13" fill="#3a1393"/>
<circle cx="367.77" cy="126.27" r="1.28" fill="#5ab3ef"/>
<circle cx="374.16" cy="123.46" r="1.22" fill="#2a0862"/>
<circle cx="370.40" cy="127.73" r="1.42" fill="#3b3bcf"/>
<circle cx="373.10" cy="124.62" r="1.1" fill="#3c7de6"/>
<circle cx="369.56" cy="122.18" r="1.32" fill="#5ab3ef"/>
<circle cx="363.66" cy="127.83" r="1.15" fill="#3c7de6"/>
<circle cx="366.75" cy="126.99" r="1.01" fill="#5ab3ef"/>
<circle cx="365.99" cy="121.90" r="1.39" fill="#a9d9f7"/>
<circle cx="372.92" cy="125.12" r="1.35" fill="#3a1393"/>
<circle cx="374.87" cy="124.66" r="1.4" fill="#2a0862"/>
<circle cx="359.34" cy="126.14" r="1.1" fill="#5ab3ef"/>
<circle cx="366.57" cy="122.50" r="1.15" fill="#3c7de6"/>
<circle cx="374.59" cy="125.79" r="1.24" fill="#3b3bcf"/>
<circle cx="375.19" cy="125.10" r="1.35" fill="#3a1393"/>
<circle cx="359.54" cy="127.33" r="1.31" fill="#a9d9f7"/>
<circle cx="369.27" cy="124.45" r="1.41" fill="#2a0862"/>
<circle cx="366.03" cy="127.99" r="1.21" fill="#5ab3ef"/>
<circle cx="369.77" cy="125.25" r="1.09" fill="#a9d9f7"/>
<circle cx="373.89" cy="123.85" r="1.4" fill="#3b3bcf"/>
<circle cx="372.87" cy="127.25" r="1.13" fill="#3a1393"/>
<circle cx="358.08" cy="124.46" r="1.2" fill="#3c7de6"/>
<circle cx="368.78" cy="122.13" r="1.26" fill="#2a0862"/>
<circle cx="362.45" cy="127.11" r="1.21" fill="#3c7de6"/>
<circle cx="359.90" cy="125.88" r="1.07" fill="#3c7de6"/>
<circle cx="362.53" cy="126.49" r="1.4" fill="#a9d9f7"/>
<circle cx="366.83" cy="124.78" r="1.18" fill="#a9d9f7"/>
<circle cx="359.24" cy="126.53" r="1.47" fill="#5ab3ef"/>
<circle cx="361.02" cy="126.09" r="1.47" fill="#5ab3ef"/>
<circle cx="373.09" cy="123.76" r="1.49" fill="#3a1393"/>
<circle cx="369.70" cy="123.54" r="1.29" fill="#2a0862"/>
<circle cx="357.57" cy="124.03" r="1.15" fill="#5ab3ef"/>
<circle cx="373.10" cy="123.36" r="1.34" fill="#2a0862"/>
<circle cx="359.47" cy="125.63" r="1.13" fill="#5ab3ef"/>
<circle cx="364.97" cy="124.92" r="1.47" fill="#3a1393"/>
<circle cx="366.67" cy="122.47" r="1.43" fill="#5ab3ef"/>
<circle cx="364.50" cy="143.50" r="1.3" fill="#3a1393"/>
<circle cx="365.50" cy="145.00" r="1.3" fill="#2a0862"/>
<circle cx="364.00" cy="145.50" r="1.3" fill="#3a1393"/>
<circle cx="366.00" cy="144.00" r="1.3" fill="#3b3bcf"/>
<circle cx="365.00" cy="150.00" r="1.3" fill="#3a1393"/>
<circle cx="365.20" cy="153.50" r="1.3" fill="#2a0862"/>
<circle cx="364.80" cy="156.00" r="1.3" fill="#3a1393"/>
<circle cx="365.30" cy="158.50" r="1.3" fill="#3a1393"/>
<circle cx="365.00" cy="161.00" r="1.3" fill="#3b3bcf"/>
<polyline points="446.6,26.6 421.6,35.6 408.5,49.2 398.6,60.7 386.6,77 373.2,94.6 364.7,112.3 360.8,119.5 359.6,131.4 363.8,144.5 365,155.2 365.3,163" fill="none" stroke="#444" stroke-width="0.6" stroke-linejoin="round"/>
<polyline points="446,26.6 438,30 431,34 426,38.8 424.8,50.7 423.5,62 421.3,74.4 419,84 414.5,91 409.4,95.8 403,101 397.5,105.3 385.6,112.4 378,119 371.4,129 367.5,136 365.6,144.5 365,155.2 365.6,164.1" fill="none" stroke="#ee3b3b" stroke-width="0.7" stroke-linejoin="round"/>
<circle cx="365.60" cy="164.60" r="1.4" fill="#ee1111"/>
<text x="369.5" y="166.5" font-size="8" text-anchor="start" font-weight="bold" font-style="normal" fill="#ee1111" textLength="11.3" lengthAdjust="spacingAndGlyphs">MP</text>
<circle cx="632.73" cy="32.99" r="1.11" fill="#3b3bcf"/>
<circle cx="636.80" cy="30.71" r="1.2" fill="#2a0862"/>
<circle cx="618.60" cy="29.02" r="1.36" fill="#5ab3ef"/>
<circle cx="588.37" cy="31.44" r="1.45" fill="#3c7de6"/>
<circle cx="591.90" cy="30.97" r="1.42" fill="#3c7de6"/>
<circle cx="614.65" cy="26.77" r="1.12" fill="#5ab3ef"/>
<circle cx="585.23" cy="32.31" r="1.37" fill="#5ab3ef"/>
<circle cx="630.23" cy="27.91" r="1.22" fill="#3a1393"/>
<circle cx="624.50" cy="30.97" r="1.46" fill="#3a1393"/>
<circle cx="590.84" cy="28.57" r="1.03" fill="#a9d9f7"/>
<circle cx="598.09" cy="31.97" r="1.23" fill="#5ab3ef"/>
<circle cx="635.17" cy="31.99" r="1.05" fill="#3a1393"/>
<circle cx="588.24" cy="32.24" r="1.13" fill="#3c7de6"/>
<circle cx="590.76" cy="30.24" r="1.13" fill="#a9d9f7"/>
<circle cx="600.76" cy="26.87" r="1.2" fill="#3b3bcf"/>
<circle cx="636.53" cy="32.54" r="1.45" fill="#3a1393"/>
<circle cx="633.10" cy="29.91" r="1.42" fill="#2a0862"/>
<circle cx="604.41" cy="32.78" r="1.44" fill="#2a0862"/>
<circle cx="596.37" cy="28.68" r="1.16" fill="#3c7de6"/>
<circle cx="616.44" cy="34.38" r="1.14" fill="#3a1393"/>
<circle cx="624.22" cy="26.60" r="1.48" fill="#2a0862"/>
<circle cx="635.06" cy="29.89" r="1.16" fill="#3a1393"/>
<circle cx="625.25" cy="35.32" r="1.08" fill="#3b3bcf"/>
<circle cx="609.55" cy="34.25" r="1.38" fill="#a9d9f7"/>
<circle cx="614.11" cy="32.35" r="1.33" fill="#3b3bcf"/>
<circle cx="617.19" cy="27.46" r="1.45" fill="#3c7de6"/>
<circle cx="598.47" cy="28.02" r="1.47" fill="#3c7de6"/>
<circle cx="639.63" cy="30.84" r="1.43" fill="#3a1393"/>
<circle cx="610.24" cy="31.57" r="1.23" fill="#2a0862"/>
<circle cx="585.74" cy="30.65" r="1.42" fill="#5ab3ef"/>
<circle cx="589.05" cy="29.39" r="1.38" fill="#3c7de6"/>
<circle cx="594.60" cy="27.68" r="1.41" fill="#3a1393"/>
<circle cx="610.53" cy="28.87" r="1.5" fill="#2a0862"/>
<circle cx="613.45" cy="31.84" r="1.26" fill="#5ab3ef"/>
<circle cx="601.64" cy="34.69" r="1.2" fill="#a9d9f7"/>
<circle cx="601.19" cy="26.90" r="1.29" fill="#a9d9f7"/>
<circle cx="626.75" cy="32.96" r="1.46" fill="#2a0862"/>
<circle cx="610.14" cy="28.84" r="1.21" fill="#5ab3ef"/>
<circle cx="626.24" cy="29.93" r="1.29" fill="#3a1393"/>
<circle cx="608.19" cy="33.79" r="1.29" fill="#3a1393"/>
<circle cx="595.06" cy="33.23" r="1.32" fill="#a9d9f7"/>
<circle cx="620.53" cy="33.81" r="1.15" fill="#a9d9f7"/>
<circle cx="621.93" cy="32.11" r="1.01" fill="#5ab3ef"/>
<circle cx="602.96" cy="32.59" r="1.22" fill="#a9d9f7"/>
<circle cx="597.83" cy="32.96" r="1.41" fill="#a9d9f7"/>
<circle cx="620.25" cy="29.87" r="1.3" fill="#3a1393"/>
<circle cx="601.46" cy="32.71" r="1.08" fill="#a9d9f7"/>
<circle cx="633.55" cy="32.36" r="1.49" fill="#3b3bcf"/>
<circle cx="585.73" cy="31.97" r="1.12" fill="#5ab3ef"/>
<circle cx="609.85" cy="26.78" r="1.18" fill="#a9d9f7"/>
<circle cx="624.09" cy="31.81" r="1.02" fill="#5ab3ef"/>
<circle cx="588.65" cy="32.34" r="1.44" fill="#2a0862"/>
<circle cx="590.62" cy="54.88" r="1.33" fill="#3b3bcf"/>
<circle cx="613.02" cy="52.21" r="1.45" fill="#3a1393"/>
<circle cx="603.00" cy="54.20" r="1.48" fill="#2a0862"/>
<circle cx="583.56" cy="56.03" r="1.21" fill="#5ab3ef"/>
<circle cx="580.63" cy="52.26" r="1.16" fill="#a9d9f7"/>
<circle cx="578.73" cy="54.79" r="1.2" fill="#5ab3ef"/>
<circle cx="602.91" cy="54.55" r="1.22" fill="#5ab3ef"/>
<circle cx="585.44" cy="50.91" r="1.48" fill="#5ab3ef"/>
<circle cx="589.25" cy="50.65" r="1.35" fill="#3c7de6"/>
<circle cx="600.18" cy="48.43" r="1.39" fill="#5ab3ef"/>
<circle cx="613.06" cy="51.99" r="1.33" fill="#3a1393"/>
<circle cx="593.02" cy="50.89" r="1.22" fill="#a9d9f7"/>
<circle cx="601.75" cy="55.78" r="1.05" fill="#3c7de6"/>
<circle cx="598.73" cy="54.51" r="1.07" fill="#3b3bcf"/>
<circle cx="593.21" cy="50.02" r="1.46" fill="#3b3bcf"/>
<circle cx="592.66" cy="51.20" r="1.34" fill="#2a0862"/>
<circle cx="599.05" cy="57.38" r="1.46" fill="#a9d9f7"/>
<circle cx="600.45" cy="49.07" r="1.47" fill="#2a0862"/>
<circle cx="617.74" cy="56.18" r="1.27" fill="#3b3bcf"/>
<circle cx="596.51" cy="53.18" r="1.21" fill="#5ab3ef"/>
<circle cx="589.57" cy="56.58" r="1.47" fill="#5ab3ef"/>
<circle cx="605.33" cy="56.29" r="1.23" fill="#3c7de6"/>
<circle cx="597.18" cy="49.92" r="1.17" fill="#3b3bcf"/>
<circle cx="596.02" cy="50.52" r="1.49" fill="#3c7de6"/>
<circle cx="592.82" cy="51.69" r="1.34" fill="#3b3bcf"/>
<circle cx="615.51" cy="53.00" r="1.41" fill="#a9d9f7"/>
<circle cx="600.76" cy="54.88" r="1.11" fill="#3a1393"/>
<circle cx="594.41" cy="55.61" r="1.27" fill="#a9d9f7"/>
<circle cx="586.92" cy="51.34" r="1.0" fill="#2a0862"/>
<circle cx="592.21" cy="54.31" r="1.23" fill="#a9d9f7"/>
<circle cx="621.74" cy="51.71" r="1.24" fill="#3b3bcf"/>
<circle cx="602.08" cy="54.17" r="1.27" fill="#a9d9f7"/>
<circle cx="583.90" cy="54.88" r="1.14" fill="#a9d9f7"/>
<circle cx="614.46" cy="53.77" r="1.18" fill="#3b3bcf"/>
<circle cx="604.80" cy="52.78" r="1.02" fill="#3c7de6"/>
<circle cx="580.69" cy="50.46" r="1.26" fill="#5ab3ef"/>
<circle cx="600.05" cy="54.90" r="1.23" fill="#a9d9f7"/>
<circle cx="598.87" cy="54.22" r="1.47" fill="#5ab3ef"/>
<circle cx="611.79" cy="53.61" r="1.36" fill="#a9d9f7"/>
<circle cx="577.00" cy="54.14" r="1.5" fill="#3b3bcf"/>
<circle cx="588.70" cy="55.98" r="1.3" fill="#3c7de6"/>
<circle cx="616.60" cy="54.34" r="1.26" fill="#3b3bcf"/>
<circle cx="613.53" cy="51.48" r="1.0" fill="#3b3bcf"/>
<circle cx="591.18" cy="54.78" r="1.05" fill="#a9d9f7"/>
<circle cx="610.03" cy="51.98" r="1.2" fill="#3c7de6"/>
<circle cx="606.07" cy="49.77" r="1.03" fill="#3a1393"/>
<circle cx="574.16" cy="76.58" r="1.2" fill="#3c7de6"/>
<circle cx="597.23" cy="73.15" r="1.11" fill="#3a1393"/>
<circle cx="599.14" cy="73.78" r="1.28" fill="#3a1393"/>
<circle cx="596.89" cy="72.91" r="1.43" fill="#3a1393"/>
<circle cx="564.09" cy="77.36" r="1.4" fill="#a9d9f7"/>
<circle cx="567.39" cy="74.15" r="1.32" fill="#a9d9f7"/>
<circle cx="578.47" cy="72.76" r="1.5" fill="#a9d9f7"/>
<circle cx="577.49" cy="81.09" r="1.06" fill="#3c7de6"/>
<circle cx="591.79" cy="80.53" r="1.06" fill="#2a0862"/>
<circle cx="584.99" cy="75.67" r="1.4" fill="#5ab3ef"/>
<circle cx="576.14" cy="76.29" r="1.3" fill="#3a1393"/>
<circle cx="586.96" cy="81.37" r="1.29" fill="#3c7de6"/>
<circle cx="594.14" cy="74.88" r="1.25" fill="#a9d9f7"/>
<circle cx="567.83" cy="74.94" r="1.3" fill="#a9d9f7"/>
<circle cx="571.33" cy="75.61" r="1.33" fill="#a9d9f7"/>
<circle cx="589.08" cy="76.27" r="1.21" fill="#3c7de6"/>
<circle cx="572.26" cy="79.27" r="1.47" fill="#3c7de6"/>
<circle cx="577.98" cy="74.81" r="1.07" fill="#5ab3ef"/>
<circle cx="589.88" cy="77.95" r="1.36" fill="#3c7de6"/>
<circle cx="600.69" cy="80.52" r="1.08" fill="#3a1393"/>
<circle cx="600.87" cy="80.18" r="1.37" fill="#2a0862"/>
<circle cx="588.60" cy="79.58" r="1.34" fill="#a9d9f7"/>
<circle cx="585.83" cy="81.89" r="1.24" fill="#3b3bcf"/>
<circle cx="581.85" cy="80.83" r="1.4" fill="#2a0862"/>
<circle cx="574.32" cy="80.64" r="1.38" fill="#5ab3ef"/>
<circle cx="607.78" cy="75.85" r="1.47" fill="#2a0862"/>
<circle cx="568.28" cy="76.90" r="1.12" fill="#a9d9f7"/>
<circle cx="605.70" cy="79.48" r="1.34" fill="#3b3bcf"/>
<circle cx="582.37" cy="78.27" r="1.36" fill="#3a1393"/>
<circle cx="573.72" cy="74.79" r="1.18" fill="#a9d9f7"/>
<circle cx="577.06" cy="73.02" r="1.4" fill="#3a1393"/>
<circle cx="588.70" cy="77.45" r="1.22" fill="#a9d9f7"/>
<circle cx="576.30" cy="72.70" r="1.02" fill="#a9d9f7"/>
<circle cx="571.75" cy="80.68" r="1.36" fill="#5ab3ef"/>
<circle cx="579.33" cy="76.40" r="1.49" fill="#3a1393"/>
<circle cx="570.91" cy="74.20" r="1.11" fill="#a9d9f7"/>
<circle cx="601.53" cy="74.07" r="1.19" fill="#3b3bcf"/>
<circle cx="574.43" cy="78.93" r="1.42" fill="#3c7de6"/>
<circle cx="578.38" cy="74.87" r="1.34" fill="#a9d9f7"/>
<circle cx="602.76" cy="74.49" r="1.18" fill="#3a1393"/>
<circle cx="568.58" cy="77.35" r="1.27" fill="#3c7de6"/>
<circle cx="583.28" cy="73.64" r="1.26" fill="#5ab3ef"/>
<circle cx="590.97" cy="79.32" r="1.31" fill="#5ab3ef"/>
<circle cx="575.94" cy="79.72" r="1.15" fill="#a9d9f7"/>
<circle cx="563.83" cy="75.94" r="1.38" fill="#a9d9f7"/>
<circle cx="565.72" cy="76.69" r="1.42" fill="#5ab3ef"/>
<circle cx="597.25" cy="101.89" r="1.47" fill="#3b3bcf"/>
<circle cx="567.33" cy="102.92" r="1.39" fill="#5ab3ef"/>
<circle cx="587.51" cy="99.63" r="1.3" fill="#3a1393"/>
<circle cx="575.14" cy="102.93" r="1.23" fill="#3b3bcf"/>
<circle cx="559.41" cy="99.31" r="1.1" fill="#a9d9f7"/>
<circle cx="564.94" cy="102.08" r="1.15" fill="#3a1393"/>
<circle cx="572.76" cy="106.00" r="1.41" fill="#2a0862"/>
<circle cx="588.93" cy="98.97" r="1.19" fill="#3c7de6"/>
<circle cx="569.76" cy="98.42" r="1.07" fill="#a9d9f7"/>
<circle cx="565.93" cy="98.46" r="1.33" fill="#3c7de6"/>
<circle cx="581.65" cy="100.68" r="1.19" fill="#3c7de6"/>
<circle cx="597.03" cy="100.00" r="1.22" fill="#2a0862"/>
<circle cx="569.55" cy="105.50" r="1.28" fill="#3c7de6"/>
<circle cx="556.04" cy="100.03" r="1.23" fill="#a9d9f7"/>
<circle cx="596.24" cy="101.48" r="1.16" fill="#2a0862"/>
<circle cx="584.95" cy="101.74" r="1.35" fill="#a9d9f7"/>
<circle cx="562.76" cy="98.19" r="1.13" fill="#3b3bcf"/>
<circle cx="565.46" cy="104.16" r="1.07" fill="#3c7de6"/>
<circle cx="580.73" cy="104.87" r="1.06" fill="#3a1393"/>
<circle cx="565.30" cy="99.63" r="1.06" fill="#5ab3ef"/>
<circle cx="592.49" cy="101.14" r="1.23" fill="#3b3bcf"/>
<circle cx="573.68" cy="101.46" r="1.39" fill="#3c7de6"/>
<circle cx="579.92" cy="102.39" r="1.05" fill="#5ab3ef"/>
<circle cx="575.33" cy="100.35" r="1.05" fill="#3b3bcf"/>
<circle cx="576.36" cy="104.55" r="1.19" fill="#3c7de6"/>
<circle cx="586.58" cy="96.98" r="1.05" fill="#3a1393"/>
<circle cx="594.27" cy="102.17" r="1.47" fill="#3b3bcf"/>
<circle cx="559.21" cy="98.12" r="1.18" fill="#3c7de6"/>
<circle cx="574.63" cy="99.33" r="1.05" fill="#5ab3ef"/>
<circle cx="563.60" cy="104.10" r="1.05" fill="#5ab3ef"/>
<circle cx="562.83" cy="103.00" r="1.13" fill="#a9d9f7"/>
<circle cx="583.40" cy="98.11" r="1.33" fill="#3a1393"/>
<circle cx="556.72" cy="102.87" r="1.27" fill="#3c7de6"/>
<circle cx="558.70" cy="103.11" r="1.47" fill="#3c7de6"/>
<circle cx="563.78" cy="97.32" r="1.07" fill="#3c7de6"/>
<circle cx="573.78" cy="103.96" r="1.26" fill="#3c7de6"/>
<circle cx="574.88" cy="98.26" r="1.47" fill="#2a0862"/>
<circle cx="595.53" cy="100.20" r="1.28" fill="#3b3bcf"/>
<circle cx="578.26" cy="102.71" r="1.33" fill="#5ab3ef"/>
<circle cx="595.32" cy="98.54" r="1.09" fill="#3b3bcf"/>
<circle cx="562.67" cy="117.45" r="1.14" fill="#3c7de6"/>
<circle cx="565.59" cy="122.96" r="1.16" fill="#3c7de6"/>
<circle cx="563.43" cy="116.39" r="1.44" fill="#3a1393"/>
<circle cx="571.00" cy="118.82" r="1.02" fill="#2a0862"/>
<circle cx="571.07" cy="115.92" r="1.18" fill="#2a0862"/>
<circle cx="570.69" cy="123.27" r="1.07" fill="#a9d9f7"/>
<circle cx="565.20" cy="120.01" r="1.17" fill="#3c7de6"/>
<circle cx="562.47" cy="119.55" r="1.06" fill="#5ab3ef"/>
<circle cx="573.43" cy="117.41" r="1.06" fill="#2a0862"/>
<circle cx="583.95" cy="117.43" r="1.04" fill="#3a1393"/>
<circle cx="573.07" cy="117.66" r="1.47" fill="#3b3bcf"/>
<circle cx="577.31" cy="121.73" r="1.32" fill="#5ab3ef"/>
<circle cx="577.10" cy="121.10" r="1.25" fill="#3b3bcf"/>
<circle cx="579.91" cy="117.45" r="1.49" fill="#2a0862"/>
<circle cx="575.66" cy="118.09" r="1.5" fill="#2a0862"/>
<circle cx="576.19" cy="118.12" r="1.06" fill="#3c7de6"/>
<circle cx="582.54" cy="121.20" r="1.42" fill="#3b3bcf"/>
<circle cx="566.14" cy="117.93" r="1.07" fill="#3c7de6"/>
<circle cx="571.96" cy="118.68" r="1.35" fill="#5ab3ef"/>
<circle cx="565.66" cy="120.43" r="1.17" fill="#5ab3ef"/>
<circle cx="568.38" cy="118.23" r="1.19" fill="#2a0862"/>
<circle cx="577.16" cy="116.65" r="1.0" fill="#a9d9f7"/>
<circle cx="573.52" cy="119.48" r="1.18" fill="#3a1393"/>
<circle cx="583.14" cy="120.74" r="1.5" fill="#2a0862"/>
<circle cx="562.40" cy="118.57" r="1.04" fill="#5ab3ef"/>
<circle cx="574.79" cy="120.97" r="1.16" fill="#3a1393"/>
<circle cx="562.53" cy="117.19" r="1.16" fill="#3b3bcf"/>
<circle cx="572.13" cy="122.69" r="1.08" fill="#5ab3ef"/>
<circle cx="570.18" cy="115.31" r="1.19" fill="#3c7de6"/>
<circle cx="578.55" cy="115.72" r="1.01" fill="#2a0862"/>
<circle cx="581.30" cy="121.89" r="1.45" fill="#2a0862"/>
<circle cx="578.72" cy="116.96" r="1.45" fill="#a9d9f7"/>
<circle cx="570.49" cy="122.90" r="1.39" fill="#3c7de6"/>
<circle cx="573.23" cy="118.64" r="1.3" fill="#3a1393"/>
<circle cx="561.57" cy="120.70" r="1.36" fill="#3c7de6"/>
<circle cx="580.52" cy="116.34" r="1.26" fill="#2a0862"/>
<circle cx="558.14" cy="117.50" r="1.27" fill="#3c7de6"/>
<circle cx="570.00" cy="122.27" r="1.2" fill="#3b3bcf"/>
<circle cx="573.22" cy="119.01" r="1.24" fill="#3b3bcf"/>
<circle cx="559.98" cy="120.49" r="1.33" fill="#3c7de6"/>
<circle cx="564.72" cy="136.42" r="1.47" fill="#3c7de6"/>
<circle cx="565.90" cy="133.37" r="1.15" fill="#5ab3ef"/>
<circle cx="572.64" cy="136.49" r="1.09" fill="#3b3bcf"/>
<circle cx="569.51" cy="140.23" r="1.05" fill="#3b3bcf"/>
<circle cx="569.33" cy="139.41" r="1.05" fill="#3c7de6"/>
<circle cx="572.14" cy="136.94" r="1.24" fill="#2a0862"/>
<circle cx="566.98" cy="137.26" r="1.29" fill="#3b3bcf"/>
<circle cx="569.51" cy="139.48" r="1.1" fill="#2a0862"/>
<circle cx="566.41" cy="133.50" r="1.1" fill="#a9d9f7"/>
<circle cx="562.87" cy="135.55" r="1.39" fill="#5ab3ef"/>
<circle cx="564.06" cy="136.70" r="1.35" fill="#a9d9f7"/>
<circle cx="564.92" cy="136.85" r="1.22" fill="#3c7de6"/>
<circle cx="562.98" cy="136.29" r="1.27" fill="#5ab3ef"/>
<circle cx="571.35" cy="137.18" r="1.08" fill="#3b3bcf"/>
<circle cx="569.39" cy="136.24" r="1.26" fill="#3b3bcf"/>
<circle cx="566.01" cy="139.59" r="1.44" fill="#5ab3ef"/>
<circle cx="569.80" cy="140.35" r="1.08" fill="#2a0862"/>
<circle cx="565.64" cy="138.20" r="1.32" fill="#5ab3ef"/>
<circle cx="571.44" cy="136.65" r="1.25" fill="#3a1393"/>
<circle cx="563.30" cy="139.99" r="1.33" fill="#3b3bcf"/>
<circle cx="562.74" cy="136.36" r="1.06" fill="#a9d9f7"/>
<circle cx="564.53" cy="134.28" r="1.16" fill="#3b3bcf"/>
<circle cx="565.32" cy="133.49" r="1.37" fill="#3c7de6"/>
<circle cx="569.08" cy="135.14" r="1.01" fill="#5ab3ef"/>
<circle cx="559.91" cy="136.67" r="1.15" fill="#3c7de6"/>
<circle cx="567.38" cy="140.18" r="1.07" fill="#a9d9f7"/>
<circle cx="566.14" cy="146.59" r="1.11" fill="#2a0862"/>
<circle cx="564.68" cy="149.07" r="1.14" fill="#2a0862"/>
<circle cx="565.59" cy="143.42" r="1.13" fill="#3a1393"/>
<circle cx="563.16" cy="150.09" r="1.14" fill="#3b3bcf"/>
<circle cx="560.72" cy="144.84" r="1.13" fill="#3a1393"/>
<circle cx="568.18" cy="146.90" r="1.1" fill="#3b3bcf"/>
<circle cx="566.67" cy="149.39" r="1.2" fill="#3a1393"/>
<circle cx="564.51" cy="144.17" r="1.47" fill="#2a0862"/>
<circle cx="562.04" cy="147.04" r="1.28" fill="#3b3bcf"/>
<circle cx="567.24" cy="146.37" r="1.46" fill="#2a0862"/>
<circle cx="565.01" cy="147.86" r="1.37" fill="#3b3bcf"/>
<circle cx="564.72" cy="144.60" r="1.39" fill="#3c7de6"/>
<circle cx="563.28" cy="145.67" r="1.32" fill="#3c7de6"/>
<circle cx="564.29" cy="150.96" r="1.41" fill="#5ab3ef"/>
<circle cx="563.34" cy="150.60" r="1.39" fill="#3b3bcf"/>
<circle cx="560.64" cy="144.72" r="1.38" fill="#a9d9f7"/>
<circle cx="562.51" cy="142.51" r="1.11" fill="#5ab3ef"/>
<circle cx="561.54" cy="147.59" r="1.16" fill="#2a0862"/>
<circle cx="566.33" cy="144.10" r="1.49" fill="#5ab3ef"/>
<circle cx="566.63" cy="148.04" r="1.06" fill="#3a1393"/>
<circle cx="567.44" cy="143.39" r="1.48" fill="#3a1393"/>
<circle cx="564.82" cy="149.82" r="1.15" fill="#3a1393"/>
<polyline points="600,30 594.2,34 584.6,50.6 577.5,69.6 568,84 559.7,100.5 556.1,117.2 554.5,126.7 558.5,135 561.5,145 563,155" fill="none" stroke="#444" stroke-width="0.6" stroke-linejoin="round"/>
<polyline points="632,28.5 627.4,30.5 621.7,38.8 616.9,45.9 614.5,57.8 614.5,79.1 611,88.6 601.3,98 590.6,107.6 582.3,117.2 575.2,129 569,142 563.3,153.1 562.8,156.3" fill="none" stroke="#ee3b3b" stroke-width="0.7" stroke-linejoin="round"/>
<circle cx="562.80" cy="156.60" r="1.4" fill="#ee1111"/>
<text x="566.9" y="162" font-size="8" text-anchor="start" font-weight="bold" font-style="normal" fill="#ee1111" textLength="11.6" lengthAdjust="spacingAndGlyphs">MP</text>
<text x="492.9" y="28.2" font-size="12.5" text-anchor="start" font-weight="normal" font-style="normal" fill="#231f20" stroke="#231f20" stroke-width="0.22">0</text>
<text x="490.2" y="82.3" font-size="12.5" text-anchor="start" font-weight="normal" font-style="normal" fill="#231f20" stroke="#231f20" stroke-width="0.22">500</text>
<text x="486" y="130.8" font-size="12.5" text-anchor="start" font-weight="normal" font-style="normal" fill="#231f20" stroke="#231f20" stroke-width="0.22">1000</text>
<text x="672.2" y="28.7" font-size="12.5" text-anchor="start" font-weight="normal" font-style="normal" fill="#231f20" stroke="#231f20" stroke-width="0.22">0</text>
<text x="669.5" y="81.3" font-size="12.5" text-anchor="start" font-weight="normal" font-style="normal" fill="#231f20" stroke="#231f20" stroke-width="0.22">500</text>
<text x="664.2" y="127.1" font-size="12.5" text-anchor="start" font-weight="normal" font-style="normal" fill="#231f20" stroke="#231f20" stroke-width="0.22">1000</text>
<text x="478" y="157" font-size="12.5" text-anchor="start" font-weight="normal" font-style="normal" fill="#231f20" stroke="#231f20" stroke-width="0.22">-4</text>
<text x="467.5" y="176.5" font-size="12.5" text-anchor="start" font-weight="normal" font-style="normal" fill="#231f20" stroke="#231f20" stroke-width="0.22">-2</text>
<text x="452" y="199.6" font-size="12.5" text-anchor="start" font-weight="normal" font-style="normal" fill="#231f20" stroke="#231f20" stroke-width="0.22">0</text>
<text x="358.6" y="184" font-size="12.5" text-anchor="middle" font-weight="normal" font-style="normal" fill="#231f20" stroke="#231f20" stroke-width="0.22">0</text>
<text x="390.4" y="194.5" font-size="12.5" text-anchor="middle" font-weight="normal" font-style="normal" fill="#231f20" stroke="#231f20" stroke-width="0.22">-2</text>
<text x="423.2" y="205.5" font-size="12.5" text-anchor="middle" font-weight="normal" font-style="normal" fill="#231f20" stroke="#231f20" stroke-width="0.22">-4</text>
<text x="657.1" y="154.5" font-size="12.5" text-anchor="start" font-weight="normal" font-style="normal" fill="#231f20" stroke="#231f20" stroke-width="0.22">-0.4</text>
<text x="646.4" y="169.9" font-size="12.5" text-anchor="start" font-weight="normal" font-style="normal" fill="#231f20" stroke="#231f20" stroke-width="0.22">-0.2</text>
<text x="635.7" y="189" font-size="12.5" text-anchor="start" font-weight="normal" font-style="normal" fill="#231f20" stroke="#231f20" stroke-width="0.22">0.0</text>
<text x="550.5" y="179" font-size="12.5" text-anchor="middle" font-weight="normal" font-style="normal" fill="#231f20" stroke="#231f20" stroke-width="0.22">0.0</text>
<text x="584.5" y="191.8" font-size="12.5" text-anchor="middle" font-weight="normal" font-style="normal" fill="#231f20" stroke="#231f20" stroke-width="0.22">-0.2</text>
<text x="620.8" y="204.4" font-size="12.5" text-anchor="middle" font-weight="normal" font-style="normal" fill="#231f20" stroke="#231f20" stroke-width="0.22">-0.4</text>
<text x="384.5" y="204" font-size="12.5" text-anchor="middle" font-weight="normal" font-style="normal" fill="#231f20" stroke="#231f20" stroke-width="0.22" textLength="64" lengthAdjust="spacingAndGlyphs" transform="rotate(19 384.5 204)">Easting (km)</text>
<text x="573" y="201.5" font-size="12.5" text-anchor="middle" font-weight="normal" font-style="normal" fill="#231f20" stroke="#231f20" stroke-width="0.22" textLength="59" lengthAdjust="spacingAndGlyphs" transform="rotate(19 573 201.5)">Easing (km)</text>
<text x="487" y="185" font-size="12.5" text-anchor="middle" font-weight="normal" font-style="normal" fill="#231f20" stroke="#231f20" stroke-width="0.22" textLength="70" lengthAdjust="spacingAndGlyphs" transform="rotate(-55 487 185)">Northing (km)</text>
<text x="677" y="183" font-size="12.5" text-anchor="middle" font-weight="normal" font-style="normal" fill="#231f20" stroke="#231f20" stroke-width="0.22" textLength="69" lengthAdjust="spacingAndGlyphs" transform="rotate(-55 677 183)">Northing (km)</text>
<text x="697.5" y="84" font-size="12.5" text-anchor="middle" font-weight="normal" font-style="normal" fill="#231f20" stroke="#231f20" stroke-width="0.22" transform="rotate(90 697.5 84)">Depth (mbsl)</text>
<line x1="400.30" y1="122.00" x2="392.50" y2="120.30" stroke="#111" stroke-width="1.0"/>
<line x1="400.30" y1="122.00" x2="394.50" y2="128.30" stroke="#111" stroke-width="1.0"/>
<polygon points="391.2,120.0 394.2,118.6 393.6,121.8" fill="#111"/>
<polygon points="393.6,129.4 394.3,126.4 396.4,128.6" fill="#111"/>
<text x="392.0" y="116.6" font-size="11" text-anchor="start" font-weight="normal" font-style="normal" fill="#231f20" stroke="#231f20" stroke-width="0.22">E</text>
<text x="397.9" y="136.5" font-size="11" text-anchor="start" font-weight="normal" font-style="normal" fill="#231f20" stroke="#231f20" stroke-width="0.22">N</text>
<polygon points="390.0,166.5 398.9,169.5 398.3,173.0 389.4,170.0" fill="#a9d9f7"/>
<polygon points="398.6,169.4 407.5,172.3 406.9,175.8 398.0,172.9" fill="#5ab3ef"/>
<polygon points="407.2,172.2 416.1,175.2 415.4,178.7 406.6,175.7" fill="#3c7de6"/>
<polygon points="415.8,175.1 424.6,178.1 424.0,181.6 415.1,178.6" fill="#3b3bcf"/>
<polygon points="424.3,178.0 433.2,180.9 432.6,184.4 423.7,181.5" fill="#3a1393"/>
<polygon points="432.9,180.8 441.8,183.8 441.2,187.3 432.3,184.3" fill="#2a0862"/>
<text x="394.8" y="165.9" font-size="9.5" text-anchor="start" font-weight="normal" font-style="italic" fill="#231f20" stroke="#231f20" stroke-width="0.22">1</text>
<text x="411.5" y="170.2" font-size="9.5" text-anchor="start" font-weight="normal" font-style="italic" fill="#231f20" stroke="#231f20" stroke-width="0.22" transform="rotate(19 411.5 170.2)">Day</text>
<text x="436.6" y="180.9" font-size="9.5" text-anchor="start" font-weight="normal" font-style="italic" fill="#231f20" stroke="#231f20" stroke-width="0.22">6</text>
<text x="342.3" y="247.3" font-size="12" text-anchor="start" font-weight="bold" font-style="normal" fill="#231f20" textLength="16.4" lengthAdjust="spacingAndGlyphs">(d)</text>
<line x1="416.20" y1="250.20" x2="611.80" y2="250.20" stroke="#8a8a8a" stroke-width="1"/>
<line x1="611.80" y1="250.20" x2="611.80" y2="474.20" stroke="#8a8a8a" stroke-width="1"/>
<line x1="416.20" y1="250.20" x2="416.20" y2="474.20" stroke="#8a8a8a" stroke-width="1"/>
<line x1="416.20" y1="474.20" x2="611.80" y2="474.20" stroke="#555" stroke-width="1"/>
<line x1="416.20" y1="254.30" x2="418.40" y2="254.30" stroke="#555" stroke-width="0.8"/>
<line x1="416.20" y1="262.64" x2="417.40" y2="262.64" stroke="#555" stroke-width="0.8"/>
<line x1="416.20" y1="270.98" x2="417.40" y2="270.98" stroke="#555" stroke-width="0.8"/>
<line x1="416.20" y1="279.32" x2="417.40" y2="279.32" stroke="#555" stroke-width="0.8"/>
<line x1="416.20" y1="287.66" x2="417.40" y2="287.66" stroke="#555" stroke-width="0.8"/>
<line x1="416.20" y1="296.00" x2="418.40" y2="296.00" stroke="#555" stroke-width="0.8"/>
<line x1="416.20" y1="304.34" x2="417.40" y2="304.34" stroke="#555" stroke-width="0.8"/>
<line x1="416.20" y1="312.68" x2="417.40" y2="312.68" stroke="#555" stroke-width="0.8"/>
<line x1="416.20" y1="321.02" x2="417.40" y2="321.02" stroke="#555" stroke-width="0.8"/>
<line x1="416.20" y1="329.36" x2="417.40" y2="329.36" stroke="#555" stroke-width="0.8"/>
<line x1="416.20" y1="337.70" x2="418.40" y2="337.70" stroke="#555" stroke-width="0.8"/>
<line x1="416.20" y1="346.04" x2="417.40" y2="346.04" stroke="#555" stroke-width="0.8"/>
<line x1="416.20" y1="354.38" x2="417.40" y2="354.38" stroke="#555" stroke-width="0.8"/>
<line x1="416.20" y1="362.72" x2="417.40" y2="362.72" stroke="#555" stroke-width="0.8"/>
<line x1="416.20" y1="371.06" x2="417.40" y2="371.06" stroke="#555" stroke-width="0.8"/>
<line x1="416.20" y1="379.40" x2="418.40" y2="379.40" stroke="#555" stroke-width="0.8"/>
<line x1="416.20" y1="387.74" x2="417.40" y2="387.74" stroke="#555" stroke-width="0.8"/>
<line x1="416.20" y1="396.08" x2="417.40" y2="396.08" stroke="#555" stroke-width="0.8"/>
<line x1="416.20" y1="404.42" x2="417.40" y2="404.42" stroke="#555" stroke-width="0.8"/>
<line x1="416.20" y1="412.76" x2="417.40" y2="412.76" stroke="#555" stroke-width="0.8"/>
<line x1="416.20" y1="421.10" x2="418.40" y2="421.10" stroke="#555" stroke-width="0.8"/>
<line x1="416.20" y1="429.44" x2="417.40" y2="429.44" stroke="#555" stroke-width="0.8"/>
<line x1="416.20" y1="437.78" x2="417.40" y2="437.78" stroke="#555" stroke-width="0.8"/>
<line x1="416.20" y1="446.12" x2="417.40" y2="446.12" stroke="#555" stroke-width="0.8"/>
<line x1="416.20" y1="454.46" x2="417.40" y2="454.46" stroke="#555" stroke-width="0.8"/>
<line x1="416.20" y1="462.80" x2="418.40" y2="462.80" stroke="#555" stroke-width="0.8"/>
<line x1="416.20" y1="471.14" x2="417.40" y2="471.14" stroke="#555" stroke-width="0.8"/>
<line x1="607.70" y1="474.20" x2="607.70" y2="472.00" stroke="#555" stroke-width="0.8"/>
<line x1="599.36" y1="474.20" x2="599.36" y2="473.00" stroke="#555" stroke-width="0.8"/>
<line x1="591.02" y1="474.20" x2="591.02" y2="473.00" stroke="#555" stroke-width="0.8"/>
<line x1="582.68" y1="474.20" x2="582.68" y2="473.00" stroke="#555" stroke-width="0.8"/>
<line x1="574.34" y1="474.20" x2="574.34" y2="473.00" stroke="#555" stroke-width="0.8"/>
<line x1="566.00" y1="474.20" x2="566.00" y2="472.00" stroke="#555" stroke-width="0.8"/>
<line x1="557.66" y1="474.20" x2="557.66" y2="473.00" stroke="#555" stroke-width="0.8"/>
<line x1="549.32" y1="474.20" x2="549.32" y2="473.00" stroke="#555" stroke-width="0.8"/>
<line x1="540.98" y1="474.20" x2="540.98" y2="473.00" stroke="#555" stroke-width="0.8"/>
<line x1="532.64" y1="474.20" x2="532.64" y2="473.00" stroke="#555" stroke-width="0.8"/>
<line x1="524.30" y1="474.20" x2="524.30" y2="472.00" stroke="#555" stroke-width="0.8"/>
<line x1="515.96" y1="474.20" x2="515.96" y2="473.00" stroke="#555" stroke-width="0.8"/>
<line x1="507.62" y1="474.20" x2="507.62" y2="473.00" stroke="#555" stroke-width="0.8"/>
<line x1="499.28" y1="474.20" x2="499.28" y2="473.00" stroke="#555" stroke-width="0.8"/>
<line x1="490.94" y1="474.20" x2="490.94" y2="473.00" stroke="#555" stroke-width="0.8"/>
<line x1="482.60" y1="474.20" x2="482.60" y2="472.00" stroke="#555" stroke-width="0.8"/>
<line x1="474.26" y1="474.20" x2="474.26" y2="473.00" stroke="#555" stroke-width="0.8"/>
<line x1="465.92" y1="474.20" x2="465.92" y2="473.00" stroke="#555" stroke-width="0.8"/>
<line x1="457.58" y1="474.20" x2="457.58" y2="473.00" stroke="#555" stroke-width="0.8"/>
<line x1="449.24" y1="474.20" x2="449.24" y2="473.00" stroke="#555" stroke-width="0.8"/>
<line x1="440.90" y1="474.20" x2="440.90" y2="472.00" stroke="#555" stroke-width="0.8"/>
<line x1="432.56" y1="474.20" x2="432.56" y2="473.00" stroke="#555" stroke-width="0.8"/>
<line x1="424.22" y1="474.20" x2="424.22" y2="473.00" stroke="#555" stroke-width="0.8"/>
<text x="411.5" y="258.3" font-size="12.3" text-anchor="end" font-weight="normal" font-style="normal" fill="#231f20" stroke="#231f20" stroke-width="0.22">0</text>
<text x="411.5" y="300.0" font-size="12.3" text-anchor="end" font-weight="normal" font-style="normal" fill="#231f20" stroke="#231f20" stroke-width="0.22">-1</text>
<text x="411.5" y="341.70000000000005" font-size="12.3" text-anchor="end" font-weight="normal" font-style="normal" fill="#231f20" stroke="#231f20" stroke-width="0.22">-2</text>
<text x="411.5" y="383.40000000000003" font-size="12.3" text-anchor="end" font-weight="normal" font-style="normal" fill="#231f20" stroke="#231f20" stroke-width="0.22">-3</text>
<text x="411.5" y="425.1" font-size="12.3" text-anchor="end" font-weight="normal" font-style="normal" fill="#231f20" stroke="#231f20" stroke-width="0.22">-4</text>
<text x="411.5" y="466.8" font-size="12.3" text-anchor="end" font-weight="normal" font-style="normal" fill="#231f20" stroke="#231f20" stroke-width="0.22">-5</text>
<text x="607.7" y="487.0" font-size="12.3" text-anchor="middle" font-weight="normal" font-style="normal" fill="#231f20" stroke="#231f20" stroke-width="0.22">0</text>
<text x="566.0" y="487.0" font-size="12.3" text-anchor="middle" font-weight="normal" font-style="normal" fill="#231f20" stroke="#231f20" stroke-width="0.22">-1</text>
<text x="524.3000000000001" y="487.0" font-size="12.3" text-anchor="middle" font-weight="normal" font-style="normal" fill="#231f20" stroke="#231f20" stroke-width="0.22">-2</text>
<text x="482.6" y="487.0" font-size="12.3" text-anchor="middle" font-weight="normal" font-style="normal" fill="#231f20" stroke="#231f20" stroke-width="0.22">-3</text>
<text x="440.90000000000003" y="487.0" font-size="12.3" text-anchor="middle" font-weight="normal" font-style="normal" fill="#231f20" stroke="#231f20" stroke-width="0.22">-4</text>
<text x="516.4" y="500.6" font-size="12.5" text-anchor="middle" font-weight="normal" font-style="normal" fill="#231f20" stroke="#231f20" stroke-width="0.22" textLength="72" lengthAdjust="spacingAndGlyphs">Easting (km)</text>
<text x="393.4" y="357.4" font-size="12.5" text-anchor="middle" font-weight="normal" font-style="normal" fill="#231f20" stroke="#231f20" stroke-width="0.22" textLength="80" lengthAdjust="spacingAndGlyphs" transform="rotate(-90 393.4 357.4)">Northing (km)</text>
<circle cx="454.30" cy="433.50" r="1.5" fill="#f26b6b"/>
<circle cx="444.30" cy="452.50" r="1.6" fill="#f26b6b"/>
<circle cx="442.30" cy="404.20" r="1.5" fill="#f26b6b"/>
<circle cx="448.70" cy="405.70" r="1.5" fill="#f26b6b"/>
<circle cx="479.80" cy="408.30" r="1.5" fill="#f26b6b"/>
<circle cx="488.50" cy="406.50" r="1.5" fill="#f26b6b"/>
<circle cx="498.20" cy="397.40" r="1.7" fill="#f26b6b"/>
<circle cx="501.50" cy="405.70" r="1.5" fill="#f26b6b"/>
<circle cx="481.70" cy="418.80" r="2.1" fill="#f26b6b"/>
<circle cx="493.00" cy="422.00" r="1.6" fill="#f26b6b"/>
<circle cx="542.20" cy="425.90" r="1.8" fill="#f26b6b"/>
<circle cx="500.80" cy="306.30" r="1.4" fill="#f26b6b"/>
<circle cx="471.80" cy="319.40" r="1.5" fill="#f26b6b"/>
<circle cx="481.00" cy="324.20" r="1.4" fill="#f26b6b"/>
<circle cx="493.60" cy="325.30" r="1.0" fill="#f26b6b"/>
<circle cx="485.30" cy="337.20" r="1.5" fill="#f26b6b"/>
<circle cx="489.30" cy="335.60" r="1.5" fill="#f26b6b"/>
<circle cx="502.10" cy="337.20" r="1.4" fill="#f26b6b"/>
<circle cx="496.80" cy="340.60" r="1.4" fill="#f26b6b"/>
<circle cx="509.50" cy="345.10" r="1.4" fill="#f26b6b"/>
<circle cx="511.00" cy="343.20" r="1.3" fill="#f26b6b"/>
<circle cx="461.90" cy="351.10" r="1.5" fill="#f26b6b"/>
<circle cx="479.80" cy="354.50" r="1.5" fill="#f26b6b"/>
<circle cx="492.20" cy="355.40" r="1.6" fill="#f26b6b"/>
<circle cx="491.20" cy="356.40" r="1.4" fill="#f26b6b"/>
<circle cx="486.70" cy="359.00" r="1.5" fill="#f26b6b"/>
<circle cx="505.10" cy="359.80" r="1.9" fill="#f26b6b"/>
<circle cx="477.80" cy="363.80" r="1.5" fill="#f26b6b"/>
<circle cx="475.00" cy="367.70" r="1.6" fill="#f26b6b"/>
<circle cx="473.40" cy="369.30" r="1.5" fill="#f26b6b"/>
<circle cx="515.00" cy="370.30" r="1.5" fill="#f26b6b"/>
<circle cx="514.60" cy="373.30" r="1.5" fill="#f26b6b"/>
<circle cx="512.60" cy="376.20" r="1.2" fill="#f26b6b"/>
<circle cx="518.80" cy="323.30" r="1.9" fill="#f26b6b"/>
<circle cx="536.00" cy="314.40" r="1.0" fill="#f26b6b"/>
<circle cx="530.70" cy="340.30" r="1.9" fill="#f26b6b"/>
<circle cx="517.40" cy="350.80" r="1.4" fill="#f26b6b"/>
<circle cx="530.10" cy="363.40" r="1.1" fill="#f26b6b"/>
<circle cx="543.60" cy="366.10" r="1.5" fill="#f26b6b"/>
<circle cx="530.10" cy="367.70" r="1.6" fill="#f26b6b"/>
<circle cx="533.70" cy="372.70" r="1.6" fill="#f26b6b"/>
<circle cx="540.60" cy="372.10" r="1.5" fill="#f26b6b"/>
<circle cx="523.40" cy="385.10" r="1.6" fill="#f26b6b"/>
<circle cx="520.80" cy="387.90" r="2.1" fill="#f26b6b"/>
<circle cx="541.20" cy="394.70" r="2.0" fill="#f26b6b"/>
<circle cx="502.00" cy="405.70" r="1.5" fill="#f26b6b"/>
<circle cx="542.00" cy="425.70" r="1.8" fill="#f26b6b"/>
<circle cx="567.90" cy="348.70" r="1.0" fill="#f26b6b"/>
<circle cx="568.30" cy="348.80" r="1.0" fill="#f26b6b"/>
<circle cx="505.00" cy="359.80" r="1.5" fill="#f26b6b"/>
<circle cx="501.00" cy="306.00" r="1.3" fill="#f26b6b"/>
<rect x="556.0" y="299.9" width="2.3" height="2.3" fill="#9a9a9a" fill-opacity="0.7"/>
<rect x="569.8" y="282.9" width="1.5" height="1.5" fill="#a8a8a8" fill-opacity="0.7"/>
<rect x="524.0" y="337.5" width="1.5" height="1.5" fill="#a8a8a8" fill-opacity="0.7"/>
<rect x="544.3" y="316.0" width="1.9" height="1.9" fill="#9a9a9a" fill-opacity="0.7"/>
<rect x="525.9" y="337.5" width="1.7" height="1.7" fill="#a8a8a8" fill-opacity="0.7"/>
<rect x="577.5" y="275.7" width="1.8" height="1.8" fill="#a8a8a8" fill-opacity="0.7"/>
<rect x="551.3" y="305.7" width="2.4" height="2.4" fill="#b0b0b0" fill-opacity="0.7"/>
<rect x="536.4" y="323.5" width="1.6" height="1.6" fill="#9a9a9a" fill-opacity="0.7"/>
<rect x="539.4" y="321.0" width="1.6" height="1.6" fill="#8e8e8e" fill-opacity="0.7"/>
<rect x="567.4" y="284.4" width="1.9" height="1.9" fill="#a8a8a8" fill-opacity="0.7"/>
<rect x="520.9" y="344.2" width="1.5" height="1.5" fill="#b0b0b0" fill-opacity="0.7"/>
<rect x="539.3" y="316.6" width="1.5" height="1.5" fill="#a8a8a8" fill-opacity="0.7"/>
<rect x="557.9" y="299.8" width="1.9" height="1.9" fill="#8e8e8e" fill-opacity="0.7"/>
<rect x="575.6" y="282.5" width="2.0" height="2.0" fill="#8e8e8e" fill-opacity="0.7"/>
<rect x="574.6" y="285.2" width="2.0" height="2.0" fill="#a8a8a8" fill-opacity="0.7"/>
<rect x="541.2" y="320.7" width="1.8" height="1.8" fill="#8e8e8e" fill-opacity="0.7"/>
<rect x="537.4" y="323.4" width="1.9" height="1.9" fill="#9a9a9a" fill-opacity="0.7"/>
<rect x="520.3" y="340.1" width="1.5" height="1.5" fill="#8e8e8e" fill-opacity="0.7"/>
<rect x="568.6" y="285.1" width="1.5" height="1.5" fill="#b0b0b0" fill-opacity="0.7"/>
<rect x="540.8" y="323.3" width="2.0" height="2.0" fill="#a8a8a8" fill-opacity="0.7"/>
<rect x="557.5" y="298.4" width="2.3" height="2.3" fill="#8e8e8e" fill-opacity="0.7"/>
<rect x="527.8" y="336.4" width="1.7" height="1.7" fill="#b0b0b0" fill-opacity="0.7"/>
<rect x="576.2" y="274.7" width="2.3" height="2.3" fill="#9a9a9a" fill-opacity="0.7"/>
<rect x="545.0" y="318.6" width="2.1" height="2.1" fill="#b0b0b0" fill-opacity="0.7"/>
<rect x="573.1" y="281.5" width="2.0" height="2.0" fill="#9a9a9a" fill-opacity="0.7"/>
<rect x="567.0" y="286.4" width="2.1" height="2.1" fill="#8e8e8e" fill-opacity="0.7"/>
<rect x="540.5" y="317.3" width="2.1" height="2.1" fill="#8e8e8e" fill-opacity="0.7"/>
<rect x="576.9" y="275.8" width="2.3" height="2.3" fill="#b0b0b0" fill-opacity="0.7"/>
<rect x="553.6" y="303.7" width="2.1" height="2.1" fill="#8e8e8e" fill-opacity="0.7"/>
<rect x="540.1" y="319.3" width="2.2" height="2.2" fill="#8e8e8e" fill-opacity="0.7"/>
<rect x="577.3" y="278.4" width="1.8" height="1.8" fill="#a8a8a8" fill-opacity="0.7"/>
<rect x="552.4" y="307.2" width="2.3" height="2.3" fill="#b0b0b0" fill-opacity="0.7"/>
<rect x="538.0" y="325.3" width="2.3" height="2.3" fill="#b0b0b0" fill-opacity="0.7"/>
<rect x="537.2" y="323.7" width="1.7" height="1.7" fill="#9a9a9a" fill-opacity="0.7"/>
<rect x="528.6" y="331.2" width="1.7" height="1.7" fill="#9a9a9a" fill-opacity="0.7"/>
<rect x="580.8" y="274.8" width="2.3" height="2.3" fill="#9a9a9a" fill-opacity="0.7"/>
<rect x="539.1" y="323.2" width="1.8" height="1.8" fill="#9a9a9a" fill-opacity="0.7"/>
<rect x="556.0" y="303.4" width="1.5" height="1.5" fill="#b0b0b0" fill-opacity="0.7"/>
<rect x="577.1" y="276.6" width="2.4" height="2.4" fill="#8e8e8e" fill-opacity="0.7"/>
<rect x="521.3" y="339.0" width="2.0" height="2.0" fill="#8e8e8e" fill-opacity="0.7"/>
<rect x="567.7" y="283.4" width="1.6" height="1.6" fill="#b0b0b0" fill-opacity="0.7"/>
<rect x="554.3" y="302.4" width="2.0" height="2.0" fill="#8e8e8e" fill-opacity="0.7"/>
<rect x="568.0" y="283.9" width="2.0" height="2.0" fill="#8e8e8e" fill-opacity="0.7"/>
<rect x="560.7" y="300.5" width="1.9" height="1.9" fill="#a8a8a8" fill-opacity="0.7"/>
<rect x="547.8" y="306.5" width="1.6" height="1.6" fill="#8e8e8e" fill-opacity="0.7"/>
<rect x="566.1" y="292.7" width="1.5" height="1.5" fill="#8e8e8e" fill-opacity="0.7"/>
<rect x="549.7" y="309.3" width="1.9" height="1.9" fill="#8e8e8e" fill-opacity="0.7"/>
<rect x="520.7" y="346.8" width="1.9" height="1.9" fill="#8e8e8e" fill-opacity="0.7"/>
<rect x="533.1" y="326.5" width="2.1" height="2.1" fill="#8e8e8e" fill-opacity="0.7"/>
<rect x="536.4" y="323.7" width="2.1" height="2.1" fill="#9a9a9a" fill-opacity="0.7"/>
<rect x="518.1" y="348.0" width="2.2" height="2.2" fill="#9a9a9a" fill-opacity="0.7"/>
<rect x="545.3" y="310.3" width="2.0" height="2.0" fill="#9a9a9a" fill-opacity="0.7"/>
<rect x="514.0" y="348.6" width="1.7" height="1.7" fill="#b0b0b0" fill-opacity="0.7"/>
<rect x="567.0" y="289.3" width="2.1" height="2.1" fill="#b0b0b0" fill-opacity="0.7"/>
<rect x="571.3" y="282.5" width="2.3" height="2.3" fill="#b0b0b0" fill-opacity="0.7"/>
<rect x="568.8" y="283.3" width="2.1" height="2.1" fill="#b0b0b0" fill-opacity="0.7"/>
<rect x="553.4" y="301.3" width="2.1" height="2.1" fill="#b0b0b0" fill-opacity="0.7"/>
<rect x="578.0" y="274.8" width="2.0" height="2.0" fill="#9a9a9a" fill-opacity="0.7"/>
<rect x="522.9" y="343.4" width="1.5" height="1.5" fill="#b0b0b0" fill-opacity="0.7"/>
<rect x="577.7" y="272.7" width="1.5" height="1.5" fill="#9a9a9a" fill-opacity="0.7"/>
<rect x="529.0" y="328.4" width="1.8" height="1.8" fill="#b0b0b0" fill-opacity="0.7"/>
<rect x="526.2" y="334.9" width="1.6" height="1.6" fill="#a8a8a8" fill-opacity="0.7"/>
<rect x="520.7" y="346.0" width="2.0" height="2.0" fill="#b0b0b0" fill-opacity="0.7"/>
<rect x="573.2" y="281.7" width="1.8" height="1.8" fill="#b0b0b0" fill-opacity="0.7"/>
<rect x="550.3" y="311.0" width="1.6" height="1.6" fill="#8e8e8e" fill-opacity="0.7"/>
<rect x="574.3" y="279.1" width="1.7" height="1.7" fill="#a8a8a8" fill-opacity="0.7"/>
<rect x="533.6" y="327.5" width="1.8" height="1.8" fill="#b0b0b0" fill-opacity="0.7"/>
<rect x="529.9" y="333.1" width="1.6" height="1.6" fill="#9a9a9a" fill-opacity="0.7"/>
<rect x="524.8" y="341.8" width="1.9" height="1.9" fill="#8e8e8e" fill-opacity="0.7"/>
<rect x="526.0" y="341.3" width="1.8" height="1.8" fill="#a8a8a8" fill-opacity="0.7"/>
<rect x="574.6" y="274.5" width="2.3" height="2.3" fill="#b0b0b0" fill-opacity="0.7"/>
<rect x="569.2" y="285.4" width="1.8" height="1.8" fill="#a8a8a8" fill-opacity="0.7"/>
<rect x="537.8" y="325.9" width="2.2" height="2.2" fill="#8e8e8e" fill-opacity="0.7"/>
<rect x="557.8" y="295.7" width="2.3" height="2.3" fill="#9a9a9a" fill-opacity="0.7"/>
<rect x="553.5" y="300.0" width="1.5" height="1.5" fill="#a8a8a8" fill-opacity="0.7"/>
<rect x="529.2" y="332.2" width="2.1" height="2.1" fill="#8e8e8e" fill-opacity="0.7"/>
<rect x="513.4" y="347.0" width="1.9" height="1.9" fill="#9a9a9a" fill-opacity="0.7"/>
<rect x="528.9" y="331.1" width="2.3" height="2.3" fill="#b0b0b0" fill-opacity="0.7"/>
<rect x="527.9" y="335.8" width="1.7" height="1.7" fill="#b0b0b0" fill-opacity="0.7"/>
<rect x="573.9" y="281.4" width="1.8" height="1.8" fill="#9a9a9a" fill-opacity="0.7"/>
<rect x="559.9" y="294.3" width="2.1" height="2.1" fill="#8e8e8e" fill-opacity="0.7"/>
<rect x="547.1" y="313.7" width="1.5" height="1.5" fill="#9a9a9a" fill-opacity="0.7"/>
<rect x="552.7" y="302.7" width="2.1" height="2.1" fill="#a8a8a8" fill-opacity="0.7"/>
<rect x="546.6" y="310.7" width="2.1" height="2.1" fill="#a8a8a8" fill-opacity="0.7"/>
<rect x="567.1" y="289.3" width="2.2" height="2.2" fill="#8e8e8e" fill-opacity="0.7"/>
<rect x="517.8" y="349.6" width="1.9" height="1.9" fill="#9a9a9a" fill-opacity="0.7"/>
<rect x="518.7" y="345.6" width="2.1" height="2.1" fill="#a8a8a8" fill-opacity="0.7"/>
<rect x="571.3" y="278.9" width="1.5" height="1.5" fill="#a8a8a8" fill-opacity="0.7"/>
<rect x="556.5" y="297.0" width="1.9" height="1.9" fill="#9a9a9a" fill-opacity="0.7"/>
<rect x="573.3" y="281.6" width="2.1" height="2.1" fill="#b0b0b0" fill-opacity="0.7"/>
<rect x="531.3" y="332.6" width="2.4" height="2.4" fill="#a8a8a8" fill-opacity="0.7"/>
<rect x="555.8" y="300.5" width="1.5" height="1.5" fill="#8e8e8e" fill-opacity="0.7"/>
<rect x="547.5" y="307.5" width="2.3" height="2.3" fill="#8e8e8e" fill-opacity="0.7"/>
<rect x="561.7" y="291.8" width="2.0" height="2.0" fill="#a8a8a8" fill-opacity="0.7"/>
<rect x="540.5" y="324.5" width="1.6" height="1.6" fill="#9a9a9a" fill-opacity="0.7"/>
<rect x="546.6" y="308.4" width="2.4" height="2.4" fill="#a8a8a8" fill-opacity="0.7"/>
<rect x="534.6" y="324.2" width="2.3" height="2.3" fill="#9a9a9a" fill-opacity="0.7"/>
<rect x="519.4" y="340.0" width="2.2" height="2.2" fill="#9a9a9a" fill-opacity="0.7"/>
<rect x="571.4" y="278.1" width="2.2" height="2.2" fill="#9a9a9a" fill-opacity="0.7"/>
<rect x="562.8" y="290.6" width="2.2" height="2.2" fill="#b0b0b0" fill-opacity="0.7"/>
<rect x="553.7" y="303.9" width="1.8" height="1.8" fill="#9a9a9a" fill-opacity="0.7"/>
<rect x="522.3" y="343.5" width="1.5" height="1.5" fill="#9a9a9a" fill-opacity="0.7"/>
<rect x="578.0" y="275.3" width="1.5" height="1.5" fill="#b0b0b0" fill-opacity="0.7"/>
<rect x="528.8" y="340.9" width="1.6" height="1.6" fill="#a8a8a8" fill-opacity="0.7"/>
<rect x="565.3" y="293.3" width="1.9" height="1.9" fill="#b0b0b0" fill-opacity="0.7"/>
<rect x="569.5" y="288.5" width="2.3" height="2.3" fill="#b0b0b0" fill-opacity="0.7"/>
<rect x="556.1" y="301.2" width="1.9" height="1.9" fill="#b0b0b0" fill-opacity="0.7"/>
<rect x="556.0" y="301.4" width="1.9" height="1.9" fill="#9a9a9a" fill-opacity="0.7"/>
<rect x="533.9" y="333.3" width="1.8" height="1.8" fill="#b0b0b0" fill-opacity="0.7"/>
<rect x="533.5" y="332.2" width="2.0" height="2.0" fill="#8e8e8e" fill-opacity="0.7"/>
<rect x="565.4" y="289.6" width="2.1" height="2.1" fill="#9a9a9a" fill-opacity="0.7"/>
<rect x="554.5" y="297.9" width="2.2" height="2.2" fill="#b0b0b0" fill-opacity="0.7"/>
<rect x="543.6" y="317.9" width="2.3" height="2.3" fill="#8e8e8e" fill-opacity="0.7"/>
<rect x="546.9" y="309.5" width="1.6" height="1.6" fill="#a8a8a8" fill-opacity="0.7"/>
<rect x="543.7" y="318.6" width="1.9" height="1.9" fill="#8e8e8e" fill-opacity="0.7"/>
<rect x="559.7" y="294.5" width="2.0" height="2.0" fill="#b0b0b0" fill-opacity="0.7"/>
<rect x="546.6" y="313.3" width="1.6" height="1.6" fill="#a8a8a8" fill-opacity="0.7"/>
<rect x="566.6" y="286.7" width="2.1" height="2.1" fill="#a8a8a8" fill-opacity="0.7"/>
<rect x="536.7" y="324.6" width="2.2" height="2.2" fill="#b0b0b0" fill-opacity="0.7"/>
<rect x="539.3" y="323.8" width="2.1" height="2.1" fill="#9a9a9a" fill-opacity="0.7"/>
<rect x="522.3" y="347.5" width="2.2" height="2.2" fill="#a8a8a8" fill-opacity="0.7"/>
<rect x="550.2" y="310.7" width="1.8" height="1.8" fill="#b0b0b0" fill-opacity="0.7"/>
<rect x="544.3" y="317.5" width="2.3" height="2.3" fill="#8e8e8e" fill-opacity="0.7"/>
<rect x="545.1" y="318.7" width="2.0" height="2.0" fill="#8e8e8e" fill-opacity="0.7"/>
<rect x="535.2" y="328.8" width="1.6" height="1.6" fill="#a8a8a8" fill-opacity="0.7"/>
<rect x="519.5" y="340.4" width="2.1" height="2.1" fill="#b0b0b0" fill-opacity="0.7"/>
<rect x="543.8" y="313.9" width="1.8" height="1.8" fill="#8e8e8e" fill-opacity="0.7"/>
<rect x="529.4" y="332.1" width="2.0" height="2.0" fill="#a8a8a8" fill-opacity="0.7"/>
<rect x="545.9" y="313.4" width="1.6" height="1.6" fill="#b0b0b0" fill-opacity="0.7"/>
<rect x="525.2" y="335.9" width="1.7" height="1.7" fill="#b0b0b0" fill-opacity="0.7"/>
<rect x="559.3" y="297.9" width="1.9" height="1.9" fill="#9a9a9a" fill-opacity="0.7"/>
<rect x="513.5" y="347.4" width="1.8" height="1.8" fill="#8e8e8e" fill-opacity="0.7"/>
<rect x="559.0" y="300.9" width="2.2" height="2.2" fill="#9a9a9a" fill-opacity="0.7"/>
<rect x="539.4" y="316.3" width="1.8" height="1.8" fill="#a8a8a8" fill-opacity="0.7"/>
<rect x="545.5" y="311.2" width="2.0" height="2.0" fill="#b0b0b0" fill-opacity="0.7"/>
<rect x="518.5" y="349.4" width="1.6" height="1.6" fill="#9a9a9a" fill-opacity="0.7"/>
<rect x="552.0" y="311.9" width="2.1" height="2.1" fill="#8e8e8e" fill-opacity="0.7"/>
<rect x="518.8" y="346.3" width="2.2" height="2.2" fill="#a8a8a8" fill-opacity="0.7"/>
<rect x="574.3" y="276.5" width="2.2" height="2.2" fill="#9a9a9a" fill-opacity="0.7"/>
<rect x="536.4" y="324.9" width="2.0" height="2.0" fill="#9a9a9a" fill-opacity="0.7"/>
<rect x="532.7" y="330.4" width="2.4" height="2.4" fill="#b0b0b0" fill-opacity="0.7"/>
<rect x="545.3" y="313.7" width="2.3" height="2.3" fill="#a8a8a8" fill-opacity="0.7"/>
<rect x="522.6" y="340.6" width="1.8" height="1.8" fill="#9a9a9a" fill-opacity="0.7"/>
<rect x="516.1" y="346.5" width="2.3" height="2.3" fill="#9a9a9a" fill-opacity="0.7"/>
<rect x="522.6" y="344.2" width="1.6" height="1.6" fill="#8e8e8e" fill-opacity="0.7"/>
<rect x="556.9" y="301.1" width="1.5" height="1.5" fill="#a8a8a8" fill-opacity="0.7"/>
<rect x="542.7" y="315.4" width="2.1" height="2.1" fill="#9a9a9a" fill-opacity="0.7"/>
<rect x="529.2" y="329.3" width="2.2" height="2.2" fill="#b0b0b0" fill-opacity="0.7"/>
<rect x="573.0" y="275.9" width="1.6" height="1.6" fill="#a8a8a8" fill-opacity="0.7"/>
<rect x="544.5" y="311.8" width="1.7" height="1.7" fill="#b0b0b0" fill-opacity="0.7"/>
<circle cx="536.60" cy="287.40" r="1.5" fill="#0d3d8c"/>
<circle cx="553.50" cy="284.50" r="1.5" fill="#0d3d8c"/>
<circle cx="553.50" cy="289.80" r="1.4" fill="#0d3d8c"/>
<circle cx="556.40" cy="291.40" r="1.5" fill="#0d3d8c"/>
<circle cx="549.50" cy="294.80" r="1.1" fill="#0d3d8c"/>
<circle cx="552.50" cy="297.30" r="1.5" fill="#0d3d8c"/>
<circle cx="540.60" cy="298.70" r="1.5" fill="#0d3d8c"/>
<circle cx="551.50" cy="302.70" r="1.5" fill="#0d3d8c"/>
<circle cx="547.50" cy="305.60" r="1.5" fill="#0d3d8c"/>
<circle cx="544.60" cy="307.20" r="1.4" fill="#0d3d8c"/>
<circle cx="538.60" cy="307.20" r="1.5" fill="#0d3d8c"/>
<circle cx="559.40" cy="301.70" r="1.4" fill="#0d3d8c"/>
<circle cx="559.40" cy="312.60" r="2.0" fill="#0d3d8c"/>
<circle cx="555.40" cy="313.20" r="1.5" fill="#0d3d8c"/>
<circle cx="551.50" cy="314.00" r="1.5" fill="#0d3d8c"/>
<circle cx="563.40" cy="315.10" r="1.5" fill="#0d3d8c"/>
<circle cx="540.60" cy="316.00" r="1.4" fill="#0d3d8c"/>
<circle cx="546.50" cy="319.10" r="1.5" fill="#0d3d8c"/>
<circle cx="541.60" cy="320.50" r="1.5" fill="#0d3d8c"/>
<circle cx="531.30" cy="324.50" r="2.0" fill="#0d3d8c"/>
<circle cx="562.40" cy="319.90" r="2.3" fill="#0d3d8c"/>
<circle cx="573.30" cy="315.10" r="1.8" fill="#0d3d8c"/>
<circle cx="574.30" cy="318.50" r="2.0" fill="#0d3d8c"/>
<circle cx="575.20" cy="321.90" r="2.3" fill="#0d3d8c"/>
<circle cx="565.30" cy="326.40" r="1.8" fill="#0d3d8c"/>
<circle cx="533.70" cy="331.40" r="1.6" fill="#0d3d8c"/>
<circle cx="549.50" cy="334.40" r="2.0" fill="#0d3d8c"/>
<circle cx="554.50" cy="333.40" r="1.6" fill="#0d3d8c"/>
<circle cx="560.40" cy="333.40" r="1.8" fill="#0d3d8c"/>
<circle cx="542.60" cy="340.30" r="1.6" fill="#0d3d8c"/>
<circle cx="547.50" cy="341.30" r="1.6" fill="#0d3d8c"/>
<circle cx="538.60" cy="345.20" r="1.6" fill="#0d3d8c"/>
<circle cx="576.20" cy="337.30" r="2.3" fill="#0d3d8c"/>
<circle cx="531.30" cy="353.20" r="1.6" fill="#0d3d8c"/>
<circle cx="592.10" cy="302.70" r="1.0" fill="#0d3d8c"/>
<circle cx="539.40" cy="298.50" r="1.4" fill="#0d3d8c"/>
<circle cx="538.40" cy="307.40" r="1.4" fill="#0d3d8c"/>
<circle cx="531.10" cy="324.90" r="2.0" fill="#0d3d8c"/>
<circle cx="534.10" cy="331.20" r="1.5" fill="#0d3d8c"/>
<circle cx="565.30" cy="277.90" r="1.5" fill="#e9a81c"/>
<circle cx="566.30" cy="285.80" r="1.5" fill="#e9a81c"/>
<circle cx="561.80" cy="288.80" r="1.5" fill="#e9a81c"/>
<circle cx="565.30" cy="292.20" r="1.6" fill="#e9a81c"/>
<circle cx="568.30" cy="289.80" r="1.5" fill="#e9a81c"/>
<circle cx="571.30" cy="287.40" r="1.6" fill="#e9a81c"/>
<circle cx="573.30" cy="289.80" r="1.6" fill="#e9a81c"/>
<circle cx="575.20" cy="297.30" r="1.8" fill="#e9a81c"/>
<circle cx="580.20" cy="297.70" r="1.8" fill="#e9a81c"/>
<circle cx="563.40" cy="299.30" r="1.6" fill="#e9a81c"/>
<circle cx="562.40" cy="304.70" r="1.8" fill="#e9a81c"/>
<circle cx="568.30" cy="305.60" r="1.8" fill="#e9a81c"/>
<circle cx="572.30" cy="303.30" r="1.6" fill="#e9a81c"/>
<circle cx="576.20" cy="305.60" r="1.8" fill="#e9a81c"/>
<circle cx="581.20" cy="305.60" r="2.0" fill="#e9a81c"/>
<circle cx="580.20" cy="301.30" r="1.6" fill="#e9a81c"/>
<circle cx="587.10" cy="305.20" r="2.0" fill="#e9a81c"/>
<circle cx="565.30" cy="309.60" r="1.8" fill="#e9a81c"/>
<circle cx="569.30" cy="310.60" r="1.8" fill="#e9a81c"/>
<circle cx="571.30" cy="313.20" r="1.8" fill="#e9a81c"/>
<circle cx="575.20" cy="309.60" r="1.8" fill="#e9a81c"/>
<circle cx="561.40" cy="315.10" r="1.6" fill="#e9a81c"/>
<circle cx="585.20" cy="302.00" r="1.8" fill="#e9a81c"/>
<circle cx="583.00" cy="293.00" r="1.6" fill="#e9a81c"/>
<circle cx="575.20" cy="280.90" r="1.8" fill="#c80d12"/>
<circle cx="578.20" cy="281.90" r="1.8" fill="#c80d12"/>
<circle cx="581.20" cy="279.90" r="1.8" fill="#c80d12"/>
<circle cx="578.20" cy="292.80" r="2.0" fill="#c80d12"/>
<circle cx="581.20" cy="294.80" r="2.0" fill="#c80d12"/>
<circle cx="584.20" cy="293.80" r="2.0" fill="#c80d12"/>
<circle cx="587.10" cy="289.80" r="2.0" fill="#c80d12"/>
<circle cx="591.10" cy="291.80" r="2.0" fill="#c80d12"/>
<circle cx="572.30" cy="301.30" r="1.6" fill="#c80d12"/>
<circle cx="570.30" cy="282.90" r="1.6" fill="#c80d12"/>
<circle cx="575.00" cy="278.00" r="1.6" fill="#c80d12"/>
<circle cx="590.00" cy="285.00" r="1.8" fill="#c80d12"/>
<circle cx="560.80" cy="288.20" r="1.3" fill="#c80d12"/>
<circle cx="585.10" cy="275.90" r="1.8" fill="#1d9e9e"/>
<circle cx="588.10" cy="283.90" r="1.8" fill="#1d9e9e"/>
<circle cx="592.10" cy="282.90" r="1.8" fill="#1d9e9e"/>
<circle cx="595.00" cy="278.90" r="1.8" fill="#1d9e9e"/>
<circle cx="581.20" cy="289.80" r="1.6" fill="#1d9e9e"/>
<circle cx="584.00" cy="279.00" r="1.8" fill="#1d9e9e"/>
<circle cx="590.00" cy="276.00" r="1.8" fill="#1d9e9e"/>
<circle cx="589.00" cy="280.00" r="1.8" fill="#1d9e9e"/>
<circle cx="594.00" cy="274.00" r="1.7" fill="#1d9e9e"/>
<circle cx="586.00" cy="271.00" r="1.6" fill="#1d9e9e"/>
<circle cx="597.00" cy="271.50" r="1.6" fill="#1d9e9e"/>
<circle cx="585.49" cy="283.61" r="2.11" fill="#9f9f1a"/>
<circle cx="581.29" cy="285.39" r="2.03" fill="#1d9e9e"/>
<circle cx="591.09" cy="280.78" r="2.27" fill="#1d9e9e"/>
<circle cx="591.92" cy="275.52" r="1.77" fill="#1d9e9e"/>
<circle cx="590.17" cy="280.30" r="2.11" fill="#9f9f1a"/>
<circle cx="595.48" cy="273.57" r="2.1" fill="#1d9e9e"/>
<circle cx="589.18" cy="278.91" r="2.25" fill="#1d9e9e"/>
<circle cx="585.13" cy="284.30" r="2.23" fill="#1d9e9e"/>
<circle cx="594.70" cy="276.79" r="1.78" fill="#c80d12"/>
<circle cx="582.88" cy="281.16" r="1.7" fill="#c80d12"/>
<circle cx="592.34" cy="282.58" r="1.7" fill="#1d9e9e"/>
<circle cx="580.70" cy="288.54" r="2.04" fill="#1d9e9e"/>
<circle cx="587.84" cy="282.33" r="2.08" fill="#1d9e9e"/>
<circle cx="579.90" cy="287.74" r="2.13" fill="#c80d12"/>
<circle cx="580.08" cy="293.25" r="1.79" fill="#9f9f1a"/>
<circle cx="592.90" cy="285.41" r="2.22" fill="#1d9e9e"/>
<circle cx="586.92" cy="282.70" r="1.73" fill="#c80d12"/>
<circle cx="583.53" cy="281.06" r="2.11" fill="#9f9f1a"/>
<circle cx="596.28" cy="279.55" r="1.97" fill="#1d9e9e"/>
<circle cx="589.02" cy="283.27" r="1.93" fill="#1d9e9e"/>
<circle cx="589.77" cy="280.28" r="1.97" fill="#1d9e9e"/>
<circle cx="587.65" cy="286.74" r="2.01" fill="#1d9e9e"/>
<circle cx="578.32" cy="291.38" r="2.0" fill="#c80d12"/>
<circle cx="589.98" cy="282.90" r="2.09" fill="#c80d12"/>
<circle cx="581.55" cy="285.37" r="2.04" fill="#9f9f1a"/>
<circle cx="580.95" cy="291.64" r="1.72" fill="#1d9e9e"/>
<circle cx="593.90" cy="273.08" r="2.29" fill="#1d9e9e"/>
<circle cx="589.41" cy="280.36" r="2.17" fill="#1d9e9e"/>
<circle cx="588.75" cy="285.72" r="1.78" fill="#1d9e9e"/>
<circle cx="588.59" cy="281.85" r="1.88" fill="#c80d12"/>
<circle cx="580.39" cy="288.81" r="2.16" fill="#c80d12"/>
<circle cx="586.56" cy="282.84" r="1.86" fill="#1d9e9e"/>
<circle cx="586.49" cy="278.93" r="1.87" fill="#1d9e9e"/>
<circle cx="583.24" cy="283.35" r="2.17" fill="#1d9e9e"/>
<circle cx="584.73" cy="286.57" r="2.05" fill="#c80d12"/>
<circle cx="590.48" cy="282.91" r="2.27" fill="#c80d12"/>
<circle cx="588.08" cy="281.21" r="2.23" fill="#c80d12"/>
<circle cx="584.43" cy="280.82" r="1.74" fill="#9f9f1a"/>
<circle cx="586.88" cy="279.14" r="1.83" fill="#1d9e9e"/>
<circle cx="584.38" cy="289.57" r="1.99" fill="#1d9e9e"/>
<circle cx="598.04" cy="272.76" r="1.82" fill="#9f9f1a"/>
<circle cx="599.07" cy="273.13" r="2.04" fill="#9f9f1a"/>
<circle cx="596.50" cy="272.00" r="1.96" fill="#9f9f1a"/>
<circle cx="595.55" cy="271.13" r="1.64" fill="#9f9f1a"/>
<circle cx="591.25" cy="274.35" r="1.64" fill="#9f9f1a"/>
<circle cx="591.97" cy="274.17" r="1.62" fill="#9f9f1a"/>
<circle cx="596.61" cy="273.31" r="1.61" fill="#9f9f1a"/>
<circle cx="596.54" cy="268.36" r="2.19" fill="#9f9f1a"/>
<circle cx="599.27" cy="271.75" r="1.74" fill="#9f9f1a"/>
<circle cx="598.13" cy="272.18" r="1.67" fill="#9f9f1a"/>
<circle cx="594.49" cy="273.93" r="1.82" fill="#9f9f1a"/>
<circle cx="595.86" cy="271.87" r="1.82" fill="#9f9f1a"/>
<circle cx="596.43" cy="273.19" r="1.91" fill="#9f9f1a"/>
<circle cx="589.08" cy="275.98" r="1.61" fill="#9f9f1a"/>
<circle cx="591.17" cy="274.95" r="1.75" fill="#9f9f1a"/>
<circle cx="597.79" cy="270.33" r="1.64" fill="#9f9f1a"/>
<circle cx="592.03" cy="276.57" r="2.19" fill="#9f9f1a"/>
<circle cx="600.31" cy="269.54" r="2.13" fill="#9f9f1a"/>
<circle cx="599.77" cy="270.36" r="1.79" fill="#9f9f1a"/>
<circle cx="591.27" cy="273.60" r="1.81" fill="#9f9f1a"/>
<circle cx="597.65" cy="271.50" r="1.77" fill="#9f9f1a"/>
<circle cx="593.32" cy="272.15" r="1.86" fill="#9f9f1a"/>
<circle cx="590.92" cy="275.55" r="1.7" fill="#9f9f1a"/>
<circle cx="596.21" cy="274.64" r="2.0" fill="#9f9f1a"/>
<circle cx="591.60" cy="272.00" r="1.5" fill="#c2187f"/>
<circle cx="590.50" cy="270.00" r="1.5" fill="#8a63f2"/>
<circle cx="593.00" cy="274.00" r="1.5" fill="#e35c1c"/>
<circle cx="589.00" cy="268.00" r="1.5" fill="#72b041"/>
<circle cx="595.00" cy="275.00" r="1.5" fill="#e35c1c"/>
<circle cx="588.50" cy="266.50" r="1.5" fill="#9f9f1a"/>
<circle cx="592.00" cy="268.00" r="1.5" fill="#14c0e8"/>
<circle cx="596.00" cy="273.50" r="1.5" fill="#c2187f"/>
<ellipse cx="600" cy="262.5" rx="7.4" ry="4.6" transform="rotate(-62 600 262.5)" fill="#1a5cf0"/>
<circle cx="601.82" cy="265.99" r="1.5" fill="#1a5cf0"/>
<circle cx="598.86" cy="265.60" r="1.5" fill="#1a5cf0"/>
<circle cx="597.34" cy="260.06" r="1.5" fill="#1a5cf0"/>
<circle cx="602.42" cy="259.96" r="1.5" fill="#1a5cf0"/>
<circle cx="600.60" cy="266.40" r="1.5" fill="#1a5cf0"/>
<circle cx="599.80" cy="263.47" r="1.5" fill="#1a5cf0"/>
<circle cx="597.87" cy="261.98" r="1.5" fill="#1a5cf0"/>
<circle cx="601.19" cy="261.16" r="1.5" fill="#1a5cf0"/>
<circle cx="601.20" cy="260.09" r="1.5" fill="#1a5cf0"/>
<circle cx="602.58" cy="265.59" r="1.5" fill="#1a5cf0"/>
<circle cx="599.47" cy="266.38" r="1.5" fill="#1a5cf0"/>
<circle cx="600.27" cy="263.18" r="1.5" fill="#1a5cf0"/>
<circle cx="600.52" cy="262.61" r="1.5" fill="#1a5cf0"/>
<circle cx="600.71" cy="264.35" r="1.5" fill="#1a5cf0"/>
<circle cx="603.07" cy="265.96" r="1.5" fill="#1a5cf0"/>
<circle cx="602.89" cy="262.88" r="1.5" fill="#1a5cf0"/>
<circle cx="596.68" cy="266.58" r="1.5" fill="#1a5cf0"/>
<circle cx="598.92" cy="262.94" r="1.5" fill="#1a5cf0"/>
<circle cx="599.31" cy="260.54" r="1.5" fill="#1a5cf0"/>
<circle cx="599.78" cy="265.44" r="1.5" fill="#1a5cf0"/>
<ellipse cx="598.6" cy="263.8" rx="12.4" ry="7.2" transform="rotate(-57 598.6 263.8)" fill="none" stroke="#333" stroke-width="0.7"/>
<circle cx="607.90" cy="254.80" r="2.5" fill="#ee1111"/>
<text x="545.6" y="259.9" font-size="10.5" text-anchor="start" font-weight="bold" font-style="normal" fill="#231f20" textLength="42.3" lengthAdjust="spacingAndGlyphs">9-15 mm</text>
<line x1="543.70" y1="439.20" x2="575.60" y2="411.00" stroke="#222" stroke-width="0.8"/>
<polyline points="570.6,411.4 576.1,410.5 575.4,415.6" fill="none" stroke="#222" stroke-width="0.8"/>
<text x="565.0" y="436.5" font-size="10.5" text-anchor="middle" font-weight="bold" font-style="normal" fill="#231f20" transform="rotate(-41.5 565.0 436.5)">3-8 mm</text>
<text x="636.3" y="271.4" font-size="11.5" text-anchor="start" font-weight="normal" font-style="normal" fill="#231f20" stroke="#231f20" stroke-width="0.22" textLength="35.6" lengthAdjust="spacingAndGlyphs">TAMOC</text>
<text x="634.8" y="284.6" font-size="11.5" text-anchor="start" font-weight="normal" font-style="italic" fill="#231f20" stroke="#231f20" stroke-width="0.22">d</text>
<text x="641.2" y="287.5" font-size="7" text-anchor="start" font-weight="normal" font-style="italic" fill="#231f20" stroke="#231f20" stroke-width="0.22">e</text>
<text x="646" y="284.6" font-size="11.5" text-anchor="start" font-weight="normal" font-style="normal" fill="#231f20" stroke="#231f20" stroke-width="0.22" textLength="25.2" lengthAdjust="spacingAndGlyphs">(mm)</text>
<text x="638" y="300.90000000000003" font-size="11.5" text-anchor="end" font-weight="normal" font-style="normal" fill="#231f20" stroke="#231f20" stroke-width="0.22">3</text>
<circle cx="644.60" cy="296.80" r="2.2" fill="#f26b6b"/>
<text x="638" y="312.90000000000003" font-size="11.5" text-anchor="end" font-weight="normal" font-style="normal" fill="#231f20" stroke="#231f20" stroke-width="0.22">4</text>
<circle cx="644.60" cy="308.80" r="2.2" fill="#0d3d8c"/>
<text x="638" y="324.90000000000003" font-size="11.5" text-anchor="end" font-weight="normal" font-style="normal" fill="#231f20" stroke="#231f20" stroke-width="0.22">5</text>
<circle cx="644.60" cy="320.80" r="2.2" fill="#e9a81c"/>
<text x="638" y="336.90000000000003" font-size="11.5" text-anchor="end" font-weight="normal" font-style="normal" fill="#231f20" stroke="#231f20" stroke-width="0.22">6</text>
<circle cx="644.60" cy="332.80" r="2.2" fill="#c80d12"/>
<text x="638" y="348.90000000000003" font-size="11.5" text-anchor="end" font-weight="normal" font-style="normal" fill="#231f20" stroke="#231f20" stroke-width="0.22">7</text>
<circle cx="644.60" cy="344.80" r="2.2" fill="#1d9e9e"/>
<text x="638" y="360.90000000000003" font-size="11.5" text-anchor="end" font-weight="normal" font-style="normal" fill="#231f20" stroke="#231f20" stroke-width="0.22">8</text>
<circle cx="644.60" cy="356.80" r="2.2" fill="#9f9f1a"/>
<text x="638" y="372.90000000000003" font-size="11.5" text-anchor="end" font-weight="normal" font-style="normal" fill="#231f20" stroke="#231f20" stroke-width="0.22">9</text>
<circle cx="644.60" cy="368.80" r="2.2" fill="#c2187f"/>
<text x="667" y="312.90000000000003" font-size="11.5" text-anchor="end" font-weight="normal" font-style="normal" fill="#231f20" stroke="#231f20" stroke-width="0.22">10</text>
<circle cx="672.90" cy="308.80" r="2.2" fill="#8a63f2"/>
<text x="667" y="324.90000000000003" font-size="11.5" text-anchor="end" font-weight="normal" font-style="normal" fill="#231f20" stroke="#231f20" stroke-width="0.22">11</text>
<circle cx="672.90" cy="320.80" r="2.2" fill="#72b041"/>
<text x="667" y="336.90000000000003" font-size="11.5" text-anchor="end" font-weight="normal" font-style="normal" fill="#231f20" stroke="#231f20" stroke-width="0.22">12</text>
<circle cx="672.90" cy="332.80" r="2.2" fill="#14c0e8"/>
<text x="667" y="348.90000000000003" font-size="11.5" text-anchor="end" font-weight="normal" font-style="normal" fill="#231f20" stroke="#231f20" stroke-width="0.22">13</text>
<circle cx="672.90" cy="344.80" r="2.2" fill="#e35c1c"/>
<text x="667" y="360.90000000000003" font-size="11.5" text-anchor="end" font-weight="normal" font-style="normal" fill="#231f20" stroke="#231f20" stroke-width="0.22">14</text>
<circle cx="672.90" cy="356.80" r="2.2" fill="#b08a8a"/>
<text x="667" y="372.90000000000003" font-size="11.5" text-anchor="end" font-weight="normal" font-style="normal" fill="#231f20" stroke="#231f20" stroke-width="0.22">15</text>
<circle cx="672.90" cy="368.80" r="2.2" fill="#1a5cf0"/>
<text x="630.5" y="394.5" font-size="11.5" text-anchor="start" font-weight="normal" font-style="normal" fill="#231f20" stroke="#231f20" stroke-width="0.22" textLength="47.2" lengthAdjust="spacingAndGlyphs">Day 1 ··· 6</text>
<circle cx="653.80" cy="399.30" r="0.7" fill="#000"/>
<circle cx="674.90" cy="399.30" r="2.5" fill="#000"/>
<text x="630.5" y="435.9" font-size="11.5" text-anchor="start" font-weight="normal" font-style="normal" fill="#231f20" stroke="#231f20" stroke-width="0.22" textLength="13.9" lengthAdjust="spacingAndGlyphs">MP</text>
<text x="630.5" y="448.9" font-size="11.5" text-anchor="start" font-weight="normal" font-style="normal" fill="#231f20" stroke="#231f20" stroke-width="0.22" textLength="17.8" lengthAdjust="spacingAndGlyphs">SAR</text>
<circle cx="674.90" cy="432.60" r="2.5" fill="#ee1111"/>
<rect x="673.10" y="443.20" width="3.60" height="3.60" fill="#777"/>
</svg></body></html>
